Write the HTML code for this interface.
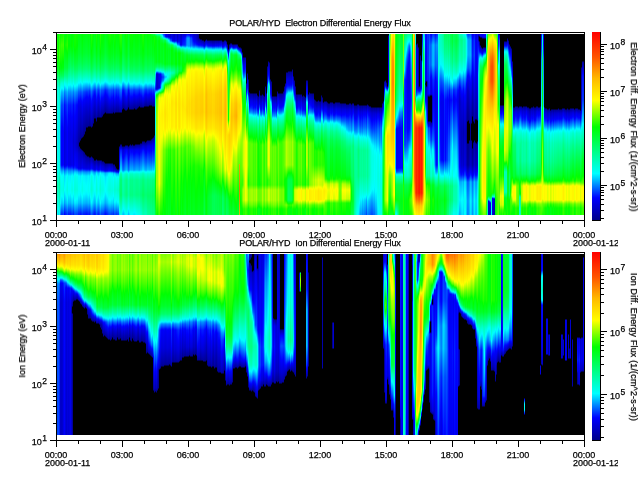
<!DOCTYPE html><html><head><meta charset="utf-8"><title>POLAR/HYD</title><style>
html,body{margin:0;padding:0;background:#fff}
body{width:640px;height:480px;position:relative;overflow:hidden;font-family:"Liberation Sans",sans-serif;font-size:9px;color:#000}
b{position:absolute;background:#000;display:block}
.sp{position:absolute;overflow:hidden}
.sp i{position:absolute;top:0;height:100%;display:block}
.t{position:absolute;white-space:nowrap;line-height:12px;font-size:9px;will-change:transform;-webkit-text-stroke:.25px #000}
.t sup{font-size:8.5px;line-height:0;vertical-align:4.5px;margin-left:.5px}
.c{width:58px;text-align:center}
.r{width:30px;text-align:right}
.v{transform-origin:50% 50%}
.cb{position:absolute;width:8px;height:188px;background:linear-gradient(to top,#000089 0,#00f 11.76%,#0ff 24.7%,#0f0 49.4%,#ff0 63.5%,#ffb900 75.3%,#ff5400 86.7%,#f00 100%)}
.ti{position:absolute;left:120px;width:400px;text-align:center;white-space:pre;line-height:12px;letter-spacing:-.1px;will-change:transform;-webkit-text-stroke:.25px #000}
</style></head><body><div class="sp" style="left:57px;top:34px;width:527px;height:181px"><i style="left:0px;width:1px;background:linear-gradient(#0cff00 0,#30ff00 21px,#0f0 29px,#00ff18 36px,#00ff9c 48px,#00ffd2 54px,#00fff0 101px,#00ffe2 137px,#00ffa9 151px,#00ffd3 169px,#00fffb 180px)"></i><i style="left:1px;width:1px;background:linear-gradient(#00ff10 0,#05ff00 19px,#09ff00 21px,#00ff09 25px,#00ff2f 36px,#00ffb2 48px,#00ffe9 54px,#00faff 88px,#00f0ff 99px,#00fff9 137px,#00ffbf 151px,#00ffe9 169px,#00feff 175px,#00dbff 180px)"></i><i style="left:2px;width:1px;background:linear-gradient(#2f0 0,#46ff00 21px,#00ff01 33px,#00ff0c 36px,#00ff8f 48px,#00ffc5 54px,#00ffe3 101px,#00ffd6 137px,#00ff9c 151px,#00ffc6 169px,#00ffef 180px)"></i><i style="left:3px;width:1px;background:linear-gradient(#04ff00 0,#2bff00 12px,#1cff00 22px,#00ff03 30px,#00ff15 35px,#00ff6c 43px,#00ffcd 50px,#00fffd 56px,#00ceff 63px,#009bff 72px,#0061ff 98px,#0067ff 131px,#00e5ff 138px,#00fffd 140px,#00ffeb 143px,#00ffd6 153px,#00ffe0 159px,#00faff 169px,#007cff 180px)"></i><i style="left:4px;width:1px;background:linear-gradient(#0bff00 0,#3fff00 11px,#00ff03 31px,#00ff09 34px,#00ff5a 42px,#00ffd3 49px,#00fcff 54px,#00b7ff 58px,#0040ff 71px,#0000fd 93px,#0000f8 131px,#000fff 132px,#00a4ff 137px,#00f3ff 141px,#00fffb 142px,#00ffe6 156px,#00fffe 162px,#0cf 169px,#002eff 180px)"></i><i style="left:5px;width:1px;background:linear-gradient(#0cff00 0,#3cff00 11px,#00ff03 28px,#0f1 34px,#00ff61 42px,#00ffd4 49px,#00fcff 54px,#00b7ff 58px,#0041ff 71px,#0000fd 93px,#0000f8 131px,#0010ff 132px,#00a7ff 137px,#00f5ff 141px,#00fff8 143px,#00ffe5 156px,#00fbff 163px,#00ceff 169px,#0030ff 180px)"></i><i style="left:6px;width:1px;background:linear-gradient(#1bff00 0,#47ff00 11px,#00ff01 28px,#00ff12 34px,#00ff5f 42px,#0fc 49px,#00faff 55px,#00c7ff 58px,#0051ff 71px,#0002ff 97px,#0002ff 131px,#00b9ff 137px,#00f4ff 140px,#00fffa 141px,#00ffef 143px,#00ffdb 156px,#0ff 165px,#00e0ff 169px,#0043ff 180px)"></i><i style="left:7px;width:1px;background:linear-gradient(#00ff15 0,#00ff01 12px,#00ff3e 34px,#00ff89 42px,#00fff1 49px,#00f8ff 51px,#0082ff 58px,#000cff 71px,#0000fb 77px,#00d 99px,#00d 131px,#0000fc 133px,#0076ff 137px,#00d8ff 142px,#0ff 156px,#009dff 169px,#00f 180px)"></i><i style="left:8px;width:1px;background:linear-gradient(#00ff0b 0,#05ff00 7px,#12ff00 11px,#00ff02 15px,#00ff3c 34px,#00ff85 42px,#00fff0 50px,#00faff 52px,#0096ff 58px,#0020ff 71px,#0000fc 83px,#0000e7 100px,#0000e7 131px,#0000f7 132px,#000fff 133px,#008cff 137px,#0ef 142px,#00fffc 150px,#00fff7 157px,#00f8ff 160px,#00b3ff 169px,#0016ff 180px)"></i><i style="left:9px;width:1px;background:linear-gradient(#00ff02 0,#1dff00 11px,#00ff03 17px,#00ff3d 34px,#00ff83 42px,#00ffe9 50px,#00f8ff 53px,#00a6ff 58px,#0030ff 71px,#0000fe 87px,#0000ef 100px,#0000ef 131px,#00f 132px,#009eff 137px,#00fffe 142px,#00ffea 156px,#00faff 162px,#00c5ff 169px,#0027ff 180px)"></i><i style="left:10px;width:1px;background:linear-gradient(#10ff00 0,#2dff00 11px,#00ff03 19px,#00ff3a 34px,#00ff8b 43px,#00ffde 50px,#00fdff 54px,#00bcff 58px,#0046ff 71px,#0000fe 94px,#0000fa 131px,#0036ff 133px,#00b6ff 137px,#00fffc 141px,#00fff0 143px,#0fd 156px,#00fbff 165px,#0df 169px,#003fff 180px)"></i><i style="left:11px;width:1px;background:linear-gradient(#00ff0d 0,#00ff03 12px,#00ff59 34px,#00ffa7 43px,#00fff5 50px,#00fffe 51px,#0091ff 58px,#001bff 71px,#0000fc 81px,#0000e4 99px,#0000e4 131px,#0000f5 132px,#000cff 133px,#008dff 137px,#00efff 142px,#00fffb 150px,#00fff7 157px,#00f8ff 160px,#00b4ff 169px,#0016ff 180px)"></i><i style="left:12px;width:1px;background:linear-gradient(#00ff0c 0,#00ff03 12px,#00ff60 34px,#00ffab 43px,#00fffc 51px,#0094ff 58px,#001eff 71px,#0000fd 82px,#0000e6 100px,#0000e6 131px,#0000f7 132px,#0010ff 133px,#0092ff 137px,#00f5ff 142px,#00fffa 149px,#00fff4 157px,#00feff 160px,#00baff 169px,#001cff 180px)"></i><i style="left:13px;width:1px;background:linear-gradient(#00ff10 0,#00ff0a 12px,#00ff68 33px,#00ffab 42px,#00fff9 50px,#00faff 51px,#008cff 58px,#0016ff 71px,#0000fc 80px,#0000e2 99px,#0000e2 131px,#0008ff 133px,#008cff 137px,#0ef 142px,#00fffc 150px,#00fff7 157px,#0ff 159px,#00b3ff 169px,#0016ff 180px)"></i><i style="left:14px;width:1px;background:linear-gradient(#00ff05 0,#00ff01 12px,#00ff52 31px,#00ff8f 40px,#00fff9 51px,#00faff 52px,#009aff 58px,#02f 71px,#0000fd 83px,#0000e6 101px,#0000ec 131px,#0000fb 132px,#03f 134px,#009bff 137px,#00fffc 142px,#00ffe8 156px,#00feff 162px,#00c9ff 169px,#002bff 180px)"></i><i style="left:15px;width:1px;background:linear-gradient(#0f0 0,#07ff00 11px,#00ff0e 16px,#00ff4d 31px,#00ff84 39px,#00feff 52px,#009cff 58px,#0021ff 71px,#0000fc 83px,#0000e0 106px,#0000e8 117px,#0000f0 131px,#0000fd 132px,#002fff 134px,#009eff 137px,#00f8ff 141px,#00fff5 144px,#00ffe3 156px,#0ff 163px,#00d2ff 169px,#0034ff 180px)"></i><i style="left:16px;width:1px;background:linear-gradient(#00ff0d 0,#00ff0f 12px,#00ff50 29px,#00ff7a 36px,#00ffb8 43px,#0ff 50px,#007bff 58px,#0000fe 71px,#0000ca 107px,#0000d2 115px,#0000e2 131px,#0000f9 133px,#000aff 134px,#007fff 137px,#00b3ff 139px,#00f4ff 142px,#00fffb 149px,#00fff4 157px,#00fdff 160px,#00b9ff 169px,#001bff 180px)"></i><i style="left:17px;width:1px;background:linear-gradient(#12ff00 0,#09ff00 12px,#00ff06 16px,#00ff3e 30px,#00ff63 36px,#00ffa2 43px,#00fffc 52px,#00a0ff 58px,#0020ff 71px,#0000fc 83px,#0000d8 109px,#0000df 114px,#0000f0 122px,#0000f8 131px,#0005ff 132px,#002aff 134px,#00c7ff 138px,#00f4ff 140px,#00fff9 141px,#0fe 142px,#00ffd9 156px,#00fcff 166px,#00e5ff 169px,#0047ff 180px)"></i><i style="left:18px;width:1px;background:linear-gradient(#16ff00 0,#09ff00 12px,#00ff05 16px,#00ff3c 30px,#00ff61 36px,#00ffa1 43px,#00fff3 51px,#00fffc 52px,#009dff 58px,#001bff 71px,#0000fd 81px,#0000d2 109px,#0000d6 113px,#0000ed 120px,#0005ff 132px,#02f 134px,#00caff 138px,#00f7ff 140px,#00ffeb 142px,#00ffd7 156px,#00fffe 166px,#00eaff 169px,#004cff 180px)"></i><i style="left:19px;width:1px;background:linear-gradient(#0eff00 0,#00ff06 14px,#00ff3b 29px,#0f6 36px,#00ffa8 43px,#00fffb 51px,#00e4ff 53px,#008dff 58px,#0008ff 71px,#0000f8 78px,#0000c4 109px,#0000c9 113px,#0000e4 119px,#0000fa 132px,#000dff 134px,#00beff 138px,#00fffc 141px,#00fff0 142px,#00ffdb 156px,#0ff 165px,#00e1ff 169px,#0043ff 180px)"></i><i style="left:20px;width:1px;background:linear-gradient(#0cff00 0,#00ff04 11px,#00ff2a 25px,#00ff5f 35px,#0fa 43px,#00fff6 50px,#0ff 51px,#0084ff 58px,#0000fd 71px,#0000c5 102px,#00b 109px,#0000c1 113px,#0000df 119px,#0000fb 133px,#0000fe 134px,#00baff 138px,#00fffd 141px,#00fff1 142px,#00ffdc 156px,#00fdff 165px,#00dfff 169px,#0041ff 180px)"></i><i style="left:21px;width:1px;background:linear-gradient(#00ff0b 0,#00ff29 19px,#00ff4e 29px,#00ff70 35px,#00ffbe 43px,#00fcff 49px,#005bff 58px,#0000fd 67px,#0000e5 72px,#0000b3 100px,#0000a1 108px,#0000a1 112px,#0000cb 119px,#0000e7 134px,#0002ff 135px,#0096ff 138px,#00f8ff 142px,#00fff1 154px,#00fff2 157px,#00faff 161px,#00bdff 169px,#0020ff 180px)"></i><i style="left:22px;width:1px;background:linear-gradient(#00ff0b 0,#00ff29 19px,#00ff4e 29px,#00ff71 35px,#00ffbe 43px,#00fcff 49px,#005bff 58px,#0000fd 67px,#0000e3 73px,#0000b0 99px,#000097 107px,#00008a 108px,#000 109px,#000 112px,#00008d 113px,#0000ba 117px,#0000c8 120px,#0000e7 134px,#0002ff 135px,#0096ff 138px,#00f8ff 142px,#00fff2 153px,#00fff2 157px,#00faff 161px,#00bdff 169px,#001fff 180px)"></i><i style="left:23px;width:1px;background:linear-gradient(#00ff12 0,#00ff30 19px,#0f5 29px,#0f7 35px,#00ffc5 43px,#00fffe 48px,#004eff 58px,#0003ff 65px,#0000dc 73px,#0000a3 99px,#00008a 106px,#000 107px,#000 114px,#000093 115px,#0000b8 118px,#0000e0 134px,#0000f9 135px,#0026ff 136px,#0089ff 138px,#00ebff 142px,#00fffc 151px,#00fff9 157px,#00f4ff 160px,#00b0ff 169px,#0013ff 180px)"></i><i style="left:24px;width:1px;background:linear-gradient(#00ff09 0,#00ff27 19px,#00ff4c 29px,#00ff6f 35px,#00ffbc 43px,#00feff 49px,#0059ff 58px,#0000fe 67px,#0000e4 73px,#0000a6 99px,#000097 103px,#00008d 104px,#000 105px,#000 115px,#000090 116px,#0000b2 118px,#0000e0 131px,#0000e9 134px,#0005ff 135px,#09f 138px,#00fcff 142px,#00fff0 157px,#00fdff 161px,#00c1ff 169px,#0023ff 180px)"></i><i style="left:25px;width:1px;background:linear-gradient(#0f0 0,#00ff1e 19px,#00ff43 29px,#0f6 35px,#00ffb3 43px,#00fbff 50px,#0065ff 58px,#0002ff 68px,#0000de 79px,#0000a8 99px,#009 103px,#000 104px,#000 116px,#000096 117px,#0000ab 118px,#0000d7 126px,#0000f1 134px,#0016ff 135px,#0af 138px,#00f4ff 141px,#00fff8 142px,#00ffe3 156px,#0ff 163px,#00d1ff 169px,#0034ff 180px)"></i><i style="left:26px;width:1px;background:linear-gradient(#00ff0d 0,#00ff2b 19px,#00ff50 29px,#00ff73 35px,#00ffc0 43px,#00fffa 48px,#00e2ff 50px,#0048ff 58px,#0000fd 66px,#00d 74px,#00009a 98px,#00008b 102px,#000 103px,#000 117px,#000090 118px,#0000c4 125px,#0000e5 134px,#0000fe 135px,#0092ff 138px,#00f4ff 142px,#00fffa 149px,#00fff4 157px,#00feff 160px,#00b9ff 169px,#001cff 180px)"></i><i style="left:27px;width:1px;background:linear-gradient(#00ff0e 0,#00ff2c 19px,#00ff51 29px,#00ff73 35px,#00ffc1 43px,#00fffb 48px,#00dfff 50px,#0041ff 58px,#0002ff 65px,#0000d6 76px,#000094 98px,#00008c 100px,#000 101px,#000 118px,#00008a 119px,#0000bc 124px,#0000e4 134px,#0000fd 135px,#0090ff 138px,#00f3ff 142px,#00fffb 149px,#00fff5 157px,#00fcff 160px,#00b8ff 169px,#001aff 180px)"></i><i style="left:28px;width:1px;background:linear-gradient(#0f1 0,#00ff2f 19px,#00ff54 29px,#0f7 35px,#00ffc4 43px,#0ff 48px,#0037ff 58px,#00f 64px,#0000d3 75px,#00009c 93px,#00008a 97px,#000 98px,#000 120px,#00008f 121px,#0000b6 125px,#0000e0 134px,#0000f7 135px,#0023ff 136px,#008aff 138px,#00ecff 142px,#00fffb 151px,#00fff8 157px,#00f6ff 160px,#00b1ff 169px,#0014ff 180px)"></i><i style="left:29px;width:1px;background:linear-gradient(#00ff13 0,#00ff31 19px,#00ff57 29px,#00ff79 35px,#00ffc6 43px,#00fbff 48px,#002fff 58px,#00f 63px,#00c 76px,#00009a 92px,#000091 93px,#000 94px,#000 121px,#000089 122px,#0000a7 124px,#00d 134px,#0000f1 135px,#001bff 136px,#0085ff 138px,#00e8ff 142px,#00fffc 152px,#00fffa 157px,#00f1ff 160px,#00adff 169px,#000fff 180px)"></i><i style="left:30px;width:1px;background:linear-gradient(#00ff10 0,#00ff2e 19px,#00ff53 29px,#00ff75 35px,#00ffc3 43px,#00fffe 48px,#0032ff 58px,#0001ff 63px,#0000ca 77px,#009 92px,#00008c 93px,#000 94px,#000 122px,#000092 123px,#0000a4 124px,#0000db 133px,#0000e0 134px,#0000f2 135px,#001eff 136px,#008dff 138px,#00efff 142px,#00fffc 150px,#00fff7 157px,#00f8ff 160px,#00b4ff 169px,#0016ff 180px)"></i><i style="left:31px;width:1px;background:linear-gradient(#00ff0a 0,#00ff28 19px,#00ff4d 29px,#00ff70 35px,#00ffbd 43px,#00fff8 48px,#00f6ff 49px,#0049ff 57px,#0000fe 64px,#0000c3 80px,#009 92px,#000 93px,#000 122px,#00008e 123px,#0000a2 124px,#0000d4 131px,#0000e4 134px,#0000f4 135px,#0024ff 136px,#0097ff 138px,#00faff 142px,#00fff1 157px,#00fbff 161px,#00bfff 169px,#0021ff 180px)"></i><i style="left:32px;width:1px;background:linear-gradient(#00ff12 0,#00ff30 19px,#0f5 29px,#00ff78 35px,#00ffc5 43px,#00fcff 48px,#0034ff 57px,#0000fd 62px,#0000c2 77px,#00008c 92px,#000 93px,#000 123px,#000092 124px,#0000cb 131px,#0000dc 134px,#0000e9 135px,#01f 136px,#08f 138px,#00eaff 142px,#00fffd 151px,#00fff9 157px,#00f3ff 160px,#00afff 169px,#0012ff 180px)"></i><i style="left:33px;width:1px;background:linear-gradient(#01ff00 0,#00ff1d 19px,#00ff43 29px,#00ff65 35px,#00ffb2 43px,#00fffa 49px,#00dbff 51px,#0053ff 57px,#0000fd 65px,#000098 92px,#000 93px,#000 123px,#00009d 124px,#0000d5 130px,#0000f8 135px,#0030ff 136px,#00abff 138px,#00f5ff 141px,#00fff6 143px,#00ffe3 156px,#00fffe 163px,#00d3ff 169px,#0035ff 180px)"></i><i style="left:34px;width:1px;background:linear-gradient(#24ff00 0,#00ff03 17px,#00ff2f 29px,#00ff51 35px,#00ff9f 43px,#0ff 51px,#0074ff 57px,#000bff 67px,#0000f9 70px,#0000ab 91px,#0000a6 92px,#00008c 93px,#000 94px,#000 122px,#00008d 123px,#0000a8 124px,#0000e6 130px,#0001ff 134px,#0012ff 135px,#00d1ff 138px,#00fffd 140px,#00ffe3 142px,#00ffcf 156px,#00fffe 168px,#00eaff 170px,#005bff 180px)"></i><i style="left:35px;width:1px;background:linear-gradient(#1f0 0,#00ff04 11px,#00ff1d 22px,#00ff49 32px,#00ff76 38px,#00ffb5 44px,#00fffe 50px,#005bff 57px,#0003ff 65px,#0000a1 90px,#000097 92px,#000 93px,#000 123px,#000097 124px,#0000da 130px,#0000fb 135px,#007cff 137px,#00bdff 138px,#00efff 140px,#00fffb 141px,#0fe 142px,#00ffd9 156px,#00fbff 166px,#00e5ff 169px,#0047ff 180px)"></i><i style="left:36px;width:1px;background:linear-gradient(#00ff07 0,#00ff25 19px,#00ff4a 29px,#00ff6d 35px,#00ffba 43px,#00fff7 48px,#00f7ff 49px,#0039ff 57px,#0003ff 62px,#0000a3 84px,#00008c 89px,#000 90px,#000 124px,#000089 125px,#0000c6 130px,#0000ea 135px,#01f 136px,#0098ff 138px,#00cfff 140px,#00fdff 142px,#00ffea 156px,#00f9ff 162px,#00c4ff 169px,#0026ff 180px)"></i><i style="left:37px;width:1px;background:linear-gradient(#00ff13 0,#00ff31 19px,#00ff56 29px,#00ff78 35px,#00ffc6 43px,#00fff6 47px,#00f8ff 48px,#02f 57px,#0002ff 60px,#0000a6 80px,#00008f 84px,#000 85px,#000 126px,#000096 127px,#0000c9 132px,#00d 135px,#0000f8 136px,#0038ff 137px,#007dff 138px,#00a3ff 139px,#00e6ff 142px,#00fffd 151px,#00fffa 157px,#00f2ff 160px,#00aeff 169px,#01f 180px)"></i><i style="left:38px;width:1px;background:linear-gradient(#00ff0b 0,#00ff29 19px,#00ff4f 29px,#00ff71 35px,#00ffbe 43px,#00fffb 48px,#00bcff 51px,#0041ff 56px,#0024ff 58px,#0000fc 62px,#00009b 83px,#00008e 84px,#000 85px,#000 126px,#009 127px,#0000ce 132px,#0000e3 135px,#0000fb 136px,#0086ff 138px,#00b3ff 139px,#00f1ff 142px,#00fffc 147px,#00fff3 157px,#00f9ff 161px,#00bcff 169px,#001eff 180px)"></i><i style="left:39px;width:1px;background:linear-gradient(#1bff00 0,#00ff02 14px,#00ff2e 28px,#00ff56 35px,#00ffa3 43px,#00fffb 50px,#00d5ff 52px,#0071ff 56px,#0042ff 60px,#0003ff 66px,#0000b1 83px,#00008f 85px,#00008b 87px,#000 88px,#000 125px,#009 126px,#00b 128px,#0000ef 133px,#0000fd 135px,#0024ff 136px,#00b4ff 138px,#00e8ff 139px,#00fcff 140px,#00ffe7 143px,#00ffd3 156px,#0ff 167px,#00e1ff 170px,#0052ff 180px)"></i><i style="left:40px;width:1px;background:linear-gradient(#0f0 0,#00ff1e 19px,#00ff43 29px,#0f6 35px,#00ffb3 43px,#00fffe 49px,#0050ff 56px,#0003ff 63px,#00009c 83px,#000 84px,#000 126px,#00009a 127px,#0000de 133px,#0000ec 135px,#0000fe 136px,#0091ff 138px,#0cf 139px,#00fffd 142px,#00ffe3 156px,#0ff 163px,#00d1ff 169px,#0034ff 180px)"></i><i style="left:41px;width:1px;background:linear-gradient(#00ff0c 0,#00ff2a 19px,#00ff4f 29px,#00ff72 35px,#00ffbf 43px,#00fffc 48px,#0037ff 56px,#0001ff 61px,#00008c 83px,#000 84px,#000 126px,#00008b 127px,#0000d2 133px,#00e 136px,#002bff 137px,#0076ff 138px,#00b8ff 139px,#00f7ff 143px,#00fff7 151px,#00fff3 157px,#0ff 160px,#0bf 169px,#001eff 180px)"></i><i style="left:42px;width:1px;background:linear-gradient(#05ff00 0,#00ff1b 19px,#00ff40 29px,#00ff63 35px,#00ffb0 43px,#00fffc 49px,#009eff 53px,#0050ff 56px,#0000fe 64px,#000095 83px,#000 84px,#000 126px,#000094 127px,#0000df 133px,#0000f8 136px,#0040ff 137px,#00d5ff 139px,#00fffc 142px,#00ffe0 156px,#00fdff 164px,#00d7ff 169px,#0039ff 180px)"></i><i style="left:43px;width:1px;background:linear-gradient(#2aff00 0,#00ff03 18px,#00ff2b 29px,#00ff4e 35px,#00ff9b 43px,#00fff4 50px,#00f9ff 51px,#0076ff 56px,#0000fd 68px,#0000a4 83px,#000 84px,#000 126px,#0000a4 127px,#0000eb 132px,#0004ff 135px,#0013ff 136px,#0ff 139px,#00ffde 144px,#00ffcb 156px,#0ff 169px,#0062ff 180px)"></i><i style="left:44px;width:1px;background:linear-gradient(#0aff00 0,#00ff06 9px,#00ff1b 20px,#00ff43 30px,#00ff69 36px,#00ffad 43px,#00fff9 49px,#00f0ff 50px,#0053ff 56px,#0004ff 64px,#00008e 83px,#000 84px,#000 126px,#00008e 127px,#0000d6 132px,#0000f6 136px,#0038ff 137px,#0df 139px,#00faff 141px,#00ffef 145px,#0fd 156px,#00fbff 165px,#0df 169px,#003fff 180px)"></i><i style="left:45px;width:1px;background:linear-gradient(#09ff00 0,#00ff07 9px,#00ff1c 20px,#00ff43 30px,#00ff6a 36px,#00ffae 43px,#00fffa 49px,#00efff 50px,#0052ff 56px,#0003ff 64px,#0000a6 79px,#00008d 82px,#000 83px,#000 127px,#000094 128px,#0000d2 132px,#0000f5 136px,#0031ff 137px,#00dbff 139px,#00f9ff 141px,#00ffef 145px,#00ffde 156px,#00faff 165px,#00dbff 169px,#003eff 180px)"></i><i style="left:46px;width:1px;background:linear-gradient(#01ff00 0,#00ff1d 19px,#00ff43 29px,#00ff65 35px,#00ffb2 43px,#00fffe 49px,#0049ff 56px,#0004ff 63px,#0000a0 79px,#000094 80px,#000 81px,#000 127px,#000089 128px,#0000cb 132px,#0000ef 136px,#0021ff 137px,#00d3ff 139px,#0ff 142px,#00fff1 147px,#00ffe3 156px,#00fffe 163px,#00d3ff 169px,#0035ff 180px)"></i><i style="left:47px;width:1px;background:linear-gradient(#00ff0b 0,#00ff29 19px,#00ff4f 29px,#00ff71 35px,#00ffbe 43px,#00fffc 48px,#0032ff 56px,#0001ff 61px,#0000a1 77px,#000092 79px,#000 80px,#000 128px,#00008b 129px,#0000c7 133px,#0000e3 136px,#0004ff 137px,#00bcff 139px,#00f7ff 143px,#00fff6 151px,#00fff2 157px,#00f9ff 161px,#00bcff 169px,#001eff 180px)"></i><i style="left:48px;width:1px;background:linear-gradient(#00ff15 0,#0f3 19px,#00ff58 29px,#00ff7b 35px,#00ffc8 43px,#00fff8 47px,#00f1ff 48px,#001fff 56px,#0002ff 59px,#0000b7 72px,#00008e 78px,#000 79px,#000 129px,#000091 130px,#0000c7 134px,#0000d9 136px,#0000f4 137px,#004aff 138px,#00a9ff 139px,#00e4ff 143px,#00fffc 154px,#00fdff 158px,#00a9ff 169px,#000cff 180px)"></i><i style="left:49px;width:1px;background:linear-gradient(#00ff0d 0,#00ff2b 19px,#00ff50 29px,#00ff73 35px,#00ffc0 43px,#00fffe 48px,#002fff 56px,#0000fe 61px,#0000a4 76px,#00008d 79px,#000 80px,#000 129px,#000096 130px,#0000ce 134px,#0000e0 136px,#0000f9 137px,#0057ff 138px,#00b9ff 139px,#00f4ff 143px,#00fffa 150px,#00fff4 157px,#00fdff 160px,#00b9ff 169px,#001bff 180px)"></i><i style="left:50px;width:1px;background:linear-gradient(#00ff06 0,#00ff24 19px,#00ff49 29px,#00ff6c 35px,#00ffb9 43px,#00fff7 48px,#00f4ff 49px,#003cff 56px,#0001ff 62px,#00a 76px,#000091 79px,#000 80px,#000 129px,#009 130px,#0000d4 134px,#0000e6 136px,#0000fc 137px,#00c6ff 139px,#00fffe 143px,#00ffe9 156px,#00fbff 162px,#00c6ff 169px,#0028ff 180px)"></i><i style="left:51px;width:1px;background:linear-gradient(#09ff00 0,#00ff06 9px,#00ff1c 20px,#00ff43 30px,#00ff69 36px,#00ffae 43px,#00fff9 49px,#00f0ff 50px,#0052ff 56px,#0003ff 64px,#0000a3 78px,#00009a 79px,#000 80px,#000 129px,#0000a0 130px,#0000e7 135px,#000aff 137px,#00dcff 139px,#00f9ff 141px,#00ffef 145px,#00ffde 156px,#00faff 165px,#00dcff 169px,#003eff 180px)"></i><i style="left:52px;width:1px;background:linear-gradient(#14ff00 0,#00ff04 12px,#0f2 24px,#00ff5a 35px,#00ffa8 43px,#00fbff 50px,#005dff 56px,#0000fc 66px,#0000a7 78px,#00009e 79px,#000 80px,#000 129px,#0000a3 130px,#0000e2 134px,#0000f5 136px,#000fff 137px,#00e7ff 139px,#00fffc 141px,#00ffeb 144px,#00ffd8 156px,#00feff 166px,#00e7ff 169px,#004aff 180px)"></i><i style="left:53px;width:1px;background:linear-gradient(#14ff00 0,#00ff04 12px,#0f2 24px,#00ff5a 35px,#00ffa8 43px,#00fbff 50px,#005dff 56px,#0000fc 66px,#0000a5 78px,#00009c 79px,#000 80px,#000 129px,#00009f 130px,#0000e1 134px,#0000f4 136px,#0008ff 137px,#00e7ff 139px,#00fffc 141px,#00ffeb 144px,#00ffd8 156px,#00feff 166px,#00e7ff 169px,#004aff 180px)"></i><i style="left:54px;width:1px;background:linear-gradient(#09ff00 0,#00ff07 9px,#00ff1c 20px,#00ff43 30px,#00ff6a 36px,#00ffae 43px,#00fffa 49px,#00efff 50px,#0052ff 56px,#0003ff 64px,#0000a7 77px,#000094 79px,#000 80px,#000 129px,#000096 130px,#0000da 134px,#0000fa 137px,#0069ff 138px,#00dbff 139px,#00f9ff 141px,#00ffef 145px,#00ffde 156px,#00faff 165px,#00dbff 169px,#003eff 180px)"></i><i style="left:55px;width:1px;background:linear-gradient(#0aff00 0,#00ff06 9px,#00ff1b 20px,#00ff42 30px,#00ff69 36px,#00ffad 43px,#00fff9 49px,#00f1ff 50px,#0053ff 56px,#0004ff 64px,#0000bf 74px,#000093 79px,#000 80px,#000 129px,#000093 130px,#0000d9 134px,#0000f7 137px,#0067ff 138px,#0df 139px,#00faff 141px,#00ffef 145px,#0fd 156px,#00fbff 165px,#0df 169px,#003fff 180px)"></i><i style="left:56px;width:1px;background:linear-gradient(#00ff07 0,#00ff25 19px,#00ff4b 29px,#00ff6d 35px,#00ffba 43px,#00fff8 48px,#00f2ff 49px,#003aff 56px,#0000fe 62px,#0000c6 71px,#00008e 78px,#000 79px,#000 130px,#00008a 131px,#0000e2 137px,#003aff 138px,#00adff 139px,#00c9ff 140px,#00fdff 143px,#00ffe5 156px,#00fffe 162px,#00caff 169px,#0029ff 180px)"></i><i style="left:57px;width:1px;background:linear-gradient(#14ff00 0,#00ff04 12px,#0f2 24px,#00ff5a 35px,#00ffa8 43px,#00fbff 50px,#005dff 56px,#0000fc 66px,#00009f 78px,#00008e 79px,#000 80px,#000 130px,#000090 131px,#0000c4 135px,#0000ec 137px,#004aff 138px,#00b9ff 139px,#00e4ff 140px,#00f8ff 141px,#00ffe8 144px,#00ffcd 156px,#00fdff 168px,#00d7ff 171px,#0050ff 180px)"></i><i style="left:58px;width:1px;background:linear-gradient(#09ff00 0,#00ff06 9px,#00ff1c 20px,#00ff43 30px,#00ff69 36px,#00ffae 43px,#00fff9 49px,#00f0ff 50px,#0052ff 56px,#0003ff 64px,#0000ca 72px,#000097 78px,#000 79px,#000 132px,#00008f 133px,#000097 134px,#0000bf 136px,#0000de 137px,#002bff 138px,#0097ff 139px,#00d0ff 140px,#00fcff 142px,#00ffea 145px,#00ffce 156px,#00fffe 167px,#00f0ff 169px,#0048ff 180px)"></i><i style="left:59px;width:1px;background:linear-gradient(#00ff05 0,#00ff23 19px,#00ff48 29px,#00ff6b 35px,#00ffb8 43px,#00fff6 48px,#00f6ff 49px,#003eff 56px,#0003ff 62px,#00d 68px,#00008c 78px,#000 79px,#000 134px,#00008f 135px,#0000a6 136px,#0000cb 137px,#0003ff 138px,#006cff 139px,#00b3ff 140px,#00fdff 143px,#00fff0 146px,#00ffd3 156px,#00fcff 166px,#00e2ff 169px,#0038ff 180px)"></i><i style="left:60px;width:1px;background:linear-gradient(#02ff00 0,#00ff1d 19px,#00ff42 29px,#00ff65 35px,#00ffb2 43px,#00fffe 49px,#004aff 56px,#0000fc 64px,#0000a4 76px,#000090 78px,#000 79px,#000 135px,#00009d 136px,#0000fc 138px,#0061ff 139px,#00b5ff 140px,#00ebff 142px,#00fffb 143px,#0fe 144px,#00ffc8 156px,#00fdff 168px,#00d5ff 171px,#0046ff 180px)"></i><i style="left:61px;width:1px;background:linear-gradient(#0f0 0,#00ff1e 19px,#00ff43 29px,#0f6 35px,#00ffb3 43px,#0ff 49px,#0047ff 56px,#0002ff 63px,#0000da 69px,#00008d 78px,#000 79px,#000 135px,#00008d 136px,#0000f1 138px,#0047ff 139px,#0af 140px,#00fffd 143px,#0fe 144px,#00ffc4 156px,#00fffe 168px,#00e9ff 170px,#0047ff 180px)"></i><i style="left:62px;width:1px;background:linear-gradient(#1aff00 0,#00ff03 14px,#00ff2f 28px,#00ff57 35px,#00ffa4 43px,#00fffd 50px,#0064ff 56px,#0002ff 66px,#0000a6 77px,#00009c 78px,#000 79px,#000 112px,#000098 113px,#0000ca 116px,#0002ff 132px,#000fff 134px,#0043ff 136px,#00c7ff 138px,#00fffa 139px,#00ffd8 140px,#00ffa5 145px,#00ff8e 156px,#00ff9a 162px,#00ffed 175px,#00fffc 177px,#00dbff 180px)"></i><i style="left:63px;width:1px;background:linear-gradient(#2dff00 0,#00ff04 19px,#00ff29 29px,#00ff4c 35px,#0f9 43px,#00fdff 51px,#0079ff 56px,#0000fa 68px,#0000ae 77px,#0000a4 78px,#000 79px,#000 110px,#000089 111px,#0000f2 115px,#0016ff 116px,#00dbff 136px,#00fff8 137px,#0fa 140px,#0f7 146px,#00ff6c 161px,#00ffe8 180px)"></i><i style="left:64px;width:1px;background:linear-gradient(#2bff00 0,#00ff05 19px,#00ff2a 29px,#00ff54 36px,#0f9 43px,#00fcff 51px,#07f 56px,#0001ff 67px,#0000b4 76px,#00009f 78px,#000 79px,#000 110px,#00008a 111px,#0000f1 115px,#0014ff 116px,#00d9ff 136px,#00fff9 137px,#00ffac 140px,#00ff78 146px,#00ff6e 161px,#00ffea 180px)"></i><i style="left:65px;width:1px;background:linear-gradient(#00ff14 0,#00ff31 19px,#00ff5b 30px,#00ff80 36px,#00ffc5 43px,#00fff5 47px,#00f8ff 48px,#0021ff 56px,#0003ff 59px,#0000cb 68px,#000093 75px,#000 76px,#000 112px,#000095 113px,#0000de 116px,#0004ff 123px,#0084ff 136px,#00e7ff 138px,#00fff2 139px,#00ffd8 140px,#00ffa5 146px,#00ff9a 161px,#00faff 177px,#00d3ff 180px)"></i><i style="left:66px;width:1px;background:linear-gradient(#00ff1d 0,#00ff39 19px,#00ff63 30px,#00ff87 36px,#00ffcd 43px,#00fffd 47px,#01f 56px,#0000fd 58px,#0000c1 68px,#000091 74px,#000 75px,#000 112px,#00008e 113px,#0000d5 116px,#0000fd 124px,#0073ff 136px,#00d6ff 138px,#00fffb 139px,#00ffe1 140px,#00ffad 146px,#00ffa3 161px,#00fffd 175px,#00c2ff 180px)"></i><i style="left:67px;width:1px;background:linear-gradient(#00ff0f 0,#00ff2b 19px,#00ff54 30px,#00ff78 36px,#00ffca 44px,#00fffc 48px,#09f 52px,#002cff 56px,#0001ff 60px,#0000ce 68px,#000094 75px,#000 76px,#000 112px,#00009c 113px,#0000e3 116px,#0004ff 122px,#008eff 136px,#00f1ff 138px,#00ffed 139px,#00ffd3 140px,#00ff9f 146px,#00ff95 161px,#00fffc 177px,#0df 180px)"></i><i style="left:68px;width:1px;background:linear-gradient(#00ff01 0,#00ff20 20px,#00ff4b 31px,#00ff73 37px,#00ffbc 44px,#00fffb 49px,#00b4ff 52px,#0046ff 56px,#0000fc 63px,#0000a8 74px,#00008e 76px,#000 77px,#000 111px,#000093 112px,#0000f0 116px,#0001ff 119px,#00a8ff 136px,#00daff 137px,#00fff9 138px,#00ffc5 140px,#00ff92 146px,#00ff87 161px,#00fffc 179px,#00f7ff 180px)"></i><i style="left:69px;width:1px;background:linear-gradient(#0fff00 0,#00ff04 10px,#00ff1c 22px,#00ff50 34px,#00ffa5 43px,#00feff 50px,#0058ff 56px,#0001ff 64px,#0000a7 75px,#000095 76px,#000 77px,#000 111px,#00009e 112px,#0000fa 116px,#0009ff 118px,#0bf 136px,#00ecff 137px,#00ffef 138px,#00ffbc 140px,#0f8 146px,#00ff7e 161px,#00fff9 180px)"></i><i style="left:70px;width:1px;background:linear-gradient(#00ff04 0,#0f2 20px,#00ff4c 31px,#00ff73 37px,#00ffc9 45px,#00fffc 49px,#0041ff 56px,#0000fe 62px,#0000b4 72px,#009 75px,#000 76px,#000 111px,#000093 112px,#00e 116px,#0006ff 120px,#00a3ff 136px,#00fffb 138px,#00ffc8 140px,#00ff94 146px,#00ff8a 161px,#0ff 179px,#00f2ff 180px)"></i><i style="left:71px;width:1px;background:linear-gradient(#00ff1e 0,#00ff3c 20px,#0f6 31px,#00ff8d 37px,#00ffef 46px,#00fffb 47px,#0ef 48px,#000eff 56px,#0000fb 58px,#0000ba 68px,#00008f 73px,#000 74px,#000 112px,#000091 113px,#0000d4 116px,#0004ff 125px,#0070ff 136px,#00fffc 139px,#00ffe3 140px,#00ffaf 146px,#00ffa5 161px,#00fffe 175px,#00bfff 180px)"></i><i style="left:72px;width:1px;background:linear-gradient(#00ff0c 0,#00ff29 20px,#00ff58 32px,#00ff79 37px,#00ffdc 46px,#00fff4 48px,#00f7ff 49px,#0031ff 56px,#0004ff 60px,#0000d3 67px,#00008d 75px,#000 76px,#000 111px,#00008e 112px,#0000e6 116px,#00f 121px,#0094ff 136px,#00f6ff 138px,#00ffd0 140px,#00ff9c 146px,#00ff92 161px,#00fdff 178px,#00e2ff 180px)"></i><i style="left:73px;width:1px;background:linear-gradient(#0bff00 0,#00ff06 10px,#00ff1d 22px,#00ff45 32px,#0f6 37px,#00ffd5 47px,#0ff 50px,#0054ff 56px,#0003ff 63px,#0000a6 74px,#00009d 75px,#000 76px,#000 110px,#00008a 111px,#0000f8 116px,#000fff 119px,#00b6ff 136px,#00e8ff 137px,#00fff1 138px,#00ffbe 140px,#00ff8a 146px,#00ff80 161px,#00fffc 180px)"></i><i style="left:74px;width:1px;background:linear-gradient(#06ff00 0,#00ff0e 15px,#00ff38 29px,#00ff68 37px,#00ffd6 47px,#00fbff 50px,#004fff 56px,#0000fe 63px,#000098 75px,#000 76px,#000 111px,#0000a0 112px,#0000f5 116px,#00f 118px,#00b1ff 136px,#00e3ff 137px,#00fff4 138px,#00ffc0 140px,#00ff8d 146px,#00ff83 161px,#00fffe 180px)"></i><i style="left:75px;width:1px;background:linear-gradient(#0aff00 0,#00ff06 10px,#00ff1d 22px,#00ff45 32px,#00ff65 37px,#00ffd4 47px,#00fffe 50px,#0053ff 56px,#00f 63px,#000098 75px,#000 76px,#000 110px,#00008d 111px,#0000f7 116px,#0004ff 118px,#00b5ff 136px,#00e6ff 137px,#00fff2 138px,#00ffbe 140px,#00ff8b 146px,#00ff81 161px,#00fffc 180px)"></i><i style="left:76px;width:1px;background:linear-gradient(#00ff05 0,#00ff24 21px,#00ff4a 31px,#00ff6f 37px,#00ffde 47px,#00fffa 49px,#00ecff 50px,#003eff 56px,#0002ff 61px,#0000c3 69px,#00008c 75px,#000 76px,#000 111px,#009 112px,#0000ec 116px,#0002ff 120px,#00a0ff 136px,#00fffd 138px,#00ffca 140px,#00ff96 146px,#00ff8c 161px,#00fcff 179px,#00efff 180px)"></i><i style="left:77px;width:1px;background:linear-gradient(#00ff07 0,#00ff25 21px,#00ff4b 31px,#00ff6f 37px,#00ffeb 48px,#00fffa 49px,#00cdff 51px,#003bff 56px,#0000fe 61px,#0000b7 70px,#000092 74px,#000 75px,#000 111px,#009 112px,#0000eb 116px,#00f 120px,#009dff 136px,#0ff 138px,#00ffcb 140px,#00ff97 146px,#00ff8d 161px,#00fffb 178px,#00ecff 180px)"></i><i style="left:78px;width:1px;background:linear-gradient(#00ff01 0,#00ff1c 20px,#0f4 31px,#00ff68 37px,#00ffe4 48px,#00f7ff 50px,#0046ff 56px,#0000fd 62px,#00008c 75px,#000 76px,#000 110px,#00008c 111px,#0000f0 116px,#0001ff 119px,#00a8ff 136px,#00d9ff 137px,#00fff9 138px,#00ffc5 140px,#00ff92 146px,#00ff87 161px,#00fffc 179px,#00f7ff 180px)"></i><i style="left:79px;width:1px;background:linear-gradient(#04ff00 0,#00ff19 20px,#00ff41 31px,#00ff65 37px,#00ffe1 48px,#00feff 50px,#004cff 56px,#0002ff 62px,#0000ab 72px,#00008b 75px,#000 76px,#000 110px,#000095 111px,#0000f5 116px,#00f 118px,#00b1ff 136px,#00e2ff 137px,#00fff5 138px,#00ffc2 140px,#00ff8e 146px,#00ff81 161px,#00fff8 180px)"></i><i style="left:80px;width:1px;background:linear-gradient(#0f0 0,#00ff1b 20px,#00ff43 31px,#00ff67 37px,#00ffe3 48px,#00f9ff 50px,#0048ff 56px,#0000fd 62px,#00009a 73px,#00008e 74px,#000 75px,#000 110px,#000098 111px,#0000f4 116px,#0007ff 119px,#00b0ff 136px,#00e0ff 137px,#00fff6 138px,#00ffc4 140px,#00ff8f 146px,#00ff81 161px,#00fff2 180px)"></i><i style="left:81px;width:1px;background:linear-gradient(#00ff04 0,#00ff1f 20px,#00ff47 31px,#00ff6b 37px,#00ffe7 48px,#00fff7 49px,#00f1ff 50px,#0040ff 56px,#0001ff 61px,#0000b5 70px,#000093 73px,#000 74px,#000 110px,#00009a 111px,#0000f1 116px,#0001ff 119px,#0af 136px,#00fffa 138px,#00ffc8 140px,#00ff93 146px,#00ff82 161px,#00ffed 180px)"></i><i style="left:82px;width:1px;background:linear-gradient(#00ff0b 0,#00ff26 20px,#00ff4f 31px,#00ff73 37px,#00ffef 48px,#00fffe 49px,#0032ff 56px,#0000fe 60px,#0000bf 68px,#000098 72px,#000 73px,#000 110px,#000098 111px,#0000eb 116px,#0000fe 120px,#009fff 136px,#00fcff 138px,#00ffd0 140px,#0f9 146px,#00ff87 161px,#00ffec 180px)"></i><i style="left:83px;width:1px;background:linear-gradient(#00ff01 0,#00ff1c 20px,#0f4 31px,#00ff68 37px,#00ffe4 48px,#00f7ff 50px,#0046ff 56px,#0005ff 61px,#0000d1 67px,#0000a0 72px,#00008f 73px,#000 74px,#000 109px,#00008e 110px,#00b 112px,#0000f6 116px,#0001ff 118px,#00abff 135px,#00b6ff 136px,#00e4ff 137px,#00fff5 138px,#00ffc5 140px,#00ff8e 146px,#00ff79 161px,#00ffda 180px)"></i><i style="left:84px;width:1px;background:linear-gradient(#03ff00 0,#00ff19 20px,#00ff41 31px,#00ff65 37px,#00ffe1 48px,#00fdff 50px,#004cff 56px,#0000fe 62px,#0000a1 72px,#00008f 73px,#000 74px,#000 109px,#000098 110px,#0000c3 112px,#0000fa 116px,#0009ff 118px,#0093ff 132px,#00beff 136px,#00ebff 137px,#00fff2 138px,#00ffc2 140px,#00ff8a 146px,#00ff74 161px,#00ffcf 180px)"></i><i style="left:85px;width:1px;background:linear-gradient(#19ff00 0,#00ff03 15px,#00ff25 28px,#00ff59 37px,#00ffd5 48px,#00fff4 50px,#00f7ff 51px,#0064ff 56px,#0000fb 64px,#0000ab 72px,#000098 73px,#000 74px,#000 107px,#00008b 108px,#000093 109px,#0000d5 112px,#0000fb 115px,#001aff 117px,#0098ff 130px,#00d8ff 136px,#00fffc 137px,#00ffb6 140px,#00ff7d 146px,#00ff64 161px,#00ffba 180px)"></i><i style="left:86px;width:1px;background:linear-gradient(#1bff00 0,#00ff03 16px,#00ff2f 30px,#00ff58 37px,#00ffd4 48px,#00f9ff 51px,#0065ff 56px,#0000fb 64px,#00a 72px,#000095 73px,#000 74px,#000 107px,#000092 108px,#00009b 109px,#0000db 112px,#0000fe 115px,#0015ff 116px,#0090ff 129px,#0df 136px,#00fffa 137px,#00ffb5 140px,#00ff7c 146px,#00ff61 161px,#00ffb1 180px)"></i><i style="left:87px;width:1px;background:linear-gradient(#01ff00 0,#00ff1a 20px,#00ff42 31px,#00ff67 37px,#00ffe2 48px,#00fbff 50px,#0049ff 56px,#0006ff 61px,#0000e3 65px,#00009a 72px,#000 73px,#000 107px,#00008a 108px,#000094 109px,#0000d2 112px,#0000fc 116px,#006bff 128px,#00c3ff 136px,#00efff 137px,#00fff1 138px,#00ffc3 140px,#00ff8a 146px,#00ff6d 161px,#00ffb7 180px)"></i><i style="left:88px;width:1px;background:linear-gradient(#00ff0b 0,#00ff25 20px,#00ff4e 31px,#00ff72 37px,#0fe 48px,#00fffd 49px,#0034ff 56px,#0000fe 60px,#0000ba 68px,#00008d 72px,#000 73px,#000 108px,#000090 109px,#00c 112px,#0000f7 117px,#0003ff 119px,#0062ff 129px,#00b1ff 136px,#00fffb 138px,#00ffcf 140px,#00ff94 146px,#00ff75 161px,#00ffba 180px)"></i><i style="left:89px;width:1px;background:linear-gradient(#00ff0c 0,#00ff27 20px,#00ff4f 31px,#00ff74 37px,#00ffef 48px,#0ff 49px,#0030ff 56px,#0000fc 60px,#0000b7 68px,#000089 72px,#000 73px,#000 107px,#00008a 108px,#00a 110px,#0000d0 112px,#0000f6 117px,#0001ff 119px,#05f 128px,#00b0ff 136px,#00fffd 138px,#00ffd1 140px,#00ff95 146px,#00ff74 161px,#00ffb4 180px)"></i><i style="left:90px;width:1px;background:linear-gradient(#0f0 0,#00ff1b 20px,#0f4 31px,#00ff68 37px,#00ffe4 48px,#00f8ff 50px,#0047ff 56px,#0002ff 61px,#0000b8 69px,#000093 72px,#000 73px,#000 106px,#00008e 107px,#0000bc 110px,#0000e1 112px,#00f 116px,#006eff 128px,#00c9ff 136px,#00f2ff 137px,#00fff0 138px,#00ffc5 140px,#00ff89 146px,#00ff69 162px,#00ff9f 180px)"></i><i style="left:91px;width:1px;background:linear-gradient(#00ff03 0,#00ff1e 20px,#00ff46 31px,#00ff6a 37px,#00ffe6 48px,#00fff6 49px,#00f3ff 50px,#0042ff 56px,#0000fd 61px,#0000ab 70px,#00008e 72px,#000 73px,#000 106px,#000091 107px,#0000e4 112px,#0006ff 117px,#006aff 128px,#00c7ff 136px,#00f0ff 137px,#00fff2 138px,#00ffc7 140px,#00ff8b 146px,#00ff68 162px,#00ff9a 180px)"></i><i style="left:92px;width:1px;background:linear-gradient(#00ff08 0,#00ff23 20px,#00ff4b 31px,#00ff70 37px,#00ffeb 48px,#00fffb 49px,#0cf 51px,#0038ff 56px,#00f 60px,#0000c2 67px,#000096 71px,#000 72px,#000 106px,#000091 107px,#0000e4 112px,#0000fe 117px,#0056ff 127px,#00bfff 136px,#00e7ff 137px,#00fff6 138px,#0fc 140px,#00ff8f 146px,#00ff6a 162px,#00ff97 180px)"></i><i style="left:93px;width:1px;background:linear-gradient(#00ff07 0,#00ff21 20px,#00ff4a 31px,#00ff6e 37px,#00ffea 48px,#00fff9 49px,#00ecff 50px,#003bff 56px,#0003ff 60px,#0000d7 65px,#000096 71px,#000 72px,#000 106px,#000097 107px,#0000eb 112px,#0003ff 117px,#005bff 127px,#00c5ff 136px,#00ecff 137px,#00fff4 138px,#00ffcb 140px,#00ff8d 146px,#0f6 162px,#00ff8d 180px)"></i><i style="left:94px;width:1px;background:linear-gradient(#00ff21 0,#00ff0d 3px,#00ff28 21px,#00ff4d 31px,#00ff71 37px,#00ffed 48px,#00fffd 49px,#0035ff 56px,#0000fd 60px,#0000c0 67px,#000092 71px,#000 72px,#000 105px,#000090 106px,#0000ea 112px,#0000fe 117px,#0054ff 127px,#00bfff 136px,#00e6ff 137px,#00fff7 138px,#00ffce 140px,#00ff90 146px,#00ff69 162px,#00ff90 180px)"></i><i style="left:95px;width:1px;background:linear-gradient(#00ff2d 0,#0f0 3px,#00ff1c 21px,#00ff42 31px,#0f6 37px,#00ffe2 48px,#00fcff 50px,#004bff 56px,#0004ff 61px,#0000d5 66px,#00009e 71px,#00008f 72px,#000 73px,#000 104px,#000092 105px,#0000c5 108px,#0000f7 112px,#0007ff 115px,#006aff 127px,#00d5ff 136px,#00fcff 137px,#00ffc3 140px,#00ff85 146px,#00ff5d 162px,#00ff85 180px)"></i><i style="left:96px;width:1px;background:linear-gradient(#00ff4a 0,#00ff05 3px,#0f2 21px,#00ff47 31px,#00ff6b 37px,#00ffe7 48px,#00fff7 49px,#00f1ff 50px,#0040ff 56px,#0008ff 60px,#0000f5 62px,#000098 71px,#000089 72px,#000 73px,#000 103px,#00008d 104px,#0000e5 110px,#00f 115px,#0060ff 127px,#00caff 136px,#00f1ff 137px,#00fff2 138px,#00ffc8 140px,#00ff8a 146px,#00ff63 162px,#00ff8a 180px)"></i><i style="left:97px;width:1px;background:linear-gradient(#00ff51 0,#00ff13 2px,#14ff00 3px,#00ff04 14px,#00ff28 28px,#00ff5c 37px,#00ffd8 48px,#00fff7 50px,#00f2ff 51px,#005eff 56px,#0000fd 63px,#0000a7 71px,#000098 72px,#000 73px,#000 101px,#000098 102px,#0000fd 110px,#007dff 127px,#00e8ff 136px,#00fff7 137px,#00ffb9 140px,#00ff7b 146px,#00ff53 162px,#00ff7b 180px)"></i><i style="left:98px;width:1px;background:linear-gradient(#00ff8a 0,#00ff1e 2px,#00ff0a 3px,#00ff02 8px,#00ff1e 28px,#00ff4f 33px,#00ffa9 37px,#00fff1 39px,#00d5ff 40px,#006dff 49px,#0014ff 55px,#0075ff 57px,#00a9ff 58px,#00edff 59px,#00ffe4 60px,#00ffc0 61px,#00ffb3 66px,#00ffd4 72px,#00fff2 74px,#00ffe7 100px,#00ffc8 102px,#00ff92 111px,#00ff63 132px,#00ff56 136px,#00ff28 141px,#00ff0d 147px,#00ff0a 162px,#00ff37 180px)"></i><i style="left:99px;width:1px;background:linear-gradient(#00ffc3 0,#00ff28 2px,#00ff09 6px,#00ff13 28px,#00ff5c 33px,#00fff6 37px,#09f 38px,#0023ff 39px,#0000d5 40px,#0000d5 55px,#0023ff 56px,#09f 57px,#00fff6 58px,#00ff09 61px,#0aff00 62px,#6fff00 66px,#a5ff00 94px,#a0ff00 152px,#14ff00 180px)"></i><i style="left:100px;width:1px;background:linear-gradient(#00ffd4 0,#00ff4b 2px,#00ff34 3px,#00ff1b 7px,#00ff25 28px,#00ff6d 33px,#00fbff 37px,#0013ff 39px,#0000ce 40px,#0000c7 54px,#0000e0 55px,#0041ff 56px,#00c0ff 57px,#00ffda 58px,#00ff37 60px,#08ff00 61px,#5fff00 64px,#83ff00 66px,#a6ff00 80px,#b5ff00 95px,#9fff00 151px,#02ff00 180px)"></i><i style="left:101px;width:1px;background:linear-gradient(#00ffc7 0,#00ff4f 2px,#00ff2a 3px,#00ff0e 7px,#00ff18 28px,#00ff60 33px,#00ffed 37px,#00afff 38px,#003dff 39px,#0000e4 40px,#0000d7 54px,#0012ff 55px,#09f 56px,#00ffed 57px,#00ff4b 59px,#0fff00 60px,#5f0 61px,#b6ff00 64px,#cdff00 66px,#f3ff00 77px,#faff00 95px,#e1ff00 128px,#d4ff00 150px,#61ff00 169px,#25ff00 180px)"></i><i style="left:102px;width:1px;background:linear-gradient(#00ffc1 0,#00ff26 3px,#00ff07 7px,#00ff12 28px,#00ff5a 33px,#00ffe0 37px,#00caff 38px,#005bff 39px,#0000f4 40px,#0000e0 54px,#0054ff 55px,#00e5ff 56px,#00ffc1 57px,#00ff15 59px,#72ff00 60px,#fffe00 64px,#ffec00 80px,#fbff00 150px,#97ff00 164px,#3bff00 180px)"></i><i style="left:103px;width:1px;background:linear-gradient(#00fff6 0,#00ff71 3px,#00ff2e 6px,#00ff1e 9px,#00ff24 28px,#00ff69 33px,#00ffe8 37px,#00c6ff 38px,#0000fd 40px,#0000f2 44px,#00f 48px,#0032ff 51px,#003fff 54px,#00beff 55px,#00ffdf 56px,#0f5 58px,#00ff0b 59px,#6dff00 60px,#eaff00 64px,#fffd00 70px,#fff500 83px,#faff00 104px,#d5ff00 118px,#bf0 149px,#5aff00 165px,#10ff00 180px)"></i><i style="left:104px;width:1px;background:linear-gradient(#00d8ff 0,#00ffef 1px,#00ff36 6px,#00ff16 10px,#00ff1f 28px,#00ff42 31px,#00ff62 33px,#00ffd9 37px,#00edff 38px,#003aff 40px,#000dff 43px,#0034ff 47px,#00c3ff 51px,#00e5ff 54px,#00ffd3 55px,#00ff27 58px,#26ff00 59px,#90ff00 60px,#faff00 64px,#fff100 81px,#fffa00 98px,#faff00 103px,#bfff00 117px,#96ff00 150px,#42ff00 167px,#0cff00 180px)"></i><i style="left:105px;width:1px;background:linear-gradient(#09f 0,#00d1ff 1px,#00fffa 2px,#00ffdc 3px,#00ff40 6px,#00ff14 10px,#00ff1d 28px,#00ff2c 30px,#00ff5e 33px,#00ffcd 37px,#00fff7 38px,#00beff 39px,#0072ff 40px,#03f 43px,#0072ff 47px,#00e1ff 49px,#00fff2 50px,#00ffd5 51px,#00ffb8 54px,#06ff00 58px,#aeff00 60px,#f1ff00 63px,#fffd00 64px,#fe0 80px,#fff700 96px,#f8ff00 102px,#a4ff00 117px,#72ff00 150px,#21ff00 171px,#03ff00 180px)"></i><i style="left:106px;width:1px;background:linear-gradient(#0041ff 0,#00bdff 3px,#00ffdf 4px,#00ff59 6px,#00ff20 10px,#00ff2e 29px,#0f3 30px,#00ff7e 34px,#00ffcf 37px,#00fff4 38px,#00cfff 39px,#008fff 40px,#003eff 43px,#0096ff 47px,#00e1ff 48px,#00ffe8 49px,#00ff9a 51px,#00ff72 54px,#00ff04 57px,#b4ff00 60px,#dbff00 62px,#f7ff00 64px,#fffb00 69px,#fff400 82px,#fffc00 95px,#e6ff00 100px,#72ff00 116px,#30ff00 152px,#00ff01 169px,#00ff12 180px)"></i><i style="left:107px;width:1px;background:linear-gradient(#0024ff 0,#0076ff 3px,#00fff5 4px,#00ff52 6px,#00ff0c 10px,#00ff1b 30px,#00ff7b 35px,#00fff0 39px,#00e9ff 40px,#0085ff 43px,#00f6ff 47px,#00ffa1 49px,#00ff3f 51px,#00ff0c 54px,#1fff00 55px,#53ff00 56px,#f1ff00 60px,#fffd00 61px,#ffe600 78px,#ffef00 94px,#fffe00 100px,#a4ff00 111px,#75ff00 116px,#00ff01 176px,#00ff05 180px)"></i><i style="left:108px;width:1px;background:linear-gradient(#0000f6 0,#0009ff 2px,#0016ff 3px,#00ceff 4px,#00ffb8 5px,#00ff58 6px,#00ff05 10px,#00ff10 30px,#00ff6c 35px,#00ffe8 40px,#00fffd 41px,#00b4ff 43px,#00f9ff 45px,#00ffde 47px,#00ff2c 50px,#1bff00 51px,#d0ff00 56px,#fffd00 59px,#ffef00 63px,#ffe100 80px,#ffeb00 94px,#fdff00 101px,#8fff00 112px,#63ff00 116px,#17ff00 150px,#00ff03 177px,#00ff05 180px)"></i><i style="left:109px;width:1px;background:linear-gradient(#0000e0 0,#0000f4 3px,#008aff 4px,#00ffe9 5px,#00ff96 6px,#00ff83 7px,#00ff2d 10px,#00ff20 12px,#00ff1a 18px,#00ff20 30px,#00ff7d 35px,#00ffe0 39px,#00fffd 41px,#0cf 43px,#00f2ff 44px,#00fff2 45px,#00ffca 47px,#00ff28 50px,#17ff00 51px,#bf0 56px,#fdff00 60px,#ffeb00 79px,#fff600 94px,#ff0 97px,#82ff00 110px,#41ff00 116px,#00ff02 147px,#00ff16 180px)"></i><i style="left:110px;width:1px;background:linear-gradient(#0000e0 0,#0000f3 3px,#006fff 4px,#00f6ff 5px,#00ffbd 6px,#00ffad 7px,#00ff3e 10px,#00ff29 11px,#00ff13 16px,#00ff1b 30px,#00ff90 36px,#00ffd6 39px,#00fff7 43px,#00ffa0 47px,#00ff0f 50px,#3aff00 51px,#7aff00 53px,#cdff00 56px,#f9ff00 59px,#fe0 68px,#ffeb00 86px,#fff300 94px,#fcff00 98px,#70ff00 112px,#45ff00 116px,#02ff00 151px,#0f1 180px)"></i><i style="left:111px;width:1px;background:linear-gradient(#00c 0,#0000df 3px,#0030ff 4px,#009eff 5px,#00fff8 6px,#00ffea 7px,#00ff63 10px,#00ff42 11px,#00ff20 15px,#00ff29 30px,#00ff9c 36px,#00ffe0 39px,#00ffe7 43px,#00ff89 47px,#00ff09 50px,#3cff00 51px,#60ff00 52px,#beff00 56px,#ff0 61px,#fff300 81px,#fffc00 94px,#f3ff00 96px,#53ff00 112px,#27ff00 116px,#00ff02 139px,#00ff1f 180px)"></i><i style="left:112px;width:1px;background:linear-gradient(#0000cd 0,#0000e0 3px,#0017ff 4px,#00c2ff 6px,#00d9ff 7px,#00ffde 8px,#00ff74 10px,#00ff48 11px,#00ff19 15px,#0f2 30px,#0fa 37px,#00ffd5 39px,#00ffc3 43px,#00ff5d 47px,#00ff13 49px,#20ff00 50px,#61ff00 51px,#85ff00 52px,#d2ff00 56px,#ff0 60px,#fff000 71px,#fff600 93px,#fcff00 96px,#43ff00 114px,#2eff00 116px,#00ff02 145px,#00ff18 180px)"></i><i style="left:113px;width:1px;background:linear-gradient(#0000bf 0,#0000d2 3px,#0000f0 4px,#0020ff 5px,#005cff 6px,#0070ff 7px,#00e5ff 8px,#00ffd0 9px,#00ff5b 11px,#00ff21 15px,#00ff2b 30px,#00ffd9 39px,#00ffae 43px,#00ff21 48px,#00ff01 49px,#6dff00 51px,#91ff00 52px,#d6ff00 57px,#fdff00 61px,#fff500 74px,#fffc00 93px,#f4ff00 95px,#1aff00 116px,#00ff04 137px,#00ff20 180px)"></i><i style="left:114px;width:1px;background:linear-gradient(#0000d5 0,#0000e7 3px,#0000f9 4px,#0019ff 5px,#003dff 6px,#004cff 7px,#00d0ff 8px,#00ffd2 9px,#00ff4b 11px,#00ff04 15px,#00ff0e 30px,#00ffb8 39px,#00ff74 43px,#01ff00 47px,#b8ff00 51px,#df0 52px,#fdff00 55px,#ffe500 68px,#ffed00 93px,#faff00 99px,#47ff00 116px,#0f0 174px,#00ff04 180px)"></i><i style="left:115px;width:1px;background:linear-gradient(#0000ce 0,#0000f6 7px,#0082ff 8px,#00fff3 9px,#00ff58 11px,#00ff06 15px,#00ff10 30px,#00ffb5 39px,#00ff58 43px,#00ff1b 45px,#08ff00 46px,#3eff00 47px,#f3ff00 52px,#fffd00 55px,#ffe600 68px,#ffef00 93px,#fdff00 98px,#3eff00 116px,#00ff03 175px,#00ff06 180px)"></i><i style="left:116px;width:1px;background:linear-gradient(#0000c3 0,#0000ea 7px,#0058ff 8px,#00dbff 9px,#00ffce 10px,#00ff89 11px,#00ff21 15px,#00ff14 20px,#00ff1a 30px,#00ff90 37px,#00ffa9 39px,#00ff2e 44px,#0f1 45px,#16ff00 46px,#46ff00 47px,#e6ff00 52px,#fffd00 57px,#ffec00 68px,#fff400 93px,#ff0 96px,#30ff00 116px,#00ff02 157px,#00ff10 180px)"></i><i style="left:117px;width:1px;background:linear-gradient(#0000bd 0,#0000e3 7px,#0039ff 8px,#00abff 9px,#00fff0 10px,#00ffb5 11px,#00ff36 15px,#00ff19 19px,#00ff1f 30px,#00ff8a 37px,#00ff97 39px,#00ff1e 44px,#00ff02 45px,#56ff00 47px,#e2ff00 52px,#fffd00 58px,#ffef00 69px,#fff700 93px,#f9ff00 96px,#2cff00 116px,#00ff02 149px,#00ff15 180px)"></i><i style="left:118px;width:1px;background:linear-gradient(#0000d5 0,#0000fa 7px,#00b6ff 9px,#00fff3 10px,#00ffc1 11px,#00ff2d 15px,#0f0 19px,#00ff05 30px,#00ff4e 35px,#00ff65 37px,#0f6 39px,#00ff09 43px,#1fff00 44px,#7bff00 46px,#9eff00 47px,#feff00 51px,#ffeb00 59px,#ffdf00 69px,#ffe800 93px,#ff0 100px,#5eff00 116px,#20ff00 159px,#0aff00 180px)"></i><i style="left:119px;width:1px;background:linear-gradient(#0000d7 0,#0000fb 7px,#00e4ff 10px,#00ffe4 11px,#00ff3a 15px,#05ff00 19px,#00ff01 30px,#0f4 35px,#00ff56 37px,#00ff4c 39px,#00ff03 42px,#1fff00 43px,#a1ff00 46px,#d1ff00 48px,#f9ff00 50px,#ffef00 55px,#fd0 69px,#ffe600 93px,#feff00 101px,#6fff00 115px,#2dff00 153px,#10ff00 180px)"></i><i style="left:120px;width:1px;background:linear-gradient(#0000b1 0,#0000d4 7px,#0000f3 8px,#0026ff 9px,#00a0ff 11px,#00fbff 12px,#00ff71 15px,#00ff24 19px,#00ff27 30px,#00ff5d 34px,#00ff71 37px,#00ff5b 39px,#00ff12 42px,#04ff00 43px,#7eff00 46px,#b4ff00 49px,#e3ff00 52px,#fffd00 59px,#fff300 70px,#fffc00 93px,#f6ff00 95px,#5f0 111px,#2fff00 115px,#00ff03 141px,#00ff1d 180px)"></i><i style="left:121px;width:1px;background:linear-gradient(#0000cd 0,#0000ef 7px,#000bff 8px,#008eff 11px,#00f5ff 12px,#00ffcf 13px,#00ff64 15px,#00ff08 19px,#00ff0a 30px,#00ff3b 34px,#00ff49 37px,#00ff27 39px,#00ff0c 40px,#1aff00 41px,#d1ff00 46px,#f9ff00 49px,#fff300 54px,#ffe200 70px,#ffeb00 93px,#fcff00 100px,#6aff00 114px,#20ff00 151px,#01ff00 180px)"></i><i style="left:122px;width:1px;background:linear-gradient(#0000d6 0,#0000f7 7px,#000aff 8px,#0059ff 11px,#00c9ff 12px,#00ffe0 13px,#00ff6a 15px,#04ff00 19px,#02ff00 30px,#00ff2c 34px,#0f3 37px,#00ff06 39px,#26ff00 40px,#57ff00 41px,#fffe00 46px,#ffe200 61px,#fd0 75px,#ffe400 93px,#fdff00 102px,#7fff00 114px,#3f0 151px,#14ff00 180px)"></i><i style="left:123px;width:1px;background:linear-gradient(#0000c1 0,#0000f3 11px,#0063ff 12px,#00deff 13px,#00ffd0 14px,#00ff8f 15px,#00ff13 19px,#00ff13 30px,#00ff3c 34px,#00ff3c 37px,#00ff04 39px,#5dff00 41px,#ff0 46px,#ffe800 70px,#fff000 93px,#ff0 98px,#9eff00 108px,#5dff00 114px,#10ff00 150px,#00ff04 172px,#00ff09 180px)"></i><i style="left:124px;width:1px;background:linear-gradient(#0000b6 0,#0000da 6px,#00e 11px,#004bff 12px,#00bdff 13px,#00ffe6 14px,#0fa 15px,#00ff2f 19px,#00ff1c 30px,#00ff37 34px,#0f3 37px,#00ff01 39px,#57ff00 41px,#e7ff00 46px,#fffd00 54px,#fff000 71px,#fffd00 94px,#9dff00 105px,#3dff00 114px,#00ff03 143px,#00ff1c 180px)"></i><i style="left:125px;width:1px;background:linear-gradient(#0000ce 0,#0000f5 4px,#0008ff 8px,#001cff 11px,#0078ff 12px,#00e1ff 13px,#00ffd8 14px,#00ffa1 15px,#00ff27 19px,#00ff15 22px,#00ff02 31px,#00ff0d 34px,#00ff05 37px,#4f0 39px,#91ff00 41px,#f6ff00 45px,#fff800 47px,#ffe300 71px,#fff300 94px,#ff0 98px,#5eff00 114px,#0eff00 150px,#00ff04 170px,#00ff0a 180px)"></i><i style="left:126px;width:1px;background:linear-gradient(#00c 0,#0000fd 4px,#0024ff 11px,#0071ff 12px,#00d1ff 13px,#00ffe5 14px,#00ffb3 15px,#00ff39 19px,#0f2 21px,#00ff07 29px,#06ff00 32px,#03ff00 34px,#18ff00 36px,#19ff00 37px,#9bff00 41px,#f1ff00 45px,#fffc00 46px,#ffe600 72px,#fff800 94px,#f8ff00 97px,#4eff00 114px,#00ff01 148px,#00ff14 180px)"></i><i style="left:127px;width:1px;background:linear-gradient(#0000c8 0,#0000f5 3px,#0009ff 4px,#0028ff 11px,#06f 12px,#00bcff 13px,#00fff5 14px,#00ffc8 15px,#00ff4e 19px,#00ff2f 21px,#00ff16 28px,#00ff01 30px,#19ff00 34px,#35ff00 36px,#36ff00 37px,#a1ff00 41px,#fbff00 46px,#ffea00 75px,#fffe00 94px,#5eff00 110px,#3bff00 114px,#00ff03 140px,#00ff20 180px)"></i><i style="left:128px;width:1px;background:linear-gradient(#0000cb 0,#00f 3px,#02f 4px,#003aff 11px,#0068ff 12px,#00fffe 14px,#00ffd5 15px,#00ff5d 19px,#00ff36 21px,#00ff16 28px,#07ff00 30px,#31ff00 33px,#5dff00 36px,#5fff00 37px,#b3ff00 41px,#fbff00 46px,#ffe900 76px,#fbff00 94px,#39ff00 113px,#00ff02 136px,#00ff1a 161px,#00ff25 180px)"></i><i style="left:129px;width:1px;background:linear-gradient(#0000e6 0,#0000fa 1px,#0045ff 3px,#006cff 4px,#007cff 11px,#009bff 12px,#00dfff 13px,#00ffec 14px,#00ff51 19px,#00ff23 21px,#00ff01 27px,#07ff00 28px,#6bff00 32px,#b3ff00 36px,#b6ff00 37px,#fdff00 42px,#ffeb00 51px,#ffdb00 77px,#fff400 94px,#fffe00 97px,#62ff00 112px,#04ff00 149px,#0f1 180px)"></i><i style="left:130px;width:1px;background:linear-gradient(#0000f1 0,#0010ff 1px,#0095ff 4px,#009dff 11px,#00acff 12px,#00e7ff 13px,#00ffed 14px,#00ff21 21px,#00ff01 26px,#15ff00 28px,#8fff00 32px,#eaff00 36px,#ff0 39px,#ffe400 53px,#ffd800 78px,#fff100 94px,#feff00 98px,#67ff00 112px,#09ff00 149px,#00ff06 168px,#00ff0e 180px)"></i><i style="left:131px;width:1px;background:linear-gradient(#0000e9 0,#0007ff 1px,#009bff 4px,#009bff 12px,#00fdff 14px,#00ffad 17px,#00ff32 21px,#04ff00 28px,#94ff00 32px,#ff0 36px,#ffde00 70px,#ffe100 80px,#fffd00 95px,#4cff00 112px,#00ff02 142px,#00ff1d 180px)"></i><i style="left:132px;width:1px;background:linear-gradient(#0000e6 0,#0000fc 1px,#0080ff 4px,#0098ff 12px,#00fdff 14px,#00ff8d 18px,#00ff30 21px,#00ff01 27px,#0dff00 28px,#9dff00 32px,#efff00 35px,#fffb00 36px,#ffdb00 69px,#ffdb00 79px,#fff500 94px,#fbff00 97px,#5cff00 112px,#02ff00 143px,#00ff19 180px)"></i><i style="left:133px;width:1px;background:linear-gradient(#0000d1 0,#0000f9 2px,#001cff 3px,#04f 4px,#06f 11px,#0075ff 12px,#00dcff 14px,#00fff6 15px,#00ff40 21px,#00ff05 28px,#40ff00 30px,#8f0 32px,#f5ff00 36px,#fffc00 41px,#ffe100 70px,#ffe300 80px,#fffb00 94px,#f5ff00 96px,#4dff00 112px,#01ff00 134px,#00ff1e 168px,#00ff26 180px)"></i><i style="left:134px;width:1px;background:linear-gradient(#0000da 0,#0000fd 2px,#0041ff 4px,#0051ff 7px,#0075ff 11px,#008bff 12px,#00f5ff 14px,#00ffe9 15px,#00ff32 21px,#00ff05 26px,#17ff00 28px,#a7ff00 32px,#f9ff00 35px,#fff400 39px,#ffd700 68px,#ffd600 79px,#ffef00 94px,#fffe00 98px,#6eff00 113px,#1eff00 134px,#00ff01 150px,#00ff16 180px)"></i><i style="left:135px;width:1px;background:linear-gradient(#0000cd 0,#0000fa 3px,#0013ff 4px,#0029ff 7px,#0058ff 11px,#0076ff 12px,#00e2ff 14px,#00fff2 15px,#00ff3b 21px,#00ff01 27px,#0fff00 28px,#a0ff00 32px,#f1ff00 35px,#fffb00 36px,#ffda00 66px,#ffd800 79px,#fff000 94px,#fdff00 98px,#71ff00 112px,#16ff00 133px,#00ff03 146px,#00ff1c 180px)"></i><i style="left:136px;width:1px;background:linear-gradient(#0000bf 0,#0000f1 4px,#00f 7px,#003bff 11px,#0060ff 12px,#00fffb 15px,#00ff43 21px,#00ff07 27px,#06ff00 28px,#97ff00 32px,#fffe00 36px,#fd0 65px,#ffda00 79px,#fff200 94px,#fffd00 97px,#68ff00 113px,#0cff00 132px,#00ff05 143px,#0f2 180px)"></i><i style="left:137px;width:1px;background:linear-gradient(#0000b9 0,#0000e2 4px,#0000f2 7px,#0000fb 8px,#001cff 10px,#002eff 11px,#005aff 12px,#00fffc 15px,#0f4 21px,#00ff04 27px,#0cff00 28px,#9cff00 32px,#ef0 35px,#fffc00 36px,#ffdb00 64px,#ffd700 79px,#ffef00 94px,#fffe00 98px,#74ff00 113px,#1f0 131px,#00ff04 145px,#00ff20 180px)"></i><i style="left:138px;width:1px;background:linear-gradient(#0000bd 0,#00e 7px,#0008ff 9px,#0032ff 11px,#00d9ff 14px,#00fff4 15px,#00ff3b 21px,#00ff03 26px,#2f0 28px,#b2ff00 32px,#fffd00 35px,#fff200 38px,#ffd300 64px,#ffcf00 79px,#ffe600 94px,#fffe00 100px,#73ff00 117px,#23ff00 132px,#00ff03 158px,#00ff15 180px)"></i><i style="left:139px;width:1px;background:linear-gradient(#0000b5 0,#0000d3 6px,#0000f7 9px,#0008ff 10px,#001fff 11px,#00d1ff 14px,#00fff8 15px,#00ff3e 21px,#00ff03 26px,#23ff00 28px,#b4ff00 32px,#fffd00 35px,#fff100 38px,#ffd200 64px,#ffce00 79px,#ffe400 94px,#fcff00 101px,#71ff00 118px,#2f0 132px,#00ff03 158px,#00ff15 180px)"></i><i style="left:140px;width:1px;background:linear-gradient(#0000a1 0,#0000b6 5px,#0000fa 10px,#0010ff 11px,#00fffe 15px,#00ff43 21px,#00ff08 26px,#07ff00 27px,#1bff00 28px,#acff00 32px,#fdff00 35px,#fff400 38px,#ffd400 63px,#ffd000 79px,#ffe700 94px,#ff0 100px,#6fff00 118px,#1eff00 132px,#00ff02 153px,#00ff1a 180px)"></i><i style="left:141px;width:1px;background:linear-gradient(#00008d 0,#00009d 5px,#0000e1 9px,#0000fe 11px,#03f 12px,#00f3ff 15px,#00ffe4 16px,#00ff49 21px,#00ff02 27px,#1f0 28px,#a2ff00 32px,#f3ff00 35px,#fffa00 36px,#ffd700 62px,#ffd200 79px,#ffea00 94px,#fffe00 99px,#85ff00 114px,#18ff00 132px,#00ff01 145px,#00ff20 180px)"></i><i style="left:142px;width:1px;background:linear-gradient(#000 0,#000 4px,#00008a 5px,#0000ba 7px,#0000fb 11px,#0029ff 12px,#00f0ff 15px,#00ffe4 16px,#00ff49 21px,#00ff02 27px,#10ff00 28px,#a1ff00 32px,#f2ff00 35px,#fffa00 36px,#ffd600 62px,#ffd200 79px,#ffea00 94px,#fffe00 99px,#c4ff00 106px,#56ff00 122px,#18ff00 133px,#0f0 144px,#00ff20 180px)"></i><i style="left:143px;width:1px;background:linear-gradient(#000 0,#000 5px,#000098 6px,#0000b7 7px,#0000fd 11px,#002aff 12px,#00f8ff 15px,#00ff81 19px,#0f4 21px,#06ff00 27px,#1aff00 28px,#abff00 32px,#fcff00 35px,#fff200 39px,#ffd200 62px,#ffcd00 79px,#ffe700 94px,#ff0 100px,#6bff00 121px,#1cff00 135px,#00ff03 154px,#00ff1a 180px)"></i><i style="left:144px;width:1px;background:linear-gradient(#000 0,#000 5px,#000089 6px,#0000ad 7px,#0000f7 11px,#001cff 12px,#00f2ff 15px,#00ffe0 16px,#00ff45 21px,#02ff00 27px,#17ff00 28px,#a7ff00 32px,#f9ff00 35px,#fff300 39px,#ffd200 61px,#fc0 78px,#ffe800 94px,#fcff00 100px,#8bff00 116px,#16ff00 136px,#00ff03 153px,#00ff1c 180px)"></i><i style="left:145px;width:1px;background:linear-gradient(#000 0,#000 6px,#0000a5 7px,#0000f6 11px,#0015ff 12px,#00f3ff 15px,#00ffdf 16px,#0f4 21px,#05ff00 27px,#1aff00 28px,#af0 32px,#fcff00 35px,#fe0 41px,#ffd100 61px,#ffcb00 78px,#ffe700 94px,#ff0 100px,#c6ff00 108px,#18ff00 137px,#00ff03 155px,#00ff1b 180px)"></i><i style="left:146px;width:1px;background:linear-gradient(#000 0,#000 6px,#000094 7px,#0000f8 12px,#003dff 13px,#00d0ff 15px,#00fff1 16px,#00ff56 21px,#00ff02 28px,#8dff00 32px,#f7ff00 36px,#fff800 41px,#ffdb00 61px,#ffd400 78px,#fff100 94px,#fbff00 98px,#d0ff00 102px,#00ff01 136px,#00ff30 180px)"></i><i style="left:147px;width:1px;background:linear-gradient(#000 0,#000 7px,#000095 8px,#0000e5 12px,#0016ff 13px,#00f4ff 16px,#00ffe6 17px,#00ff6a 21px,#00ff14 28px,#01ff00 29px,#6cff00 32px,#d5ff00 36px,#fffe00 44px,#ffe500 62px,#ffdf00 78px,#fffb00 94px,#ff0 95px,#b1ff00 102px,#0f0 131px,#00ff17 140px,#00ff3f 170px,#00ff47 180px)"></i><i style="left:148px;width:1px;background:linear-gradient(#000 0,#000 6px,#0000a9 7px,#0000fa 11px,#001dff 12px,#00fbff 15px,#00ff40 21px,#00ff03 26px,#29ff00 28px,#b8ff00 32px,#ef0 34px,#fffc00 35px,#ffe200 46px,#fc0 62px,#ffc800 79px,#ffe200 94px,#feff00 102px,#2fff00 136px,#00ff02 153px,#00ff17 168px,#00ff20 180px)"></i><i style="left:149px;width:1px;background:linear-gradient(#000 0,#000 5px,#000095 6px,#0000bd 7px,#0000f9 10px,#001cff 11px,#04f 12px,#00d7ff 14px,#00ffed 15px,#00ffa7 17px,#00ff2c 21px,#00ff06 24px,#0bff00 25px,#4fff00 28px,#df0 32px,#f8ff00 33px,#ffe900 36px,#ffc100 60px,#fb0 78px,#ffd500 94px,#fffe00 107px,#5f0 137px,#10ff00 156px,#00ff03 161px,#00ff0f 180px)"></i><i style="left:150px;width:1px;background:linear-gradient(#000 0,#000 6px,#0000a9 7px,#0000f9 11px,#001cff 12px,#00faff 15px,#00ff40 21px,#00ff02 26px,#2eff00 28px,#bf0 32px,#f1ff00 34px,#fffb00 35px,#ffcd00 60px,#ffc700 79px,#ffe000 94px,#fdff00 103px,#b8ff00 114px,#31ff00 138px,#00ff04 152px,#00ff1e 164px,#00ff27 180px)"></i><i style="left:151px;width:1px;background:linear-gradient(#000 0,#000 6px,#00009d 7px,#0004ff 12px,#00e2ff 15px,#00ffe8 16px,#00ff4d 21px,#00ff01 27px,#3fff00 29px,#a7ff00 32px,#f8ff00 35px,#fff800 38px,#ffd400 60px,#ffce00 79px,#ffe700 94px,#fbff00 101px,#c7ff00 108px,#20ff00 138px,#00ff02 147px,#00ff2e 163px,#00ff37 180px)"></i><i style="left:152px;width:1px;background:linear-gradient(#000 0,#000 6px,#00009b 7px,#00f 12px,#00deff 15px,#00ffea 16px,#00ff4f 21px,#00ff02 27px,#1aff00 28px,#a5ff00 32px,#f7ff00 35px,#fffb00 37px,#ffd400 60px,#ffcf00 79px,#ffe700 94px,#fbff00 101px,#c6ff00 108px,#35ff00 134px,#00ff01 146px,#00ff34 162px,#00ff3c 180px)"></i><i style="left:153px;width:1px;background:linear-gradient(#000 0,#000 6px,#00009b 7px,#0001ff 12px,#00dfff 15px,#00ffe9 16px,#00ff4e 21px,#0f0 27px,#a8ff00 32px,#faff00 35px,#ffda00 54px,#ffcd00 78px,#ffe500 94px,#ff0 101px,#c9ff00 108px,#47ff00 132px,#01ff00 146px,#00ff38 162px,#00ff3f 180px)"></i><i style="left:154px;width:1px;background:linear-gradient(#000 0,#000 6px,#00009a 7px,#0000fe 12px,#00dbff 15px,#00ffeb 16px,#00ff50 21px,#00ff01 27px,#6f0 30px,#a8ff00 32px,#f9ff00 35px,#fff500 40px,#ffd400 60px,#ffce00 79px,#ffe500 94px,#fffe00 101px,#ceff00 107px,#4fff00 131px,#0f0 146px,#00ff3e 162px,#00ff43 180px)"></i><i style="left:155px;width:1px;background:linear-gradient(#000 0,#000 6px,#00008d 7px,#0000f2 12px,#0030ff 13px,#00c4ff 15px,#00fff7 16px,#00ff5d 21px,#00ff0d 27px,#0aff00 28px,#7f0 31px,#e5ff00 35px,#fffe00 39px,#ffdb00 60px,#ffd500 79px,#ffec00 94px,#faff00 100px,#bf0 107px,#45ff00 130px,#0f0 142px,#00ff4f 162px,#00ff53 180px)"></i><i style="left:156px;width:1px;background:linear-gradient(#000 0,#000 6px,#000090 7px,#0000f4 12px,#0035ff 13px,#00c9ff 15px,#00fff5 16px,#00ff5a 21px,#00ff09 27px,#12ff00 28px,#7eff00 31px,#ecff00 35px,#fffe00 38px,#ffd900 60px,#ffd300 79px,#ffe900 94px,#fffe00 100px,#c2ff00 107px,#4fff00 130px,#00ff02 144px,#00ff51 162px,#00ff53 180px)"></i><i style="left:157px;width:1px;background:linear-gradient(#000 0,#000 6px,#000090 7px,#0000f4 12px,#0034ff 13px,#00c8ff 15px,#00fff5 16px,#00ff5a 21px,#00ff09 27px,#14ff00 28px,#80ff00 31px,#edff00 35px,#fffc00 39px,#ffd900 60px,#ffd200 79px,#ffe800 94px,#fbff00 101px,#c4ff00 107px,#59ff00 129px,#00ff02 144px,#00ff56 162px,#00ff57 180px)"></i><i style="left:158px;width:1px;background:linear-gradient(#000 0,#000 6px,#00009c 7px,#0003ff 12px,#00e1ff 15px,#00ffe8 16px,#00ff4d 21px,#00ff08 26px,#09ff00 27px,#9aff00 31px,#ebff00 34px,#fffd00 35px,#ffd100 60px,#ffca00 79px,#ffe000 94px,#fffe00 103px,#deff00 107px,#75ff00 129px,#0f0 147px,#00ff4d 161px,#00ff4d 180px)"></i><i style="left:159px;width:1px;background:linear-gradient(#000 0,#000 6px,#000098 7px,#0000fe 12px,#00d9ff 15px,#00ffec 16px,#00ff51 21px,#00ff0a 26px,#08ff00 27px,#98ff00 31px,#fffd00 35px,#ffd100 60px,#ffcb00 79px,#ffe000 94px,#fcff00 104px,#e5ff00 107px,#7dff00 129px,#00ff04 148px,#00ff4d 162px,#00ff50 180px)"></i><i style="left:160px;width:1px;background:linear-gradient(#000 0,#000 6px,#00009b 7px,#00e 11px,#0007ff 12px,#00deff 15px,#00ffe9 16px,#00ff4d 21px,#00ff03 26px,#13ff00 27px,#a4ff00 31px,#f5ff00 34px,#fff700 36px,#ffce00 60px,#ffc700 79px,#ffdf00 95px,#fdff00 106px,#92ff00 129px,#34ff00 143px,#0f0 149px,#00ff45 162px,#00ff4b 180px)"></i><i style="left:161px;width:1px;background:linear-gradient(#000 0,#000 6px,#000094 7px,#0000fe 12px,#003fff 13px,#00d3ff 15px,#00fff0 16px,#00ff53 21px,#00ff06 26px,#0fff00 27px,#9fff00 31px,#f0ff00 34px,#fffb00 35px,#ffcf00 60px,#ffc900 79px,#ffe000 95px,#fcff00 107px,#91ff00 130px,#4eff00 140px,#0f0 149px,#00ff47 162px,#00ff50 180px)"></i><i style="left:162px;width:1px;background:linear-gradient(#000 0,#000 6px,#00009b 7px,#0000df 10px,#0000f3 11px,#000fff 12px,#004cff 13px,#00e0ff 15px,#00ffe8 16px,#00ff4b 21px,#00ff0b 25px,#07ff00 26px,#21ff00 27px,#b2ff00 31px,#fffe00 34px,#fff100 37px,#ffca00 59px,#ffc300 79px,#ffdc00 96px,#fffe00 112px,#adff00 130px,#7aff00 138px,#18ff00 149px,#03ff00 151px,#00ff3b 162px,#00ff47 180px)"></i><i style="left:163px;width:1px;background:linear-gradient(#000 0,#000 6px,#000097 7px,#0000c8 9px,#0000f0 11px,#000bff 12px,#0045ff 13px,#00d9ff 15px,#00ffec 16px,#00ff4e 21px,#00ff0b 25px,#06ff00 26px,#45ff00 28px,#b1ff00 31px,#fffe00 34px,#fff100 37px,#ffca00 59px,#ffc300 79px,#fd0 97px,#feff00 115px,#a0ff00 134px,#69ff00 141px,#00ff02 152px,#00ff3d 163px,#00ff49 180px)"></i><i style="left:164px;width:1px;background:linear-gradient(#000 0,#000 6px,#00009e 7px,#0000bd 8px,#0000f9 11px,#001cff 12px,#0053ff 13px,#00e6ff 15px,#00ffe5 16px,#00ff46 21px,#00ff20 23px,#00ff01 25px,#3f0 27px,#c4ff00 31px,#faff00 33px,#ffed00 36px,#ffc500 58px,#ffbd00 79px,#ffd800 98px,#faff00 122px,#a9ff00 137px,#1dff00 151px,#00ff01 154px,#00ff32 163px,#00ff40 180px)"></i><i style="left:165px;width:1px;background:linear-gradient(#000 0,#000 7px,#000091 8px,#0000e1 12px,#0000fc 13px,#00d7ff 16px,#00fff0 17px,#00ff74 21px,#00ff4c 23px,#00ff0e 27px,#0cff00 28px,#78ff00 31px,#e5ff00 35px,#fffd00 40px,#ffde00 58px,#ffd500 79px,#fff600 101px,#fbff00 106px,#81ff00 133px,#68ff00 137px,#03ff00 147px,#00ff60 164px,#00ff6e 180px)"></i><i style="left:166px;width:1px;background:linear-gradient(#000 0,#000 7px,#000097 8px,#0003ff 13px,#00e1ff 16px,#00ffea 17px,#00ff54 22px,#00ff05 27px,#3fff00 29px,#87ff00 31px,#f3ff00 35px,#fffc00 38px,#ffda00 57px,#ffd100 79px,#faff00 112px,#8bff00 136px,#0f0 149px,#00ff58 164px,#00ff67 180px)"></i><i style="left:167px;width:1px;background:linear-gradient(#000 0,#000 6px,#00008d 7px,#0000b2 8px,#0006ff 12px,#0034ff 13px,#00c7ff 15px,#00fff5 16px,#00ff73 20px,#00ff38 22px,#00ff08 25px,#0dff00 26px,#4dff00 28px,#baff00 31px,#f0ff00 33px,#fffb00 34px,#fe0 37px,#ffca00 56px,#ffc000 79px,#feff00 125px,#c9ff00 136px,#0f0 154px,#00ff3b 164px,#00ff4c 180px)"></i><i style="left:168px;width:1px;background:linear-gradient(#000 0,#000 6px,#00009a 7px,#0000c1 8px,#0000fd 11px,#004eff 13px,#00e2ff 15px,#00ffe8 16px,#00ff84 19px,#00ff28 22px,#00ff08 24px,#0fff00 25px,#48ff00 27px,#d8ff00 31px,#f3ff00 32px,#fffa00 33px,#ffe600 36px,#ffc100 55px,#ffb300 78px,#fbff00 134px,#e6ff00 137px,#01ff00 157px,#00ff2b 165px,#00ff3c 180px)"></i><i style="left:169px;width:1px;background:linear-gradient(#000 0,#000 7px,#0000a2 8px,#0000f2 12px,#000eff 13px,#00ebff 16px,#00ffe3 17px,#00ff48 22px,#00ff06 26px,#13ff00 27px,#a3ff00 31px,#f5ff00 34px,#fff900 35px,#ffd300 55px,#ffc700 79px,#feff00 124px,#c7ff00 136px,#00ff02 153px,#00ff49 165px,#00ff5c 180px)"></i><i style="left:170px;width:1px;background:linear-gradient(#000 0,#000 10px,#000092 11px,#0000a6 13px,#0000b9 14px,#0000e0 15px,#000fff 16px,#0af 19px,#00dcff 20px,#00fff8 21px,#00ffb7 24px,#00ff58 29px,#00ff05 35px,#10ff00 37px,#42ff00 41px,#7bff00 53px,#c3ff00 78px,#c8ff00 86px,#fdff00 90px,#ffe000 102px,#faff00 134px,#f4ff00 136px,#02ff00 156px,#00ff3f 166px,#00ff58 180px)"></i><i style="left:171px;width:1px;background:linear-gradient(#000 0,#000 15px,#00009e 16px,#0000ef 20px,#0007ff 21px,#00fffc 27px,#00ffe6 28px,#00ff60 41px,#00ff06 81px,#08ff00 85px,#0dff00 86px,#c2ff00 92px,#feff00 95px,#ffd800 101px,#fff400 137px,#feff00 140px,#2aff00 157px,#02ff00 160px,#00ff2e 167px,#00ff4b 180px)"></i><i style="left:172px;width:1px;background:linear-gradient(#000 0,#000 10px,#00008a 11px,#0000a4 13px,#0000bc 14px,#0000ed 15px,#003aff 16px,#00daff 19px,#00fff7 20px,#00ff83 28px,#0f2 40px,#00ff01 46px,#30ff00 52px,#9cff00 72px,#c7ff00 82px,#cdff00 86px,#ff0 89px,#ffce00 101px,#fff100 136px,#fffe00 140px,#82ff00 152px,#04ff00 163px,#00ff1d 172px,#00ff30 180px)"></i><i style="left:173px;width:1px;background:linear-gradient(#000 0,#000 9px,#00008f 10px,#0000e0 13px,#0021ff 14px,#00feff 16px,#00ff73 20px,#00ff32 30px,#00ff0e 37px,#04ff00 39px,#71ff00 47px,#9fff00 50px,#feff00 62px,#ffde00 83px,#ffd700 105px,#fffa00 132px,#f6ff00 136px,#86ff00 149px,#04ff00 162px,#00ff31 180px)"></i><i style="left:174px;width:1px;background:linear-gradient(#000 0,#000 9px,#00009d 10px,#0007ff 13px,#00ebff 15px,#0fc 16px,#00ff2d 20px,#00ff14 26px,#06ff00 33px,#17ff00 36px,#95ff00 45px,#f0ff00 50px,#fffe00 52px,#ffcd00 70px,#ffbe00 83px,#ff0 131px,#89ff00 148px,#12ff00 162px,#00ff03 167px,#00ff27 180px)"></i><i style="left:175px;width:1px;background:linear-gradient(#000 0,#000 10px,#0000a8 11px,#0000eb 13px,#0034ff 14px,#00abff 15px,#00ffed 16px,#0fb 17px,#00ff47 20px,#00ff32 21px,#0f0 36px,#7fff00 45px,#d9ff00 50px,#ff0 54px,#ffd300 70px,#ffc400 83px,#ff0 119px,#b7ff00 133px,#40ff00 152px,#0f0 161px,#00ff34 180px)"></i><i style="left:176px;width:1px;background:linear-gradient(#000 0,#000 10px,#000093 11px,#0000fb 14px,#00e5ff 16px,#00ffd2 17px,#00ff3e 21px,#00ff03 37px,#6cff00 45px,#c6ff00 50px,#fffe00 56px,#ffd700 70px,#ffc700 82px,#ff0 110px,#afff00 123px,#00ff01 158px,#00ff3e 180px)"></i><i style="left:177px;width:1px;background:linear-gradient(#000 0,#000 10px,#00009f 11px,#0000e2 13px,#0008ff 14px,#00f4ff 16px,#00ffc7 17px,#00ff2c 21px,#02ff00 34px,#0eff00 36px,#8cff00 45px,#e6ff00 50px,#fffd00 53px,#ffcd00 69px,#fb0 82px,#fff800 109px,#f8ff00 113px,#b6ff00 123px,#00ff03 165px,#00ff2c 180px)"></i><i style="left:178px;width:1px;background:linear-gradient(#000 0,#000 10px,#0000a8 11px,#0000eb 13px,#001bff 14px,#00fffb 16px,#00ffbd 17px,#0f2 21px,#01ff00 31px,#1fff00 36px,#9dff00 45px,#f7ff00 50px,#fffb00 52px,#ffc700 69px,#ffb500 82px,#fbff00 114px,#bfff00 123px,#27ff00 159px,#00ff01 168px,#0f2 180px)"></i><i style="left:179px;width:1px;background:linear-gradient(#000 0,#000 10px,#0000af 11px,#0000f1 13px,#0027ff 14px,#009dff 15px,#00fff4 16px,#00ffb6 17px,#00ff1c 21px,#0f0 29px,#2aff00 36px,#a9ff00 45px,#fffe00 50px,#ffc300 69px,#ffaf00 82px,#ff0 114px,#c4ff00 123px,#59ff00 148px,#0eff00 167px,#00ff03 171px,#00ff1c 180px)"></i><i style="left:180px;width:1px;background:linear-gradient(#000 0,#000 10px,#00008c 11px,#0000c0 13px,#0000e3 14px,#0036ff 15px,#00a1ff 16px,#00fff9 17px,#00ff4f 21px,#00ff20 26px,#0f0 35px,#36ff00 40px,#8eff00 46px,#df0 51px,#feff00 54px,#ffd200 70px,#ffc800 82px,#fdff00 106px,#9f0 122px,#00ff01 164px,#00ff28 180px)"></i><i style="left:181px;width:1px;background:linear-gradient(#000 0,#000 12px,#000098 13px,#0000bd 14px,#0000f0 15px,#0041ff 16px,#00a0ff 17px,#00e6ff 18px,#00ffdb 19px,#00ff79 21px,#00ff2b 26px,#00ff01 37px,#38ff00 42px,#bfff00 51px,#faff00 56px,#ffda00 71px,#ffdb00 84px,#ff0 100px,#baff00 110px,#7bff00 122px,#00ff03 162px,#00ff2b 180px)"></i><i style="left:182px;width:1px;background:linear-gradient(#000 0,#000 13px,#00a 14px,#0008ff 16px,#005bff 17px,#009fff 18px,#00fffb 19px,#00ff8f 21px,#0f2 26px,#04ff00 36px,#35ff00 41px,#df0 53px,#fffe00 56px,#ffd800 72px,#ffe500 88px,#ff0 99px,#caff00 106px,#8aff00 119px,#15ff00 161px,#00ff04 169px,#00ff1a 180px)"></i><i style="left:183px;width:1px;background:linear-gradient(#000 0,#000 13px,#00008a 14px,#0000fd 17px,#003fff 18px,#00b0ff 19px,#00ffed 20px,#00ffb1 21px,#00ff26 26px,#05ff00 37px,#28ff00 41px,#f4ff00 56px,#fffb00 59px,#ffdf00 72px,#fffd00 95px,#d0ff00 101px,#abff00 106px,#7f0 118px,#3cff00 147px,#00ff02 169px,#00ff15 180px)"></i><i style="left:184px;width:1px;background:linear-gradient(#000 0,#000 14px,#00008d 15px,#0000d8 18px,#000dff 19px,#00beff 21px,#00eaff 22px,#00fff3 23px,#00ff9b 26px,#00ff4c 41px,#00ff03 48px,#84ff00 57px,#cdff00 65px,#f6ff00 71px,#d8ff00 93px,#9bff00 105px,#7f0 119px,#61ff00 134px,#2fff00 151px,#3eff00 157px,#26ff00 167px,#00ff03 174px,#00ff0d 180px)"></i><i style="left:185px;width:1px;background:linear-gradient(#000 0,#000 18px,#00008c 19px,#00a 21px,#0000ba 23px,#0000f6 25px,#0020ff 27px,#007dff 32px,#00c5ff 39px,#00fffd 42px,#00ffe6 44px,#0f9 48px,#0f3 57px,#02ff00 63px,#39ff00 73px,#81ff00 96px,#9cff00 109px,#8f0 132px,#35ff00 147px,#3f0 151px,#80ff00 156px,#7aff00 166px,#23ff00 173px,#07ff00 175px,#03ff00 180px)"></i><i style="left:186px;width:1px;background:linear-gradient(#000 0,#000 23px,#000089 24px,#00a 26px,#0000ec 32px,#0000fd 35px,#001eff 38px,#008eff 43px,#00b0ff 44px,#00fffa 46px,#00ffc3 49px,#00ff61 57px,#00ff26 63px,#05ff00 75px,#c9ff00 108px,#c9ff00 131px,#78ff00 146px,#78ff00 151px,#b7ff00 156px,#b7ff00 166px,#5dff00 172px,#27ff00 175px,#27ff00 180px)"></i><i style="left:187px;width:1px;background:linear-gradient(#000 0,#000 23px,#000097 24px,#0000e7 31px,#0000fe 35px,#0020ff 38px,#0096ff 43px,#00efff 45px,#00fff0 46px,#0fc 48px,#00ff68 56px,#00ff2a 62px,#0f0 73px,#e4ff00 108px,#e1ff00 132px,#b4ff00 147px,#beff00 155px,#c0ff00 166px,#24ff00 175px,#24ff00 180px)"></i><i style="left:188px;width:1px;background:linear-gradient(#000 0,#000 23px,#0000a5 24px,#0000f6 31px,#0004ff 33px,#003dff 38px,#00b3ff 43px,#00dfff 44px,#00fff8 45px,#00ffca 47px,#00ff58 56px,#00ff1b 62px,#03ff00 69px,#fffe00 105px,#fff700 115px,#faff00 143px,#f3ff00 152px,#f3ff00 166px,#74ff00 172px,#3eff00 175px,#3eff00 180px)"></i><i style="left:189px;width:1px;background:linear-gradient(#000 0,#000 49px,#0000a0 50px,#0000b8 51px,#0000f9 57px,#002eff 60px,#07f 64px,#009eff 66px,#00feff 70px,#00ffaf 74px,#00ff49 83px,#00ff01 91px,#fffe00 108px,#faff00 134px,#df0 148px,#e6ff00 165px,#e6ff00 166px,#68ff00 172px,#32ff00 175px,#32ff00 180px)"></i><i style="left:190px;width:1px;background:linear-gradient(#000 0,#000 39px,#000090 40px,#0000e0 47px,#0000fd 52px,#0012ff 54px,#08f 59px,#00e1ff 61px,#00fff8 62px,#00ffd3 64px,#00ff6f 72px,#00ff2c 79px,#00ff02 87px,#bdff00 108px,#b9ff00 132px,#7cff00 147px,#7cff00 151px,#bdff00 156px,#bdff00 166px,#17ff00 175px,#17ff00 180px)"></i><i style="left:191px;width:1px;background:linear-gradient(#000 0,#000 45px,#000089 46px,#0000b0 55px,#0000be 57px,#0000f7 60px,#0013ff 61px,#005aff 63px,#00b7ff 67px,#00fffd 71px,#00ff73 84px,#01ff00 100px,#60ff00 109px,#60ff00 131px,#1f0 147px,#1f0 151px,#76ff00 156px,#76ff00 166px,#23ff00 172px,#00ff01 174px,#00ff0b 175px,#00ff0b 180px)"></i><i style="left:192px;width:1px;background:linear-gradient(#000 0,#000 58px,#000089 59px,#0000e2 67px,#00f 72px,#000bff 73px,#0080ff 78px,#00fffd 81px,#00ffd8 83px,#00ff73 91px,#00ff0a 102px,#00ff02 103px,#56ff00 109px,#53ff00 133px,#36ff00 148px,#36ff00 151px,#90ff00 156px,#90ff00 166px,#5aff00 171px,#12ff00 175px,#12ff00 180px)"></i><i style="left:193px;width:1px;background:linear-gradient(#000 0,#000 59px,#009 60px,#0000e6 67px,#0000fd 71px,#0013ff 73px,#0084ff 78px,#00d4ff 80px,#00fffe 81px,#00ffd6 83px,#00ff70 91px,#00ff10 101px,#0f0 103px,#57ff00 109px,#5dff00 118px,#57ff00 134px,#40ff00 149px,#40ff00 151px,#9aff00 156px,#9aff00 166px,#64ff00 171px,#1cff00 175px,#1cff00 180px)"></i><i style="left:194px;width:1px;background:linear-gradient(#000 0,#000 59px,#00009b 60px,#0000ea 67px,#0003ff 71px,#0028ff 74px,#00a5ff 79px,#00fdff 81px,#00ffd4 83px,#00ff64 92px,#00ff0e 101px,#03ff00 103px,#60ff00 110px,#5cff00 134px,#49ff00 150px,#49ff00 151px,#a3ff00 156px,#a3ff00 166px,#6dff00 171px,#25ff00 175px,#25ff00 180px)"></i><i style="left:195px;width:1px;background:linear-gradient(#000 0,#000 59px,#000097 60px,#0000e8 67px,#00f 71px,#0021ff 74px,#0097ff 79px,#00f0ff 81px,#00fff0 82px,#00ffcb 84px,#00ff67 92px,#00ff1a 100px,#00ff02 103px,#5bff00 110px,#5f0 136px,#49ff00 151px,#a3ff00 156px,#a3ff00 166px,#6dff00 171px,#25ff00 175px,#25ff00 180px)"></i><i style="left:196px;width:1px;background:linear-gradient(#000 0,#000 59px,#00008a 60px,#0000da 67px,#0006ff 74px,#007cff 79px,#00fffe 82px,#00ffd9 84px,#00ff75 92px,#00ff28 100px,#00ff01 105px,#42ff00 110px,#3cff00 136px,#30ff00 151px,#8dff00 156px,#8dff00 166px,#54ff00 171px,#0cff00 175px,#0cff00 180px)"></i><i style="left:197px;width:1px;background:linear-gradient(#000 0,#000 59px,#000091 60px,#0000e1 67px,#0000fd 72px,#0013ff 74px,#008aff 79px,#00e2ff 81px,#00fff7 82px,#00ffd2 84px,#00ff6e 92px,#00ff21 100px,#00ff02 104px,#4eff00 110px,#48ff00 136px,#3cff00 151px,#9dff00 156px,#9dff00 166px,#60ff00 171px,#18ff00 175px,#18ff00 180px)"></i><i style="left:198px;width:1px;background:linear-gradient(#000 0,#000 59px,#00008a 60px,#0000da 67px,#0000fd 73px,#0007ff 74px,#007dff 79px,#00fffd 82px,#00ffd9 84px,#00ff75 92px,#00ff27 100px,#0f0 105px,#43ff00 110px,#3dff00 136px,#31ff00 151px,#94ff00 156px,#94ff00 166px,#43ff00 172px,#0dff00 175px,#0dff00 180px)"></i><i style="left:199px;width:1px;background:linear-gradient(#000 0,#000 59px,#00009c 60px,#0000ec 67px,#0000fd 70px,#002aff 74px,#00a0ff 79px,#00f9ff 81px,#00ffd4 83px,#00ff62 92px,#00ff15 100px,#04ff00 103px,#63ff00 110px,#5dff00 136px,#51ff00 151px,#b7ff00 156px,#b7ff00 166px,#63ff00 172px,#2dff00 175px,#2dff00 180px)"></i><i style="left:200px;width:1px;background:linear-gradient(#000 0,#000 61px,#000090 62px,#0000cf 68px,#0000f1 74px,#0000fd 75px,#005bff 79px,#00e0ff 82px,#00fff8 83px,#00ff86 92px,#00ff39 100px,#00ff03 107px,#24ff00 110px,#1eff00 136px,#12ff00 151px,#7bff00 156px,#7bff00 166px,#24ff00 172px,#0f0 174px,#00ff0b 175px,#00ff0b 180px)"></i><i style="left:201px;width:1px;background:linear-gradient(#000 0,#000 62px,#00008c 63px,#0000c0 68px,#0000e2 74px,#0000fa 76px,#0026ff 78px,#003eff 79px,#00efff 83px,#00fffa 84px,#00ff96 92px,#00ff48 100px,#00ff03 109px,#09ff00 111px,#03ff00 136px,#00ff05 151px,#2f0 153px,#63ff00 156px,#63ff00 166px,#09ff00 172px,#00ff10 174px,#00ff1a 175px,#00ff1a 180px)"></i><i style="left:202px;width:1px;background:linear-gradient(#000 0,#000 56px,#00008f 57px,#0000c2 62px,#0000e5 68px,#0000fd 70px,#0042ff 73px,#00f4ff 77px,#00fff8 78px,#00ff93 86px,#00ff4f 93px,#00ff02 105px,#1fff00 108px,#1aff00 133px,#00ff03 146px,#00ff03 151px,#67ff00 156px,#67ff00 166px,#00ff03 173px,#00ff18 175px,#00ff18 180px)"></i><i style="left:203px;width:1px;background:linear-gradient(#000 0,#000 61px,#00008d 62px,#0000d3 69px,#0001ff 75px,#007fff 80px,#00faff 83px,#00ffc6 87px,#00ff75 94px,#00ff26 103px,#00ff01 108px,#21ff00 111px,#1bff00 135px,#0cff00 151px,#69ff00 156px,#69ff00 166px,#30ff00 171px,#00ff04 174px,#00ff0e 175px,#00ff0e 180px)"></i><i style="left:204px;width:1px;background:linear-gradient(#000 0,#000 61px,#00008a 62px,#0000d4 69px,#0000f6 75px,#0007ff 76px,#0065ff 80px,#00eaff 83px,#00fff3 84px,#00ff81 93px,#00ff34 101px,#04ff00 108px,#2dff00 111px,#27ff00 136px,#1bff00 151px,#75ff00 156px,#75ff00 166px,#3fff00 171px,#09ff00 174px,#00ff05 176px,#00ff05 180px)"></i><i style="left:205px;width:1px;background:linear-gradient(#000 0,#000 60px,#00009d 61px,#00e 68px,#00f 71px,#002dff 75px,#00a3ff 80px,#00fcff 82px,#00ffd2 84px,#00ff61 93px,#00ff13 101px,#07ff00 104px,#65ff00 111px,#5fff00 136px,#53ff00 151px,#aeff00 156px,#aeff00 166px,#78ff00 171px,#2fff00 175px,#2fff00 180px)"></i><i style="left:206px;width:1px;background:linear-gradient(#000 0,#000 61px,#000092 62px,#00d 69px,#00f 75px,#0076ff 80px,#00fbff 83px,#00ffdc 85px,#00ff78 93px,#00ff2b 101px,#00ff04 106px,#2f0 109px,#3dff00 111px,#37ff00 136px,#2bff00 151px,#85ff00 156px,#85ff00 166px,#4fff00 171px,#07ff00 175px,#07ff00 180px)"></i><i style="left:207px;width:1px;background:linear-gradient(#000 0,#000 62px,#000091 63px,#0000d0 69px,#0000f3 75px,#00f 76px,#005eff 80px,#00e3ff 83px,#00fff6 84px,#00ff85 93px,#00ff37 101px,#00ff01 108px,#27ff00 111px,#21ff00 136px,#14ff00 151px,#6fff00 156px,#6fff00 166px,#39ff00 171px,#02ff00 174px,#00ff09 176px,#00ff09 180px)"></i><i style="left:208px;width:1px;background:linear-gradient(#000 0,#000 52px,#000091 53px,#0000e2 60px,#0000fe 65px,#0015ff 67px,#008bff 72px,#00e4ff 74px,#00fff6 75px,#00ffd2 77px,#00ff6d 85px,#00ff29 92px,#02ff00 99px,#62ff00 108px,#5dff00 133px,#3eff00 148px,#3eff00 151px,#af0 156px,#af0 166px,#50ff00 172px,#1aff00 175px,#1aff00 180px)"></i><i style="left:209px;width:1px;background:linear-gradient(#000 0,#000 59px,#000094 60px,#0000e9 69px,#00f 72px,#0025ff 74px,#008eff 78px,#00a6ff 79px,#00f6ff 81px,#00ffda 83px,#00ff6e 92px,#00ff06 104px,#04ff00 105px,#45ff00 110px,#40ff00 133px,#21ff00 148px,#21ff00 151px,#8dff00 156px,#8dff00 166px,#3f0 172px,#00ff02 175px,#00ff02 180px)"></i><i style="left:210px;width:1px;background:linear-gradient(#000 0,#000 32px,#000090 33px,#0000ac 38px,#0000c5 43px,#0000e7 47px,#0000f6 48px,#000eff 49px,#004cff 51px,#00c8ff 58px,#00fffb 60px,#00ffb3 67px,#00ff76 78px,#00ff32 86px,#00ff03 93px,#94ff00 108px,#9dff00 112px,#9dff00 131px,#14ff00 146px,#14ff00 151px,#9aff00 156px,#9aff00 166px,#02ff00 174px,#00ff09 176px,#00ff09 180px)"></i><i style="left:211px;width:1px;background:linear-gradient(#000 0,#000 27px,#000092 28px,#0000e2 35px,#00f 40px,#0017ff 42px,#008dff 47px,#00e6ff 49px,#00fff5 50px,#00ffd1 52px,#00ff6c 60px,#00ff2e 66px,#04ff00 77px,#f4ff00 108px,#f4ff00 131px,#3fff00 146px,#3fff00 151px,#d0ff00 156px,#d0ff00 166px,#51ff00 172px,#1bff00 175px,#1bff00 180px)"></i><i style="left:212px;width:1px;background:linear-gradient(#000 0,#000 28px,#00008c 29px,#0000c4 36px,#0000e6 43px,#0002ff 45px,#003aff 47px,#00d5ff 51px,#00fffb 53px,#00ff50 69px,#03ff00 82px,#d9ff00 108px,#d9ff00 131px,#3fff00 146px,#3fff00 151px,#c7ff00 156px,#c7ff00 166px,#1bff00 175px,#1bff00 180px)"></i><i style="left:213px;width:1px;background:linear-gradient(#000 0,#000 45px,#00008a 46px,#0000da 53px,#0006ff 60px,#007cff 65px,#00fffe 68px,#00ffd9 70px,#00ff75 78px,#00ff32 85px,#04ff00 96px,#6aff00 108px,#6f0 132px,#30ff00 147px,#30ff00 151px,#9cff00 156px,#9cff00 166px,#42ff00 172px,#0cff00 175px,#0cff00 180px)"></i><i style="left:214px;width:1px;background:linear-gradient(#000 0,#000 47px,#000090 48px,#0000b9 55px,#0000d1 61px,#0000f8 63px,#0009ff 64px,#0020ff 65px,#00afff 69px,#00fffd 73px,#00ff8f 83px,#00ff60 87px,#00ff12 98px,#01ff00 101px,#51ff00 109px,#6aff00 114px,#64ff00 134px,#4dff00 149px,#4dff00 151px,#b2ff00 156px,#b2ff00 166px,#5fff00 172px,#29ff00 175px,#29ff00 180px)"></i><i style="left:215px;width:1px;background:linear-gradient(#000 0,#000 62px,#000094 63px,#0000e4 70px,#0003ff 75px,#001aff 77px,#0090ff 82px,#00e9ff 84px,#00fff4 85px,#00ffcf 87px,#0f7 94px,#00ff05 107px,#17ff00 109px,#54ff00 113px,#4eff00 136px,#42ff00 151px,#9cff00 156px,#9cff00 166px,#6f0 171px,#1eff00 175px,#1eff00 180px)"></i><i style="left:216px;width:1px;background:linear-gradient(#000 0,#000 62px,#00009f 63px,#0000f0 70px,#0003ff 73px,#0030ff 77px,#00a7ff 82px,#0ff 84px,#00ffd0 86px,#00ff6b 94px,#00ff01 106px,#69ff00 113px,#63ff00 136px,#57ff00 151px,#b1ff00 156px,#b1ff00 166px,#7bff00 171px,#3f0 175px,#3f0 180px)"></i><i style="left:217px;width:1px;background:linear-gradient(#000 0,#000 62px,#009 63px,#0000e9 70px,#0002ff 74px,#0024ff 77px,#009aff 82px,#00f3ff 84px,#0fe 85px,#00ffca 87px,#00ff71 94px,#01ff00 107px,#5dff00 113px,#57ff00 136px,#4bff00 151px,#a6ff00 156px,#a6ff00 166px,#6fff00 171px,#27ff00 175px,#27ff00 180px)"></i><i style="left:218px;width:1px;background:linear-gradient(#000 0,#000 62px,#00009f 63px,#0000ef 70px,#0002ff 73px,#002fff 77px,#00a5ff 82px,#00feff 84px,#00ffd1 86px,#00ff6c 94px,#00ff02 106px,#68ff00 113px,#62ff00 136px,#5f0 151px,#b0ff00 156px,#b0ff00 166px,#7aff00 171px,#31ff00 175px,#31ff00 180px)"></i><i style="left:219px;width:1px;background:linear-gradient(#000 0,#000 62px,#00008b 63px,#0000dc 70px,#0000fe 76px,#0009ff 77px,#0080ff 82px,#00fffc 85px,#00ffd8 87px,#00ff7f 94px,#00ff04 108px,#17ff00 110px,#45ff00 113px,#3fff00 136px,#3f0 151px,#8dff00 156px,#8dff00 166px,#57ff00 171px,#0fff00 175px,#0fff00 180px)"></i><i style="left:220px;width:1px;background:linear-gradient(#000 0,#000 57px,#00008d 58px,#0000d7 65px,#0000fa 71px,#000dff 72px,#006cff 76px,#00f1ff 79px,#00ffef 80px,#00ff7e 89px,#00ff28 98px,#0f0 103px,#45ff00 108px,#40ff00 133px,#21ff00 148px,#21ff00 151px,#8dff00 156px,#8dff00 166px,#3f0 172px,#00ff02 175px,#00ff02 180px)"></i><i style="left:221px;width:1px;background:linear-gradient(#000 0,#000 59px,#0000a3 60px,#0000f3 67px,#0000fe 69px,#0037ff 74px,#00adff 79px,#00fffb 81px,#00ffcd 83px,#00ff5b 92px,#00ff0e 100px,#03ff00 102px,#6fff00 110px,#69ff00 136px,#5dff00 151px,#b7ff00 156px,#b7ff00 166px,#81ff00 171px,#39ff00 175px,#39ff00 180px)"></i><i style="left:222px;width:1px;background:linear-gradient(#000 0,#000 59px,#00008d 60px,#0000db 67px,#00f 73px,#0025ff 75px,#008cff 79px,#00e5ff 81px,#00fff7 82px,#00ffd5 84px,#00ff72 92px,#00ff1d 101px,#05ff00 105px,#4f0 110px,#3eff00 135px,#2eff00 151px,#85ff00 156px,#85ff00 166px,#53ff00 171px,#0aff00 175px,#0aff00 180px)"></i><i style="left:223px;width:1px;background:linear-gradient(#000 0,#000 59px,#00008c 60px,#0000d8 67px,#0000fc 73px,#000bff 74px,#0052ff 77px,#0092ff 79px,#00ebff 81px,#00fff6 82px,#00ffa1 88px,#00ff2f 99px,#02ff00 105px,#35ff00 109px,#3dff00 111px,#38ff00 134px,#24ff00 149px,#24ff00 151px,#7f0 156px,#7f0 166px,#48ff00 171px,#0f0 175px,#0f0 180px)"></i><i style="left:224px;width:1px;background:linear-gradient(#000 0,#000 59px,#00008d 60px,#0000d6 67px,#0000fc 73px,#000dff 74px,#0054ff 77px,#009cff 79px,#00f5ff 81px,#00fff3 82px,#0f8 90px,#00ff1f 101px,#03ff00 105px,#2fff00 108px,#3aff00 111px,#36ff00 133px,#1dff00 149px,#1dff00 151px,#6cff00 156px,#6cff00 166px,#41ff00 171px,#0bff00 174px,#00ff04 175px,#00ff04 180px)"></i><i style="left:225px;width:1px;background:linear-gradient(#000 0,#000 59px,#000097 60px,#0000d8 66px,#0000fb 72px,#0023ff 74px,#006aff 77px,#00e6ff 80px,#00fff5 81px,#00ff7e 90px,#00ff15 101px,#00ff04 103px,#25ff00 106px,#43ff00 108px,#48ff00 131px,#28ff00 148px,#28ff00 151px,#74ff00 156px,#74ff00 166px,#4cff00 171px,#04ff00 175px,#04ff00 180px)"></i><i style="left:226px;width:1px;background:linear-gradient(#000 0,#000 57px,#00008c 58px,#0000dc 65px,#00f 71px,#000bff 72px,#0081ff 77px,#00fffb 80px,#00ffd7 82px,#00ff73 90px,#00ff0a 101px,#00ff01 102px,#58ff00 108px,#54ff00 133px,#34ff00 148px,#34ff00 151px,#7dff00 156px,#7dff00 166px,#58ff00 171px,#10ff00 175px,#10ff00 180px)"></i><i style="left:227px;width:1px;background:linear-gradient(#000 0,#000 52px,#000089 53px,#0000a0 56px,#0000c4 58px,#0000f9 65px,#0008ff 66px,#0056ff 70px,#00e4ff 74px,#00fdff 75px,#00ffc5 79px,#0f9 82px,#00ff43 90px,#00ff02 99px,#68ff00 108px,#68ff00 131px,#08ff00 146px,#08ff00 151px,#38ff00 156px,#38ff00 166px,#5cff00 171px,#14ff00 175px,#14ff00 180px)"></i><i style="left:228px;width:1px;background:linear-gradient(#000 0,#000 49px,#00009b 50px,#0000b3 51px,#0003ff 58px,#0060ff 63px,#007eff 65px,#00f5ff 70px,#00fff0 71px,#00ffb4 74px,#00ff51 83px,#00ff10 91px,#02ff00 94px,#8cff00 108px,#8cff00 131px,#00ff02 145px,#00ff08 151px,#05ff00 155px,#09ff00 166px,#6dff00 171px,#24ff00 175px,#24ff00 180px)"></i><i style="left:229px;width:1px;background:linear-gradient(#000 0,#000 38px,#000092 39px,#0000d3 47px,#0000db 49px,#0000fa 52px,#0004ff 53px,#0079ff 58px,#00e5ff 61px,#00fffa 62px,#00ff41 77px,#00ff01 87px,#b9ff00 108px,#b9ff00 131px,#05ff00 144px,#00ff0d 147px,#00ff0f 166px,#04ff00 167px,#7fff00 171px,#36ff00 175px,#36ff00 180px)"></i><i style="left:230px;width:1px;background:linear-gradient(#000 0,#000 38px,#000095 39px,#0000df 46px,#0000fe 51px,#001dff 53px,#006aff 56px,#00a8ff 58px,#00faff 60px,#00ffcd 63px,#00ff61 72px,#00ff2e 78px,#02ff00 88px,#a7ff00 108px,#a7ff00 131px,#00ff01 141px,#00ff31 146px,#00ff36 153px,#00ff3f 160px,#00ff3f 166px,#06ff00 169px,#53ff00 171px,#0bff00 175px,#0bff00 180px)"></i><i style="left:231px;width:1px;background:linear-gradient(#000 0,#000 37px,#00008c 38px,#00c 44px,#00e 50px,#0000fa 51px,#0025ff 53px,#05f 55px,#00daff 58px,#00fffb 59px,#00ff8a 68px,#00ff47 75px,#03ff00 90px,#9cff00 108px,#9cff00 131px,#02ff00 139px,#00ff4c 146px,#00ff50 152px,#00ff61 157px,#00ff61 166px,#04ff00 170px,#30ff00 171px,#00ff04 174px,#00ff0e 175px,#00ff0e 180px)"></i><i style="left:232px;width:1px;background:linear-gradient(#000 0,#000 37px,#00008b 38px,#0000ca 44px,#0000ed 50px,#0000f9 51px,#000bff 52px,#0052ff 55px,#00fffd 59px,#00ff8b 68px,#00ff48 75px,#05ff00 91px,#91ff00 108px,#91ff00 131px,#00ff01 139px,#00ff4a 146px,#00ff4e 152px,#00ff5d 158px,#00ff5d 166px,#04ff00 170px,#2eff00 171px,#0aff00 173px,#00ff0f 175px,#00ff0f 180px)"></i><i style="left:233px;width:1px;background:linear-gradient(#000 0,#000 37px,#00008f 38px,#0000ce 44px,#0000f0 50px,#0000fc 51px,#005aff 55px,#00dfff 58px,#00fff9 59px,#00ff87 68px,#00ff45 75px,#0f0 90px,#8fff00 108px,#8fff00 131px,#03ff00 139px,#0f4 146px,#00ff4a 153px,#00ff54 159px,#00ff54 166px,#00ff10 169px,#0dff00 170px,#34ff00 171px,#00ff01 174px,#00ff0b 175px,#00ff0b 180px)"></i><i style="left:234px;width:1px;background:linear-gradient(#000 0,#000 37px,#00008b 38px,#0000ca 44px,#0000ed 50px,#0000f9 51px,#000bff 52px,#0052ff 55px,#00fffd 59px,#00ff8b 68px,#00ff4d 74px,#04ff00 92px,#7fff00 108px,#7fff00 131px,#00ff03 139px,#00ff45 146px,#00ff4d 154px,#00ff52 166px,#0f1 169px,#08ff00 170px,#2eff00 171px,#0aff00 173px,#00ff0f 175px,#00ff0f 180px)"></i><i style="left:235px;width:1px;background:linear-gradient(#000 0,#000 35px,#00008d 36px,#00d 43px,#0001ff 49px,#000cff 50px,#0083ff 55px,#00dbff 57px,#00fffb 58px,#00ffd6 60px,#00ff72 68px,#00ff34 74px,#00ff01 86px,#a2ff00 108px,#a2ff00 131px,#06ff00 141px,#00ff2a 146px,#00ff32 155px,#00ff34 166px,#00ff0b 168px,#12ff00 169px,#5aff00 171px,#12ff00 175px,#12ff00 180px)"></i><i style="left:236px;width:1px;background:linear-gradient(#000 0,#000 42px,#00008e 43px,#000091 44px,#0000b5 46px,#0000ef 52px,#0009ff 54px,#001aff 55px,#0089ff 59px,#00feff 64px,#00ffa2 70px,#00ff62 76px,#00ff1f 86px,#02ff00 93px,#7f0 108px,#7f0 131px,#04ff00 143px,#00ff0e 147px,#00ff0e 151px,#0f0 153px,#26ff00 156px,#26ff00 166px,#4aff00 171px,#02ff00 175px,#02ff00 180px)"></i><i style="left:237px;width:1px;background:linear-gradient(#000 0,#000 46px,#00008f 47px,#0000da 54px,#0000fc 60px,#0070ff 65px,#00f5ff 68px,#00ffe0 70px,#00ff7b 78px,#00ff39 85px,#0f0 97px,#5bff00 108px,#58ff00 132px,#25ff00 147px,#25ff00 151px,#b5ff00 156px,#b5ff00 166px,#37ff00 172px,#01ff00 175px,#01ff00 180px)"></i><i style="left:238px;width:1px;background:linear-gradient(#000 0,#000 52px,#00008e 53px,#009 57px,#0000bd 59px,#0003ff 65px,#0078ff 69px,#00d9ff 74px,#00f2ff 75px,#00fff9 76px,#00ffd2 79px,#00ff93 83px,#00ff3d 93px,#01ff00 102px,#4aff00 109px,#45ff00 133px,#25ff00 148px,#25ff00 151px,#daff00 156px,#daff00 166px,#4aff00 171px,#01ff00 175px,#01ff00 180px)"></i><i style="left:239px;width:1px;background:linear-gradient(#000 0,#000 60px,#00008c 61px,#0000cb 67px,#0000ed 73px,#0000f9 74px,#000cff 75px,#0053ff 78px,#00fffc 82px,#00ff8b 91px,#00ff3d 99px,#01ff00 107px,#1cff00 109px,#16ff00 136px,#0aff00 151px,#e3ff00 156px,#e3ff00 166px,#2eff00 171px,#0aff00 173px,#00ff04 174px,#00ff0f 175px,#00ff0f 180px)"></i><i style="left:240px;width:1px;background:linear-gradient(#000 0,#000 60px,#00008d 61px,#0000ce 67px,#0000fc 74px,#0026ff 76px,#05f 78px,#00d0ff 81px,#00fcff 82px,#0f8 91px,#00ff32 100px,#00ff02 106px,#26ff00 109px,#2eff00 114px,#28ff00 135px,#17ff00 150px,#17ff00 151px,#f0ff00 156px,#f0ff00 166px,#3bff00 171px,#05ff00 174px,#00ff07 177px,#00ff07 180px)"></i><i style="left:241px;width:1px;background:linear-gradient(#000 0,#000 60px,#00009c 61px,#0000e7 68px,#0000fe 72px,#001aff 74px,#0073ff 78px,#00b7ff 80px,#00e3ff 81px,#00fff7 82px,#00ffb7 86px,#00ff59 94px,#01ff00 104px,#49ff00 109px,#58ff00 111px,#52ff00 134px,#3dff00 149px,#3dff00 151px,#eaff00 155px,#fff800 156px,#fff800 166px,#f1ff00 167px,#61ff00 171px,#19ff00 175px,#19ff00 180px)"></i><i style="left:242px;width:1px;background:linear-gradient(#000 0,#000 60px,#000097 61px,#0000e5 68px,#0004ff 73px,#0021ff 75px,#0085ff 79px,#00a2ff 80px,#00faff 82px,#00ffcb 85px,#00ff68 93px,#00ff01 104px,#5eff00 111px,#59ff00 133px,#3eff00 148px,#3eff00 151px,#ebff00 155px,#fff700 156px,#fff700 166px,#f3ff00 167px,#62ff00 171px,#1aff00 175px,#1aff00 180px)"></i><i style="left:243px;width:1px;background:linear-gradient(#000 0,#000 60px,#00008b 61px,#0000db 68px,#0000fd 74px,#0008ff 75px,#007eff 80px,#00fffd 83px,#00ffd8 85px,#00ff74 93px,#00ff0b 104px,#00ff03 105px,#56ff00 111px,#51ff00 133px,#32ff00 148px,#32ff00 151px,#dfff00 155px,#fffb00 156px,#fffb00 166px,#e6ff00 167px,#56ff00 171px,#0eff00 175px,#0eff00 180px)"></i><i style="left:244px;width:1px;background:linear-gradient(#000 0,#000 60px,#00009b 61px,#0000eb 68px,#0005ff 72px,#0027ff 75px,#009dff 80px,#00f6ff 82px,#00ffd5 84px,#00ff64 93px,#00ff04 103px,#25ff00 106px,#6fff00 111px,#6bff00 133px,#4eff00 148px,#4eff00 151px,#fcff00 155px,#fff200 156px,#fff200 166px,#fffe00 167px,#73ff00 171px,#2aff00 175px,#2aff00 180px)"></i><i style="left:245px;width:1px;background:linear-gradient(#000 0,#000 62px,#000094 63px,#0000d3 69px,#0005ff 76px,#0063ff 80px,#00e8ff 83px,#00fff4 84px,#00ff82 93px,#00ff23 103px,#00ff02 107px,#36ff00 111px,#32ff00 133px,#19ff00 149px,#19ff00 151px,#f2ff00 156px,#f2ff00 166px,#3dff00 171px,#07ff00 174px,#00ff06 177px,#00ff06 180px)"></i><i style="left:246px;width:1px;background:linear-gradient(#000 0,#000 61px,#00008c 62px,#0000d6 69px,#0000f8 75px,#000bff 76px,#0069ff 80px,#0ef 83px,#00fff1 84px,#00ff7f 93px,#00ff29 102px,#0f0 107px,#38ff00 111px,#3f0 134px,#1fff00 149px,#1fff00 151px,#f7ff00 156px,#f7ff00 166px,#43ff00 171px,#00ff03 175px,#00ff03 180px)"></i><i style="left:247px;width:1px;background:linear-gradient(#000 0,#000 62px,#000094 63px,#0000d3 69px,#0004ff 76px,#0063ff 80px,#00e8ff 83px,#00fff4 84px,#00ff82 93px,#00ff2d 102px,#05ff00 108px,#2eff00 111px,#28ff00 135px,#19ff00 151px,#f1ff00 156px,#f1ff00 166px,#3dff00 171px,#07ff00 174px,#00ff07 178px,#00ff07 180px)"></i><i style="left:248px;width:1px;background:linear-gradient(#000 0,#000 63px,#00008d 64px,#0000c1 69px,#0000e3 75px,#0000fb 77px,#0040ff 80px,#00f1ff 84px,#00fff9 85px,#00ff95 93px,#00ff47 101px,#00ff02 110px,#0bff00 111px,#04ff00 136px,#00ff04 151px,#4fff00 153px,#d1ff00 156px,#d1ff00 166px,#1dff00 171px,#00ff04 173px,#00ff19 175px,#00ff19 180px)"></i><i style="left:249px;width:1px;background:linear-gradient(#000 0,#000 46px,#00009a 47px,#0000ea 54px,#0005ff 58px,#0026ff 61px,#009dff 66px,#00f5ff 68px,#00ffd6 70px,#00ff64 79px,#00ff20 86px,#0f0 91px,#baff00 108px,#baff00 131px,#4eff00 146px,#4eff00 151px,#fbff00 155px,#fff200 156px,#fff200 166px,#fffe00 167px,#72ff00 171px,#2aff00 175px,#2aff00 180px)"></i><i style="left:250px;width:1px;background:linear-gradient(#000 0,#000 46px,#000090 47px,#0000e1 54px,#0000fd 59px,#0013ff 61px,#0089ff 66px,#00e2ff 68px,#00fff7 69px,#00ffd3 71px,#00ff6e 79px,#00ff2a 86px,#03ff00 93px,#a8ff00 108px,#a8ff00 131px,#3cff00 146px,#3cff00 151px,#e9ff00 155px,#fff800 156px,#fff800 166px,#f1ff00 167px,#60ff00 171px,#18ff00 175px,#18ff00 180px)"></i><i style="left:251px;width:1px;background:linear-gradient(#000 0,#000 60px,#00008f 61px,#0000d9 68px,#0000fb 74px,#0040ff 77px,#006fff 79px,#00f4ff 82px,#00ffed 83px,#00ff7c 92px,#00ff2e 100px,#0f0 106px,#36ff00 110px,#30ff00 136px,#24ff00 151px,#fdff00 156px,#fdff00 166px,#48ff00 171px,#0f0 175px,#0f0 180px)"></i><i style="left:252px;width:1px;background:linear-gradient(#000 0,#000 58px,#000089 59px,#0000a4 60px,#0000f3 67px,#0000fe 69px,#003aff 74px,#00b4ff 79px,#00e0ff 80px,#00fff8 81px,#00ffcb 83px,#00ff5a 92px,#00ff05 101px,#13ff00 103px,#71ff00 110px,#78ff00 151px,#edff00 154px,#fff800 155px,#ffeb00 156px,#ffeb00 166px,#fff800 167px,#f0ff00 168px,#7fff00 171px,#37ff00 175px,#37ff00 180px)"></i><i style="left:253px;width:1px;background:linear-gradient(#000 0,#000 59px,#00009c 60px,#0000ea 67px,#0004ff 71px,#002bff 74px,#008aff 78px,#0af 79px,#00fffd 81px,#00ffd3 83px,#00ff62 92px,#00ff0d 101px,#06ff00 103px,#5bff00 109px,#63ff00 111px,#67ff00 133px,#83ff00 148px,#83ff00 151px,#ebff00 154px,#fffa00 155px,#ffef00 156px,#ffef00 166px,#fffb00 167px,#e3ff00 168px,#6eff00 171px,#25ff00 175px,#25ff00 180px)"></i><i style="left:254px;width:1px;background:linear-gradient(#000 0,#000 59px,#000095 60px,#0000e2 67px,#00f 72px,#001dff 74px,#007cff 78px,#0cf 80px,#00f9ff 81px,#00ffcd 84px,#00ff6a 92px,#00ff0c 102px,#08ff00 104px,#50ff00 109px,#5f0 121px,#59ff00 132px,#8fff00 147px,#8fff00 151px,#eaff00 154px,#fffc00 155px,#fff200 157px,#fff200 166px,#feff00 167px,#5dff00 171px,#14ff00 175px,#14ff00 180px)"></i><i style="left:255px;width:1px;background:linear-gradient(#000 0,#000 59px,#00008c 60px,#0000d8 67px,#0000fa 73px,#000cff 74px,#006aff 78px,#00ebff 81px,#00fff2 82px,#00ff7e 91px,#00ff15 102px,#07ff00 105px,#42ff00 109px,#4f0 131px,#97ff00 146px,#97ff00 151px,#ff0 155px,#fff600 157px,#fff600 166px,#f0ff00 167px,#48ff00 171px,#0f0 175px,#0f0 180px)"></i><i style="left:256px;width:1px;background:linear-gradient(#000 0,#000 59px,#00008f 60px,#0000da 67px,#0000fc 73px,#0071ff 78px,#00f6ff 81px,#00ffdf 83px,#00ff7b 91px,#00ff12 102px,#00ff01 104px,#4aff00 109px,#4aff00 131px,#b6ff00 146px,#b6ff00 151px,#f7ff00 154px,#fff300 156px,#fff300 166px,#f7ff00 167px,#4aff00 171px,#02ff00 175px,#02ff00 180px)"></i><i style="left:257px;width:1px;background:linear-gradient(#000 0,#000 65px,#000092 66px,#0000ac 68px,#0000fd 77px,#000eff 78px,#009cff 83px,#00fffa 87px,#00ffb9 91px,#00ff6a 98px,#00ff0c 110px,#06ff00 114px,#1aff00 117px,#1aff00 131px,#a1ff00 146px,#a1ff00 151px,#f8ff00 155px,#fffa00 158px,#fffa00 166px,#e2ff00 167px,#35ff00 171px,#00ff01 174px,#00ff0b 175px,#00ff0b 180px)"></i><i style="left:258px;width:1px;background:linear-gradient(#000 0,#000 66px,#00008d 67px,#0000de 74px,#0002ff 80px,#000dff 81px,#0083ff 86px,#00dcff 88px,#00fffa 89px,#00ffd6 91px,#00ff7e 98px,#00ff02 114px,#25ff00 117px,#25ff00 131px,#c7ff00 146px,#c7ff00 151px,#f2ff00 153px,#fffc00 154px,#fe0 157px,#fe0 166px,#fffc00 167px,#b1ff00 169px,#5bff00 171px,#12ff00 175px,#12ff00 180px)"></i><i style="left:259px;width:1px;background:linear-gradient(#000 0,#000 67px,#000090 68px,#0000dc 75px,#0000fe 81px,#0073ff 86px,#00f4ff 89px,#0fe 90px,#00ff86 98px,#00ff02 115px,#17ff00 117px,#19ff00 131px,#bcff00 146px,#bcff00 151px,#fdff00 154px,#fff100 157px,#fff100 166px,#fdff00 167px,#4fff00 171px,#07ff00 175px,#07ff00 180px)"></i><i style="left:260px;width:1px;background:linear-gradient(#000 0,#000 67px,#000094 68px,#0000e1 75px,#0000fe 80px,#0009ff 81px,#007aff 86px,#0cf 88px,#00f8ff 89px,#00ffcd 92px,#00ff81 98px,#04ff00 115px,#1fff00 117px,#24ff00 131px,#c7ff00 146px,#c7ff00 151px,#f2ff00 153px,#fffc00 154px,#fe0 157px,#fe0 166px,#fffc00 167px,#b1ff00 169px,#5aff00 171px,#12ff00 175px,#12ff00 180px)"></i><i style="left:261px;width:1px;background:linear-gradient(#000 0,#000 66px,#000089 67px,#00009f 68px,#0000ec 75px,#0000fd 78px,#0030ff 82px,#008eff 86px,#00afff 87px,#00fffa 89px,#00ffd0 91px,#00ff76 98px,#00ff02 113px,#3aff00 118px,#3aff00 131px,#df0 146px,#df0 151px,#fffc00 153px,#ffe700 156px,#ffe700 166px,#fff500 167px,#f3ff00 168px,#70ff00 171px,#28ff00 175px,#28ff00 180px)"></i><i style="left:262px;width:1px;background:linear-gradient(#000 0,#000 67px,#000094 68px,#0000e3 75px,#0001ff 80px,#001bff 82px,#0097ff 87px,#00efff 89px,#00fff0 90px,#00ffc1 93px,#00ff78 99px,#00ff04 114px,#2bff00 118px,#2bff00 131px,#ceff00 146px,#ceff00 151px,#f9ff00 153px,#ffec00 157px,#ffec00 166px,#fffa00 167px,#e3ff00 168px,#61ff00 171px,#19ff00 175px,#19ff00 180px)"></i><i style="left:263px;width:1px;background:linear-gradient(#000 0,#000 67px,#00008f 68px,#0000e4 76px,#0004ff 81px,#01f 82px,#0089ff 87px,#00e1ff 89px,#00fff7 90px,#00ffd4 92px,#00ff7d 99px,#00ff01 115px,#26ff00 118px,#26ff00 131px,#c8ff00 146px,#c8ff00 151px,#f4ff00 153px,#fffc00 154px,#ffed00 157px,#ffed00 166px,#fffc00 167px,#deff00 168px,#5cff00 171px,#14ff00 175px,#14ff00 180px)"></i><i style="left:264px;width:1px;background:linear-gradient(#000 0,#000 61px,#00008a 62px,#00009b 66px,#0000bf 68px,#0000fc 74px,#02f 76px,#0091ff 80px,#00ceff 83px,#0ff 85px,#00ffb3 90px,#00ff54 98px,#00ff06 109px,#0aff00 112px,#32ff00 118px,#32ff00 131px,#c3ff00 146px,#c3ff00 151px,#fffd00 154px,#ffef00 157px,#ffef00 166px,#fffd00 167px,#57ff00 171px,#0eff00 175px,#0eff00 180px)"></i><i style="left:265px;width:1px;background:linear-gradient(#000 0,#000 63px,#00008d 64px,#000096 67px,#0000ba 69px,#0000fa 75px,#000dff 76px,#007cff 80px,#00cbff 84px,#00fcff 86px,#00ffd7 89px,#0f9 93px,#00ff4a 101px,#00ff12 109px,#02ff00 114px,#24ff00 119px,#24ff00 131px,#b5ff00 146px,#b5ff00 151px,#fffd00 155px,#fff700 159px,#fff700 166px,#ef0 167px,#48ff00 171px,#0f0 175px,#0f0 180px)"></i><i style="left:266px;width:1px;background:linear-gradient(#000 0,#000 68px,#009 69px,#0000e9 76px,#0003ff 80px,#002cff 83px,#00afff 88px,#00fffd 90px,#00ffd3 92px,#00ff73 100px,#00ff02 116px,#1eff00 119px,#24ff00 131px,#af0 145px,#c1ff00 147px,#d9ff00 151px,#fbff00 153px,#fff000 157px,#fff500 166px,#f4ff00 167px,#a3ff00 169px,#62ff00 171px,#25ff00 175px,#2f0 180px)"></i><i style="left:267px;width:1px;background:linear-gradient(#000 0,#000 67px,#000095 68px,#0000c3 71px,#0000fa 76px,#0002ff 77px,#0039ff 81px,#008eff 85px,#00faff 88px,#00ffad 93px,#00ff6a 99px,#0f3 107px,#0f0 118px,#17ff00 129px,#25ff00 133px,#5dff00 142px,#7aff00 145px,#ebff00 150px,#fffe00 152px,#ffec00 157px,#fff300 165px,#fffb00 166px,#dfff00 167px,#89ff00 169px,#65ff00 171px,#40ff00 175px,#36ff00 180px)"></i><i style="left:268px;width:1px;background:linear-gradient(#000 0,#000 67px,#00009a 68px,#0000ea 74px,#0000fe 77px,#0026ff 80px,#009cff 85px,#00f5ff 87px,#00ffed 88px,#00ffd6 89px,#00ff7c 97px,#00ff42 105px,#00ff24 114px,#05ff00 141px,#29ff00 145px,#deff00 150px,#fffe00 153px,#fff400 157px,#fffe00 165px,#4dff00 169px,#29ff00 180px)"></i><i style="left:269px;width:1px;background:linear-gradient(#000 0,#000 67px,#000091 68px,#0000e3 74px,#0000fe 78px,#0019ff 80px,#008eff 85px,#00e5ff 87px,#00fff6 88px,#00ffdf 89px,#00ff83 97px,#00ff49 105px,#00ff2a 114px,#03ff00 142px,#1eff00 145px,#d3ff00 150px,#fffe00 154px,#fff700 157px,#fbff00 164px,#f7ff00 165px,#42ff00 169px,#1eff00 180px)"></i><i style="left:270px;width:1px;background:linear-gradient(#000 0,#000 68px,#000089 69px,#0000d4 75px,#0003ff 81px,#0061ff 85px,#00e1ff 88px,#00fff8 89px,#00ff9b 97px,#00ff61 105px,#00ff40 114px,#00ff15 142px,#00ff05 145px,#3fff00 147px,#abff00 150px,#f4ff00 156px,#d0ff00 165px,#1bff00 169px,#00ff03 179px,#00ff05 180px)"></i><i style="left:271px;width:1px;background:linear-gradient(#000 0,#000 69px,#00008f 70px,#00c 75px,#0000f8 81px,#000bff 82px,#0052ff 85px,#00faff 89px,#00ffa4 97px,#00ff69 105px,#00ff48 114px,#00ff1c 142px,#00ff0c 145px,#0fff00 146px,#9fff00 150px,#e7ff00 156px,#c3ff00 165px,#0fff00 169px,#00ff05 176px,#00ff0c 180px)"></i><i style="left:272px;width:1px;background:linear-gradient(#000 0,#000 69px,#00008e 70px,#0000cd 75px,#0000f8 81px,#000aff 82px,#0051ff 85px,#00f7ff 89px,#00ffe9 91px,#00ff9d 98px,#00ff65 106px,#00ff45 115px,#00ff1b 142px,#00ff0c 145px,#10ff00 146px,#a0ff00 150px,#e9ff00 156px,#c5ff00 165px,#10ff00 169px,#00ff04 176px,#00ff0c 180px)"></i><i style="left:273px;width:1px;background:linear-gradient(#000 0,#000 68px,#00009b 69px,#0000e8 75px,#0007ff 79px,#0027ff 81px,#0086ff 85px,#00feff 88px,#00ffda 90px,#00ff82 98px,#00ff4a 106px,#00ff29 115px,#02ff00 142px,#1dff00 145px,#d2ff00 150px,#fffe00 154px,#fff700 157px,#faff00 164px,#f6ff00 165px,#42ff00 169px,#1dff00 180px)"></i><i style="left:274px;width:1px;background:linear-gradient(#000 0,#000 68px,#000094 69px,#0000e1 75px,#0000fc 79px,#0007ff 80px,#0078ff 85px,#00c4ff 87px,#0ef 88px,#00fff2 89px,#00ff91 97px,#00ff51 106px,#00ff2f 115px,#00ff05 142px,#0aff00 144px,#13ff00 145px,#c8ff00 150px,#fffd00 155px,#fcff00 161px,#ecff00 165px,#37ff00 169px,#13ff00 180px)"></i><i style="left:275px;width:1px;background:linear-gradient(#000 0,#000 68px,#00009d 69px,#0000eb 75px,#00f 78px,#002bff 81px,#008aff 85px,#00d3ff 87px,#00fdff 88px,#00ffce 91px,#00ff81 98px,#00ff48 106px,#00ff25 115px,#01ff00 141px,#25ff00 145px,#d9ff00 150px,#feff00 153px,#fff500 157px,#feff00 165px,#49ff00 169px,#25ff00 180px)"></i><i style="left:276px;width:1px;background:linear-gradient(#000 0,#000 69px,#000094 70px,#0000d4 75px,#0000fe 81px,#005dff 85px,#007cff 86px,#00f7ff 89px,#00ffe6 91px,#0f9 98px,#00ff5a 107px,#00ff3b 115px,#0f1 142px,#00ff01 145px,#b3ff00 150px,#fbff00 156px,#d7ff00 165px,#2f0 169px,#00ff01 180px)"></i><i style="left:277px;width:1px;background:linear-gradient(#000 0,#000 69px,#000092 70px,#0000d3 75px,#0000fd 81px,#005aff 85px,#07f 86px,#00f1ff 89px,#00fff4 90px,#00ff9b 98px,#00ff5c 107px,#00ff3c 115px,#0f1 142px,#00ff02 145px,#b2ff00 150px,#faff00 156px,#d6ff00 165px,#21ff00 169px,#00ff02 180px)"></i><i style="left:278px;width:1px;background:linear-gradient(#000 0,#000 68px,#00008e 69px,#00d 75px,#0000fe 80px,#0025ff 82px,#0087ff 86px,#00fffe 89px,#00ffd4 92px,#00ff92 98px,#00ff52 107px,#00ff32 115px,#00ff07 142px,#06ff00 144px,#0fff00 145px,#c4ff00 150px,#ff0 155px,#f8ff00 161px,#e8ff00 165px,#34ff00 169px,#0fff00 180px)"></i><i style="left:279px;width:1px;background:linear-gradient(#000 0,#000 68px,#000096 69px,#0000e6 75px,#0003ff 79px,#001eff 81px,#0096ff 86px,#00e6ff 88px,#00fff7 89px,#00ffd8 91px,#00ff89 98px,#00ff49 107px,#00ff2a 114px,#00ff02 141px,#20ff00 145px,#d5ff00 150px,#fffd00 154px,#fff600 157px,#f9ff00 165px,#45ff00 169px,#20ff00 180px)"></i><i style="left:280px;width:1px;background:linear-gradient(#000 0,#000 68px,#00008d 69px,#00d 75px,#00f 80px,#000dff 81px,#0083ff 86px,#00f9ff 89px,#00ffb2 95px,#00ff84 100px,#00ff4d 108px,#00ff32 114px,#00ff05 142px,#09ff00 144px,#12ff00 145px,#c7ff00 150px,#fffe00 155px,#fbff00 161px,#ebff00 165px,#36ff00 169px,#12ff00 180px)"></i><i style="left:281px;width:1px;background:linear-gradient(#000 0,#000 68px,#00008c 69px,#0000dc 75px,#0000fe 80px,#000aff 81px,#0081ff 86px,#00e9ff 89px,#00fff9 90px,#00ff93 99px,#00ff56 107px,#00ff32 115px,#00ff06 142px,#0f0 143px,#15ff00 145px,#91ff00 150px,#c3ff00 156px,#a8ff00 165px,#2bff00 169px,#10ff00 180px)"></i><i style="left:282px;width:1px;background:linear-gradient(#000 0,#000 68px,#00008a 69px,#0000db 75px,#0000fc 80px,#0007ff 81px,#007eff 86px,#00f5ff 90px,#00ffea 92px,#00ff93 100px,#00ff5a 107px,#00ff34 115px,#00ff07 142px,#0f0 143px,#28ff00 146px,#5bff00 150px,#76ff00 155px,#65ff00 165px,#47ff00 167px,#1fff00 169px,#14ff00 170px,#0dff00 180px)"></i><i style="left:283px;width:1px;background:linear-gradient(#000 0,#000 69px,#000095 70px,#0000d8 75px,#0003ff 81px,#008bff 87px,#00f9ff 91px,#00ffaf 98px,#00ff60 107px,#00ff38 116px,#00ff09 142px,#07ff00 144px,#4bff00 149px,#70ff00 154px,#65ff00 163px,#61ff00 165px,#43ff00 167px,#1bff00 169px,#0fff00 170px,#09ff00 180px)"></i><i style="left:284px;width:1px;background:linear-gradient(#000 0,#000 69px,#000089 70px,#00c 75px,#0000fe 82px,#0060ff 87px,#00feff 93px,#00ffa8 101px,#00ff6e 108px,#00ff48 117px,#00ff16 142px,#00ff05 145px,#4f0 148px,#74ff00 150px,#a6ff00 156px,#8bff00 165px,#0eff00 169px,#00ff01 174px,#00ff08 180px)"></i><i style="left:285px;width:1px;background:linear-gradient(#000 0,#000 69px,#000093 70px,#0000d6 75px,#0000fe 81px,#0061ff 87px,#00ebff 92px,#00fffd 93px,#00ffa5 101px,#00ff6a 108px,#00ff41 118px,#00ff0c 142px,#05ff00 145px,#baff00 150px,#fffe00 156px,#deff00 165px,#2aff00 169px,#05ff00 180px)"></i><i style="left:286px;width:1px;background:linear-gradient(#000 0,#000 69px,#000092 70px,#00d 76px,#0000fe 81px,#005eff 87px,#00f0ff 93px,#00fffc 94px,#00ff92 104px,#00ff6d 109px,#00ff45 118px,#00ff0f 142px,#04ff00 145px,#b2ff00 150px,#fffe00 156px,#daff00 165px,#25ff00 169px,#01ff00 180px)"></i><i style="left:287px;width:1px;background:linear-gradient(#000 0,#000 69px,#000093 70px,#0000de 76px,#0001ff 81px,#005eff 87px,#00e3ff 93px,#00fffa 95px,#00ff7e 107px,#00ff48 118px,#0f1 142px,#06ff00 145px,#adff00 150px,#fffe00 156px,#d9ff00 165px,#25ff00 169px,#01ff00 180px)"></i><i style="left:288px;width:1px;background:linear-gradient(#000 0,#000 69px,#000095 70px,#0000e1 76px,#0000fc 80px,#0016ff 82px,#0061ff 87px,#00e8ff 94px,#00faff 95px,#00ff84 107px,#00ff4c 117px,#00ff10 142px,#00ff02 144px,#0aff00 145px,#abff00 150px,#f8ff00 155px,#fffe00 157px,#dbff00 165px,#26ff00 169px,#02ff00 180px)"></i><i style="left:289px;width:1px;background:linear-gradient(#000 0,#000 70px,#000095 71px,#0000d5 76px,#0000fe 82px,#0059ff 88px,#00dcff 96px,#00f4ff 97px,#00fff8 98px,#0f9 107px,#00ff61 116px,#00ff28 141px,#00ff07 145px,#0dff00 146px,#8dff00 150px,#e0ff00 155px,#f0ff00 156px,#c1ff00 165px,#0dff00 169px,#00ff04 175px,#00ff0d 180px)"></i><i style="left:290px;width:1px;background:linear-gradient(#000 0,#000 70px,#000096 71px,#0000d7 76px,#0001ff 82px,#00cbff 96px,#00fbff 98px,#00ffa8 106px,#00ff6e 114px,#00ff52 122px,#00ff29 141px,#00ff05 145px,#0eff00 146px,#8aff00 150px,#b2ff00 152px,#f3ff00 156px,#c2ff00 165px,#0eff00 169px,#00ff03 175px,#00ff0d 180px)"></i><i style="left:291px;width:1px;background:linear-gradient(#000 0,#000 70px,#000096 71px,#0000d7 76px,#0002ff 82px,#0092ff 93px,#00b5ff 96px,#00feff 99px,#00ffb0 106px,#00ff78 113px,#00ff5b 120px,#00ff2c 141px,#00ff06 145px,#0bff00 146px,#9dff00 151px,#f3ff00 156px,#bfff00 165px,#0bff00 169px,#00ff05 175px,#00ff0e 180px)"></i><i style="left:292px;width:1px;background:linear-gradient(#000 0,#000 69px,#000090 70px,#0000e0 76px,#0005ff 81px,#006bff 89px,#00afff 96px,#00f9ff 99px,#00ffaf 106px,#00ff74 113px,#00ff56 120px,#00ff27 141px,#05ff00 145px,#17ff00 146px,#a7ff00 151px,#fffe00 156px,#cbff00 165px,#17ff00 169px,#00ff02 177px,#00ff08 180px)"></i><i style="left:293px;width:1px;background:linear-gradient(#000 0,#000 69px,#000091 70px,#0000e2 76px,#0000fc 80px,#07f 90px,#00b3ff 96px,#00fcff 99px,#00ffb7 105px,#0f7 113px,#00ff5c 123px,#00ff3d 141px,#00ff07 147px,#09ff00 148px,#4aff00 151px,#8cff00 156px,#73ff00 165px,#17ff00 168px,#00ff05 169px,#00ff1b 180px)"></i><i style="left:294px;width:1px;background:linear-gradient(#000 0,#000 70px,#00008e 71px,#0000d1 76px,#0002ff 83px,#0058ff 90px,#0093ff 96px,#00f5ff 100px,#00ffea 102px,#00ffc0 106px,#00ff8f 112px,#00ff60 142px,#00ff14 153px,#00ff05 157px,#00ff03 165px,#00ff29 169px,#00ff40 180px)"></i><i style="left:295px;width:1px;background:linear-gradient(#000 0,#000 69px,#000094 70px,#0000e4 76px,#00f 80px,#0072ff 89px,#00b7ff 96px,#00fffe 99px,#00ffb6 105px,#00ff7f 112px,#00ff67 142px,#00ff3b 154px,#00ff25 167px,#00ff41 180px)"></i><i style="left:296px;width:1px;background:linear-gradient(#000 0,#000 69px,#00009b 70px,#00e 76px,#0000fd 78px,#008fff 90px,#0cf 96px,#00f9ff 98px,#00ffac 105px,#00ff76 112px,#00ff5c 143px,#00ff41 155px,#00ff38 167px,#00ff57 180px)"></i><i style="left:297px;width:1px;background:linear-gradient(#000 0,#000 71px,#000090 72px,#0000cf 77px,#0000fd 84px,#007dff 96px,#00f0ff 101px,#00fffa 102px,#00ffcd 106px,#00ff9f 113px,#00ff92 128px,#00ff80 150px,#00ff83 168px,#00ffa1 180px)"></i><i style="left:298px;width:1px;background:linear-gradient(#000 0,#000 71px,#00008c 72px,#0000cb 77px,#0000fe 85px,#0074ff 96px,#00b1ff 99px,#00fbff 102px,#0fc 107px,#00ffa5 113px,#00ff9a 119px,#00ff95 154px,#00ffac 170px,#00ffc6 180px)"></i><i style="left:299px;width:1px;background:linear-gradient(#000 0,#000 71px,#00008c 72px,#0000cd 77px,#0001ff 85px,#006aff 95px,#0096ff 98px,#00f9ff 102px,#00ffcb 107px,#00ff9d 115px,#00ff97 144px,#00ffd2 173px,#00ffe5 180px)"></i><i style="left:300px;width:1px;background:linear-gradient(#000 0,#000 70px,#00008a 71px,#0000d9 77px,#0004ff 83px,#005cff 92px,#00a8ff 98px,#00f2ff 101px,#00fff9 102px,#00ffc1 107px,#00ff8b 116px,#00ff8b 142px,#00fffa 180px)"></i><i style="left:301px;width:1px;background:linear-gradient(#000 0,#000 70px,#00009d 71px,#0000ed 77px,#0004ff 80px,#0034ff 84px,#0073ff 91px,#00c9ff 98px,#00faff 100px,#00ffb4 106px,#00ff76 116px,#00ff7a 142px,#00ffec 171px,#00fcff 178px,#00f0ff 180px)"></i><i style="left:302px;width:1px;background:linear-gradient(#000 0,#000 71px,#000098 72px,#0000e2 78px,#0000fd 82px,#004fff 91px,#00a5ff 98px,#00fffd 102px,#00ffc4 107px,#00ff8b 116px,#00ff8f 142px,#00feff 169px,#00beff 180px)"></i><i style="left:303px;width:1px;background:linear-gradient(#000 0,#000 71px,#00008c 72px,#0000d7 78px,#0000fe 84px,#0045ff 92px,#008fff 98px,#0ff 103px,#00ffd3 107px,#0f9 116px,#00ff9d 142px,#0fe 161px,#00fffe 164px,#009aff 180px)"></i><i style="left:304px;width:1px;background:linear-gradient(#000 0,#000 71px,#000095 72px,#0000e1 78px,#0000fc 82px,#0057ff 92px,#00a1ff 98px,#00f6ff 102px,#00ffec 104px,#00ffc4 108px,#00ff92 116px,#00ff96 142px,#0fd 159px,#0ff 165px,#009eff 180px)"></i><i style="left:305px;width:1px;background:linear-gradient(#000 0,#000 71px,#00008d 72px,#0000da 78px,#0004ff 84px,#0047ff 92px,#0091ff 98px,#00f9ff 103px,#00ffcf 108px,#00ff9c 116px,#00ffa0 142px,#00ffe1 158px,#00fcff 163px,#00d2ff 167px,#0080ff 180px)"></i><i style="left:306px;width:1px;background:linear-gradient(#000 0,#000 71px,#00009b 72px,#0000e9 78px,#0000fd 81px,#0032ff 86px,#006fff 93px,#00beff 99px,#00faff 102px,#00ffbd 109px,#00ff90 116px,#00ff94 142px,#00ffce 157px,#00fffd 164px,#00dcff 168px,#008eff 180px)"></i><i style="left:307px;width:1px;background:linear-gradient(#000 0,#000 71px,#000098 72px,#0000e6 78px,#0004ff 82px,#002cff 86px,#0069ff 93px,#00c5ff 100px,#00fffd 103px,#00ffc3 109px,#00ff96 116px,#00ff9a 142px,#00ffd3 157px,#0ff 163px,#00d6ff 166px,#0079ff 180px)"></i><i style="left:308px;width:1px;background:linear-gradient(#000 0,#000 71px,#00009b 72px,#0000eb 78px,#00f 81px,#002eff 85px,#006fff 93px,#00c9ff 100px,#00fffb 103px,#00ffc2 109px,#00ff95 116px,#00ff98 142px,#00ffd1 157px,#00feff 163px,#00d1ff 166px,#0071ff 180px)"></i><i style="left:309px;width:1px;background:linear-gradient(#000 0,#000 71px,#00008e 72px,#0000de 78px,#0001ff 83px,#003bff 90px,#0062ff 94px,#00acff 100px,#00fbff 104px,#00ffcb 110px,#00ffa4 116px,#00ffa8 142px,#00ffe0 157px,#00fbff 161px,#00acff 166px,#0049ff 180px)"></i><i style="left:310px;width:1px;background:linear-gradient(#000 0,#000 70px,#00008a 71px,#0000a9 72px,#0000fb 78px,#002eff 82px,#0050ff 85px,#008fff 93px,#00e3ff 100px,#00fffa 102px,#00ffba 109px,#00ff8f 116px,#00ff90 142px,#00ffc4 157px,#00fbff 165px,#00e6ff 167px,#008cff 180px)"></i><i style="left:311px;width:1px;background:linear-gradient(#000 0,#000 71px,#000097 72px,#0000f4 79px,#0004ff 81px,#0034ff 85px,#0071ff 93px,#00d4ff 101px,#00f7ff 103px,#00fff1 105px,#00ffc3 111px,#00ffa6 117px,#00ffa6 142px,#00ffd6 157px,#00feff 163px,#00d0ff 167px,#0079ff 180px)"></i><i style="left:312px;width:1px;background:linear-gradient(#000 0,#000 72px,#00009c 73px,#0000e8 79px,#0000fc 82px,#03f 88px,#0064ff 94px,#00b8ff 101px,#00faff 105px,#00ffbc 116px,#00ffb6 141px,#00ffe4 157px,#00fffd 161px,#00bfff 167px,#006bff 180px)"></i><i style="left:313px;width:1px;background:linear-gradient(#000 0,#000 72px,#00008f 73px,#0000dc 79px,#0000fd 84px,#004aff 94px,#009cff 101px,#00f7ff 107px,#00fff5 109px,#00ffcf 117px,#00ffc9 137px,#00ffd3 145px,#00fff3 157px,#00fffe 159px,#00aeff 167px,#005cff 180px)"></i><i style="left:314px;width:1px;background:linear-gradient(#000 0,#000 73px,#00008f 74px,#0000d0 79px,#0000fe 87px,#0032ff 94px,#008dff 102px,#00faff 110px,#00ffe0 119px,#00ffe1 143px,#00faff 157px,#009dff 167px,#004dff 180px)"></i><i style="left:315px;width:1px;background:linear-gradient(#000 0,#000 73px,#00008c 74px,#0000cd 79px,#0000fc 87px,#0015ff 91px,#05f 98px,#00f3ff 111px,#00fff9 114px,#00ffe6 123px,#00ffeb 144px,#00fdff 155px,#0093ff 169px,#0051ff 180px)"></i><i style="left:316px;width:1px;background:linear-gradient(#000 0,#000 73px,#000091 74px,#0000d3 79px,#00f 86px,#0040ff 95px,#00c5ff 107px,#00f9ff 112px,#00ffef 118px,#00ffe6 125px,#00ffeb 144px,#0ff 156px,#009bff 171px,#06f 180px)"></i><i style="left:317px;width:1px;background:linear-gradient(#000 0,#000 73px,#00008d 74px,#0000d0 79px,#0000fb 86px,#0013ff 90px,#0041ff 96px,#00e4ff 112px,#00fffe 117px,#00fff1 123px,#00fff7 145px,#00faff 153px,#00e0ff 159px,#0068ff 180px)"></i><i style="left:318px;width:1px;background:linear-gradient(#000 0,#000 73px,#000093 74px,#0000de 80px,#00f 85px,#005bff 97px,#00e9ff 112px,#00fffd 116px,#00ffed 123px,#00ffed 145px,#00feff 158px,#0092ff 180px)"></i><i style="left:319px;width:1px;background:linear-gradient(#000 0,#000 73px,#00008b 74px,#0000d6 80px,#0002ff 87px,#00a3ff 107px,#00d8ff 113px,#0ff 119px,#00fff3 132px,#00fff4 146px,#00fdff 157px,#009eff 180px)"></i><i style="left:320px;width:1px;background:linear-gradient(#000 0,#000 73px,#009 74px,#0000e5 80px,#0002ff 84px,#0048ff 92px,#00c3ff 108px,#00fbff 115px,#00ffea 124px,#00ffe2 145px,#00fffb 165px,#00f1ff 172px,#00d7ff 180px)"></i><i style="left:321px;width:1px;background:linear-gradient(#000 0,#000 73px,#00009b 74px,#0000e8 80px,#0000fc 83px,#0068ff 95px,#00c0ff 108px,#00feff 116px,#00ffeb 123px,#00ffde 145px,#00fffd 175px,#00f7ff 180px)"></i><i style="left:322px;width:1px;background:linear-gradient(#000 0,#000 73px,#00008a 74px,#0000d9 80px,#0002ff 86px,#004eff 95px,#0091ff 107px,#00fdff 121px,#00ffeb 145px,#00faff 177px,#00f5ff 180px)"></i><i style="left:323px;width:1px;background:linear-gradient(#000 0,#000 73px,#000097 74px,#0000e6 80px,#0004ff 84px,#0056ff 92px,#006dff 95px,#00a4ff 107px,#00fffd 119px,#00ffdb 142px,#00ffe8 180px)"></i><i style="left:324px;width:1px;background:linear-gradient(#000 0,#000 73px,#00008d 74px,#00d 80px,#00f 85px,#005bff 94px,#008bff 107px,#00fcff 122px,#00ffe3 145px,#00ffe3 180px)"></i><i style="left:325px;width:1px;background:linear-gradient(#000 0,#000 69px,#00008b 70px,#00009c 72px,#0000ca 74px,#0000f9 78px,#000bff 79px,#0054ff 83px,#00fbff 94px,#00ffbd 108px,#00ff91 126px,#00ff6c 157px,#00ff7b 180px)"></i><i style="left:326px;width:1px;background:linear-gradient(#000 0,#000 67px,#000095 68px,#0000fa 74px,#0009ff 75px,#00f6ff 87px,#00ffef 89px,#0f8 100px,#00ff54 106px,#00ff0a 152px,#00ff04 158px,#00ff21 180px)"></i><i style="left:327px;width:1px;background:linear-gradient(#000 0,#000 47px,#00008b 48px,#0000c3 53px,#00f 57px,#001dff 58px,#00b1ff 66px,#00f4ff 68px,#00fffa 69px,#00ffb5 76px,#0f0 100px,#2cff00 105px,#38ff00 110px,#4dff00 131px,#56ff00 145px,#67ff00 158px,#5eff00 166px,#00ff03 179px,#00ff07 180px)"></i><i style="left:328px;width:1px;background:linear-gradient(#000 0,#000 46px,#000094 47px,#0000f8 52px,#002dff 53px,#00deff 56px,#00fff1 57px,#00ffd2 58px,#00ff37 66px,#01ff00 79px,#72ff00 93px,#d2ff00 101px,#cdff00 128px,#aeff00 143px,#aeff00 166px,#06ff00 179px,#00ff04 180px)"></i><i style="left:329px;width:1px;background:linear-gradient(#000 0,#000 48px,#000089 49px,#00009d 51px,#0000d4 53px,#0000fc 54px,#0df 57px,#00ffec 58px,#00ff92 61px,#00ff3a 66px,#00ff04 72px,#08ff00 74px,#9bff00 92px,#fdff00 99px,#fff700 103px,#fbff00 130px,#daff00 143px,#d1ff00 166px,#0bff00 180px)"></i><i style="left:330px;width:1px;background:linear-gradient(#000 0,#000 52px,#009 53px,#0000fd 55px,#005fff 56px,#00fdff 58px,#00ff84 61px,#00ff08 69px,#0dff00 70px,#28ff00 71px,#dcff00 92px,#fcff00 94px,#ffdb00 102px,#fff100 135px,#ff0 166px,#28ff00 180px)"></i><i style="left:331px;width:1px;background:linear-gradient(#000 0,#000 1px,#0000c9 2px,#0000f3 29px,#0000f3 46px,#00f 48px,#0023ff 51px,#004eff 53px,#00d5ff 55px,#00fff1 56px,#00ff49 61px,#00ff05 67px,#1eff00 69px,#45ff00 71px,#fffd00 94px,#ffe100 102px,#fff200 128px,#fcff00 133px,#b4ff00 142px,#61ff00 167px,#01ff00 179px,#00ff04 180px)"></i><i style="left:332px;width:1px;background:linear-gradient(#00ffdb 0,#0f9 2px,#00ff67 29px,#00ff5e 47px,#00ff4b 53px,#02ff00 59px,#2eff00 61px,#7aff00 70px,#fffe00 93px,#ffe500 102px,#fff500 127px,#fffd00 129px,#6dff00 141px,#00ff03 169px,#00ff1c 180px)"></i><i style="left:333px;width:1px;background:linear-gradient(#69ff00 0,#e8ff00 24px,#fffe00 47px,#fff400 76px,#ffdb00 104px,#fff200 127px,#fffe00 130px,#6eff00 141px,#13ff00 164px,#00ff03 169px,#00ff1e 180px)"></i><i style="left:334px;width:1px;background:linear-gradient(#f1ff00 0,#fffc00 3px,#ffbe00 24px,#ffb300 51px,#ffcf00 107px,#fff600 129px,#fbff00 132px,#92ff00 141px,#61ff00 161px,#00ff02 174px,#00ff1e 180px)"></i><i style="left:335px;width:1px;background:linear-gradient(#ffed00 0,#ffb100 18px,#ff9a00 23px,#f80 49px,#ffc800 103px,#ffea00 124px,#fdff00 133px,#b0ff00 141px,#92ff00 161px,#04ff00 175px,#00ff1e 180px)"></i><i style="left:336px;width:1px;background:linear-gradient(#fd0 0,#ffa800 21px,#ff9300 29px,#ff8700 49px,#ffc500 107px,#ffd900 123px,#fffe00 140px,#e8ff00 161px,#6dff00 172px,#00ff02 180px)"></i><i style="left:337px;width:1px;background:linear-gradient(#fff500 0,#ffd500 39px,#ffeb00 119px,#fffe00 147px,#ff0 161px,#6eff00 174px,#23ff00 180px)"></i><i style="left:338px;width:1px;background:linear-gradient(#39ff00 0,#1cff00 47px,#00ff03 56px,#00ff1f 67px,#00ff85 82px,#00fffe 93px,#00c8ff 96px,#00c0ff 130px,#00bfff 134px,#00f9ff 137px,#00fff8 138px,#00ff80 142px,#00ff1f 151px,#01ff00 165px,#03ff00 166px,#00ff95 176px,#00ffec 180px)"></i><i style="left:339px;width:1px;background:linear-gradient(#00ff02 0,#00ff36 49px,#00ff64 66px,#00ffec 82px,#00fff9 83px,#00f3ff 84px,#01f 94px,#0000fe 95px,#0000f4 97px,#0000f4 134px,#0003ff 135px,#004dff 138px,#00dcff 140px,#00ffeb 141px,#00ffc6 142px,#00ff48 151px,#00ff16 166px,#00ffa4 176px,#00fff7 180px)"></i><i style="left:340px;width:1px;background:linear-gradient(#00ff13 0,#00ff58 49px,#0f8 66px,#00fffb 80px,#00f8ff 81px,#005fff 89px,#0009ff 94px,#0000f6 96px,#0000f6 134px,#0008ff 135px,#0052ff 138px,#00dcff 140px,#00ffed 141px,#00ffc9 142px,#00ff48 151px,#00ff19 166px,#00ff8b 177px,#00ffb6 180px)"></i><i style="left:341px;width:1px;background:linear-gradient(#00ff21 0,#00ff79 50px,#00ffa9 66px,#00fffe 76px,#0079ff 85px,#0006ff 94px,#0000fb 101px,#0000fb 134px,#0043ff 137px,#005bff 138px,#00e1ff 140px,#00ffec 141px,#00ffc9 142px,#00ff46 151px,#00ff1a 166px,#00ff62 178px,#00ff72 180px)"></i><i style="left:342px;width:1px;background:linear-gradient(#00ff30 0,#00ff9d 51px,#00ffcb 66px,#0ff 72px,#0091ff 79px,#03f 87px,#00f 94px,#00f 134px,#0062ff 138px,#00e2ff 140px,#00ffed 141px,#00ffcb 142px,#00ff45 151px,#00ff1d 167px,#00ff30 180px)"></i><i style="left:343px;width:1px;background:linear-gradient(#00ff29 0,#00ff87 48px,#00ffca 66px,#00fcff 72px,#0094ff 78px,#0031ff 87px,#0002ff 94px,#0002ff 134px,#0065ff 138px,#00e5ff 140px,#00ffeb 141px,#00ffca 142px,#00ff40 151px,#00ff18 167px,#00ff29 180px)"></i><i style="left:344px;width:1px;background:linear-gradient(#00ff1f 0,#00ff48 22px,#00ff78 48px,#00ffc7 66px,#00fcff 72px,#008eff 78px,#0031ff 87px,#0008ff 94px,#0008ff 134px,#006bff 138px,#00ebff 140px,#00ffe8 141px,#00ffc7 142px,#00ff3a 151px,#00ff12 167px,#00ff1f 180px)"></i><i style="left:345px;width:1px;background:linear-gradient(#00ff26 0,#0f4 19px,#00ff5e 30px,#00ff75 47px,#0fd 67px,#00fffc 70px,#00a4ff 75px,#006aff 78px,#0014ff 87px,#0000fc 92px,#0000f7 134px,#0009ff 135px,#0053ff 138px,#00d3ff 140px,#00fff5 141px,#00ffd3 142px,#0f4 151px,#00ff1b 167px,#00ff26 180px)"></i><i style="left:346px;width:1px;background:linear-gradient(#7bff00 0,#7bff00 46px,#00ff02 60px,#0f8 86px,#00ff54 95px,#00ff18 137px,#06ff00 146px,#20ff00 152px,#20ff00 180px)"></i><i style="left:347px;width:1px;background:linear-gradient(#0f5 0,#00ffce 24px,#00fff9 36px,#00f7ff 37px,#0042ff 46px,#0023ff 95px,#0049ff 111px,#00d1ff 123px,#0ff 128px,#00ffba 142px,#00ff3e 151px,#00ff09 167px,#00ff09 180px)"></i><i style="left:348px;width:1px;background:linear-gradient(#00ff6a 0,#00ffc9 13px,#00fcff 22px,#00c3ff 28px,#007dff 37px,#01f 46px,#000dff 95px,#003cff 111px,#00d7ff 126px,#00fcff 130px,#00ffc6 142px,#00ff4a 151px,#00ff10 167px,#00ff10 180px)"></i><i style="left:349px;width:1px;background:linear-gradient(#00ff6e 0,#00ffd0 10px,#0ff 16px,#0076ff 26px,#0023ff 37px,#00f 47px,#0017ff 95px,#004eff 111px,#00fcff 129px,#00ffc1 142px,#00ff45 151px,#00ff07 167px,#00ff07 180px)"></i><i style="left:350px;width:1px;background:linear-gradient(#00ff85 0,#00fffc 10px,#00c0ff 14px,#0051ff 23px,#0026ff 28px,#0000fd 35px,#0000e9 48px,#0002ff 97px,#0032ff 107px,#005dff 112px,#009dff 118px,#00fffe 130px,#00ffca 142px,#00ff4a 151px,#00ff0a 167px,#00ff10 180px)"></i><i style="left:351px;width:1px;background:linear-gradient(#00ff8c 0,#00fffd 8px,#0098ff 12px,#002cff 21px,#00f 29px,#0000e3 48px,#0005ff 97px,#0037ff 106px,#00a8ff 115px,#0cf 119px,#00feff 126px,#00ffc3 142px,#00ff41 151px,#0f0 165px,#06ff00 167px,#00ff09 180px)"></i><i style="left:352px;width:1px;background:linear-gradient(#00ff8b 0,#00fff9 7px,#00eaff 8px,#0067ff 12px,#0004ff 21px,#0000e5 49px,#0004ff 94px,#0053ff 106px,#00f1ff 116px,#00fffa 120px,#00ffb4 142px,#00ff2e 151px,#04ff00 161px,#2eff00 166px,#0aff00 180px)"></i><i style="left:353px;width:1px;background:linear-gradient(#00ff8e 0,#00fff8 9px,#00f5ff 10px,#00c8ff 12px,#0089ff 18px,#006bff 22px,#001aff 48px,#000dff 67px,#0053ff 95px,#009fff 107px,#00feff 116px,#00ff98 142px,#00ff17 151px,#00ff01 156px,#4dff00 166px,#17ff00 180px)"></i><i style="left:354px;width:1px;background:linear-gradient(#00ff93 0,#00fffe 15px,#00b2ff 28px,#0056ff 53px,#0030ff 66px,#009dff 96px,#00fffd 115px,#00ff7e 142px,#00ff02 151px,#68ff00 166px,#20ff00 180px)"></i><i style="left:355px;width:1px;background:linear-gradient(#17ff00 0,#00ff03 13px,#00ff17 48px,#00ff41 68px,#00ff3a 82px,#00ff0c 96px,#06ff00 107px,#6fff00 143px,#a9ff00 153px,#c6ff00 161px,#a0ff00 170px,#47ff00 180px)"></i><i style="left:356px;width:1px;background:linear-gradient(#ffe900 0,#ffda00 39px,#ffe400 82px,#ffd500 116px,#ffd300 146px,#ffeb00 163px,#ff0 169px,#91ff00 180px)"></i><i style="left:357px;width:1px;background:linear-gradient(#ffb700 0,#ff9200 31px,#ff8500 72px,#ff6300 97px,#ff6700 143px,#ffcd00 166px,#feff00 178px,#e8ff00 180px)"></i><i style="left:358px;width:1px;background:linear-gradient(#00ffef 0,#00ffea 8px,#00ffc5 10px,#00ff92 16px,#00ff75 55px,#00ff5a 61px,#00ff05 66px,#4cff00 69px,#e2ff00 76px,#fffc00 77px,#ff9800 85px,#ff6200 89px,#ff3a00 94px,#ff3b00 145px,#ff4f00 159px,#ffc600 170px,#fffb00 180px)"></i><i style="left:359px;width:1px;background:linear-gradient(#000 0,#000 10px,#000094 11px,#0000d7 16px,#0000eb 54px,#0000fe 56px,#005bff 61px,#00cfff 63px,#00fffa 64px,#00ff80 68px,#00ff0d 75px,#07ff00 76px,#e5ff00 80px,#fff500 81px,#ff9f00 86px,#ff6400 89px,#ff2b00 94px,#ff2300 159px,#ff6000 165px,#ffc200 172px,#ffe900 180px)"></i><i style="left:360px;width:1px;background:linear-gradient(#000 0,#000 9px,#000089 10px,#0000d9 16px,#00e 54px,#0000fa 55px,#0029ff 57px,#008cff 61px,#00fffc 63px,#00ff5d 68px,#00ff06 75px,#0bff00 76px,#feff00 81px,#ffb100 86px,#ff7600 89px,#ff3800 94px,#ff2d00 159px,#ff6a00 165px,#ffc800 172px,#ffed00 180px)"></i><i style="left:361px;width:1px;background:linear-gradient(#000 0,#000 13px,#000090 14px,#00009d 17px,#0000a7 52px,#0000db 55px,#0000f0 56px,#000dff 57px,#00b6ff 61px,#00f4ff 62px,#00ffe4 63px,#00ff42 68px,#00ff04 74px,#1dff00 76px,#feff00 81px,#ffad00 86px,#ff6c00 89px,#ff2600 94px,#ff1c00 159px,#ff6700 166px,#ffbe00 172px,#ffe400 180px)"></i><i style="left:362px;width:1px;background:linear-gradient(#000 0,#000 52px,#000096 53px,#0000fa 57px,#0029ff 58px,#00c4ff 61px,#0ff 62px,#00ff42 68px,#00ff03 75px,#0bff00 76px,#fcff00 81px,#ffbe00 85px,#ff6100 89px,#ff1700 94px,#ff1300 159px,#ff6200 166px,#fb0 172px,#ffe400 180px)"></i><i style="left:363px;width:1px;background:linear-gradient(#000 0,#000 21px,#000091 22px,#0000b9 26px,#0000cd 54px,#0000f8 56px,#001dff 57px,#00c6ff 61px,#0ff 62px,#00ff4e 68px,#00ff1b 76px,#07ff00 77px,#e0ff00 81px,#fff700 82px,#ffb100 86px,#ff6d00 89px,#ff2700 94px,#ff2700 159px,#ff6100 164px,#ffc400 171px,#fff700 180px)"></i><i style="left:364px;width:1px;background:linear-gradient(#000 0,#000 26px,#000095 27px,#0000a8 28px,#00d 37px,#0000ed 54px,#0010ff 55px,#00dcff 59px,#00fff6 60px,#00ff2e 68px,#00ff04 72px,#43ff00 76px,#fffd00 80px,#ffa900 85px,#ff6300 88px,#ff1b00 94px,#ff1b00 159px,#ff5f00 165px,#ffc600 172px,#ffec00 180px)"></i><i style="left:365px;width:1px;background:linear-gradient(#0000fd 0,#0053ff 12px,#00a4ff 21px,#0af 26px,#00e8ff 28px,#00feff 30px,#00ffdc 37px,#00ffc7 54px,#00ff0a 66px,#0bff00 67px,#3cff00 69px,#7fff00 72px,#fff900 77px,#ffae00 84px,#ff5d00 90px,#ff3b00 94px,#ff3b00 159px,#f70 164px,#ffc700 170px,#ffdf00 173px,#fff900 180px)"></i><i style="left:366px;width:1px;background:linear-gradient(#0fd 0,#00ff79 13px,#00ff2e 21px,#04ff00 58px,#0aff00 61px,#bfff00 71px,#fdff00 73px,#ffcd00 78px,#ff9d00 95px,#ffa600 159px,#fffc00 172px,#ecff00 176px,#d1ff00 180px)"></i><i style="left:367px;width:1px;background:linear-gradient(#0bf 0,#00fffd 9px,#00ffbc 22px,#00ffae 46px,#0fd 50px,#00ffbe 52px,#00ffa2 62px,#0f7 67px,#00ff37 72px,#00ff05 75px,#31ff00 77px,#4eff00 78px,#f3ff00 94px,#fffc00 119px,#fff000 160px,#f9ff00 166px,#bcff00 173px,#9cff00 180px)"></i><i style="left:368px;width:1px;background:linear-gradient(#0015ff 0,#0000fc 31px,#0000f5 46px,#0000a5 48px,#000090 49px,#000 50px,#000093 51px,#0000ac 52px,#0000c8 54px,#0000f6 66px,#0004ff 67px,#00fcff 78px,#0f4 94px,#04ff00 130px,#38ff00 142px,#9eff00 151px,#c5ff00 159px,#b2ff00 167px,#71ff00 180px)"></i><i style="left:369px;width:1px;background:linear-gradient(#000aff 0,#0000fa 23px,#0000f0 46px,#0000af 47px,#000 48px,#000 52px,#000096 53px,#0000be 54px,#0000fe 69px,#00d4ff 95px,#00fffc 106px,#00ffb5 131px,#00ff92 142px,#00ff08 150px,#17ff00 152px,#7cff00 166px,#34ff00 180px)"></i><i style="left:370px;width:1px;background:linear-gradient(#03f 0,#002dff 30px,#0018ff 46px,#0000ea 47px,#0000c9 48px,#0000c7 52px,#00e 54px,#0000f9 60px,#0000af 63px,#0000e2 87px,#0006ff 88px,#009fff 94px,#00ebff 107px,#00fffb 110px,#00ffc4 124px,#00ff87 142px,#05ff00 150px,#23ff00 151px,#86ff00 166px,#47ff00 180px)"></i><i style="left:371px;width:1px;background:linear-gradient(#002aff 0,#003aff 28px,#0003ff 60px,#00009c 62px,#000 63px,#000 87px,#00009c 88px,#0000f3 92px,#0013ff 93px,#003eff 94px,#008dff 106px,#00fbff 114px,#00ff96 142px,#00ff0c 150px,#09ff00 151px,#63ff00 166px,#2dff00 180px)"></i><i style="left:372px;width:1px;background:linear-gradient(#003fff 0,#0073ff 12px,#07f 29px,#0062ff 35px,#002aff 48px,#01f 60px,#0000d5 61px,#0000a3 62px,#000 63px,#000 87px,#00a 88px,#0000fc 92px,#004cff 94px,#009bff 106px,#00fbff 113px,#00ffe1 119px,#00ff92 142px,#00ff0b 150px,#0aff00 151px,#5eff00 166px,#34ff00 180px)"></i><i style="left:373px;width:1px;background:linear-gradient(#0001ff 0,#005fff 11px,#0060ff 31px,#0000fe 44px,#0000e5 60px,#0000b2 61px,#000 62px,#000 87px,#00008d 88px,#0000ef 93px,#0007ff 94px,#0056ff 106px,#00e0ff 116px,#0ff 121px,#00ffb9 142px,#00ff25 151px,#02ff00 164px,#0bff00 167px,#00ff05 176px,#00ff0a 180px)"></i><i style="left:374px;width:1px;background:linear-gradient(#0000f5 0,#0005ff 2px,#0076ff 11px,#0076ff 31px,#0003ff 42px,#0000e8 48px,#0000d7 60px,#0000a5 61px,#000 62px,#000 88px,#000098 89px,#0000f5 94px,#0007ff 98px,#003bff 106px,#00c5ff 116px,#00fffe 126px,#00ffcb 142px,#00ff3a 151px,#00ff12 167px,#00ff1b 180px)"></i><i style="left:375px;width:1px;background:linear-gradient(#0025ff 0,#00afff 11px,#00afff 31px,#001eff 46px,#0000fd 58px,#0000fa 60px,#0000c1 63px,#00c 85px,#0000f6 90px,#000aff 92px,#002bff 95px,#0074ff 106px,#00feff 116px,#00ffad 142px,#00ff1d 151px,#03ff00 162px,#16ff00 166px,#00ff03 179px,#00ff05 180px)"></i><i style="left:376px;width:1px;background:linear-gradient(#0035ff 0,#00bcff 11px,#00b6ff 31px,#0032ff 46px,#0000fd 64px,#0009ff 75px,#0035ff 95px,#0074ff 106px,#00ebff 116px,#00fffc 121px,#00ffcb 136px,#00ffae 142px,#00ff1f 151px,#04ff00 161px,#1dff00 166px,#00ff03 180px)"></i><i style="left:377px;width:1px;background:linear-gradient(#001eff 0,#009fff 11px,#008eff 31px,#0012ff 47px,#0000fc 55px,#00e 68px,#0005ff 90px,#0021ff 99px,#0045ff 107px,#0091ff 117px,#00c5ff 131px,#00fffe 136px,#00ffcd 142px,#00ff40 151px,#00ff26 155px,#00ff06 167px,#00ff15 180px)"></i><i style="left:378px;width:1px;background:linear-gradient(#0000fe 0,#007aff 11px,#005eff 31px,#0000fe 44px,#0000da 68px,#0001ff 107px,#002eff 119px,#0048ff 131px,#00b6ff 138px,#00fffd 141px,#00ff5b 152px,#00ff45 154px,#00ff1f 167px,#00ff2b 180px)"></i><i style="left:379px;width:1px;background:linear-gradient(#001cff 0,#0092ff 11px,#0064ff 32px,#0005ff 47px,#0000e6 68px,#0000fe 113px,#0008ff 131px,#0092ff 138px,#00f4ff 141px,#00fff3 142px,#00ff41 154px,#00ff18 167px,#0f2 180px)"></i><i style="left:380px;width:1px;background:linear-gradient(#0038ff 0,#0092ff 11px,#0061ff 33px,#001bff 49px,#0000fc 60px,#0000f5 69px,#0006ff 87px,#0021ff 125px,#0024ff 131px,#00aeff 138px,#00f0ff 140px,#00fff6 141px,#0f8 148px,#00ff32 154px,#00ff09 167px,#00ff13 180px)"></i><i style="left:381px;width:1px;background:linear-gradient(#00fff2 0,#00ffe2 15px,#00fff0 76px,#00ffda 131px,#00ff9c 141px,#00ff2b 154px,#00ff1a 171px,#00ff1a 180px)"></i><i style="left:382px;width:1px;background:linear-gradient(#00ffc6 0,#00ffca 13px,#00fdff 34px,#09f 47px,#0051ff 67px,#006cff 104px,#0086ff 126px,#00fffe 136px,#00ffd6 142px,#00ff49 152px,#00ff1e 167px,#00ff2c 180px)"></i><i style="left:383px;width:1px;background:linear-gradient(#00ffc0 0,#00ffca 13px,#00fdff 30px,#0062ff 45px,#0014ff 58px,#0000fb 63px,#0000f4 69px,#0005ff 106px,#001cff 126px,#0ff 141px,#00ffe7 143px,#00ff52 152px,#00ff20 167px,#00ff34 180px)"></i><i style="left:384px;width:1px;background:linear-gradient(#00ffb7 0,#00ffc5 13px,#00faff 31px,#007bff 43px,#004aff 48px,#0000fe 60px,#0000ed 68px,#0000fd 118px,#0004ff 126px,#0cf 139px,#00fdff 142px,#00ff5b 152px,#00ff27 166px,#00ff3f 180px)"></i><i style="left:385px;width:1px;background:linear-gradient(#00ffa5 0,#00ffbe 15px,#00fdff 33px,#00a6ff 41px,#0059ff 48px,#001fff 56px,#00f 61px,#00e 68px,#0000f7 112px,#0000fe 126px,#0096ff 136px,#00fdff 142px,#00ff5b 152px,#00ff27 166px,#00ff41 180px)"></i><i style="left:386px;width:1px;background:linear-gradient(#00ff93 0,#00ffb8 17px,#0ff 35px,#0053ff 50px,#0000fe 62px,#0000ef 68px,#0000f2 108px,#0005ff 127px,#007eff 135px,#00fcff 142px,#00ff5b 152px,#00ff28 166px,#00ff43 180px)"></i><i style="left:387px;width:1px;background:linear-gradient(#00ff62 0,#00ff93 19px,#00ffe5 38px,#00feff 42px,#0089ff 52px,#02f 66px,#0018ff 98px,#002cff 126px,#00b5ff 135px,#00fffe 139px,#00ffd0 143px,#00ff3b 152px,#00ff08 166px,#00ff25 180px)"></i><i style="left:388px;width:1px;background:linear-gradient(#00ff60 0,#00ff9a 20px,#00ffea 38px,#0ff 41px,#0074ff 52px,#0006ff 66px,#0000fc 107px,#0006ff 126px,#0090ff 135px,#00f3ff 140px,#00fffb 141px,#00ffaf 146px,#00ff4c 152px,#00ff18 166px,#00ff37 180px)"></i><i style="left:389px;width:1px;background:linear-gradient(#00ff5d 0,#00ff94 20px,#00ffe4 38px,#00feff 42px,#007bff 52px,#0024ff 62px,#0005ff 66px,#000dff 98px,#002cff 126px,#00a4ff 135px,#00f9ff 140px,#00fff0 142px,#0f5 152px,#00ff29 166px,#00ff4f 180px)"></i><i style="left:390px;width:1px;background:linear-gradient(#00ff65 0,#00ff96 19px,#00ffea 38px,#00fffe 41px,#08f 50px,#0034ff 57px,#0000fd 64px,#0000f6 68px,#0006ff 94px,#0036ff 121px,#003bff 126px,#00a1ff 135px,#00f8ff 141px,#00fffb 142px,#00ff6a 152px,#00ff46 166px,#00ff73 180px)"></i><i style="left:391px;width:1px;background:linear-gradient(#00ff57 0,#00ff7c 16px,#00ffce 36px,#00fffc 43px,#00d3ff 47px,#004eff 56px,#0000fe 66px,#003fff 100px,#006cff 119px,#0073ff 126px,#00d4ff 136px,#00fffd 140px,#00ffe3 143px,#00ff6a 152px,#00ff4d 166px,#00ff82 180px)"></i><i style="left:392px;width:1px;background:linear-gradient(#00ff68 0,#00ff7d 11px,#00ffc2 30px,#00fffe 41px,#00abff 48px,#0024ff 56px,#0000fd 61px,#0000ea 67px,#0005ff 85px,#0057ff 112px,#006aff 121px,#0070ff 126px,#00c6ff 137px,#00f4ff 142px,#00fff8 143px,#00ff89 152px,#00ff73 166px,#00ffaf 180px)"></i><i style="left:393px;width:1px;background:linear-gradient(#00ff4c 0,#00ff5a 9px,#00ff9f 29px,#00ffec 43px,#0ff 46px,#00d3ff 49px,#0051ff 56px,#0002ff 66px,#0083ff 103px,#00baff 118px,#00c9ff 127px,#00fffd 137px,#00ffec 142px,#00ff7a 152px,#00ff6b 166px,#00ffaf 180px)"></i><i style="left:394px;width:1px;background:linear-gradient(#00ff47 0,#00ff4f 8px,#00ff96 29px,#00fff0 45px,#00fffd 47px,#00f7ff 48px,#0054ff 56px,#0005ff 66px,#00b0ff 106px,#00e1ff 117px,#00f7ff 129px,#00fff4 137px,#00ffe9 142px,#00ff82 152px,#00ff7a 166px,#00ffc5 180px)"></i><i style="left:395px;width:1px;background:linear-gradient(#00ff35 0,#00ff3b 8px,#00ff7d 28px,#00ffe9 47px,#00fffb 49px,#00dbff 51px,#006cff 56px,#001dff 66px,#00fffd 111px,#00ffec 120px,#00ffda 142px,#00ff7d 152px,#00ff7d 166px,#00ffd0 180px)"></i><i style="left:396px;width:1px;background:linear-gradient(#00ff5b 0,#00ff5a 7px,#00ff9d 28px,#00ffe2 40px,#00fdff 44px,#00c8ff 48px,#0024ff 56px,#0000fe 61px,#0000eb 66px,#0005ff 75px,#00d0ff 117px,#00fdff 142px,#00ffa9 152px,#00ffa9 166px,#00fff6 180px)"></i><i style="left:397px;width:1px;background:linear-gradient(#00ff57 0,#00ff51 7px,#00ff93 28px,#00ffd3 39px,#00feff 44px,#00b0ff 49px,#002cff 56px,#0000fc 63px,#0000f4 67px,#0006ff 73px,#00d2ff 118px,#00fffd 141px,#00ffec 144px,#00ffab 152px,#00ffb0 167px,#00fff1 180px)"></i><i style="left:398px;width:1px;background:linear-gradient(#00ff50 0,#00ff46 7px,#00ff81 27px,#00ffca 39px,#00fffd 44px,#004aff 55px,#0039ff 56px,#0000fd 65px,#0008ff 70px,#00d7ff 118px,#00fffd 136px,#00fff5 142px,#00ffab 152px,#00ffaf 167px,#00ffeb 180px)"></i><i style="left:399px;width:1px;background:linear-gradient(#00ff4d 0,#00ff3f 7px,#00ff78 27px,#00ffb9 38px,#00fffe 44px,#00d5ff 46px,#003eff 56px,#00f 66px,#00d0ff 116px,#00fffc 135px,#00ffeb 143px,#00ffae 152px,#00ffb2 167px,#00ffe8 180px)"></i><i style="left:400px;width:1px;background:linear-gradient(#00ff63 0,#00ff4e 6px,#0f8 27px,#00ffca 38px,#00fffd 42px,#00a0ff 46px,#0016ff 56px,#0000fb 61px,#00e 67px,#0005ff 76px,#007fff 107px,#0ef 142px,#00fffb 144px,#00ffca 152px,#00ffcd 167px,#00fffd 180px)"></i><i style="left:401px;width:1px;background:linear-gradient(#00ff82 0,#00ff63 6px,#00ff9a 27px,#00ffdc 38px,#00feff 41px,#008bff 46px,#0006ff 56px,#0000f5 60px,#0000e3 67px,#0004ff 91px,#0078ff 132px,#00afff 142px,#00f7ff 147px,#00fff6 149px,#00ffe6 153px,#00ffe2 167px,#00fbff 177px,#00e9ff 180px)"></i><i style="left:402px;width:1px;background:linear-gradient(#00ffb3 0,#00ff8a 6px,#00ffb8 26px,#0ff 38px,#05f 46px,#0000fd 53px,#0000df 59px,#0000c6 67px,#0000dc 107px,#0004ff 133px,#004dff 142px,#00b4ff 148px,#00d6ff 153px,#00f3ff 166px,#00aeff 180px)"></i><i style="left:403px;width:1px;background:linear-gradient(#00ffbf 0,#00ff8b 6px,#00ffb7 26px,#00fff5 37px,#00fffe 38px,#06f 46px,#0004ff 54px,#0000ce 67px,#0000c2 100px,#0000d5 124px,#0000e3 132px,#0004ff 138px,#0020ff 141px,#00a9ff 148px,#00c9ff 154px,#00f0ff 166px,#00baff 180px)"></i><i style="left:404px;width:1px;background:linear-gradient(#00ffc2 0,#00ff84 6px,#00ffa8 25px,#00ffea 37px,#00fffc 39px,#007cff 47px,#000aff 57px,#0000f8 60px,#00d 68px,#0000b8 98px,#0000bd 120px,#0000d2 132px,#0006ff 140px,#01f 141px,#00afff 148px,#00feff 166px,#00d6ff 180px)"></i><i style="left:405px;width:1px;background:linear-gradient(#00ffce 0,#00ff8e 6px,#00ffae 25px,#00ffef 37px,#00fdff 39px,#007cff 47px,#0010ff 57px,#0000fc 60px,#0000e1 69px,#0000bc 98px,#0000c8 123px,#0000d8 132px,#0000fd 138px,#0021ff 141px,#00bfff 148px,#00fffe 164px,#00f8ff 173px,#00e6ff 180px)"></i><i style="left:406px;width:1px;background:linear-gradient(#00ffec 0,#0fa 6px,#00ffc1 24px,#00fffc 36px,#00c5ff 40px,#005cff 47px,#0006ff 55px,#0000e2 64px,#0000af 98px,#0000c7 131px,#0004ff 140px,#0027ff 142px,#00aeff 148px,#00f5ff 166px,#00d5ff 180px)"></i><i style="left:407px;width:1px;background:linear-gradient(#00ffe7 0,#00ffa3 6px,#00ffb3 23px,#00fff0 36px,#00feff 38px,#0087ff 46px,#0023ff 56px,#0000fe 62px,#0000e4 76px,#0000c3 99px,#0000cb 108px,#0000de 131px,#00f 136px,#0040ff 141px,#00deff 148px,#00fffd 158px,#00ffef 168px,#00fffc 180px)"></i><i style="left:408px;width:1px;background:linear-gradient(#00fffe 0,#00ffb8 6px,#00ffc0 22px,#0ff 36px,#007fff 45px,#001bff 55px,#0000fb 61px,#0000de 77px,#0000bd 99px,#0000c3 106px,#0000cf 114px,#0000d9 131px,#0000fb 136px,#0021ff 139px,#003cff 141px,#00daff 148px,#00fffd 160px,#00fff3 168px,#00fffe 180px)"></i><i style="left:409px;width:1px;background:linear-gradient(#009dff 0,#00f9ff 4px,#00ffea 6px,#0fe 22px,#00f9ff 27px,#00c4ff 34px,#0031ff 45px,#00f 50px,#0000e3 57px,#0000c2 74px,#00009f 94px,#00009e 105px,#0000af 112px,#0000b8 131px,#00f 141px,#009dff 148px,#00d7ff 167px,#00c4ff 180px)"></i><i style="left:410px;width:1px;background:linear-gradient(#0043ff 0,#00bfff 6px,#00c3ff 21px,#006aff 34px,#0004ff 42px,#0000c2 56px,#00009a 77px,#00008a 87px,#000 88px,#000 109px,#00008a 110px,#000098 131px,#0000ea 142px,#0003ff 144px,#005dff 148px,#0097ff 167px,#0084ff 180px)"></i><i style="left:411px;width:1px;background:linear-gradient(#002fff 0,#009fff 6px,#00a5ff 21px,#0056ff 34px,#0004ff 41px,#0000c0 57px,#00008c 86px,#000 87px,#000 109px,#00008a 110px,#00009b 131px,#0000ed 142px,#0009ff 144px,#0063ff 148px,#009dff 167px,#008bff 180px)"></i><i style="left:412px;width:1px;background:linear-gradient(#003cff 0,#009fff 6px,#00a9ff 21px,#0064ff 34px,#0002ff 43px,#0000ce 59px,#000098 87px,#00008e 89px,#000 90px,#000 106px,#00008a 107px,#00009c 111px,#0000af 131px,#0004ff 142px,#008bff 148px,#00c5ff 167px,#00b2ff 180px)"></i><i style="left:413px;width:1px;background:linear-gradient(#0052ff 0,#00a7ff 6px,#00b5ff 21px,#0070ff 35px,#01f 45px,#0000fc 49px,#0000ac 87px,#000092 92px,#000090 105px,#0000b2 111px,#0000c8 131px,#0002ff 139px,#001eff 141px,#0bf 148px,#00f5ff 167px,#00e3ff 180px)"></i><i style="left:414px;width:1px;background:linear-gradient(#0021ff 0,#0069ff 6px,#0076ff 22px,#003fff 35px,#0001ff 42px,#0000c2 69px,#00009b 87px,#00008d 89px,#000 90px,#000 106px,#00008c 107px,#0000a3 111px,#0000bc 131px,#0000fb 140px,#0007ff 141px,#00a4ff 148px,#00deff 167px,#0cf 180px)"></i><i style="left:415px;width:1px;background:linear-gradient(#0000e7 0,#0002ff 5px,#000eff 7px,#001dff 22px,#0000fd 33px,#0000ce 47px,#00008b 82px,#000 83px,#000 114px,#00008a 115px,#0000a1 131px,#0000f3 142px,#0000fe 143px,#006fff 148px,#00a9ff 167px,#0096ff 180px)"></i><i style="left:416px;width:1px;background:linear-gradient(#0000f5 0,#0005ff 3px,#001fff 6px,#0030ff 22px,#000bff 35px,#0000fb 38px,#0000d8 52px,#000097 85px,#000089 87px,#000 88px,#000 108px,#00008d 109px,#00009b 112px,#0000b7 131px,#0000fd 141px,#009aff 148px,#00d3ff 167px,#00c1ff 180px)"></i><i style="left:417px;width:1px;background:linear-gradient(#000aff 0,#0035ff 7px,#0047ff 21px,#0027ff 35px,#0000fc 44px,#0000b2 84px,#000089 89px,#000 90px,#000 106px,#00008e 107px,#0000b0 111px,#0000ce 131px,#00f 138px,#0029ff 141px,#00c7ff 148px,#00fffe 166px,#0ef 180px)"></i><i style="left:418px;width:1px;background:linear-gradient(#0000e7 0,#0000fd 11px,#0003ff 23px,#0000eb 41px,#00009d 84px,#000093 85px,#000 86px,#000 108px,#000089 109px,#00009b 111px,#0000b9 131px,#00f 141px,#009eff 148px,#00d8ff 167px,#00c5ff 180px)"></i><i style="left:419px;width:1px;background:linear-gradient(#00d 0,#0000f4 19px,#00d 46px,#009 84px,#00008d 85px,#000 86px,#000 109px,#00008f 110px,#00009a 112px,#0000b7 131px,#0000fd 141px,#009aff 148px,#00d3ff 167px,#00c1ff 180px)"></i><i style="left:420px;width:1px;background:linear-gradient(#0000f1 0,#0005ff 13px,#000aff 19px,#0000f6 47px,#0000b5 84px,#000097 86px,#000 87px,#000 107px,#000091 108px,#0000b5 111px,#0000d3 131px,#0000fd 137px,#03f 141px,#00d1ff 148px,#00fffd 163px,#00fffc 172px,#00f9ff 180px)"></i><i style="left:421px;width:1px;background:linear-gradient(#00e 0,#00008d 2px,#00008e 6px,#0000f0 8px,#0006ff 12px,#0095ff 30px,#00dfff 41px,#0cf 69px,#00d5ff 82px,#00b9ff 86px,#00daff 107px,#00fffd 112px,#00ffd5 137px,#00ffb1 147px,#0f8 168px,#00ff8a 180px)"></i><i style="left:422px;width:1px;background:linear-gradient(#0000e8 0,#0000b6 2px,#000 3px,#000 7px,#00008c 8px,#000090 10px,#0000c6 12px,#00f 17px,#0016ff 18px,#00e5ff 24px,#00fdff 25px,#0fa 32px,#00ff79 44px,#00ff1b 167px,#00ff27 180px)"></i><i style="left:423px;width:1px;background:linear-gradient(#0000f0 0,#0000f0 2px,#0000b4 3px,#000 4px,#000 11px,#00009a 12px,#0000ba 14px,#0000fd 18px,#008dff 21px,#00f3ff 23px,#00ffea 24px,#00ff5b 32px,#00ff25 43px,#00ff14 49px,#06ff00 69px,#3eff00 103px,#63ff00 145px,#5aff00 166px,#1fff00 180px)"></i><i style="left:424px;width:1px;background:linear-gradient(#0000ed 0,#0000ed 2px,#0000cf 3px,#000 4px,#000 13px,#00009b 14px,#0000b9 15px,#0003ff 19px,#002cff 20px,#00d2ff 23px,#00fffa 24px,#00ffb5 27px,#00ff4c 33px,#00ff3a 35px,#00ff07 48px,#08ff00 54px,#51ff00 79px,#95ff00 110px,#b0ff00 128px,#b9ff00 147px,#b1ff00 164px,#5dff00 174px,#36ff00 180px)"></i><i style="left:425px;width:1px;background:linear-gradient(#0000ec 0,#0000ec 3px,#0000a0 4px,#000 5px,#000 14px,#0000a5 15px,#0001ff 20px,#0ef 24px,#00ffe9 25px,#00ffca 26px,#00ff2f 34px,#0f0 45px,#6fff00 70px,#e2ff00 108px,#fffd00 121px,#fffb00 157px,#fffd00 164px,#8fff00 173px,#50ff00 180px)"></i><i style="left:426px;width:1px;background:linear-gradient(#00f 0,#00f 3px,#0000b3 4px,#000 5px,#000 13px,#000090 14px,#0000b8 15px,#0000fb 18px,#0023ff 19px,#05f 20px,#00d8ff 22px,#00fff1 23px,#00ff94 26px,#00ff2e 31px,#06ff00 34px,#42ff00 40px,#76ff00 47px,#caff00 68px,#fffd00 98px,#ffea00 140px,#fff600 165px,#feff00 167px,#b1ff00 173px,#72ff00 180px)"></i><i style="left:427px;width:1px;background:linear-gradient(#0005ff 0,#0005ff 3px,#0000b6 4px,#000 5px,#000 13px,#000093 14px,#00b 15px,#0000ef 17px,#0015ff 18px,#0048ff 19px,#00d1ff 21px,#00fff1 22px,#00ffa6 24px,#00ff28 29px,#00ff10 30px,#00ff03 31px,#41ff00 34px,#84ff00 39px,#c3ff00 47px,#fffe00 63px,#ffe700 143px,#fff500 165px,#fffe00 167px,#b7ff00 173px,#7f0 180px)"></i><i style="left:428px;width:1px;background:linear-gradient(#0000fb 0,#0000fb 3px,#0000b0 4px,#000 5px,#000 13px,#00008d 14px,#0000b5 15px,#0000f1 17px,#001fff 18px,#005bff 19px,#00f8ff 21px,#00ff87 24px,#00ff06 29px,#23ff00 30px,#b4ff00 38px,#fcff00 46px,#ffe900 70px,#ffe900 116px,#ffef00 154px,#fff900 165px,#f7ff00 167px,#abff00 173px,#6bff00 180px)"></i><i style="left:429px;width:1px;background:linear-gradient(#00fff3 0,#0fc 3px,#00ffd5 5px,#00ffc3 7px,#00ffa5 13px,#00ff01 25px,#65ff00 31px,#feff00 43px,#fe0 50px,#ffde00 68px,#fcff00 93px,#a2ff00 119px,#5eff00 155px,#47ff00 166px,#24ff00 180px)"></i><i style="left:430px;width:1px;background:linear-gradient(#00ff50 0,#00ff04 5px,#8fff00 15px,#e3ff00 23px,#feff00 27px,#fc0 48px,#ffca00 68px,#fdff00 94px,#7fff00 117px,#31ff00 147px,#19ff00 162px,#00ff0c 163px,#00ff40 165px,#00ff9e 167px,#00ffab 180px)"></i><i style="left:431px;width:1px;background:linear-gradient(#6dff00 0,#fdff00 7px,#ffd000 16px,#ffbc00 25px,#ffa900 48px,#ffca00 71px,#fcff00 92px,#58ff00 117px,#07ff00 148px,#00ff09 161px,#00ff0a 162px,#00ffc4 165px,#0097ff 166px,#00d 167px,#0000bf 180px)"></i><i style="left:432px;width:1px;background:linear-gradient(#7dff00 0,#fffd00 6px,#ffc100 16px,#ff9d00 25px,#ff8c00 36px,#ff8a00 48px,#fcff00 94px,#68ff00 117px,#13ff00 146px,#00ff03 160px,#00ff05 162px,#0fa 165px,#00fffd 166px,#004bff 167px,#0006ff 168px,#0000e0 169px,#0000c4 180px)"></i><i style="left:433px;width:1px;background:linear-gradient(#94ff00 0,#f3ff00 4px,#fffb00 5px,#ff8500 22px,#ff6400 32px,#f60 47px,#ffaf00 67px,#ffe100 84px,#feff00 97px,#7eff00 117px,#24ff00 145px,#05ff00 162px,#00ffc1 166px,#00deff 167px,#005aff 168px,#0000ea 169px,#00c 180px)"></i><i style="left:434px;width:1px;background:linear-gradient(#a3ff00 0,#fffe00 4px,#ff7200 24px,#ff5100 32px,#ff5400 47px,#ffca00 75px,#fffd00 99px,#d6ff00 112px,#10ff00 159px,#00ff0a 160px,#00ff30 162px,#00ff87 164px,#00ffd5 171px,#0ff 180px)"></i><i style="left:435px;width:1px;background:linear-gradient(#cbff00 0,#fbff00 2px,#ff8000 20px,#ff5700 28px,#ff4d00 33px,#ff5200 48px,#ff9e00 66px,#ffca00 76px,#fff400 98px,#fbff00 114px,#83ff00 143px,#16ff00 159px,#00ff2e 160px,#00ffa4 162px,#0ef 163px,#0015ff 164px,#0000f2 165px,#0000d6 180px)"></i><i style="left:436px;width:1px;background:linear-gradient(#a6ff00 0,#ef0 3px,#fffd00 4px,#ff8300 23px,#ff6a00 32px,#ff6d00 47px,#ffb100 65px,#ffe000 80px,#fffe00 99px,#d7ff00 118px,#6cff00 143px,#01ff00 157px,#00ff08 159px,#00ffa6 162px,#00fff0 163px,#04f 164px,#0000df 165px,#0000c1 180px)"></i><i style="left:437px;width:1px;background:linear-gradient(#71ff00 0,#fffe00 6px,#ffa200 23px,#ff9200 34px,#ff9500 47px,#fff300 80px,#fbff00 88px,#dcff00 95px,#b1ff00 118px,#4f0 143px,#0f0 151px,#00ff27 159px,#00ffe0 163px,#0061ff 164px,#0000c2 165px,#0000a4 180px)"></i><i style="left:438px;width:1px;background:linear-gradient(#5bff00 0,#ebff00 6px,#fdff00 7px,#ffd000 16px,#ffbe00 24px,#ffc300 49px,#fbff00 90px,#e5ff00 98px,#bfff00 118px,#00ff02 163px,#00ff0a 171px,#00ff0a 180px)"></i><i style="left:439px;width:1px;background:linear-gradient(#45ff00 0,#cdff00 7px,#faff00 10px,#ffea00 16px,#fd0 47px,#faff00 116px,#21ff00 167px,#21ff00 180px)"></i><i style="left:440px;width:1px;background:linear-gradient(#00ff7a 0,#0f2 6px,#03ff00 14px,#6dff00 48px,#82ff00 76px,#ff0 91px,#fff700 98px,#feff00 120px,#89ff00 144px,#45ff00 167px,#45ff00 180px)"></i><i style="left:441px;width:1px;background:linear-gradient(#0000a7 0,#0000fc 2px,#001bff 9px,#0024ff 11px,#007dff 18px,#00a3ff 26px,#00fffd 32px,#00ff78 47px,#0f0 70px,#43ff00 77px,#f8ff00 91px,#fff500 94px,#f9ff00 114px,#7dff00 143px,#65ff00 171px,#65ff00 180px)"></i><i style="left:442px;width:1px;background:linear-gradient(#000 0,#0000b8 1px,#0000e8 2px,#0000f9 3px,#0015ff 4px,#0058ff 6px,#0073ff 11px,#00e2ff 18px,#00fffd 24px,#00ffd2 32px,#00ff6e 46px,#00ff43 79px,#00ff3f 95px,#04ff00 115px,#0bff00 122px,#1f0 143px,#7dff00 166px,#23ff00 173px,#0cff00 180px)"></i><i style="left:443px;width:1px;background:linear-gradient(#000 0,#000 71px,#000092 72px,#0000f6 78px,#00f 79px,#0051ff 84px,#00faff 90px,#00ffa0 97px,#00ff3d 107px,#00ff05 117px,#0dff00 132px,#1bff00 142px,#95ff00 155px,#f3ff00 162px,#cfff00 171px,#3fff00 176px,#1bff00 180px)"></i><i style="left:444px;width:1px;background:linear-gradient(#000 0,#000 71px,#00008c 72px,#0000f0 78px,#0003ff 80px,#0045ff 84px,#0ef 90px,#00fff9 91px,#00ffa0 97px,#00ff3e 107px,#00ff0b 117px,#05ff00 135px,#0fff00 142px,#9fff00 156px,#e8ff00 162px,#c4ff00 171px,#3f0 176px,#0fff00 180px)"></i><i style="left:445px;width:1px;background:linear-gradient(#000 0,#000 71px,#009 72px,#0000fd 78px,#005fff 84px,#00ebff 89px,#00fffb 90px,#00ff97 96px,#00ff2b 107px,#03ff00 116px,#27ff00 142px,#ff0 162px,#dbff00 171px,#4bff00 176px,#27ff00 180px)"></i><i style="left:446px;width:1px;background:linear-gradient(#000 0,#000 71px,#00008a 72px,#00e 78px,#00f 80px,#0042ff 84px,#00ebff 90px,#00fffb 91px,#00ff9f 96px,#00ff38 106px,#00ff0d 117px,#05ff00 137px,#0cff00 142px,#adff00 156px,#e5ff00 162px,#c1ff00 171px,#31ff00 176px,#0cff00 180px)"></i><i style="left:447px;width:1px;background:linear-gradient(#000 0,#000 7px,#000098 8px,#0000fc 12px,#00bfff 16px,#00fffe 18px,#00ffae 23px,#00ff52 31px,#01ff00 55px,#d9ff00 94px,#d9ff00 116px,#7fff00 126px,#0eff00 129px,#00ff0d 130px,#00ffb9 138px,#00ffb9 158px,#00ff1f 164px,#03ff00 174px,#25ff00 180px)"></i><i style="left:448px;width:1px;background:linear-gradient(#000 0,#000 7px,#00009f 8px,#0000ea 11px,#0008ff 12px,#00c9ff 16px,#00ecff 17px,#00fff7 18px,#00ffaf 22px,#00ff4d 31px,#02ff00 50px,#60ff00 61px,#8f0 67px,#ebff00 95px,#d1ff00 116px,#76ff00 126px,#0aff00 129px,#00ff0f 130px,#00ffb4 138px,#00ffb4 158px,#00ff24 164px,#0f0 175px,#1cff00 180px)"></i><i style="left:449px;width:1px;background:linear-gradient(#000 0,#000 7px,#00009e 8px,#0005ff 12px,#00c2ff 16px,#00e6ff 17px,#00fff9 18px,#00ffad 22px,#00ff50 31px,#00ff0b 47px,#06ff00 49px,#67ff00 57px,#b8ff00 66px,#ecff00 95px,#b8ff00 116px,#5eff00 126px,#19ff00 128px,#00ff06 129px,#00ffb8 138px,#00ffb8 158px,#00ff31 164px,#04ff00 180px)"></i><i style="left:450px;width:1px;background:linear-gradient(#000 0,#000 4px,#000089 5px,#0003ff 11px,#00d4ff 17px,#00f3ff 18px,#00fff8 19px,#00ffa7 26px,#00ff5f 35px,#00ff03 48px,#7eff00 58px,#cfff00 66px,#f7ff00 95px,#b0ff00 117px,#69ff00 126px,#03ff00 133px,#00ff28 138px,#00ff2f 152px,#00ff2f 158px,#00ff02 164px,#1bff00 180px)"></i><i style="left:451px;width:1px;background:linear-gradient(#000 0,#000 6px,#00008c 7px,#000097 8px,#0000d1 11px,#0001ff 14px,#0073ff 18px,#00fdff 25px,#00ff01 54px,#7dff00 65px,#8bff00 67px,#b1ff00 85px,#b5ff00 95px,#71ff00 114px,#02ff00 130px,#00ff27 143px,#00ff27 161px,#00ff05 166px,#00ff05 180px)"></i><i style="left:452px;width:1px;background:linear-gradient(#000 0,#000 10px,#00008f 11px,#0000e2 16px,#0003ff 19px,#00beff 29px,#00fffc 33px,#00ff5c 48px,#00ff07 59px,#09ff00 61px,#3fff00 66px,#87ff00 82px,#84ff00 95px,#51ff00 111px,#0f0 120px,#00ff6c 143px,#00ff6c 161px,#00ff05 166px,#00ff05 180px)"></i><i style="left:453px;width:1px;background:linear-gradient(#000 0,#000 12px,#000098 13px,#0000bd 15px,#0004ff 21px,#0098ff 32px,#00fffd 38px,#00ffc5 43px,#00ff58 52px,#00ff03 62px,#7dff00 76px,#8dff00 84px,#8dff00 95px,#27ff00 115px,#00ff02 122px,#0f3 142px,#00ff02 156px,#1cff00 162px,#40ff00 166px,#13ff00 180px)"></i><i style="left:454px;width:1px;background:linear-gradient(#000 0,#000 14px,#00008d 15px,#0000d2 21px,#0000fa 31px,#0006ff 32px,#0094ff 41px,#00ecff 44px,#00fff9 45px,#00ff92 52px,#00ff2e 62px,#03ff00 69px,#57ff00 76px,#69ff00 94px,#00ff02 111px,#00ff16 124px,#00ff16 142px,#03ff00 145px,#60ff00 152px,#b2ff00 161px,#57ff00 166px,#00ff02 180px)"></i><i style="left:455px;width:1px;background:linear-gradient(#000 0,#000 27px,#000091 28px,#0004ff 43px,#0076ff 52px,#0ff 68px,#00ff75 96px,#00ff45 114px,#00ff19 142px,#07ff00 144px,#bcff00 151px,#fffd00 156px,#fff400 158px,#fffe00 161px,#bcff00 166px,#1fff00 172px,#00ff02 179px,#00ff05 180px)"></i><i style="left:456px;width:1px;background:linear-gradient(#000 0,#000 73px,#000090 74px,#0000d0 78px,#00f 85px,#0042ff 89px,#00f3ff 96px,#00fff8 97px,#00ffab 103px,#00ff6b 111px,#00ff37 142px,#00ff03 147px,#1eff00 149px,#dcff00 152px,#fff600 153px,#fff600 165px,#f0ff00 166px,#42ff00 170px,#00ff03 174px,#00ff03 180px)"></i><i style="left:457px;width:1px;background:linear-gradient(#000 0,#000 73px,#00008f 74px,#0000cf 78px,#0000fe 85px,#003fff 89px,#00f0ff 96px,#00fff9 97px,#00ffac 103px,#00ff6c 111px,#00ff38 142px,#00ff05 147px,#1cff00 149px,#d9ff00 152px,#fff700 153px,#fff700 165px,#edff00 166px,#40ff00 170px,#0aff00 173px,#00ff05 175px,#00ff05 180px)"></i><i style="left:458px;width:1px;background:linear-gradient(#000 0,#000 72px,#000095 73px,#0000e4 78px,#0000fe 82px,#0048ff 87px,#0083ff 90px,#00feff 95px,#00ffa8 102px,#00ff6c 111px,#00ff4d 130px,#00ff26 142px,#00ff04 145px,#34ff00 148px,#47ff00 149px,#dbff00 152px,#fffd00 153px,#fffd00 165px,#c8ff00 167px,#69ff00 170px,#20ff00 174px,#20ff00 180px)"></i><i style="left:459px;width:1px;background:linear-gradient(#000 0,#000 72px,#000094 73px,#0000da 77px,#0000fe 82px,#002dff 86px,#00a8ff 92px,#00f2ff 95px,#00fff9 96px,#00ffd2 99px,#00ff9d 109px,#00ff85 127px,#00ff4c 140px,#00ff0a 145px,#06ff00 146px,#8aff00 152px,#8aff00 166px,#6f0 170px,#1eff00 174px,#1eff00 180px)"></i><i style="left:460px;width:1px;background:linear-gradient(#000 0,#000 72px,#00008a 73px,#0000d0 77px,#0002ff 84px,#001aff 86px,#0095ff 92px,#00f7ff 96px,#00ffe9 98px,#00ffd1 101px,#00ffa8 109px,#00ff98 127px,#00ff5f 140px,#00ff08 146px,#1eff00 148px,#69ff00 152px,#64ff00 167px,#54ff00 170px,#0cff00 174px,#0cff00 180px)"></i><i style="left:461px;width:1px;background:linear-gradient(#000 0,#000 73px,#00009a 74px,#0000cf 77px,#00f 84px,#0018ff 86px,#0093ff 92px,#00f6ff 96px,#00ffea 98px,#00ffd2 101px,#00ffa9 109px,#00ffa2 127px,#00ff68 140px,#00ff0a 146px,#1aff00 148px,#58ff00 152px,#52ff00 170px,#0aff00 174px,#0aff00 180px)"></i><i style="left:462px;width:1px;background:linear-gradient(#000 0,#000 72px,#000094 73px,#0000e3 78px,#0004ff 82px,#0028ff 84px,#007dff 88px,#00f9ff 95px,#00ffd0 101px,#00ffa2 110px,#00ff87 128px,#0f5 141px,#00ff0a 149px,#06ff00 152px,#00ff1b 159px,#00ff20 160px,#00ffad 163px,#00ffb9 171px,#00ffcb 175px,#00ffd0 180px)"></i><i style="left:463px;width:1px;background:linear-gradient(#000 0,#000 72px,#0000a3 73px,#0000f2 78px,#0006ff 80px,#0031ff 83px,#009bff 88px,#00fffb 94px,#00ffc0 101px,#00ff92 110px,#0f7 128px,#00ff45 141px,#02ff00 148px,#30ff00 151px,#2bff00 153px,#00ff02 159px,#00ff06 160px,#00ff93 163px,#00ffa3 170px,#0fb 175px,#00ffc0 180px)"></i><i style="left:464px;width:1px;background:linear-gradient(#000 0,#000 72px,#000098 73px,#0000de 77px,#0006ff 82px,#0035ff 86px,#00b0ff 92px,#00faff 95px,#00ffce 99px,#00ff9a 108px,#00ff96 127px,#00ff5c 140px,#00ff0b 145px,#09ff00 146px,#af0 152px,#af0 166px,#49ff00 172px,#25ff00 174px,#25ff00 180px)"></i><i style="left:465px;width:1px;background:linear-gradient(#000 0,#000 73px,#009 74px,#0000ce 77px,#0000fe 84px,#0015ff 86px,#0091ff 92px,#00f3ff 96px,#00fff8 97px,#00ffd9 100px,#00ffab 108px,#00ffa6 127px,#00ff6d 140px,#00ff0c 146px,#08ff00 147px,#c9ff00 152px,#c9ff00 166px,#50ff00 170px,#08ff00 174px,#08ff00 180px)"></i><i style="left:466px;width:1px;background:linear-gradient(#000 0,#000 72px,#000091 73px,#0000d7 77px,#0004ff 83px,#0028ff 86px,#00a3ff 92px,#00fffc 96px,#00ffd5 99px,#00ffa1 108px,#00ff9d 127px,#00ff63 140px,#00ff02 146px,#19ff00 147px,#e3ff00 151px,#fff700 152px,#fff700 166px,#e9ff00 167px,#61ff00 170px,#19ff00 174px,#19ff00 180px)"></i><i style="left:467px;width:1px;background:linear-gradient(#000 0,#000 72px,#000089 73px,#0000cf 77px,#0001ff 84px,#0019ff 86px,#0094ff 92px,#00f6ff 96px,#00ffea 98px,#00ffd1 101px,#00ffa9 109px,#00ffa3 127px,#00ff69 140px,#00ff0a 146px,#0bff00 147px,#d7ff00 151px,#fffc00 152px,#fffc00 166px,#dcff00 167px,#53ff00 170px,#0bff00 174px,#0bff00 180px)"></i><i style="left:468px;width:1px;background:linear-gradient(#000 0,#000 72px,#00008c 73px,#0000d2 77px,#0000fc 83px,#001eff 86px,#09f 92px,#00fbff 96px,#00ffd4 100px,#00ffa6 109px,#00ff9e 127px,#00ff65 140px,#00ff07 146px,#10ff00 147px,#dcff00 151px,#fffa00 152px,#fffa00 166px,#e2ff00 167px,#58ff00 170px,#10ff00 174px,#10ff00 180px)"></i><i style="left:469px;width:1px;background:linear-gradient(#000 0,#000 72px,#00009f 73px,#0000e5 77px,#0000fb 80px,#0043ff 86px,#00beff 92px,#00efff 94px,#00fffa 95px,#00ffc7 99px,#00ff93 109px,#00ff89 127px,#00ff4f 140px,#00ff02 145px,#32ff00 147px,#ff0 151px,#fe0 152px,#fe0 166px,#fffd00 167px,#7aff00 170px,#32ff00 174px,#32ff00 180px)"></i><i style="left:470px;width:1px;background:linear-gradient(#000 0,#000 73px,#009 74px,#0000ce 77px,#0000fe 84px,#0016ff 86px,#0091ff 92px,#00f4ff 96px,#00fff8 97px,#00ffd8 100px,#0fa 109px,#00ff9f 127px,#00ff65 140px,#00ff0a 146px,#09ff00 147px,#d8ff00 151px,#fffb00 152px,#fffb00 166px,#df0 167px,#51ff00 170px,#09ff00 174px,#09ff00 180px)"></i><i style="left:471px;width:1px;background:linear-gradient(#000 0,#000 73px,#00008d 74px,#0000c2 77px,#0000fe 86px,#007aff 92px,#00f5ff 97px,#00fff7 98px,#00ffdf 101px,#00ffb6 109px,#00ffa9 127px,#00ff70 140px,#00ff07 147px,#27ff00 148px,#f8ff00 152px,#f8ff00 166px,#3bff00 170px,#05ff00 173px,#00ff07 176px,#00ff07 180px)"></i><i style="left:472px;width:1px;background:linear-gradient(#000 0,#000 74px,#00008e 75px,#0000b1 77px,#0004ff 88px,#0058ff 92px,#00fffc 99px,#00ffc8 109px,#00ffb9 127px,#00ff7f 140px,#00ff19 147px,#09ff00 148px,#dbff00 152px,#dbff00 166px,#1cff00 170px,#00ff04 172px,#00ff19 174px,#00ff19 180px)"></i><i style="left:473px;width:1px;background:linear-gradient(#000 0,#000 74px,#000096 75px,#0000b9 77px,#00f 87px,#0068ff 92px,#00fcff 98px,#00ffc0 108px,#00ffaf 127px,#00ff75 140px,#0f1 147px,#18ff00 148px,#ebff00 152px,#ebff00 166px,#2bff00 170px,#07ff00 172px,#0f1 174px,#0f1 180px)"></i><i style="left:474px;width:1px;background:linear-gradient(#000 0,#000 73px,#00009a 74px,#0000cf 77px,#00f 84px,#0017ff 86px,#0092ff 92px,#00f5ff 96px,#00fff7 97px,#00ffd8 100px,#00ffa9 109px,#00ff97 127px,#00ff5d 140px,#00ff09 146px,#0aff00 147px,#deff00 151px,#fff800 152px,#fff800 166px,#e3ff00 167px,#52ff00 170px,#0aff00 174px,#0aff00 180px)"></i><i style="left:475px;width:1px;background:linear-gradient(#000 0,#000 73px,#000095 74px,#0000c9 77px,#0001ff 85px,#0020ff 87px,#08f 92px,#00fffd 97px,#0fd 100px,#00ffaf 109px,#00ff9a 127px,#00ff61 140px,#0f0 147px,#d6ff00 151px,#fffb00 152px,#fffb00 166px,#dbff00 167px,#48ff00 170px,#0f0 174px,#0f0 180px)"></i><i style="left:476px;width:1px;background:linear-gradient(#000 0,#000 72px,#00008a 73px,#0000d0 77px,#0003ff 84px,#001aff 86px,#0096ff 92px,#00f8ff 96px,#00ffdc 99px,#00ffa7 109px,#00ff91 127px,#00ff58 140px,#00ff06 146px,#0dff00 147px,#e4ff00 151px,#fff600 152px,#fff600 166px,#e9ff00 167px,#5f0 170px,#0dff00 174px,#0dff00 180px)"></i><i style="left:477px;width:1px;background:linear-gradient(#000 0,#000 73px,#00008c 74px,#0000c0 77px,#0000fd 86px,#0076ff 92px,#00f2ff 97px,#00fff9 98px,#00ffe1 101px,#00ffb8 109px,#00ffa0 127px,#0f6 140px,#00ff09 147px,#26ff00 148px,#ff0 152px,#ff0 166px,#38ff00 170px,#02ff00 173px,#00ff09 175px,#00ff09 180px)"></i><i style="left:478px;width:1px;background:linear-gradient(#000 0,#000 73px,#00008d 74px,#0000c2 77px,#0003ff 86px,#007eff 92px,#00f9ff 97px,#00ffe3 100px,#00ffb3 109px,#00ff9a 127px,#00ff61 140px,#00ff05 147px,#62ff00 149px,#fffe00 152px,#fffe00 166px,#3fff00 170px,#09ff00 173px,#00ff05 175px,#00ff05 180px)"></i><i style="left:479px;width:1px;background:linear-gradient(#000 0,#000 72px,#00008a 73px,#0000d4 77px,#0000fc 82px,#002dff 86px,#00a8ff 92px,#00f2ff 95px,#00fff9 96px,#00ffd2 99px,#00ff9d 109px,#00ff82 127px,#00ff49 140px,#00ff09 145px,#07ff00 146px,#1eff00 147px,#f2ff00 151px,#fff200 152px,#fff200 166px,#f7ff00 167px,#6f0 170px,#1eff00 174px,#1eff00 180px)"></i><i style="left:480px;width:1px;background:linear-gradient(#000 0,#000 72px,#000092 73px,#00d 77px,#0002ff 81px,#04f 86px,#00bfff 92px,#00f0ff 94px,#00fffa 95px,#00ffc6 99px,#00ff91 109px,#00ff75 127px,#00ff3b 140px,#00ff09 144px,#07ff00 145px,#3f0 147px,#fffd00 151px,#ffec00 152px,#ffec00 166px,#fffb00 167px,#daff00 168px,#7bff00 170px,#3f0 174px,#3f0 180px)"></i><i style="left:481px;width:1px;background:linear-gradient(#000 0,#000 73px,#00009f 74px,#0000e2 78px,#00f 82px,#004aff 87px,#00b2ff 92px,#00fcff 95px,#00ffcd 99px,#00ff98 109px,#00ff7a 127px,#00ff41 140px,#00ff03 145px,#26ff00 147px,#f6ff00 151px,#fff100 152px,#fff100 166px,#fbff00 167px,#6fff00 170px,#26ff00 174px,#26ff00 180px)"></i><i style="left:482px;width:1px;background:linear-gradient(#000 0,#000 73px,#0000a3 74px,#0000e7 78px,#0000fe 81px,#04f 86px,#00bfff 92px,#00f0ff 94px,#00fffa 95px,#00ffc6 99px,#00ff91 109px,#00ff72 127px,#00ff38 140px,#00ff08 144px,#08ff00 145px,#32ff00 147px,#ff0 151px,#fe0 152px,#fe0 166px,#fffd00 167px,#7aff00 170px,#32ff00 174px,#32ff00 180px)"></i><i style="left:483px;width:1px;background:linear-gradient(#000 0,#000 72px,#00008a 73px,#0000a7 74px,#0000ec 78px,#0007ff 81px,#0063ff 87px,#00cbff 92px,#00fcff 94px,#00ffc0 99px,#00ff8b 109px,#00ff65 128px,#00ff30 140px,#00ff01 144px,#3dff00 147px,#d6ff00 150px,#fffc00 151px,#ffeb00 152px,#ffeb00 166px,#fffa00 167px,#e1ff00 168px,#86ff00 170px,#3dff00 174px,#3dff00 180px)"></i><i style="left:484px;width:1px;background:linear-gradient(#0000df 0,#0006ff 2px,#0049ff 17px,#09f 26px,#00d3ff 52px,#00ecff 72px,#00fff9 73px,#00ffcd 77px,#00ff78 93px,#00ff46 100px,#00ff1d 111px,#05ff00 129px,#37ff00 140px,#91ff00 147px,#fffe00 151px,#fff300 153px,#fff800 166px,#f0ff00 167px,#81ff00 170px,#4eff00 174px,#39ff00 180px)"></i><i style="left:485px;width:1px;background:linear-gradient(#0091ff 0,#00d6ff 1px,#00fff0 2px,#00ffa9 17px,#00ff56 26px,#00ff19 52px,#03ff00 72px,#24ff00 95px,#8dff00 117px,#b6ff00 143px,#f8ff00 153px,#f8ff00 165px,#67ff00 170px,#1fff00 180px)"></i><i style="left:486px;width:1px;background:linear-gradient(#0000cd 0,#0000f0 2px,#0005ff 10px,#0027ff 17px,#07f 26px,#00b1ff 52px,#00caff 72px,#00fffb 74px,#00ffd1 79px,#00ff91 92px,#00ff58 100px,#00ff2f 111px,#00ff05 133px,#0aff00 137px,#2f0 141px,#71ff00 147px,#ff0 152px,#fffe00 165px,#f5ff00 166px,#61ff00 170px,#2eff00 174px,#19ff00 180px)"></i><i style="left:487px;width:1px;background:linear-gradient(#000 0,#000 73px,#00008e 74px,#0000d5 78px,#0000fb 83px,#0016ff 85px,#00a0ff 92px,#00fffd 96px,#00ffd6 99px,#00ffa1 109px,#00ff7a 128px,#00ff45 140px,#02ff00 146px,#16ff00 147px,#e0ff00 151px,#fff800 152px,#fff800 166px,#e6ff00 167px,#5eff00 170px,#16ff00 174px,#16ff00 180px)"></i><i style="left:488px;width:1px;background:linear-gradient(#000 0,#000 74px,#000097 75px,#00c 78px,#0005ff 85px,#0090ff 92px,#00f2ff 96px,#00fff9 97px,#00ffd9 100px,#0fa 109px,#00ff82 128px,#00ff4d 140px,#00ff07 146px,#07ff00 147px,#fffd00 152px,#fffd00 166px,#4fff00 170px,#07ff00 174px,#07ff00 180px)"></i><i style="left:489px;width:1px;background:linear-gradient(#000 0,#000 74px,#000098 75px,#00c 78px,#0000fb 84px,#0018ff 86px,#0093ff 92px,#00f5ff 96px,#00ffea 98px,#00ffd2 101px,#00ffa8 109px,#00ff7f 128px,#00ff4a 140px,#00ff06 146px,#0aff00 147px,#d4ff00 151px,#fffc00 152px,#fffc00 166px,#adff00 168px,#52ff00 170px,#0aff00 174px,#0aff00 180px)"></i><i style="left:490px;width:1px;background:linear-gradient(#000 0,#000 75px,#000093 76px,#0000b6 78px,#0003ff 87px,#006aff 92px,#00feff 98px,#00ffe1 102px,#00ffbd 109px,#00ff93 128px,#00ff5e 140px,#00ff10 147px,#17ff00 148px,#e2ff00 152px,#e2ff00 166px,#2dff00 170px,#09ff00 172px,#00ff10 174px,#00ff10 180px)"></i><i style="left:491px;width:1px;background:linear-gradient(#000 0,#000 75px,#00009a 76px,#0000c7 79px,#0000fe 86px,#0079ff 92px,#00f4ff 97px,#00fff8 98px,#00ffe0 101px,#00ffb5 109px,#00ff8a 128px,#0f5 140px,#00ff08 147px,#25ff00 148px,#efff00 152px,#efff00 166px,#3aff00 170px,#04ff00 173px,#00ff08 175px,#00ff08 180px)"></i><i style="left:492px;width:1px;background:linear-gradient(#000 0,#000 74px,#000092 75px,#0000d2 79px,#0003ff 85px,#008fff 92px,#00f1ff 96px,#00fff9 97px,#00ffda 100px,#0fa 109px,#00ff7d 128px,#00ff48 140px,#00ff07 146px,#06ff00 147px,#fffe00 152px,#fffe00 166px,#4eff00 170px,#06ff00 174px,#06ff00 180px)"></i><i style="left:493px;width:1px;background:linear-gradient(#000 0,#000 76px,#009 77px,#0000b6 79px,#0005ff 88px,#0059ff 92px,#00ecff 98px,#00fffc 99px,#00ffc6 109px,#00ff98 128px,#00ff63 140px,#00ff19 147px,#07ff00 148px,#d2ff00 152px,#d2ff00 166px,#1dff00 170px,#00ff04 172px,#00ff19 174px,#00ff19 180px)"></i><i style="left:494px;width:1px;background:linear-gradient(#000 0,#000 75px,#00008f 76px,#0000bf 79px,#0003ff 87px,#006bff 92px,#0ff 98px,#00ffe7 101px,#00ffbc 109px,#00ff8d 128px,#00ff58 140px,#00ff0f 147px,#18ff00 148px,#e2ff00 152px,#e2ff00 166px,#2eff00 170px,#09ff00 172px,#00ff0f 174px,#00ff0f 180px)"></i><i style="left:495px;width:1px;background:linear-gradient(#000 0,#000 75px,#00009a 76px,#0000ca 79px,#0000fa 85px,#0007ff 86px,#0082ff 92px,#00feff 97px,#00ffe0 100px,#00ffb0 109px,#00ff80 128px,#00ff4b 140px,#00ff03 147px,#f8ff00 152px,#f8ff00 166px,#43ff00 170px,#00ff03 174px,#00ff03 180px)"></i><i style="left:496px;width:1px;background:linear-gradient(#000 0,#000 75px,#00008c 76px,#0000bd 79px,#0002ff 87px,#0069ff 92px,#00fdff 98px,#00ffdc 103px,#0fb 110px,#00ff8c 128px,#00ff57 140px,#00ff10 147px,#16ff00 148px,#e1ff00 152px,#e1ff00 166px,#2cff00 170px,#08ff00 172px,#00ff10 174px,#00ff10 180px)"></i><i style="left:497px;width:1px;background:linear-gradient(#000 0,#000 75px,#00009a 76px,#0000cb 79px,#0000fb 85px,#001fff 87px,#0086ff 92px,#00fffe 97px,#00ffde 100px,#00ffae 109px,#00ff7b 128px,#00ff46 140px,#00ff01 147px,#fbff00 152px,#fbff00 166px,#47ff00 170px,#00ff01 174px,#00ff01 180px)"></i><i style="left:498px;width:1px;background:linear-gradient(#000 0,#000 75px,#000095 76px,#0000c7 79px,#0003ff 86px,#007eff 92px,#00f9ff 97px,#00ffe2 100px,#00ffb2 109px,#00ff7a 129px,#00ff3f 141px,#00ff05 147px,#5cff00 149px,#f4ff00 152px,#f4ff00 166px,#3fff00 170px,#09ff00 173px,#00ff05 175px,#00ff05 180px)"></i><i style="left:499px;width:1px;background:linear-gradient(#000 0,#000 75px,#000098 76px,#0000ca 79px,#0000fb 85px,#001fff 87px,#0086ff 92px,#00fffe 97px,#00ffde 100px,#00ffae 109px,#00ff75 129px,#00ff3a 141px,#00ff01 147px,#fbff00 152px,#fbff00 166px,#47ff00 170px,#00ff01 174px,#00ff01 180px)"></i><i style="left:500px;width:1px;background:linear-gradient(#000 0,#000 75px,#00009a 76px,#0000cd 79px,#0000fe 85px,#008cff 92px,#00efff 96px,#00fffa 97px,#00ffdb 100px,#00ffa8 110px,#00ff70 129px,#00ff36 141px,#04ff00 147px,#fffe00 152px,#fffe00 166px,#4cff00 170px,#04ff00 174px,#04ff00 180px)"></i><i style="left:501px;width:1px;background:linear-gradient(#000 0,#000 74px,#00008b 75px,#0000d0 79px,#0005ff 85px,#0093ff 92px,#00f6ff 96px,#00ffea 98px,#00ffd2 101px,#00ffa4 110px,#00ff6b 129px,#00ff31 141px,#00ff03 146px,#0aff00 147px,#d5ff00 151px,#fffc00 152px,#fffc00 166px,#adff00 168px,#53ff00 170px,#0aff00 174px,#0aff00 180px)"></i><i style="left:502px;width:1px;background:linear-gradient(#000 0,#000 75px,#000095 76px,#0000c9 79px,#0000fb 85px,#0020ff 87px,#0087ff 92px,#00fffd 97px,#00ffde 100px,#0fa 110px,#00ff70 129px,#00ff37 141px,#0f0 147px,#fcff00 152px,#fcff00 166px,#48ff00 170px,#0f0 174px,#0f0 180px)"></i><i style="left:503px;width:1px;background:linear-gradient(#000 0,#000 75px,#000098 76px,#0000cd 79px,#00f 85px,#008fff 92px,#00f1ff 96px,#00fff9 97px,#00ffda 100px,#00ffa6 110px,#00ff67 130px,#00ff31 141px,#00ff05 146px,#06ff00 147px,#fffe00 152px,#fffe00 166px,#4fff00 170px,#06ff00 174px,#06ff00 180px)"></i><i style="left:504px;width:1px;background:linear-gradient(#000 0,#000 75px,#000095 76px,#0000ca 79px,#0000fc 85px,#0048ff 89px,#00a1ff 93px,#00fffd 97px,#0fd 100px,#00ffa9 110px,#00ff69 130px,#00ff34 141px,#0f0 147px,#fcff00 152px,#fcff00 166px,#49ff00 170px,#0f0 174px,#0f0 180px)"></i><i style="left:505px;width:1px;background:linear-gradient(#000 0,#000 74px,#000093 75px,#0000da 79px,#0005ff 84px,#00a8ff 92px,#00f2ff 95px,#00fff9 96px,#00ffd2 99px,#0f9 110px,#00ff57 130px,#0f2 141px,#0f0 145px,#1dff00 147px,#e6ff00 151px,#fff700 152px,#fff700 166px,#ebff00 167px,#65ff00 170px,#1dff00 174px,#1dff00 180px)"></i><i style="left:506px;width:1px;background:linear-gradient(#000 0,#000 74px,#0000a1 75px,#0000e7 79px,#0000fd 82px,#001fff 84px,#00c2ff 92px,#00f3ff 94px,#00fff8 95px,#00ffc5 99px,#00ff8b 110px,#00ff48 130px,#00ff13 141px,#00ff03 143px,#35ff00 147px,#fdff00 151px,#ffef00 152px,#ffef00 166px,#fffe00 167px,#7dff00 170px,#35ff00 174px,#35ff00 180px)"></i><i style="left:507px;width:1px;background:linear-gradient(#000 0,#000 74px,#000091 75px,#0000d7 79px,#0001ff 84px,#00a3ff 92px,#00edff 95px,#00fffb 96px,#00ffd5 99px,#00ff9b 110px,#00ff52 131px,#0f2 141px,#00ff02 145px,#19ff00 147px,#e0ff00 151px,#fff900 152px,#fff900 166px,#e5ff00 167px,#61ff00 170px,#19ff00 174px,#19ff00 180px)"></i><i style="left:508px;width:1px;background:linear-gradient(#000 0,#000 75px,#00009a 76px,#0000ce 79px,#0003ff 85px,#0092ff 92px,#00f5ff 96px,#00fff8 97px,#00ffd8 100px,#00ffa4 110px,#00ff5a 131px,#00ff2a 141px,#00ff03 146px,#09ff00 147px,#ff0 152px,#ff0 166px,#52ff00 170px,#09ff00 174px,#09ff00 180px)"></i><i style="left:509px;width:1px;background:linear-gradient(#000 0,#000 75px,#00008e 76px,#0000c3 79px,#0001ff 86px,#007cff 92px,#00f7ff 97px,#00ffe9 99px,#00ffaf 110px,#00ff5f 132px,#00ff34 141px,#00ff06 147px,#26ff00 148px,#eaff00 152px,#eaff00 166px,#3dff00 170px,#07ff00 173px,#00ff06 176px,#00ff06 180px)"></i><i style="left:510px;width:1px;background:linear-gradient(#000 0,#000 74px,#00008c 75px,#0000d2 79px,#0000fa 84px,#001eff 86px,#09f 92px,#00fcff 96px,#00ffd4 100px,#00ffa0 110px,#00ff4a 133px,#00ff1c 142px,#03ff00 146px,#10ff00 147px,#fffd00 152px,#fffd00 166px,#58ff00 170px,#10ff00 174px,#10ff00 180px)"></i><i style="left:511px;width:1px;background:linear-gradient(#000 0,#000 75px,#000091 76px,#0000c5 79px,#0005ff 86px,#0080ff 92px,#00fbff 97px,#00ffe1 100px,#00ffa9 111px,#00ff52 134px,#00ff29 142px,#00ff04 147px,#8bff00 150px,#ecff00 152px,#ecff00 166px,#41ff00 170px,#0bff00 173px,#00ff04 174px,#00ff04 180px)"></i><i style="left:512px;width:1px;background:linear-gradient(#000 0,#000 75px,#000090 76px,#0000c4 79px,#0003ff 86px,#007eff 92px,#00f9ff 97px,#00ffe2 100px,#0fa 111px,#00ff4d 135px,#00ff21 143px,#00ff05 147px,#58ff00 149px,#e9ff00 152px,#e9ff00 166px,#3fff00 170px,#09ff00 173px,#00ff05 175px,#00ff05 180px)"></i><i style="left:513px;width:1px;background:linear-gradient(#000 0,#000 74px,#00008e 75px,#0000d4 79px,#0000fc 84px,#009eff 92px,#00fffe 96px,#00ffd8 99px,#0f9 111px,#00ff36 136px,#00ff09 144px,#08ff00 146px,#14ff00 147px,#fffd00 152px,#fffd00 166px,#5cff00 170px,#14ff00 174px,#14ff00 180px)"></i><i style="left:514px;width:1px;background:linear-gradient(#000 0,#000 74px,#000090 75px,#0000d6 79px,#00f 84px,#00a2ff 92px,#00fffc 96px,#00ffd6 99px,#00ff97 111px,#00ff26 139px,#0f0 145px,#18ff00 147px,#d7ff00 151px,#fffc00 152px,#fffc00 166px,#b4ff00 168px,#60ff00 170px,#18ff00 174px,#18ff00 180px)"></i><i style="left:515px;width:1px;background:linear-gradient(#000 0,#000 74px,#00009c 75px,#0000e2 79px,#0002ff 83px,#00b9ff 92px,#00fffd 95px,#00ffca 99px,#00ff8b 111px,#00ff14 140px,#0f0 143px,#2dff00 147px,#ebff00 151px,#fff600 152px,#fff600 166px,#f1ff00 167px,#75ff00 170px,#2dff00 174px,#2dff00 180px)"></i><i style="left:516px;width:1px;background:linear-gradient(#000 0,#000 74px,#00009d 75px,#0000e3 79px,#0004ff 83px,#0bf 92px,#00fffc 95px,#00ffc9 99px,#00ff89 111px,#0f1 140px,#02ff00 143px,#2eff00 147px,#ecff00 151px,#fff600 152px,#fff600 166px,#f2ff00 167px,#7f0 170px,#2eff00 174px,#2eff00 180px)"></i><i style="left:517px;width:1px;background:linear-gradient(#000 0,#000 75px,#000098 76px,#0000cd 79px,#00f 85px,#008fff 92px,#00f2ff 96px,#00fff9 97px,#00ffd9 100px,#00ff9c 112px,#00ff21 141px,#00ff02 146px,#07ff00 147px,#f3ff00 152px,#f3ff00 166px,#4fff00 170px,#07ff00 174px,#07ff00 180px)"></i><i style="left:518px;width:1px;background:linear-gradient(#000 0,#000 74px,#00008e 75px,#0000d4 79px,#0000fd 84px,#009eff 92px,#00fffe 96px,#00ffd8 99px,#00ff94 112px,#00ff12 142px,#0f0 145px,#14ff00 147px,#ff0 152px,#ff0 166px,#5cff00 170px,#14ff00 174px,#14ff00 180px)"></i><i style="left:519px;width:1px;background:linear-gradient(#000 0,#000 74px,#00009d 75px,#0000e6 79px,#0000fe 82px,#001fff 84px,#00c6ff 92px,#00f7ff 94px,#00ffe9 96px,#00ffc3 99px,#00ff7f 112px,#05ff00 142px,#39ff00 147px,#f2ff00 151px,#fff400 152px,#fff400 166px,#f8ff00 167px,#81ff00 170px,#39ff00 174px,#39ff00 180px)"></i><i style="left:520px;width:1px;background:linear-gradient(#000 0,#000 74px,#000092 75px,#0000dc 79px,#0000fe 83px,#00baff 92px,#00fffc 95px,#00ffc9 99px,#00ff85 112px,#05ff00 143px,#2eff00 147px,#e5ff00 151px,#fff900 152px,#fff900 166px,#ebff00 167px,#76ff00 170px,#2eff00 174px,#2eff00 180px)"></i><i style="left:521px;width:1px;background:linear-gradient(#000 0,#000 75px,#0000a1 76px,#0000e2 80px,#0005ff 84px,#004bff 87px,#00b3ff 92px,#00fcff 95px,#00ffcd 99px,#00ff89 112px,#00ff07 142px,#08ff00 144px,#27ff00 147px,#dbff00 151px,#fffc00 152px,#fffc00 166px,#bcff00 168px,#6fff00 170px,#27ff00 174px,#27ff00 180px)"></i><i style="left:522px;width:1px;background:linear-gradient(#000 0,#000 75px,#00009f 76px,#0000e2 80px,#0004ff 84px,#004dff 87px,#00b5ff 92px,#00feff 95px,#0fc 99px,#0f8 112px,#00ff06 142px,#0aff00 144px,#29ff00 147px,#daff00 151px,#fffd00 152px,#fffd00 166px,#bcff00 168px,#71ff00 170px,#29ff00 174px,#29ff00 180px)"></i><i style="left:523px;width:1px;background:linear-gradient(#000 0,#000 76px,#00009a 77px,#0000ce 80px,#0000ec 84px,#0000fb 85px,#0090ff 92px,#00f2ff 96px,#00fff9 97px,#00ffd9 100px,#00ff9b 112px,#00ff19 142px,#00ff02 146px,#07ff00 147px,#e2ff00 152px,#e2ff00 166px,#50ff00 170px,#07ff00 174px,#07ff00 180px)"></i><i style="left:524px;width:1px;background:linear-gradient(#000 0,#000 33px,#00008a 34px,#0000a8 42px,#0000b7 69px,#0000c1 74px,#0000ed 77px,#0007ff 79px,#0028ff 81px,#0049ff 84px,#00e6ff 93px,#00f9ff 94px,#00ffc5 101px,#00ff3b 128px,#00ff07 143px,#0f0 144px,#23ff00 147px,#5bff00 149px,#e0ff00 152px,#f6ff00 153px,#f6ff00 165px,#e8ff00 166px,#6f0 170px,#1dff00 174px,#1dff00 180px)"></i><i style="left:525px;width:1px;background:linear-gradient(#000 0,#000 27px,#00008d 28px,#0000a2 29px,#0000fd 40px,#000dff 41px,#0035ff 66px,#00d3ff 87px,#00fdff 90px,#00ff4a 119px,#00ff1d 127px,#01ff00 142px,#5bff00 149px,#e2ff00 152px,#fffa00 153px,#fffa00 165px,#f3ff00 166px,#7fff00 170px,#37ff00 174px,#37ff00 180px)"></i><i style="left:526px;width:1px;background:linear-gradient(#000 0,#000 27px,#00008b 28px,#00009f 29px,#0000fb 40px,#000cff 43px,#0030ff 66px,#00ceff 87px,#00f8ff 90px,#00ffec 93px,#00ff1f 127px,#00ff02 142px,#57ff00 149px,#deff00 152px,#fffb00 153px,#fffb00 165px,#efff00 166px,#7bff00 170px,#3f0 174px,#3f0 180px)"></i></div><div class="sp" style="left:57px;top:254px;width:527px;height:181px"><i style="left:0px;width:1px;background:linear-gradient(#ffa100 0,#ffcb00 7px,#fffc00 12px,#a4ff00 14px,#40ff00 16px,#00ff02 17px,#00ff76 20px,#00fff2 24px,#00feff 25px,#007aff 30px,#0053ff 48px,#003fff 180px)"></i><i style="left:1px;width:1px;background:linear-gradient(#ff9c00 0,#ffc700 7px,#fff900 12px,#e0ff00 13px,#4bff00 16px,#07ff00 17px,#00ff70 20px,#00ffec 24px,#00fffa 25px,#00efff 26px,#0086ff 30px,#005eff 48px,#004bff 180px)"></i><i style="left:2px;width:1px;background:linear-gradient(#ff8f00 0,#ffb300 6px,#fcff00 13px,#6cff00 16px,#2aff00 17px,#00ff0d 18px,#00ffe5 24px,#00fffe 25px,#00d2ff 26px,#0063ff 30px,#0034ff 48px,#0020ff 180px)"></i><i style="left:3px;width:1px;background:linear-gradient(#ffa200 0,#ffca00 7px,#fffa00 12px,#e2ff00 13px,#5bff00 16px,#1eff00 17px,#00ff13 18px,#00ff84 21px,#00fbff 24px,#005cff 26px,#0000fe 29px,#0000f0 30px,#0000d2 49px,#0000c8 180px)"></i><i style="left:4px;width:1px;background:linear-gradient(#ffac00 0,#ffce00 7px,#fffb00 12px,#e3ff00 13px,#60ff00 16px,#28ff00 17px,#00ff0d 18px,#00ff7e 21px,#00fffd 24px,#0060ff 26px,#0017ff 28px,#0000f8 29px,#0000eb 31px,#0000cf 49px,#0000c5 180px)"></i><i style="left:5px;width:1px;background:linear-gradient(#ffae00 0,#ffd300 8px,#fff700 12px,#f6ff00 13px,#76ff00 16px,#43ff00 17px,#05ff00 18px,#00ff43 20px,#00fff0 24px,#00c9ff 25px,#07f 26px,#0000fb 29px,#0000ea 35px,#0000d6 49px,#00c 180px)"></i><i style="left:6px;width:1px;background:linear-gradient(#ffa100 0,#ffce00 9px,#feff00 14px,#7dff00 17px,#03ff00 19px,#00ff21 20px,#00fffd 25px,#00afff 26px,#0021ff 29px,#0006ff 35px,#0000f0 45px,#0000e4 180px)"></i><i style="left:7px;width:1px;background:linear-gradient(#ff9800 0,#ffc300 9px,#fff100 14px,#ff0 15px,#aeff00 17px,#00ff04 20px,#00ffe3 25px,#00dfff 26px,#0041ff 29px,#0006ff 47px,#0000f8 180px)"></i><i style="left:8px;width:1px;background:linear-gradient(#ffb200 0,#ffd300 9px,#ff0 14px,#8aff00 17px,#1aff00 19px,#0f1 20px,#00ffdc 25px,#00f1ff 26px,#004aff 29px,#0000fe 34px,#0000e7 49px,#00d 180px)"></i><i style="left:9px;width:1px;background:linear-gradient(#ffc000 0,#fd0 9px,#fffb00 13px,#e9ff00 14px,#79ff00 17px,#10ff00 19px,#00ff13 20px,#00ffc9 25px,#00fff2 26px,#00dfff 27px,#0067ff 29px,#01f 32px,#0000fb 33px,#0000ef 34px,#0000d7 49px,#0000cd 180px)"></i><i style="left:10px;width:1px;background:linear-gradient(#ffba00 0,#ffda00 10px,#fffb00 14px,#ebff00 15px,#9eff00 17px,#1f0 20px,#00ff15 21px,#00ff71 24px,#00ffbf 26px,#00fffc 28px,#00c0ff 29px,#0067ff 31px,#00f 34px,#0000e5 49px,#0000db 180px)"></i><i style="left:11px;width:1px;background:linear-gradient(#ffc000 0,#ffde00 10px,#fffd00 14px,#e8ff00 15px,#70ff00 18px,#1dff00 20px,#00ff09 21px,#00ff57 24px,#00ffc1 27px,#00ffe1 28px,#0ef 29px,#007aff 31px,#0020ff 33px,#0000f8 34px,#00d 48px,#0000d3 180px)"></i><i style="left:12px;width:1px;background:linear-gradient(#ffbe00 0,#ffe000 11px,#ff0 15px,#1eff00 21px,#00ff04 22px,#00ff2e 24px,#00ffb6 28px,#00ffe0 29px,#00f2ff 30px,#00abff 31px,#0005ff 34px,#0000e5 48px,#0000db 180px)"></i><i style="left:13px;width:1px;background:linear-gradient(#ffb900 0,#ffd800 11px,#faff00 16px,#8eff00 19px,#00ff02 24px,#0f8 28px,#00ffe1 30px,#00e2ff 31px,#001dff 34px,#0000fc 41px,#0000f0 49px,#0000e6 180px)"></i><i style="left:14px;width:1px;background:linear-gradient(#ffc400 0,#ffe300 11px,#fdff00 15px,#6cff00 19px,#06ff00 23px,#00ff20 25px,#0fa 29px,#00f7ff 31px,#00a8ff 32px,#0025ff 34px,#0000fb 35px,#0000bc 52px,#0000a1 58px,#0000c2 60px,#0000cb 171px,#0000d3 180px)"></i><i style="left:15px;width:1px;background:linear-gradient(#ffc400 0,#ffe200 11px,#fffd00 15px,#e7ff00 16px,#7aff00 19px,#00ff01 24px,#00ff0f 25px,#0f8 29px,#00f9ff 32px,#0027ff 35px,#000cff 36px,#0000f8 37px,#0000b1 48px,#000094 50px,#00008b 52px,#000 53px,#000 59px,#000092 60px,#00009d 171px,#0000a6 180px)"></i><i style="left:16px;width:1px;background:linear-gradient(#ffc800 0,#ffe500 11px,#fffd00 15px,#f3ff00 16px,#62ff00 20px,#02ff00 24px,#00ff1a 26px,#00ffa1 31px,#00fffa 33px,#00b3ff 34px,#0030ff 36px,#0000f6 37px,#000097 46px,#00008a 47px,#000 48px,#000 180px)"></i><i style="left:17px;width:1px;background:linear-gradient(#ffc400 0,#ffe100 11px,#fffe00 16px,#7f0 20px,#04ff00 25px,#00ff0b 26px,#00ff85 31px,#00fffd 34px,#002eff 37px,#000fff 38px,#0000f7 39px,#000098 46px,#000 47px,#000 180px)"></i><i style="left:18px;width:1px;background:linear-gradient(#ffc400 0,#ffdf00 11px,#fffc00 16px,#c6ff00 18px,#6bff00 21px,#01ff00 26px,#00ff37 29px,#00ff6d 31px,#00feff 35px,#0067ff 37px,#01f 39px,#0000f2 40px,#000095 46px,#000 47px,#000 180px)"></i><i style="left:19px;width:1px;background:linear-gradient(#ffcd00 0,#ffe600 11px,#fffe00 15px,#f1ff00 16px,#5aff00 21px,#0cff00 25px,#00ff04 26px,#00ff30 29px,#00ffa4 33px,#00ffc3 34px,#0fe 35px,#00d0ff 36px,#007fff 37px,#0013ff 39px,#0000ed 40px,#000095 45px,#000 46px,#000 180px)"></i><i style="left:20px;width:1px;background:linear-gradient(#ffcb00 0,#ffe300 11px,#f9ff00 16px,#69ff00 21px,#00ff02 27px,#00ff17 29px,#00ff9d 34px,#00fff6 36px,#0078ff 38px,#0037ff 39px,#0000f9 40px,#000095 45px,#000 46px,#000 180px)"></i><i style="left:21px;width:1px;background:linear-gradient(#ffca00 0,#ffe100 11px,#ff0 16px,#72ff00 21px,#08ff00 27px,#00ff0f 29px,#0f8 34px,#00fbff 37px,#04f 40px,#0000fb 42px,#0000a7 46px,#000 47px,#000 180px)"></i><i style="left:22px;width:1px;background:linear-gradient(#ffce00 0,#ffe400 11px,#fffc00 15px,#f6ff00 16px,#6dff00 21px,#04ff00 27px,#00ff10 29px,#00ff7d 34px,#00ffe8 37px,#00f2ff 38px,#0082ff 40px,#0014ff 43px,#0000f2 44px,#0000c4 46px,#0000a5 47px,#000 48px,#000 180px)"></i><i style="left:23px;width:1px;background:linear-gradient(#ffd300 0,#ffe900 11px,#faff00 15px,#cfff00 17px,#63ff00 21px,#1bff00 25px,#00ff02 27px,#00ff14 29px,#00ff73 34px,#00ffed 38px,#0ef 39px,#0bf 40px,#0051ff 43px,#0021ff 44px,#0000f7 45px,#0000bf 47px,#00009d 48px,#00008e 49px,#000 50px,#000 180px)"></i><i style="left:24px;width:1px;background:linear-gradient(#ffd400 0,#ffe900 11px,#fbff00 15px,#b7ff00 18px,#52ff00 22px,#12ff00 26px,#03ff00 27px,#00ff0f 29px,#00ff62 34px,#00fffc 40px,#009fff 43px,#0003ff 46px,#0000be 48px,#000096 50px,#000 51px,#000 180px)"></i><i style="left:25px;width:1px;background:linear-gradient(#ffcb00 0,#ffe500 12px,#fffd00 16px,#f0ff00 17px,#73ff00 22px,#4fff00 24px,#0bff00 29px,#00ff08 30px,#00ff40 34px,#00ffd7 41px,#00fff9 43px,#00d4ff 44px,#0028ff 47px,#0000ef 48px,#000093 52px,#000 53px,#000 180px)"></i><i style="left:26px;width:1px;background:linear-gradient(#ffc500 0,#ffde00 12px,#fffd00 17px,#73ff00 23px,#26ff00 29px,#00ff01 31px,#00ff34 35px,#00ffb5 42px,#00ffc5 43px,#00f9ff 45px,#0080ff 47px,#0037ff 48px,#0000fd 49px,#000093 53px,#000 54px,#000 180px)"></i><i style="left:27px;width:1px;background:linear-gradient(#fb0 0,#ffd300 12px,#fffa00 18px,#f7ff00 19px,#97ff00 23px,#3fff00 30px,#01ff00 34px,#00ff16 36px,#00ff8a 43px,#00ffea 46px,#00e7ff 47px,#01f 50px,#0000ea 51px,#000096 54px,#000 55px,#000 180px)"></i><i style="left:28px;width:1px;background:linear-gradient(#ffd500 0,#ffed00 12px,#fffe00 15px,#c5ff00 18px,#4cff00 23px,#00ff01 30px,#00ff27 36px,#00ff8e 43px,#00fff3 46px,#00d6ff 47px,#0039ff 49px,#0000f4 50px,#00008f 53px,#000 54px,#000 180px)"></i><i style="left:29px;width:1px;background:linear-gradient(#ffca00 0,#ffe100 12px,#fffe00 17px,#73ff00 23px,#05ff00 33px,#00ff10 36px,#00ff72 43px,#00ffef 47px,#00d5ff 48px,#0042ff 50px,#0005ff 51px,#0000a6 54px,#000 55px,#000 180px)"></i><i style="left:30px;width:1px;background:linear-gradient(#ffc300 0,#ffd900 12px,#fffd00 18px,#d8ff00 20px,#91ff00 23px,#03ff00 36px,#00ff5a 43px,#00ffce 47px,#00fff2 48px,#00d4ff 49px,#0090ff 50px,#001eff 52px,#0000f1 53px,#00009c 56px,#00008a 60px,#000 61px,#000 180px)"></i><i style="left:31px;width:1px;background:linear-gradient(#ffbe00 0,#ffd300 12px,#fffc00 19px,#d8ff00 21px,#af0 23px,#51ff00 31px,#1dff00 36px,#08ff00 37px,#00ff14 39px,#00ff46 43px,#00ffd2 48px,#00fff3 49px,#00d8ff 50px,#0004ff 54px,#0000ca 56px,#00008e 64px,#000 65px,#000 180px)"></i><i style="left:32px;width:1px;background:linear-gradient(#ffc600 0,#ffda00 12px,#fffb00 18px,#f6ff00 19px,#9f0 23px,#68ff00 27px,#00ff03 37px,#00ff49 43px,#00ffc9 48px,#00ffe7 49px,#00f3ff 50px,#0000fc 55px,#0000e1 56px,#000091 64px,#000 65px,#000 180px)"></i><i style="left:33px;width:1px;background:linear-gradient(#ffd100 0,#ffe400 12px,#fffe00 17px,#adff00 21px,#80ff00 23px,#57ff00 26px,#0f0 35px,#00ff51 43px,#00ffc6 48px,#00fffc 50px,#0082ff 53px,#001cff 55px,#0000f3 56px,#00008f 64px,#000 65px,#000 180px)"></i><i style="left:34px;width:1px;background:linear-gradient(#ffcd00 0,#ffdf00 12px,#ff0 18px,#83ff00 24px,#57ff00 28px,#00ff04 37px,#00ff40 43px,#00ffa9 48px,#00f9ff 52px,#00a0ff 54px,#003eff 56px,#000dff 58px,#0000f6 59px,#00009a 65px,#00008d 66px,#000 67px,#000 180px)"></i><i style="left:35px;width:1px;background:linear-gradient(#ffca00 0,#ffe000 13px,#feff00 19px,#94ff00 24px,#7aff00 26px,#1dff00 36px,#00ff01 38px,#00ff2f 43px,#00ffa2 49px,#0fe 53px,#00f0ff 54px,#0090ff 56px,#0079ff 57px,#0012ff 60px,#0000f5 61px,#0000ad 65px,#000090 67px,#000 68px,#000 180px)"></i><i style="left:36px;width:1px;background:linear-gradient(#ffcf00 0,#ffe300 13px,#fffc00 18px,#f7ff00 19px,#8dff00 24px,#73ff00 26px,#0bff00 37px,#00ff02 38px,#00ff2c 43px,#00ffd3 53px,#00f8ff 55px,#00caff 56px,#00afff 57px,#000eff 61px,#0000f1 62px,#0000b4 65px,#000093 67px,#000 68px,#000 180px)"></i><i style="left:37px;width:1px;background:linear-gradient(#ffce00 0,#ffe100 13px,#fffe00 19px,#85ff00 25px,#19ff00 37px,#0f0 39px,#00ff2d 44px,#00ffae 53px,#00fff4 56px,#00f7ff 57px,#0012ff 62px,#0000f0 63px,#00008c 68px,#000 69px,#000 180px)"></i><i style="left:38px;width:1px;background:linear-gradient(#ffda00 0,#ffed00 13px,#ff0 17px,#cdff00 20px,#65ff00 25px,#00ff01 37px,#00ff2b 43px,#00ffa0 53px,#00fff4 57px,#00e2ff 58px,#0015ff 62px,#00e 63px,#000094 67px,#000 68px,#000 180px)"></i><i style="left:39px;width:1px;background:linear-gradient(#ffc500 0,#ffd700 13px,#feff00 21px,#abff00 25px,#2f0 41px,#00ff05 44px,#00ff59 53px,#00ffac 57px,#00faff 60px,#0010ff 64px,#0000f0 65px,#009 69px,#000 70px,#000 180px)"></i><i style="left:40px;width:1px;background:linear-gradient(#ffc500 0,#ffd500 13px,#fffd00 21px,#c7ff00 24px,#b2ff00 25px,#27ff00 42px,#03ff00 45px,#00ff35 53px,#0f8 57px,#00ffe5 60px,#00f1ff 61px,#0031ff 64px,#00f 65px,#0000a0 69px,#000 70px,#000 180px)"></i><i style="left:41px;width:1px;background:linear-gradient(#ffd400 0,#ffe300 13px,#fffc00 19px,#dfff00 21px,#8eff00 25px,#03ff00 42px,#00ff47 53px,#00ff96 57px,#0fe 60px,#00e2ff 61px,#002bff 64px,#0000fc 65px,#0000af 68px,#00009d 69px,#000 70px,#000 180px)"></i><i style="left:42px;width:1px;background:linear-gradient(#ffd300 0,#ffe100 13px,#fbff00 20px,#98ff00 25px,#0cff00 42px,#01ff00 43px,#00ff3f 53px,#00ff8b 57px,#00fffc 61px,#0025ff 65px,#0000f8 66px,#0000c5 68px,#00009b 70px,#000 71px,#000 180px)"></i><i style="left:43px;width:1px;background:linear-gradient(#ffd900 0,#ffe700 13px,#fffe00 19px,#8dff00 25px,#0f0 42px,#00ff43 53px,#00ff8b 57px,#00fff6 61px,#00daff 62px,#0006ff 66px,#0000ce 68px,#000092 71px,#00008c 73px,#000 74px,#000 180px)"></i><i style="left:44px;width:1px;background:linear-gradient(#ffe100 0,#fff200 14px,#fcff00 18px,#7cff00 25px,#01ff00 40px,#00ff4a 53px,#00ff8f 57px,#00fff3 61px,#00e2ff 62px,#0013ff 66px,#0000ef 67px,#0000d4 68px,#0000a0 71px,#00008d 75px,#000 76px,#000 180px)"></i><i style="left:45px;width:1px;background:linear-gradient(#fd0 0,#ffec00 14px,#ff0 19px,#92ff00 25px,#00ff03 43px,#00ff46 54px,#00ffa8 59px,#00fff3 62px,#00e5ff 63px,#0017ff 67px,#0000f0 68px,#0000c2 71px,#00008f 79px,#000 80px,#000 180px)"></i><i style="left:46px;width:1px;background:linear-gradient(#ffd900 0,#ffe700 14px,#fcff00 20px,#b1ff00 24px,#00ff03 45px,#00ff36 54px,#00ff93 59px,#00fff2 63px,#00ebff 64px,#0017ff 68px,#0001ff 69px,#00d 72px,#00008d 82px,#000 83px,#000 180px)"></i><i style="left:47px;width:1px;background:linear-gradient(#ffe400 0,#fff100 14px,#fffd00 18px,#96ff00 24px,#00ff02 42px,#00ff40 54px,#00ffae 60px,#00fff0 63px,#00f0ff 64px,#001aff 68px,#0007ff 69px,#0000de 73px,#000090 81px,#000 82px,#000 180px)"></i><i style="left:48px;width:1px;background:linear-gradient(#ffe800 0,#fff400 14px,#fdff00 18px,#90ff00 24px,#0f0 41px,#00ff3e 54px,#00ffa5 60px,#00fff8 64px,#00d6ff 65px,#0034ff 68px,#0002ff 71px,#0000d0 76px,#00008d 82px,#000 83px,#000 180px)"></i><i style="left:49px;width:1px;background:linear-gradient(#fe0 0,#fff700 14px,#ff0 17px,#e7ff00 19px,#93ff00 24px,#01ff00 42px,#00ff3f 54px,#00ffba 61px,#00fff7 64px,#00dfff 65px,#004eff 68px,#0002ff 72px,#000090 83px,#000 84px,#000 180px)"></i><i style="left:50px;width:1px;background:linear-gradient(#fff200 0,#fffa00 15px,#fbff00 18px,#9dff00 24px,#0f0 44px,#00ff2e 53px,#00ffa3 60px,#00fff1 64px,#00f0ff 65px,#0071ff 68px,#0005ff 73px,#000094 84px,#000 85px,#000 180px)"></i><i style="left:51px;width:1px;background:linear-gradient(#fffa00 0,#fbff00 16px,#e2ff00 19px,#a0ff00 24px,#00ff01 45px,#00ff2b 53px,#00ffa0 60px,#00fdff 65px,#008aff 68px,#0000fd 74px,#00009b 85px,#000 86px,#000 180px)"></i><i style="left:52px;width:1px;background:linear-gradient(#c2ff00 0,#bdff00 14px,#adff00 18px,#15ff00 36px,#00ff03 40px,#00ff30 51px,#00ff61 55px,#00ffb2 60px,#00fffd 64px,#006eff 68px,#000aff 72px,#0000eb 74px,#00008c 85px,#000 86px,#000 180px)"></i><i style="left:53px;width:1px;background:linear-gradient(#a4ff00 0,#a4ff00 16px,#65ff00 27px,#08ff00 38px,#00ff0d 43px,#00ff28 51px,#00ff98 59px,#00fff5 64px,#00efff 65px,#0085ff 68px,#0002ff 73px,#00008e 86px,#000 87px,#000 180px)"></i><i style="left:54px;width:1px;background:linear-gradient(#97ff00 0,#98ff00 16px,#59ff00 27px,#02ff00 37px,#00ff2f 51px,#00ff9f 59px,#00fffc 64px,#07f 68px,#000eff 72px,#0000f9 73px,#000092 85px,#000 86px,#000 180px)"></i><i style="left:55px;width:1px;background:linear-gradient(#6cff00 0,#6eff00 16px,#2fff00 27px,#03ff00 32px,#00ff46 51px,#00ffb8 59px,#00f9ff 63px,#0049ff 68px,#0000fc 71px,#0000cd 75px,#00008e 83px,#000 84px,#000 180px)"></i><i style="left:56px;width:1px;background:linear-gradient(#81ff00 0,#84ff00 16px,#45ff00 27px,#00ff01 35px,#00ff39 51px,#00ffab 59px,#00fff6 63px,#00edff 64px,#0061ff 68px,#0012ff 71px,#0000fb 72px,#0000d9 75px,#000089 85px,#000 86px,#000 180px)"></i><i style="left:57px;width:1px;background:linear-gradient(#8eff00 0,#92ff00 16px,#53ff00 27px,#00ff01 37px,#00ff31 51px,#00ffa4 59px,#00fcff 64px,#0070ff 68px,#0007ff 72px,#0000d9 76px,#000092 85px,#000 86px,#000 180px)"></i><i style="left:58px;width:1px;background:linear-gradient(#92ff00 0,#97ff00 16px,#58ff00 27px,#05ff00 37px,#00ff2d 51px,#00ffa2 59px,#00fffe 64px,#0074ff 68px,#000bff 72px,#0000f7 73px,#00008c 86px,#000 87px,#000 180px)"></i><i style="left:59px;width:1px;background:linear-gradient(#8cff00 0,#92ff00 16px,#53ff00 27px,#01ff00 37px,#00ff30 51px,#00ffa5 59px,#00faff 64px,#006fff 68px,#0006ff 72px,#0000c3 79px,#00008a 86px,#000 87px,#000 180px)"></i><i style="left:60px;width:1px;background:linear-gradient(#62ff00 0,#68ff00 16px,#21ff00 28px,#0f0 32px,#00ff47 51px,#00ffbd 59px,#00fff5 62px,#00efff 63px,#0041ff 68px,#000dff 70px,#0000f8 71px,#0000cb 75px,#00008e 83px,#000 84px,#000 180px)"></i><i style="left:61px;width:1px;background:linear-gradient(#7fff00 0,#86ff00 16px,#3fff00 28px,#00ff02 36px,#00ff35 51px,#00ffac 59px,#00fff7 63px,#00ecff 64px,#0062ff 68px,#0013ff 71px,#0000fb 72px,#0000d4 76px,#00008f 85px,#000 86px,#000 180px)"></i><i style="left:62px;width:1px;background:linear-gradient(#74ff00 0,#7cff00 16px,#35ff00 28px,#00ff02 35px,#00ff3b 51px,#00ffb2 59px,#00fffd 63px,#0056ff 68px,#0007ff 71px,#0000de 74px,#00008b 85px,#000 86px,#000 180px)"></i><i style="left:63px;width:1px;background:linear-gradient(#68ff00 0,#71ff00 16px,#2aff00 28px,#01ff00 33px,#00ff41 51px,#00ffb9 59px,#00fff1 62px,#00f6ff 63px,#0049ff 68px,#0000fc 71px,#0000d0 75px,#00008e 84px,#000 85px,#000 180px)"></i><i style="left:64px;width:1px;background:linear-gradient(#8fff00 0,#9f0 16px,#53ff00 28px,#01ff00 39px,#00ff29 51px,#00ffa3 59px,#00feff 64px,#0075ff 68px,#000cff 72px,#0000f8 73px,#000093 86px,#000 87px,#000 180px)"></i><i style="left:65px;width:1px;background:linear-gradient(#95ff00 0,#a0ff00 16px,#5aff00 28px,#09ff00 39px,#00ff09 43px,#00ff24 51px,#00ff9f 59px,#00fffc 64px,#007dff 68px,#0013ff 72px,#0000fc 73px,#000098 86px,#000 87px,#000 180px)"></i><i style="left:66px;width:1px;background:linear-gradient(#7dff00 0,#89ff00 16px,#43ff00 28px,#00ff01 37px,#00ff31 51px,#00ffad 59px,#00fff7 63px,#00ebff 64px,#0063ff 68px,#0000fc 72px,#0000d0 77px,#00008c 86px,#000 87px,#000 180px)"></i><i style="left:67px;width:1px;background:linear-gradient(#8fff00 0,#9cff00 16px,#56ff00 28px,#0f0 40px,#00ff26 51px,#00ffa2 59px,#0ff 64px,#07f 68px,#000eff 72px,#0000f9 73px,#000098 86px,#000 87px,#000 180px)"></i><i style="left:68px;width:1px;background:linear-gradient(#7cff00 0,#8aff00 16px,#4f0 28px,#01ff00 37px,#00ff30 51px,#00ffad 59px,#00fff7 63px,#00eaff 64px,#0080ff 67px,#0014ff 71px,#0000fc 72px,#0000d1 77px,#00008e 86px,#000 87px,#000 180px)"></i><i style="left:69px;width:1px;background:linear-gradient(#78ff00 0,#86ff00 16px,#41ff00 28px,#00ff01 37px,#00ff31 51px,#00ffb0 59px,#00fffa 63px,#00c2ff 65px,#005fff 68px,#0010ff 71px,#0000fa 72px,#0000cf 77px,#00008d 86px,#000 87px,#000 180px)"></i><i style="left:70px;width:1px;background:linear-gradient(#6cff00 0,#7cff00 16px,#2fff00 29px,#00ff03 36px,#00ff37 51px,#00ffb6 59px,#00fdff 63px,#006fff 67px,#0004ff 71px,#0000df 74px,#000093 85px,#000 86px,#000 180px)"></i><i style="left:71px;width:1px;background:linear-gradient(#8aff00 0,#9bff00 16px,#4eff00 29px,#02ff00 40px,#00ff25 51px,#00ffa5 59px,#00faff 64px,#0090ff 67px,#000bff 72px,#0000f7 73px,#00009b 86px,#00008f 87px,#000 88px,#000 180px)"></i><i style="left:72px;width:1px;background:linear-gradient(#4f0 0,#56ff00 16px,#09ff00 29px,#00ff0b 33px,#00ff4b 51px,#00ffcd 59px,#00fff2 61px,#00f5ff 62px,#0043ff 67px,#000eff 69px,#0000f9 70px,#0000ca 74px,#00008d 83px,#000 84px,#000 180px)"></i><i style="left:73px;width:1px;background:linear-gradient(#6aff00 0,#7cff00 16px,#31ff00 29px,#00ff01 36px,#00ff35 51px,#00ffb7 59px,#00fbff 63px,#006dff 67px,#0004ff 71px,#0000e0 74px,#00008c 86px,#000 87px,#000 180px)"></i><i style="left:74px;width:1px;background:linear-gradient(#7bff00 0,#8dff00 16px,#42ff00 29px,#00ff02 39px,#00ff2b 51px,#00ffad 59px,#00fff7 63px,#00eaff 64px,#0080ff 67px,#0000fd 72px,#0000e2 75px,#000096 86px,#00008c 87px,#000 88px,#000 180px)"></i><i style="left:75px;width:1px;background:linear-gradient(#4bff00 0,#5eff00 16px,#12ff00 29px,#00ff02 32px,#00ff46 51px,#00ffc8 59px,#00fdff 62px,#004bff 67px,#0000fd 70px,#0000d5 73px,#00008c 84px,#000 85px,#000 180px)"></i><i style="left:76px;width:1px;background:linear-gradient(#67ff00 0,#79ff00 16px,#2eff00 29px,#00ff03 36px,#00ff37 51px,#00ffb9 59px,#00fff0 62px,#00f8ff 63px,#006aff 67px,#0001ff 71px,#0000de 74px,#00008c 86px,#000 87px,#000 180px)"></i><i style="left:77px;width:1px;background:linear-gradient(#79ff00 0,#8bff00 16px,#3fff00 29px,#0f0 38px,#00ff2d 51px,#00ffaf 59px,#00fff9 63px,#00e7ff 64px,#007dff 67px,#0014ff 71px,#0000fc 72px,#0000e1 75px,#00008d 87px,#000 88px,#000 180px)"></i><i style="left:78px;width:1px;background:linear-gradient(#90ff00 0,#a2ff00 16px,#56ff00 29px,#0f0 42px,#00ff1f 51px,#00ffa1 59px,#00fffe 64px,#0096ff 67px,#0013ff 72px,#0000fb 73px,#00009b 87px,#000 88px,#000 180px)"></i><i style="left:79px;width:1px;background:linear-gradient(#96ff00 0,#a8ff00 16px,#5cff00 29px,#0f0 43px,#00ff1c 51px,#00ff9e 59px,#00fffb 64px,#00c0ff 66px,#0082ff 68px,#0000fe 73px,#00009e 87px,#000 88px,#000 180px)"></i><i style="left:80px;width:1px;background:linear-gradient(#6dff00 0,#7fff00 16px,#3f0 29px,#01ff00 36px,#0f3 51px,#00ffb5 59px,#00feff 63px,#0070ff 67px,#0007ff 71px,#0000e1 74px,#000093 86px,#000 87px,#000 180px)"></i><i style="left:81px;width:1px;background:linear-gradient(#5dff00 0,#6fff00 16px,#23ff00 29px,#00ff01 34px,#00ff3d 51px,#00ffbf 59px,#00fff6 62px,#00ecff 63px,#005eff 67px,#000fff 70px,#0000f9 71px,#0000d8 74px,#00008a 86px,#000 87px,#000 180px)"></i><i style="left:82px;width:1px;background:linear-gradient(#95ff00 0,#a7ff00 16px,#5bff00 29px,#00ff01 43px,#00ff1c 51px,#00ff9e 59px,#00fffb 64px,#009cff 67px,#0000fe 73px,#0000a0 87px,#00008f 88px,#000 89px,#000 180px)"></i><i style="left:83px;width:1px;background:linear-gradient(#98ff00 0,#af0 16px,#5eff00 29px,#01ff00 43px,#00ff1b 51px,#00ff9d 59px,#00fffa 64px,#00c2ff 66px,#0084ff 68px,#0001ff 73px,#0000a2 87px,#000092 88px,#000 89px,#000 180px)"></i><i style="left:84px;width:1px;background:linear-gradient(#75ff00 0,#87ff00 16px,#3bff00 29px,#00ff02 38px,#00ff2f 51px,#00ffb1 59px,#00fffb 63px,#00c0ff 65px,#0079ff 67px,#0010ff 71px,#0000fa 72px,#0000e0 75px,#000090 87px,#000 88px,#000 180px)"></i><i style="left:85px;width:1px;background:linear-gradient(#7fff00 0,#91ff00 16px,#45ff00 29px,#0f0 39px,#00ff29 51px,#00ffab 59px,#00fff6 63px,#00edff 64px,#0083ff 67px,#00f 72px,#0000e5 75px,#000096 87px,#000 88px,#000 180px)"></i><i style="left:86px;width:1px;background:linear-gradient(#85ff00 0,#97ff00 16px,#4bff00 29px,#0f0 40px,#00ff26 51px,#00ffa8 59px,#00fff2 63px,#00f4ff 64px,#008aff 67px,#0006ff 72px,#0000e2 76px,#00009a 87px,#00008e 88px,#000 89px,#000 180px)"></i><i style="left:87px;width:1px;background:linear-gradient(#87ff00 0,#9f0 16px,#4dff00 29px,#03ff00 40px,#00ff24 51px,#00ffa6 59px,#00fff1 63px,#00f7ff 64px,#008cff 67px,#0009ff 72px,#0000f0 74px,#00009c 87px,#000092 88px,#000 89px,#000 180px)"></i><i style="left:88px;width:1px;background:linear-gradient(#86ff00 0,#98ff00 16px,#4cff00 29px,#02ff00 40px,#00ff25 51px,#00ff9a 59px,#00faff 65px,#00a1ff 68px,#0025ff 73px,#0007ff 75px,#0000eb 78px,#0000b0 88px,#00009c 89px,#000 90px,#000 180px)"></i><i style="left:89px;width:1px;background:linear-gradient(#8fff00 0,#a1ff00 16px,#5f0 29px,#00ff01 42px,#00ff20 51px,#0f8 59px,#00fff6 66px,#00f3ff 67px,#008fff 71px,#000aff 78px,#0000fb 80px,#0000ca 89px,#0000a2 96px,#00008a 99px,#000 100px,#000 180px)"></i><i style="left:90px;width:1px;background:linear-gradient(#5dff00 0,#6fff00 16px,#23ff00 29px,#00ff01 34px,#00ff3b 51px,#00ff98 59px,#00fffc 66px,#008dff 71px,#0009ff 78px,#0000fa 80px,#0000b4 94px,#00008a 98px,#000 99px,#000 180px)"></i><i style="left:91px;width:1px;background:linear-gradient(#87ff00 0,#9f0 16px,#4eff00 29px,#04ff00 40px,#00ff21 51px,#00ff7f 60px,#00fffd 70px,#0078ff 78px,#0000fe 89px,#0000cf 95px,#0000a1 99px,#000 100px,#000 180px)"></i><i style="left:92px;width:1px;background:linear-gradient(#84ff00 0,#96ff00 16px,#4aff00 29px,#02ff00 40px,#00ff20 51px,#00ff7c 61px,#00ffec 71px,#00fffc 73px,#00abff 79px,#0000fc 92px,#0000a9 99px,#000094 100px,#000 101px,#000 180px)"></i><i style="left:93px;width:1px;background:linear-gradient(#7aff00 0,#8dff00 16px,#41ff00 29px,#04ff00 38px,#00ff2b 52px,#00ff86 63px,#00ffdc 72px,#00fbff 77px,#0af 83px,#002dff 91px,#0000fe 93px,#00009c 100px,#000089 101px,#000 102px,#000 180px)"></i><i style="left:94px;width:1px;background:linear-gradient(#84ff00 0,#96ff00 16px,#4aff00 29px,#0eff00 38px,#00ff03 42px,#0f2 52px,#00ff6c 63px,#00ffb9 72px,#00fffe 82px,#0061ff 91px,#000dff 94px,#0000f7 95px,#000090 102px,#000 103px,#000 180px)"></i><i style="left:95px;width:1px;background:linear-gradient(#4eff00 0,#6f0 16px,#00ff03 34px,#00ff40 53px,#00ff80 63px,#0fd 75px,#00fffe 80px,#05f 91px,#0000fc 95px,#0000ad 102px,#000098 103px,#000 104px,#000 180px)"></i><i style="left:96px;width:1px;background:linear-gradient(#87ff00 0,#a5ff00 16px,#00ff01 46px,#00ff2b 57px,#00fffd 86px,#00afff 92px,#0020ff 101px,#0000fb 103px,#00e 104px,#00009f 134px,#00008e 136px,#000 137px,#000 180px)"></i><i style="left:97px;width:1px;background:linear-gradient(#80ff00 0,#a4ff00 16px,#00ff02 47px,#00ff25 57px,#00fffa 88px,#00f1ff 90px,#00a4ff 97px,#00f 118px,#0000c0 134px,#00008e 138px,#000 139px,#000 180px)"></i><i style="left:98px;width:1px;background:linear-gradient(#62ff00 0,#86ff00 16px,#00ff01 41px,#00ff36 57px,#00feff 86px,#0083ff 97px,#0000fe 114px,#0000af 134px,#00008a 137px,#000 138px,#000 180px)"></i><i style="left:99px;width:1px;background:linear-gradient(#79ff00 0,#9dff00 16px,#0f0 45px,#00ff29 57px,#00fffe 88px,#009dff 97px,#00f 117px,#0000bc 134px,#00008a 138px,#000 139px,#000 180px)"></i><i style="left:100px;width:1px;background:linear-gradient(#85ff00 0,#9dff00 11px,#9bff00 17px,#0f0 46px,#00ff2c 57px,#00ff7b 66px,#00ffc3 73px,#00ffef 79px,#00fdff 82px,#06f 98px,#00f 111px,#0000e4 115px,#0000d7 117px,#0000a5 134px,#000092 136px,#000 137px,#000 180px)"></i><i style="left:101px;width:1px;background:linear-gradient(#c4ff00 0,#e4ff00 8px,#beff00 19px,#16ff00 51px,#00ff01 53px,#00ff34 60px,#00ff8c 66px,#00ffe0 70px,#00fff8 72px,#00f5ff 73px,#00afff 76px,#0050ff 94px,#0000fd 106px,#0000e6 111px,#00c 114px,#00009d 116px,#00008c 134px,#000 135px,#000 180px)"></i><i style="left:102px;width:1px;background:linear-gradient(#c4ff00 0,#e8ff00 8px,#45ff00 41px,#0eff00 51px,#0f0 52px,#00ff40 60px,#00ffa7 66px,#00fff5 69px,#00e2ff 70px,#04f 76px,#0016ff 93px,#0000fd 97px,#0000d0 110px,#0000a7 114px,#00008a 115px,#000 116px,#000 180px)"></i><i style="left:103px;width:1px;background:linear-gradient(#9bff00 0,#c0ff00 8px,#10ff00 43px,#00ff03 47px,#00ff18 52px,#00ff58 60px,#00ffbf 66px,#00fff3 68px,#00e5ff 69px,#00b4ff 70px,#0016ff 76px,#0000fc 87px,#0000e9 96px,#0000b7 110px,#00008a 114px,#000 115px,#000 180px)"></i><i style="left:104px;width:1px;background:linear-gradient(#7cff00 0,#a0ff00 8px,#00ff01 40px,#00ff2b 52px,#00ff6b 60px,#00ffd2 66px,#00ffec 67px,#00f2ff 68px,#0090ff 70px,#000cff 75px,#0000f8 76px,#00d 94px,#0000a3 110px,#00008f 112px,#000 113px,#000 180px)"></i><i style="left:105px;width:1px;background:linear-gradient(#7cff00 0,#a0ff00 8px,#00ff02 40px,#00ff2c 52px,#00ff6c 60px,#00ffd3 66px,#00ffed 67px,#00f0ff 68px,#008eff 70px,#000aff 75px,#0000f7 76px,#0000dc 94px,#0000a1 110px,#00008c 112px,#000 113px,#000 180px)"></i><i style="left:106px;width:1px;background:linear-gradient(#83ff00 0,#a7ff00 8px,#00ff02 41px,#00ff29 52px,#00ff69 60px,#00ffd0 66px,#00f6ff 68px,#0093ff 70px,#0010ff 75px,#0000fa 76px,#0000df 94px,#0000a2 110px,#00008e 112px,#000 113px,#000 180px)"></i><i style="left:107px;width:1px;background:linear-gradient(#7eff00 0,#a2ff00 8px,#00ff02 40px,#00ff2c 52px,#00ff6c 60px,#00ffd3 66px,#00ffed 67px,#00f0ff 68px,#008dff 70px,#000aff 75px,#0000f5 77px,#0000db 94px,#0000a3 109px,#000093 111px,#000 112px,#000 180px)"></i><i style="left:108px;width:1px;background:linear-gradient(#79ff00 0,#9dff00 8px,#2bff00 30px,#00ff03 39px,#00ff30 52px,#00ff70 60px,#00ffd8 66px,#00fff1 67px,#00e8ff 68px,#0085ff 70px,#0002ff 75px,#0000f3 76px,#0000d7 94px,#00009e 109px,#00008d 111px,#000 112px,#000 180px)"></i><i style="left:109px;width:1px;background:linear-gradient(#81ff00 0,#a5ff00 8px,#4aff00 25px,#00ff02 40px,#00ff2c 52px,#00ff6c 60px,#00ffd4 66px,#00ffed 67px,#00efff 68px,#008dff 70px,#0009ff 75px,#0000f5 77px,#0000db 94px,#0000a1 109px,#00008f 111px,#000 112px,#000 180px)"></i><i style="left:110px;width:1px;background:linear-gradient(#8aff00 0,#aeff00 8px,#60ff00 22px,#00ff01 41px,#00ff28 52px,#00ff68 60px,#00ffcf 66px,#00f7ff 68px,#0095ff 70px,#0012ff 75px,#0000fb 76px,#0000df 94px,#0000a4 109px,#000091 111px,#000 112px,#000 180px)"></i><i style="left:111px;width:1px;background:linear-gradient(#87ff00 0,#abff00 8px,#60ff00 21px,#00ff01 40px,#00ff2b 52px,#00ff6b 60px,#00ffd2 66px,#00ffec 67px,#00f2ff 68px,#0090ff 70px,#000cff 75px,#0000f8 76px,#0000dc 94px,#0000a0 109px,#00008d 111px,#000 112px,#000 180px)"></i><i style="left:112px;width:1px;background:linear-gradient(#82ff00 0,#a6ff00 8px,#5eff00 20px,#00ff01 39px,#00ff2e 52px,#00ff6f 60px,#00ffd6 66px,#00fff0 67px,#00ebff 68px,#08f 70px,#0005ff 75px,#0000f3 77px,#0000d9 94px,#0000a5 108px,#000092 110px,#000 111px,#000 180px)"></i><i style="left:113px;width:1px;background:linear-gradient(#90ff00 0,#b4ff00 8px,#6fff00 19px,#00ff03 42px,#00ff27 52px,#00ff68 60px,#00ffcf 66px,#00f9ff 68px,#0096ff 70px,#0013ff 75px,#0000fb 76px,#0000e0 94px,#0000ab 108px,#00008d 111px,#000 112px,#000 180px)"></i><i style="left:114px;width:1px;background:linear-gradient(#caff00 0,#ecff00 8px,#a8ff00 19px,#0bff00 49px,#0f0 51px,#00ff4b 60px,#00ffb3 66px,#0ff 69px,#00cfff 70px,#0036ff 76px,#0000fd 94px,#0000c3 108px,#00009c 112px,#000 113px,#000 180px)"></i><i style="left:115px;width:1px;background:linear-gradient(#85ff00 0,#a6ff00 8px,#61ff00 19px,#00ff02 39px,#00ff32 52px,#0f7 60px,#00ffdf 66px,#00fff8 67px,#0df 68px,#007fff 70px,#0002ff 75px,#0000f3 76px,#0000d4 94px,#00009e 107px,#000095 108px,#000 109px,#000 180px)"></i><i style="left:116px;width:1px;background:linear-gradient(#84ff00 0,#a2ff00 8px,#5eff00 19px,#00ff01 38px,#00ff35 52px,#00ff7d 60px,#00ffe5 66px,#00fffd 67px,#07f 70px,#0000fe 75px,#0000f1 76px,#0000cf 94px,#000098 107px,#00008c 108px,#000 109px,#000 180px)"></i><i style="left:117px;width:1px;background:linear-gradient(#a5ff00 0,#c2ff00 8px,#7dff00 19px,#00ff03 44px,#00ff24 52px,#00ff6f 60px,#00ffd7 66px,#00ffef 67px,#00f0ff 68px,#0095ff 70px,#0007ff 76px,#0000f7 83px,#0000db 95px,#0000ab 106px,#000096 108px,#000 109px,#000 180px)"></i><i style="left:118px;width:1px;background:linear-gradient(#a1ff00 0,#bdff00 8px,#78ff00 19px,#00ff03 43px,#00ff29 52px,#00ff76 60px,#00ffdf 66px,#00fff6 67px,#00e4ff 68px,#008cff 70px,#0002ff 76px,#0000da 94px,#0000a4 106px,#00009d 107px,#00008c 108px,#000 109px,#000 180px)"></i><i style="left:119px;width:1px;background:linear-gradient(#b2ff00 0,#cbff00 8px,#87ff00 19px,#0aff00 43px,#00ff09 47px,#0f2 52px,#00ff71 60px,#00ffda 66px,#00fff1 67px,#00efff 68px,#0098ff 70px,#0012ff 76px,#0000fc 82px,#0000dc 95px,#0000b0 105px,#0000a1 107px,#00008e 108px,#000 109px,#000 180px)"></i><i style="left:120px;width:1px;background:linear-gradient(#c3ff00 0,#dbff00 8px,#96ff00 19px,#19ff00 43px,#00ff01 47px,#00ff1a 52px,#00ff6c 60px,#00ffd6 66px,#00f9ff 68px,#00a4ff 70px,#02f 76px,#0000fd 85px,#0000de 96px,#0000b6 105px,#0000a5 107px,#00008f 108px,#000 109px,#000 180px)"></i><i style="left:121px;width:1px;background:linear-gradient(#cfff00 0,#e4ff00 8px,#a0ff00 19px,#29ff00 42px,#0f0 48px,#00ff16 52px,#00ff6a 60px,#00ffd4 66px,#00feff 68px,#00abff 70px,#002dff 76px,#0000fd 87px,#00d 97px,#0000b8 105px,#0000a6 107px,#00008e 108px,#000 109px,#000 180px)"></i><i style="left:122px;width:1px;background:linear-gradient(#beff00 0,#d2ff00 8px,#8dff00 19px,#16ff00 42px,#00ff03 46px,#00ff18 51px,#00ff68 59px,#00ffe3 66px,#00fff8 67px,#00e4ff 68px,#0093ff 70px,#0019ff 76px,#0000fd 82px,#0000d9 95px,#00a 105px,#000098 107px,#000 108px,#000 180px)"></i><i style="left:123px;width:1px;background:linear-gradient(#a1ff00 0,#b3ff00 8px,#6eff00 19px,#00ff01 41px,#00ff2a 51px,#00ff7d 59px,#00fff9 66px,#00e3ff 67px,#006dff 70px,#000bff 75px,#0000fa 76px,#0000c6 95px,#0000a0 104px,#00008c 106px,#000 107px,#000 180px)"></i><i style="left:124px;width:1px;background:linear-gradient(#b9ff00 0,#cdff00 8px,#7aff00 22px,#0dff00 42px,#00ff06 45px,#00ff21 51px,#00ff76 59px,#00fff0 66px,#00f4ff 67px,#0083ff 70px,#0010ff 76px,#0000fd 80px,#0000d1 95px,#0000a4 104px,#000092 106px,#000 107px,#000 180px)"></i><i style="left:125px;width:1px;background:linear-gradient(#8eff00 0,#a4ff00 8px,#2cff00 29px,#00ff01 37px,#00ff3f 51px,#00ffa7 60px,#00fffa 65px,#0bf 67px,#004fff 70px,#0004ff 74px,#0000ec 77px,#0000bc 94px,#00008b 103px,#000 104px,#000 180px)"></i><i style="left:126px;width:1px;background:linear-gradient(#a4ff00 0,#baff00 7px,#adff00 11px,#4dff00 27px,#00ff02 41px,#00ff38 51px,#00ffa1 60px,#00fff4 65px,#0ef 66px,#0082ff 69px,#0062ff 70px,#0007ff 75px,#0000f4 78px,#0000c7 94px,#00009c 102px,#000090 103px,#000 104px,#000 180px)"></i><i style="left:127px;width:1px;background:linear-gradient(#a3ff00 0,#b9ff00 6px,#b8ff00 9px,#9cff00 14px,#41ff00 29px,#00ff01 40px,#00ff3e 51px,#00ffa9 60px,#00fffa 65px,#00bdff 67px,#0079ff 69px,#005cff 70px,#0003ff 75px,#0000c4 94px,#000096 102px,#000 103px,#000 180px)"></i><i style="left:128px;width:1px;background:linear-gradient(#9fff00 0,#b6ff00 5px,#b6ff00 9px,#a4ff00 13px,#54ff00 25px,#0f0 39px,#00ff45 51px,#00ffc1 61px,#00f9ff 65px,#0089ff 68px,#0052ff 70px,#0000fd 75px,#0000ed 79px,#0000c6 93px,#00008f 102px,#000 103px,#000 180px)"></i><i style="left:129px;width:1px;background:linear-gradient(#bfff00 0,#d9ff00 5px,#d6ff00 10px,#c9ff00 13px,#7bff00 24px,#1f0 41px,#00ff03 43px,#0f4 52px,#00ffc3 62px,#00fff6 65px,#00ecff 66px,#00a2ff 68px,#0070ff 70px,#000cff 76px,#0000fb 80px,#0000d7 93px,#00009c 102px,#000 103px,#000 180px)"></i><i style="left:130px;width:1px;background:linear-gradient(#beff00 0,#daff00 4px,#d7ff00 11px,#bcff00 15px,#76ff00 25px,#0fff00 41px,#00ff05 43px,#00ff4a 52px,#00ffd7 63px,#00fffc 65px,#0097ff 68px,#005bff 71px,#000aff 76px,#0000fa 80px,#0000d5 93px,#000097 102px,#000 103px,#000 180px)"></i><i style="left:131px;width:1px;background:linear-gradient(#caff00 0,#e9ff00 4px,#e5ff00 12px,#8fff00 23px,#19ff00 41px,#00ff01 43px,#00ff49 52px,#00ffd6 63px,#00fffb 65px,#00beff 67px,#009aff 68px,#0043ff 73px,#0014ff 76px,#0000fd 81px,#0000da 93px,#009 102px,#000 103px,#000 180px)"></i><i style="left:132px;width:1px;background:linear-gradient(#a6ff00 0,#c7ff00 4px,#c5ff00 12px,#73ff00 22px,#01ff00 39px,#00ff1f 44px,#00ff63 52px,#00fff0 63px,#00f8ff 64px,#0069ff 68px,#0009ff 74px,#0000f4 76px,#0000c5 93px,#000089 101px,#000 102px,#000 180px)"></i><i style="left:133px;width:1px;background:linear-gradient(#cdff00 0,#f1ff00 4px,#f1ff00 12px,#9cff00 22px,#19ff00 41px,#00ff02 43px,#00ff52 52px,#00ffdf 63px,#00fff2 64px,#00f4ff 65px,#008aff 68px,#0014ff 76px,#0000fd 81px,#0000d9 93px,#000091 102px,#000 103px,#000 180px)"></i><i style="left:134px;width:1px;background:linear-gradient(#d0ff00 0,#f6ff00 4px,#f6ff00 12px,#9dff00 23px,#1bff00 41px,#00ff01 43px,#00ff50 52px,#00ffde 63px,#00f7ff 65px,#008dff 68px,#0017ff 76px,#0000fc 82px,#0000db 93px,#000095 102px,#000 103px,#000 180px)"></i><i style="left:135px;width:1px;background:linear-gradient(#bdff00 0,#e5ff00 4px,#e5ff00 12px,#81ff00 25px,#00ff03 42px,#00ff5b 52px,#00ffe9 63px,#00fffb 64px,#009cff 67px,#0079ff 68px,#0002ff 76px,#0000d1 93px,#00008e 102px,#000 103px,#000 180px)"></i><i style="left:136px;width:1px;background:linear-gradient(#9eff00 0,#c8ff00 4px,#c8ff00 12px,#0bff00 37px,#00ff08 40px,#00ff6d 52px,#00fffa 63px,#00c1ff 65px,#0057ff 68px,#0000fe 74px,#0000ed 77px,#0000c0 93px,#000091 100px,#000 101px,#000 180px)"></i><i style="left:137px;width:1px;background:linear-gradient(#af0 0,#d5ff00 4px,#cfff00 13px,#29ff00 35px,#00ff01 40px,#0f6 52px,#00fff4 63px,#00f1ff 64px,#0063ff 68px,#0000fd 75px,#0000c7 93px,#000091 101px,#000 102px,#000 180px)"></i><i style="left:138px;width:1px;background:linear-gradient(#8fff00 0,#bdff00 4px,#b8ff00 13px,#1aff00 34px,#00ff01 37px,#00ff26 43px,#00ff75 52px,#00fff6 62px,#00f8ff 63px,#0047ff 68px,#0000fd 73px,#0000e4 77px,#0000b8 93px,#00008d 100px,#000 101px,#000 180px)"></i><i style="left:139px;width:1px;background:linear-gradient(#9f0 0,#c8ff00 4px,#c5ff00 13px,#30ff00 33px,#01ff00 38px,#00ff28 44px,#00ff6f 52px,#00fffd 63px,#0051ff 68px,#0008ff 73px,#0000f4 75px,#0000be 93px,#00008d 101px,#000 102px,#000 180px)"></i><i style="left:140px;width:1px;background:linear-gradient(#ff0 0,#ffef00 5px,#fff600 16px,#fdff00 20px,#98ff00 33px,#3cff00 42px,#02ff00 46px,#00ff35 52px,#00ffc3 63px,#00fffb 66px,#00c0ff 68px,#004aff 76px,#0000fd 92px,#0000c1 102px,#0000a5 104px,#00009a 106px,#000 107px,#000 180px)"></i><i style="left:141px;width:1px;background:linear-gradient(#f1ff00 0,#fdff00 1px,#fff300 6px,#fffb00 17px,#f4ff00 20px,#8dff00 33px,#2eff00 42px,#02ff00 45px,#00ff3e 52px,#00ffcb 63px,#00f8ff 66px,#00b1ff 68px,#003bff 76px,#0000fc 89px,#0000e4 95px,#0000bd 102px,#00009e 105px,#000098 106px,#000 107px,#000 180px)"></i><i style="left:142px;width:1px;background:linear-gradient(#ebff00 0,#fffd00 2px,#fff400 6px,#fffc00 17px,#edff00 21px,#8aff00 33px,#28ff00 42px,#00ff02 45px,#00ff41 52px,#00ffce 63px,#00fff4 65px,#00f1ff 66px,#00abff 68px,#0034ff 76px,#0000fe 87px,#0000e7 94px,#0000b3 103px,#00009b 106px,#000 107px,#000 180px)"></i><i style="left:143px;width:1px;background:linear-gradient(#c3ff00 0,#f9ff00 4px,#f9ff00 14px,#8bff00 29px,#0eff00 41px,#0f0 42px,#00ff58 52px,#00ffe5 63px,#00fff8 64px,#00e9ff 65px,#007fff 68px,#0009ff 76px,#0000f9 80px,#0000d1 94px,#00009a 104px,#00008b 106px,#000 107px,#000 180px)"></i><i style="left:144px;width:1px;background:linear-gradient(#cf0 0,#feff00 4px,#feff00 15px,#b1ff00 27px,#6eff00 34px,#03ff00 43px,#00ff50 52px,#0fd 63px,#00f8ff 65px,#008eff 68px,#0017ff 76px,#0000fc 82px,#0000d9 94px,#00009e 105px,#000097 106px,#000 107px,#000 180px)"></i><i style="left:145px;width:1px;background:linear-gradient(#cdff00 0,#faff00 4px,#feff00 16px,#beff00 27px,#6eff00 35px,#00ff02 44px,#00ff4d 52px,#00ffda 63px,#00feff 65px,#0094ff 68px,#001eff 76px,#0000fc 83px,#0000d8 95px,#00009f 106px,#000 107px,#000 180px)"></i><i style="left:146px;width:1px;background:linear-gradient(#c3ff00 0,#ecff00 4px,#faff00 15px,#caff00 26px,#6fff00 35px,#00ff03 44px,#00ff50 52px,#0fd 63px,#00f8ff 65px,#008eff 68px,#0018ff 76px,#0000fc 82px,#0000d6 95px,#0000a0 106px,#00008c 107px,#000 108px,#000 180px)"></i><i style="left:147px;width:1px;background:linear-gradient(#afff00 0,#d3ff00 4px,#e9ff00 15px,#c3ff00 26px,#59ff00 36px,#00ff01 43px,#00ff59 52px,#00ffe6 63px,#00fff9 64px,#00e8ff 65px,#007dff 68px,#0007ff 76px,#0000f1 83px,#0000ca 96px,#00009c 106px,#00008c 107px,#000 108px,#000 180px)"></i><i style="left:148px;width:1px;background:linear-gradient(#98ff00 0,#bf0 5px,#d5ff00 16px,#b9ff00 26px,#4cff00 36px,#00ff01 42px,#00ff63 52px,#00fff1 63px,#00f7ff 64px,#0069ff 68px,#0002ff 75px,#0000b9 98px,#000097 106px,#000089 107px,#000 108px,#000 180px)"></i><i style="left:149px;width:1px;background:linear-gradient(#7f0 0,#9f0 6px,#b8ff00 16px,#a5ff00 26px,#35ff00 36px,#0f0 40px,#0f6 51px,#00fbff 63px,#004aff 68px,#00f 73px,#0000e6 77px,#0000ab 98px,#00008b 106px,#000 107px,#000 180px)"></i><i style="left:150px;width:1px;background:linear-gradient(#a5ff00 0,#e3ff00 14px,#e6ff00 19px,#e0ff00 26px,#6cff00 36px,#00ff03 44px,#00ff64 53px,#00ffe4 63px,#00fff7 64px,#00ebff 65px,#0080ff 68px,#000aff 76px,#0000fa 80px,#0000ba 102px,#000098 109px,#00008b 111px,#000 112px,#000 180px)"></i><i style="left:151px;width:1px;background:linear-gradient(#aeff00 0,#f6ff00 17px,#f6ff00 26px,#80ff00 36px,#00ff04 45px,#00ff5c 53px,#00ffdc 63px,#00faff 65px,#0090ff 68px,#0019ff 76px,#0000fd 82px,#0000b2 108px,#000094 112px,#000 113px,#000 180px)"></i><i style="left:152px;width:1px;background:linear-gradient(#b4ff00 0,#fdff00 17px,#feff00 26px,#8aff00 36px,#18ff00 44px,#06ff00 45px,#00ff30 50px,#00ffe8 64px,#00fffa 65px,#00c3ff 67px,#00a0ff 68px,#0026ff 76px,#0000fd 84px,#0000b0 109px,#00009b 112px,#000 113px,#000 180px)"></i><i style="left:153px;width:1px;background:linear-gradient(#a1ff00 0,#edff00 18px,#edff00 26px,#97ff00 34px,#00ff03 45px,#00ff5b 53px,#0fe 64px,#00fdff 65px,#0097ff 68px,#0035ff 74px,#0018ff 76px,#0000fe 80px,#0000b0 108px,#000095 112px,#000 113px,#000 180px)"></i><i style="left:154px;width:1px;background:linear-gradient(#b9ff00 0,#fffd00 17px,#ff0 27px,#cf0 32px,#2dff00 44px,#08ff00 46px,#00ff10 48px,#00ff63 55px,#00ffdc 64px,#0ff 66px,#00bcff 68px,#0074ff 72px,#0039ff 76px,#0013ff 82px,#0000fc 87px,#0000ba 109px,#0000a8 112px,#000092 113px,#000 114px,#000 180px)"></i><i style="left:155px;width:1px;background:linear-gradient(#8cff00 0,#c8ff00 14px,#dcff00 19px,#dcff00 26px,#bcff00 30px,#07ff00 44px,#00ff1b 47px,#00ff6c 54px,#00fff1 64px,#00f9ff 65px,#0096ff 68px,#0049ff 72px,#0005ff 77px,#0000ce 96px,#00009e 110px,#000093 112px,#000 113px,#000 180px)"></i><i style="left:156px;width:1px;background:linear-gradient(#78ff00 0,#acff00 13px,#c9ff00 18px,#c9ff00 26px,#acff00 30px,#00ff04 44px,#0f6 53px,#00fff9 64px,#00ecff 65px,#008bff 68px,#0048ff 71px,#0000fe 76px,#0000e3 84px,#000097 110px,#00008c 112px,#000 113px,#000 180px)"></i><i style="left:157px;width:1px;background:linear-gradient(#9cff00 0,#cfff00 13px,#efff00 18px,#ebff00 27px,#e2ff00 29px,#25ff00 44px,#01ff00 46px,#00ff4d 53px,#00ffef 65px,#00fdff 66px,#00bdff 68px,#0076ff 71px,#02f 77px,#0007ff 80px,#0000f4 86px,#0000ae 110px,#0000a5 112px,#00008a 114px,#000 115px,#000 180px)"></i><i style="left:158px;width:1px;background:linear-gradient(#82ff00 0,#b3ff00 13px,#d7ff00 18px,#d4ff00 27px,#cdff00 29px,#12ff00 44px,#0f0 45px,#00ff58 53px,#00fffa 65px,#00eaff 66px,#0092ff 69px,#0060ff 71px,#000aff 77px,#0000fe 78px,#00009f 111px,#000090 113px,#000 114px,#000 180px)"></i><i style="left:159px;width:1px;background:linear-gradient(#6eff00 0,#9eff00 13px,#c5ff00 18px,#beff00 29px,#06ff00 44px,#00ff5f 53px,#00fdff 65px,#006bff 70px,#0051ff 71px,#0007ff 76px,#0000ef 79px,#000098 111px,#00008c 113px,#000 114px,#000 180px)"></i><i style="left:160px;width:1px;background:linear-gradient(#8bff00 0,#b1ff00 12px,#e4ff00 18px,#e0ff00 29px,#29ff00 44px,#05ff00 46px,#00ff4a 53px,#00fffb 66px,#00afff 69px,#07f 71px,#0003ff 79px,#0000ac 111px,#00008a 117px,#000 118px,#000 180px)"></i><i style="left:161px;width:1px;background:linear-gradient(#9cff00 0,#c0ff00 12px,#f7ff00 18px,#f7ff00 29px,#64ff00 41px,#42ff00 44px,#00ff04 48px,#00ff63 56px,#00fffb 67px,#00adff 70px,#0090ff 71px,#001aff 79px,#0000fb 86px,#00a 115px,#000094 118px,#000 119px,#000 180px)"></i><i style="left:162px;width:1px;background:linear-gradient(#92ff00 0,#baff00 13px,#e3ff00 18px,#eaff00 29px,#39ff00 44px,#05ff00 47px,#00ff3d 53px,#00fdff 68px,#00a8ff 71px,#0029ff 79px,#0000fc 86px,#0000a8 115px,#000091 118px,#000 119px,#000 180px)"></i><i style="left:163px;width:1px;background:linear-gradient(#a6ff00 0,#c9ff00 13px,#efff00 19px,#faff00 27px,#faff00 29px,#d3ff00 33px,#3eff00 45px,#00ff03 49px,#00ffaf 64px,#00fcff 70px,#00d0ff 72px,#0059ff 79px,#0016ff 87px,#0000fd 92px,#0000b5 115px,#00009f 118px,#000 119px,#000 180px)"></i><i style="left:164px;width:1px;background:linear-gradient(#c0ff00 0,#deff00 13px,#ff0 19px,#fffb00 30px,#feff00 32px,#5aff00 45px,#09ff00 50px,#00ff0f 52px,#00ffac 66px,#00fff7 72px,#00fcff 73px,#0090ff 79px,#003eff 87px,#00f 98px,#0000c7 115px,#0000b0 118px,#00009d 119px,#000 120px,#000 180px)"></i><i style="left:165px;width:1px;background:linear-gradient(#aeff00 0,#ceff00 15px,#fcff00 24px,#f8ff00 30px,#efff00 32px,#3cff00 46px,#00ff02 50px,#00ff9b 65px,#00fff9 73px,#00f6ff 74px,#0098ff 79px,#003dff 86px,#0000fc 97px,#0000c0 115px,#0000a9 118px,#00009a 119px,#000 120px,#000 180px)"></i><i style="left:166px;width:1px;background:linear-gradient(#97ff00 0,#b2ff00 16px,#e2ff00 24px,#dbff00 32px,#18ff00 47px,#00ff03 49px,#00ff90 64px,#00fcff 74px,#09f 79px,#002fff 86px,#0000fd 94px,#0000ae 116px,#000094 119px,#000 120px,#000 180px)"></i><i style="left:167px;width:1px;background:linear-gradient(#54ff00 0,#6f0 16px,#9cff00 24px,#9cff00 32px,#02ff00 44px,#00ff9e 63px,#0ff 72px,#006bff 79px,#0003ff 85px,#00008c 116px,#000 117px,#000 180px)"></i><i style="left:168px;width:1px;background:linear-gradient(#79ff00 0,#78ff00 17px,#89ff00 25px,#84ff00 32px,#00ff01 50px,#00ff57 67px,#00ffd7 85px,#00fdff 92px,#0009ff 109px,#0000f7 111px,#0000c1 119px,#00009c 121px,#00008a 126px,#000 127px,#000 180px)"></i><i style="left:169px;width:1px;background:linear-gradient(#89ff00 0,#1cff00 66px,#00ff03 73px,#00ff21 82px,#0f7 93px,#00fff6 104px,#00f9ff 105px,#00a4ff 109px,#001eff 117px,#0002ff 119px,#0000c3 127px,#000093 131px,#000 132px,#000 180px)"></i><i style="left:170px;width:1px;background:linear-gradient(#6eff00 0,#00ff04 68px,#00ff30 82px,#00ff86 93px,#00fffa 103px,#00f3ff 104px,#0087ff 109px,#0001ff 117px,#0000b4 127px,#000090 130px,#000 131px,#000 180px)"></i><i style="left:171px;width:1px;background:linear-gradient(#63ff00 0,#00ff03 64px,#00ff36 82px,#00ff8d 93px,#00fdff 103px,#007bff 109px,#0003ff 116px,#0000ae 127px,#00008a 130px,#000 131px,#000 180px)"></i><i style="left:172px;width:1px;background:linear-gradient(#7aff00 0,#0dff00 66px,#00ff03 70px,#00ff29 82px,#00ff80 93px,#0ff 104px,#0094ff 109px,#000dff 117px,#00f 118px,#00b 127px,#00008a 131px,#000 132px,#000 180px)"></i><i style="left:173px;width:1px;background:linear-gradient(#6fff00 0,#00ff04 68px,#00ff2f 82px,#00ff86 93px,#00fff9 103px,#00f3ff 104px,#08f 109px,#0002ff 117px,#0000b5 127px,#000090 130px,#000 131px,#000 180px)"></i><i style="left:174px;width:1px;background:linear-gradient(#6eff00 0,#00ff05 68px,#00ff30 82px,#00ff86 93px,#00fffa 103px,#00f3ff 104px,#0087ff 109px,#0001ff 117px,#0000b4 127px,#000090 130px,#000 131px,#000 180px)"></i><i style="left:175px;width:1px;background:linear-gradient(#83ff00 0,#38ff00 39px,#00ff03 54px,#00ff42 72px,#00ff78 83px,#00ffd9 95px,#00fdff 99px,#0060ff 107px,#0009ff 111px,#00e 113px,#0000d0 115px,#0000bd 116px,#00008e 128px,#000 129px,#000 180px)"></i><i style="left:176px;width:1px;background:linear-gradient(#79ff00 0,#2bff00 37px,#00ff03 46px,#00ff52 63px,#00ffd9 85px,#00fdff 90px,#0007ff 106px,#00d 109px,#00009e 114px,#000 115px,#000 180px)"></i><i style="left:177px;width:1px;background:linear-gradient(#57ff00 0,#0dff00 37px,#00ff05 41px,#00ff4a 58px,#00fff2 86px,#00faff 88px,#0009ff 104px,#0000f4 106px,#00008c 114px,#000 115px,#000 180px)"></i><i style="left:178px;width:1px;background:linear-gradient(#3fff00 0,#00ff05 37px,#00ff38 51px,#00ffa2 71px,#00fffe 86px,#0005ff 103px,#00d 107px,#000090 113px,#000 114px,#000 180px)"></i><i style="left:179px;width:1px;background:linear-gradient(#4bff00 0,#08ff00 37px,#00ff0b 42px,#00ff47 56px,#00fffc 87px,#0084ff 96px,#0000fd 105px,#009 113px,#000 114px,#000 180px)"></i><i style="left:180px;width:1px;background:linear-gradient(#4fff00 0,#10ff00 37px,#00ff03 41px,#00ff2c 51px,#00fff0 86px,#0ff 88px,#0008ff 105px,#00e 107px,#00009e 113px,#00008b 114px,#000 115px,#000 180px)"></i><i style="left:181px;width:1px;background:linear-gradient(#3aff00 0,#00ff04 38px,#00ff2c 49px,#00fbff 87px,#0007ff 104px,#0000f3 106px,#000095 113px,#000 114px,#000 180px)"></i><i style="left:182px;width:1px;background:linear-gradient(#08ff00 0,#00ff07 15px,#00ff1e 38px,#00ff47 49px,#00ffed 79px,#00fcff 83px,#0004ff 101px,#0000dc 106px,#00008a 112px,#000 113px,#000 180px)"></i><i style="left:183px;width:1px;background:linear-gradient(#13ff00 0,#00ff03 19px,#00ff16 38px,#00ff3a 48px,#00ffd8 76px,#00fffe 84px,#0008ff 102px,#0000f4 104px,#0000d8 107px,#000093 112px,#000 113px,#000 180px)"></i><i style="left:184px;width:1px;background:linear-gradient(#23ff00 0,#00ff03 33px,#00ff17 42px,#00ff35 49px,#00ffc6 74px,#00fcff 86px,#0004ff 104px,#0000f3 106px,#000091 113px,#000 114px,#000 180px)"></i><i style="left:185px;width:1px;background:linear-gradient(#27ff00 0,#00ff03 37px,#00ff2b 48px,#00ffc4 74px,#00fffc 86px,#00d0ff 90px,#0002ff 105px,#0000eb 107px,#000096 113px,#000 114px,#000 180px)"></i><i style="left:186px;width:1px;background:linear-gradient(#28ff00 0,#00ff04 38px,#00ff29 48px,#00ffc0 73px,#00fff9 86px,#00fdff 87px,#0000fe 106px,#009 113px,#000 114px,#000 180px)"></i><i style="left:187px;width:1px;background:linear-gradient(#00ff58 0,#00ff26 19px,#00ff17 37px,#00ff3a 48px,#00ffc6 73px,#00fffa 86px,#00feff 87px,#08f 97px,#0003ff 106px,#000092 113px,#000 114px,#000 180px)"></i><i style="left:188px;width:1px;background:linear-gradient(#00ffd7 0,#00ff6d 17px,#00ff3e 37px,#00ff56 47px,#0fd 73px,#00fdff 84px,#0086ff 96px,#0008ff 104px,#0000f3 106px,#00008c 112px,#000 113px,#000 180px)"></i><i style="left:189px;width:1px;background:linear-gradient(#005bff 0,#0074ff 6px,#00f4ff 18px,#00fffb 20px,#00ff6e 36px,#00ff62 51px,#00ff9c 69px,#00ffe8 93px,#00fdff 96px,#004eff 106px,#0005ff 109px,#0000bf 114px,#0000af 115px,#000092 118px,#000 119px,#000 180px)"></i><i style="left:190px;width:1px;background:linear-gradient(#0081ff 0,#005bff 7px,#003eff 12px,#0021ff 16px,#0045ff 21px,#00cfff 31px,#0ff 33px,#00ffd1 37px,#00ff6e 51px,#00ff71 65px,#00ff9f 80px,#00ffb6 92px,#00fffd 100px,#008aff 107px,#0001ff 114px,#0000c2 119px,#000096 122px,#000 123px,#000 180px)"></i><i style="left:191px;width:1px;background:linear-gradient(#00c2ff 0,#004aff 9px,#0010ff 15px,#0001ff 16px,#0048ff 31px,#00a5ff 36px,#00f0ff 39px,#00fffa 40px,#00ff87 50px,#00ff67 56px,#00ff60 65px,#00ff82 85px,#00ff91 93px,#00fffe 109px,#00cfff 112px,#002bff 120px,#0000fe 122px,#0000cf 126px,#00009e 128px,#000089 133px,#000 134px,#000 180px)"></i><i style="left:192px;width:1px;background:linear-gradient(#0000c4 0,#000090 6px,#000 7px,#000 8px,#00008a 9px,#0000c4 14px,#0004ff 33px,#0017ff 36px,#00feff 45px,#00ff8b 56px,#00ff84 93px,#00ffbf 111px,#00fffd 117px,#0039ff 127px,#0008ff 129px,#0000ea 131px,#0000c4 134px,#000092 136px,#000 137px,#000 180px)"></i><i style="left:193px;width:1px;background:linear-gradient(#0000ab 0,#00008e 5px,#000 6px,#000 9px,#00008c 10px,#0000ad 15px,#0000ba 17px,#0000d0 19px,#0003ff 35px,#0008ff 36px,#00f9ff 49px,#00ffd4 54px,#00ffc0 57px,#00ff91 69px,#00ff83 93px,#00ffbd 111px,#00fffb 117px,#00cbff 120px,#003cff 127px,#000bff 129px,#0000f8 130px,#0000c6 134px,#009 136px,#000 137px,#000 180px)"></i><i style="left:194px;width:1px;background:linear-gradient(#000093 0,#00008b 3px,#000 4px,#000 11px,#00008c 12px,#000095 16px,#0000ce 19px,#0000fe 36px,#0084ff 47px,#0ff 55px,#00ffc4 63px,#00ff9a 68px,#00ff80 93px,#00ffba 111px,#00fff8 117px,#00f8ff 118px,#0042ff 127px,#01f 129px,#0000fb 130px,#0000c9 134px,#00008d 137px,#000 138px,#000 180px)"></i><i style="left:195px;width:1px;background:linear-gradient(#000 0,#000 17px,#00009c 18px,#0000b7 19px,#0000fd 46px,#09f 58px,#00f8ff 62px,#00ffde 65px,#00ffb8 68px,#00ff92 93px,#00ffcd 111px,#00fcff 116px,#001eff 127px,#0006ff 128px,#0000a6 135px,#000095 136px,#000 137px,#000 180px)"></i><i style="left:196px;width:1px;background:linear-gradient(#000 0,#000 16px,#009 17px,#0000bd 19px,#0000f5 47px,#00f 49px,#0056ff 58px,#00fcff 68px,#00fff3 73px,#00ffb7 88px,#00ffac 93px,#00ffda 111px,#00fff9 114px,#00f8ff 115px,#0009ff 127px,#0000ed 129px,#00009a 136px,#00008c 137px,#000 138px,#000 180px)"></i><i style="left:197px;width:1px;background:linear-gradient(#000097 0,#0000b9 9px,#00b 16px,#0000d7 19px,#0004ff 49px,#0043ff 59px,#0098ff 68px,#00a0ff 71px,#00fffc 78px,#00ffcd 86px,#00ffaf 92px,#00ffd2 111px,#00fffb 115px,#00cbff 118px,#0007ff 128px,#0000e5 131px,#000097 138px,#000 139px,#000 180px)"></i><i style="left:198px;width:1px;background:linear-gradient(#0000bc 0,#0000ef 8px,#0005ff 44px,#0042ff 71px,#00f4ff 80px,#00fffb 81px,#00ffb2 92px,#00ffc7 111px,#00fffb 116px,#00e0ff 118px,#0032ff 127px,#0001ff 130px,#0000b0 139px,#00008a 142px,#000 143px,#000 180px)"></i><i style="left:199px;width:1px;background:linear-gradient(#0000b7 0,#0000b8 5px,#0000c2 12px,#0000c3 14px,#0000ec 17px,#0004ff 36px,#0048ff 71px,#007dff 76px,#00e4ff 82px,#00fffe 84px,#00ffc2 92px,#0fc 111px,#00fdff 117px,#000eff 132px,#0000fe 133px,#0000c4 140px,#0000ab 142px,#000095 143px,#000 144px,#000 180px)"></i><i style="left:200px;width:1px;background:linear-gradient(#000095 0,#00008e 1px,#000 2px,#000 14px,#000092 15px,#0000c7 17px,#0000fd 51px,#001dff 76px,#00fdff 90px,#00ffef 92px,#00ffef 111px,#00fffd 113px,#0003ff 132px,#00b 141px,#000095 144px,#000 145px,#000 180px)"></i><i style="left:201px;width:1px;background:linear-gradient(#0000a8 0,#00009a 5px,#00009c 14px,#0000c5 17px,#0000e7 54px,#0000f4 77px,#0000fe 79px,#0086ff 92px,#0086ff 111px,#0000fd 126px,#0000ab 135px,#000098 136px,#000 137px,#000 180px)"></i><i style="left:202px;width:1px;background:linear-gradient(#0000e1 0,#0000f5 61px,#0000fa 78px,#0009ff 82px,#003aff 93px,#0035ff 112px,#0000fd 123px,#0000f5 126px,#000090 135px,#000 136px,#000 180px)"></i><i style="left:203px;width:1px;background:linear-gradient(#0000e7 0,#0000fd 67px,#0002ff 77px,#0041ff 93px,#003cff 111px,#00f 121px,#0000f0 126px,#000090 134px,#000 135px,#000 180px)"></i><i style="left:204px;width:1px;background:linear-gradient(#0000d9 0,#0000f8 79px,#0008ff 85px,#0020ff 93px,#0015ff 111px,#0000fc 115px,#0000d6 126px,#000090 132px,#000 133px,#000 180px)"></i><i style="left:205px;width:1px;background:linear-gradient(#0000e0 0,#0005ff 79px,#0028ff 93px,#0018ff 111px,#0000fc 115px,#0000d2 126px,#00008c 132px,#000 133px,#000 180px)"></i><i style="left:206px;width:1px;background:linear-gradient(#0000e1 0,#0005ff 52px,#0025ff 77px,#04f 93px,#0012ff 111px,#00f 113px,#0000c1 126px,#000092 130px,#000 131px,#000 180px)"></i><i style="left:207px;width:1px;background:linear-gradient(#0014ff 0,#005fff 31px,#009aff 68px,#0cf 83px,#00d5ff 92px,#0078ff 108px,#03f 115px,#0000fd 120px,#0000c6 127px,#000091 132px,#000 133px,#000 180px)"></i><i style="left:208px;width:1px;background:linear-gradient(#0032ff 0,#009aff 29px,#00e9ff 67px,#00fffd 72px,#00ffe4 83px,#00ffe9 93px,#0ff 98px,#00afff 107px,#0004ff 120px,#00008c 132px,#000 133px,#000 180px)"></i><i style="left:209px;width:1px;background:linear-gradient(#002cff 0,#008eff 29px,#00dcff 67px,#00fffe 74px,#00ffeb 83px,#00ffef 93px,#00feff 97px,#00a9ff 107px,#0000fe 120px,#000094 130px,#000 131px,#000 180px)"></i><i style="left:210px;width:1px;background:linear-gradient(#004fff 0,#00adff 30px,#00f9ff 67px,#00ffe7 77px,#00ffdc 84px,#00ffe0 93px,#0ff 101px,#0cf 107px,#0014ff 121px,#0000fd 122px,#000091 131px,#000 132px,#000 180px)"></i><i style="left:211px;width:1px;background:linear-gradient(#0079ff 0,#00d2ff 31px,#00fffd 56px,#00ffe7 70px,#00ffc9 83px,#00ffcd 93px,#00fffd 106px,#003eff 121px,#000bff 123px,#0000f8 124px,#000092 132px,#000 133px,#000 180px)"></i><i style="left:212px;width:1px;background:linear-gradient(#00faff 0,#00ffdc 38px,#00ffc8 69px,#00ffaf 84px,#00ffb3 93px,#00fff5 107px,#00fffd 108px,#0035ff 121px,#0002ff 123px,#00008e 132px,#000 133px,#000 180px)"></i><i style="left:213px;width:1px;background:linear-gradient(#00b0ff 0,#00e6ff 34px,#00fffc 65px,#0fd 84px,#00ffe0 93px,#00fdff 101px,#00cbff 107px,#0020ff 121px,#0009ff 122px,#0000ec 124px,#000090 132px,#000 133px,#000 180px)"></i><i style="left:214px;width:1px;background:linear-gradient(#0054ff 0,#008eff 50px,#00a4ff 68px,#00cdff 82px,#00cfff 92px,#0068ff 108px,#0003ff 119px,#0000ec 122px,#0000a6 129px,#000096 130px,#000 131px,#000 180px)"></i><i style="left:215px;width:1px;background:linear-gradient(#0000e8 0,#0005ff 52px,#0027ff 79px,#002dff 93px,#0000fc 105px,#0000d5 118px,#000091 128px,#000 129px,#000 180px)"></i><i style="left:216px;width:1px;background:linear-gradient(#000 0,#000 64px,#000092 65px,#0000a8 66px,#0000e2 72px,#0000f0 94px,#0000cd 117px,#000093 128px,#000 129px,#000 180px)"></i><i style="left:217px;width:1px;background:linear-gradient(#000 0,#000 65px,#0000a4 66px,#0000f4 72px,#0005ff 86px,#000fff 93px,#0000fb 102px,#0000e5 117px,#0000ae 128px,#0000a4 129px,#000 130px,#000 180px)"></i><i style="left:218px;width:1px;background:linear-gradient(#000 0,#000 65px,#00008e 66px,#0000df 72px,#0000f0 94px,#0000d0 117px,#000098 128px,#00008e 129px,#000 130px,#000 180px)"></i><i style="left:219px;width:1px;background:linear-gradient(#000 0,#000 65px,#00009c 66px,#0000d5 72px,#0000e1 94px,#0000c1 117px,#000093 127px,#000 128px,#000 180px)"></i><i style="left:220px;width:1px;background:linear-gradient(#0000d3 0,#0000e8 61px,#0000e3 96px,#0000c5 117px,#00008d 128px,#000 129px,#000 180px)"></i><i style="left:221px;width:1px;background:linear-gradient(#00c 0,#0000e0 61px,#0000db 96px,#0000bd 117px,#000090 127px,#000 128px,#000 180px)"></i><i style="left:222px;width:1px;background:linear-gradient(#0000bd 0,#0000cb 70px,#0000cb 74px,#0000ea 79px,#0000fb 84px,#0007ff 93px,#0000f6 100px,#0000d6 117px,#00009e 128px,#000094 129px,#000 130px,#000 180px)"></i><i style="left:223px;width:1px;background:linear-gradient(#000 0,#000 75px,#000094 76px,#0000f9 82px,#000bff 85px,#0042ff 92px,#0000fe 104px,#0000cd 119px,#00009d 128px,#000090 129px,#000 130px,#000 180px)"></i><i style="left:224px;width:1px;background:linear-gradient(#000 0,#000 75px,#00009b 76px,#00f 82px,#004eff 92px,#0000fe 106px,#0000d2 119px,#00a 127px,#00008e 129px,#000 130px,#000 180px)"></i><i style="left:225px;width:1px;background:linear-gradient(#000 0,#000 75px,#009 76px,#0000fd 82px,#004bff 92px,#0000fc 106px,#0000d0 119px,#0000a6 127px,#00009c 128px,#000 129px,#000 180px)"></i><i style="left:226px;width:1px;background:linear-gradient(#000 0,#000 75px,#000094 76px,#0000f8 82px,#000aff 85px,#0041ff 92px,#0000fd 104px,#0000d0 118px,#00009e 127px,#000094 128px,#000 129px,#000 180px)"></i><i style="left:227px;width:1px;background:linear-gradient(#0000fb 0,#0012ff 29px,#0050ff 83px,#005bff 92px,#0000fe 110px,#0000a1 124px,#000097 125px,#000 126px,#000 180px)"></i><i style="left:228px;width:1px;background:linear-gradient(#03f 0,#0078ff 50px,#00bdff 78px,#00c6ff 92px,#0027ff 108px,#0001ff 111px,#0000af 120px,#00009a 122px,#000 123px,#000 180px)"></i><i style="left:229px;width:1px;background:linear-gradient(#06f 0,#00bcff 48px,#00fffd 66px,#00ffe8 79px,#00ffe8 92px,#00fffe 95px,#06f 106px,#0003ff 111px,#0000ab 119px,#00008d 121px,#000 122px,#000 180px)"></i><i style="left:230px;width:1px;background:linear-gradient(#00b4ff 0,#00f6ff 48px,#00fff9 54px,#00ffc8 83px,#00ffcb 88px,#00ffe5 94px,#00fffc 97px,#006eff 105px,#0000fb 110px,#00009c 117px,#000 118px,#000 180px)"></i><i style="left:231px;width:1px;background:linear-gradient(#00fff8 0,#0fd 50px,#00ff9b 86px,#00ffd9 96px,#00fffe 99px,#005bff 106px,#0002ff 109px,#0000a1 115px,#00008d 116px,#000 117px,#000 180px)"></i><i style="left:232px;width:1px;background:linear-gradient(#00f6ff 0,#00fff9 24px,#00ffe7 51px,#00ffa7 86px,#00ffe5 96px,#00fffd 98px,#0045ff 106px,#000aff 108px,#0000e6 110px,#000097 115px,#000 116px,#000 180px)"></i><i style="left:233px;width:1px;background:linear-gradient(#0fd 0,#00ffc1 50px,#00ff80 86px,#00ffbe 96px,#00fffc 101px,#00a7ff 105px,#0000fd 111px,#00009b 117px,#000 118px,#000 180px)"></i><i style="left:234px;width:1px;background:linear-gradient(#00fff8 0,#0fd 50px,#00ff9b 86px,#00ffd9 96px,#00fffe 99px,#005bff 106px,#0002ff 109px,#000094 116px,#000 117px,#000 180px)"></i><i style="left:235px;width:1px;background:linear-gradient(#00fff2 0,#00ffd6 50px,#00ff95 86px,#00ffd3 96px,#00fff8 99px,#00f5ff 100px,#0067ff 106px,#000eff 109px,#0000f7 110px,#00008e 117px,#000 118px,#000 180px)"></i><i style="left:236px;width:1px;background:linear-gradient(#0062ff 0,#00a4ff 53px,#00deff 86px,#00bdff 93px,#0085ff 98px,#0019ff 106px,#0006ff 107px,#0000d1 112px,#000096 118px,#000 119px,#000 180px)"></i><i style="left:237px;width:1px;background:linear-gradient(#0000f0 0,#0006ff 30px,#0037ff 81px,#0037ff 92px,#0000fd 100px,#0000d5 109px,#000090 120px,#000 121px,#000 180px)"></i><i style="left:238px;width:1px;background:linear-gradient(#0000e3 0,#0000fd 69px,#0000f9 94px,#0000b8 116px,#00008f 122px,#000 123px,#000 180px)"></i><i style="left:239px;width:3px;background:linear-gradient(#000 0,#000 180px)"></i><i style="left:242px;width:1px;background:linear-gradient(#000 0,#000 18px,#0000a5 19px,#0000d6 20px,#0000e7 27px,#0000dc 33px,#0000c8 37px,#000 38px,#000 180px)"></i><i style="left:243px;width:1px;background:linear-gradient(#000 0,#000 18px,#00ffb6 19px,#1eff00 20px,#a3ff00 26px,#6dff00 32px,#01ff00 35px,#00ff29 37px,#000 38px,#000 180px)"></i><i style="left:244px;width:5px;background:linear-gradient(#000 0,#000 180px)"></i><i style="left:249px;width:1px;background:linear-gradient(#0000fc 0,#0036ff 36px,#00c0ff 56px,#00c0ff 92px,#0036ff 111px,#0000fc 114px,#00009f 123px,#000091 124px,#000 125px,#000 180px)"></i><i style="left:250px;width:1px;background:linear-gradient(#0000e4 0,#0004ff 35px,#0089ff 55px,#0090ff 58px,#0090ff 92px,#0006ff 111px,#0000d0 116px,#000094 122px,#000 123px,#000 180px)"></i><i style="left:251px;width:1px;background:linear-gradient(#000 0,#000 18px,#000089 19px,#000097 44px,#0000a5 62px,#0000a0 96px,#00008a 112px,#000 113px,#000 180px)"></i><i style="left:252px;width:13px;background:linear-gradient(#000 0,#000 180px)"></i><i style="left:265px;width:1px;background:linear-gradient(#000 0,#000 3px,#0000ae 4px,#0000ae 114px,#000 115px,#000 180px)"></i><i style="left:266px;width:9px;background:linear-gradient(#000 0,#000 180px)"></i><i style="left:275px;width:1px;background:linear-gradient(#000 0,#000 68px,#00008b 69px,#00008b 94px,#000 95px,#000 180px)"></i><i style="left:276px;width:1px;background:linear-gradient(#000 0,#000 68px,#0000d2 69px,#0000d2 94px,#000 95px,#000 180px)"></i><i style="left:277px;width:49px;background:linear-gradient(#000 0,#000 180px)"></i><i style="left:326px;width:1px;background:linear-gradient(#0000c0 0,#0000d4 9px,#0000fc 15px,#0026ff 19px,#0068ff 33px,#008aff 46px,#0042ff 67px,#0000fe 78px,#0000ca 89px,#0000c0 91px,#00008d 94px,#000 95px,#000 180px)"></i><i style="left:327px;width:1px;background:linear-gradient(#0000db 0,#0000fb 8px,#003fff 11px,#00e2ff 18px,#00fffe 21px,#00ffb7 33px,#00ff51 46px,#00ff3b 51px,#00ff68 58px,#00ffe2 66px,#00fffe 70px,#0050ff 83px,#0001ff 88px,#0000bd 95px,#0000a5 97px,#000089 138px,#000 139px,#000 180px)"></i><i style="left:328px;width:1px;background:linear-gradient(#0000e3 0,#00f 7px,#0008ff 8px,#003eff 11px,#00edff 18px,#00fdff 19px,#00ffa4 32px,#00ff54 39px,#00ff07 45px,#23ff00 48px,#4eff00 51px,#3aff00 54px,#00ff02 57px,#00ff23 59px,#00ffb3 66px,#00fbff 75px,#0018ff 91px,#0000fd 102px,#0000d2 139px,#0000c5 146px,#00008c 149px,#000 150px,#000 180px)"></i><i style="left:329px;width:1px;background:linear-gradient(#0000c8 0,#0000dc 11px,#0002ff 14px,#00a7ff 21px,#00fffd 28px,#00ffc6 36px,#00ff2b 46px,#04ff00 53px,#0fff00 54px,#00ff09 55px,#00ffa7 64px,#00fffc 73px,#00c4ff 77px,#0031ff 91px,#00f 112px,#0000e9 133px,#0000be 146px,#00008c 149px,#000 150px,#000 180px)"></i><i style="left:330px;width:1px;background:linear-gradient(#000 0,#000 10px,#00009e 11px,#0000ce 12px,#0003ff 30px,#002dff 38px,#006aff 47px,#0079ff 54px,#003bff 66px,#0012ff 82px,#0000fb 95px,#0000d9 122px,#00008e 125px,#000 126px,#000 180px)"></i><i style="left:331px;width:1px;background:linear-gradient(#00dbff 0,#00fffb 3px,#00ffc7 10px,#00ffa6 12px,#00ff57 41px,#00ff4d 47px,#00ff64 66px,#00fffa 79px,#00e4ff 81px,#002eff 91px,#0000fd 107px,#0000e1 122px,#0000ac 127px,#000092 130px,#000 131px,#000 180px)"></i><i style="left:332px;width:1px;background:linear-gradient(#6fff00 0,#cbff00 11px,#92ff00 23px,#58ff00 32px,#00ff03 63px,#00ff09 66px,#00fffe 86px,#008fff 91px,#001bff 106px,#0000fd 120px,#0000da 130px,#00c 132px,#0000ac 134px,#00008b 140px,#000 141px,#000 180px)"></i><i style="left:333px;width:1px;background:linear-gradient(#ffd900 0,#ffcb00 11px,#fbff00 27px,#c4ff00 32px,#5aff00 47px,#0aff00 66px,#00ff02 67px,#00ffd5 92px,#00fdff 102px,#00daff 107px,#00d1ff 111px,#0070ff 122px,#0032ff 131px,#0006ff 134px,#0000e5 138px,#0000ba 142px,#00008e 144px,#00008b 145px,#000 146px,#000 180px)"></i><i style="left:334px;width:1px;background:linear-gradient(#ffe000 0,#ffca00 9px,#ff0 34px,#9f0 49px,#03ff00 78px,#0f4 111px,#00ffb6 120px,#00fffc 127px,#0024ff 142px,#0000fc 145px,#0000c3 154px,#000091 156px,#000 157px,#000 180px)"></i><i style="left:335px;width:1px;background:linear-gradient(#00ff45 0,#00ff19 6px,#0f0 7px,#c4ff00 12px,#fffe00 18px,#fff600 23px,#fcff00 36px,#b0ff00 47px,#64ff00 67px,#00ff01 81px,#00ff2c 98px,#00ff3e 111px,#00ffb0 120px,#00fffd 128px,#0051ff 141px,#0001ff 147px,#0000c2 154px,#000089 156px,#000 157px,#000 180px)"></i><i style="left:336px;width:1px;background:linear-gradient(#00fff5 0,#00ffc7 6px,#00ff78 9px,#00ff1b 12px,#0aff00 14px,#a1ff00 21px,#c0ff00 24px,#e3ff00 36px,#a6ff00 47px,#79ff00 66px,#01ff00 81px,#00ff2f 98px,#00ff45 111px,#00ffb5 121px,#00fffc 130px,#009aff 141px,#003cff 147px,#0001ff 150px,#0000df 154px,#000090 158px,#000089 163px,#000 164px,#000 180px)"></i><i style="left:337px;width:1px;background:linear-gradient(#008dff 0,#00efff 8px,#00fff1 9px,#00ff80 14px,#00ff05 22px,#2dff00 24px,#4dff00 27px,#8aff00 36px,#4cff00 67px,#00ff02 80px,#00ff4e 105px,#00ff65 112px,#00ffb8 123px,#00ffe8 132px,#00fffa 141px,#00e0ff 143px,#0043ff 151px,#0001ff 161px,#0000ef 168px,#0000ef 180px)"></i><i style="left:338px;width:1px;background:linear-gradient(#00009c 0,#0000ba 11px,#0003ff 26px,#02f 48px,#0000fa 86px,#0000b7 143px,#009 154px,#00008c 173px,#00008c 180px)"></i><i style="left:339px;width:4px;background:linear-gradient(#000 0,#000 180px)"></i><i style="left:343px;width:1px;background:linear-gradient(#0015ff 0,#0012ff 140px,#0000fc 152px,#0000f2 162px,#00a 166px,#00a 180px)"></i><i style="left:344px;width:1px;background:linear-gradient(#0000f6 0,#0000f6 180px)"></i><i style="left:345px;width:1px;background:linear-gradient(#0000f2 0,#0000f2 180px)"></i><i style="left:346px;width:1px;background:linear-gradient(#00ffaf 0,#00ff90 54px,#00ff9b 146px,#00ffce 180px)"></i><i style="left:347px;width:1px;background:linear-gradient(#00ffa6 0,#00ff87 54px,#00ff91 146px,#00ffc5 180px)"></i><i style="left:348px;width:1px;background:linear-gradient(#009fff 0,#00b3ff 61px,#00a6ff 152px,#008bff 180px)"></i><i style="left:349px;width:1px;background:linear-gradient(#0000fb 0,#0000f4 180px)"></i><i style="left:350px;width:1px;background:linear-gradient(#0000fd 0,#0000ef 180px)"></i><i style="left:351px;width:1px;background:linear-gradient(#0000ab 0,#00009d 180px)"></i><i style="left:352px;width:3px;background:linear-gradient(#000 0,#000 180px)"></i><i style="left:355px;width:1px;background:linear-gradient(#000eff 0,#0003ff 10px,#0000cf 12px,#0000d7 46px,#00e 47px,#000dff 48px,#0023ff 99px,#000bff 139px,#0000fa 145px,#0000dc 162px,#00008c 165px,#000 166px,#000 180px)"></i><i style="left:356px;width:1px;background:linear-gradient(#00caff 0,#00fffc 23px,#00ffdc 51px,#00ffd7 100px,#00ffe7 117px,#00fffe 122px,#009bff 134px,#002dff 150px,#0000fe 158px,#0000f4 162px,#0000b8 166px,#0000b1 180px)"></i><i style="left:357px;width:1px;background:linear-gradient(#00ff54 0,#00ff38 30px,#00ff51 100px,#00ff64 116px,#00ffea 132px,#00fbff 136px,#00acff 144px,#00f 166px,#0000e9 173px,#0000e1 180px)"></i><i style="left:358px;width:1px;background:linear-gradient(#57ff00 0,#53ff00 27px,#00ff02 46px,#00ff4a 117px,#00ff86 131px,#00ff06 146px,#00ff05 158px,#00fffb 178px,#00e8ff 180px)"></i><i style="left:359px;width:1px;background:linear-gradient(#00ff9b 0,#00fff8 6px,#0ef 7px,#00d1ff 8px,#00d1ff 26px,#00efff 27px,#00fff7 28px,#00ff5c 38px,#04ff00 45px,#1cff00 46px,#3dff00 95px,#9eff00 122px,#b6ff00 128px,#d6ff00 132px,#fbff00 135px,#ffdf00 150px,#fffd00 160px,#d8ff00 162px,#4bff00 168px,#0cff00 170px,#00ff0b 171px,#00ffa6 180px)"></i><i style="left:360px;width:1px;background:linear-gradient(#007bff 0,#01f 8px,#02f 26px,#00f6ff 31px,#00ffd7 33px,#00ff0a 42px,#03ff00 43px,#3cff00 46px,#64ff00 51px,#89ff00 77px,#e1ff00 97px,#fffd00 103px,#ffe500 121px,#fc0 146px,#ffcf00 152px,#fdff00 161px,#b6ff00 164px,#0eff00 169px,#00ff0d 170px,#00ffad 175px,#00fff3 177px,#00d3ff 178px,#00a1ff 180px)"></i><i style="left:361px;width:1px;background:linear-gradient(#0000a8 0,#0000ab 7px,#0000f4 9px,#0004ff 12px,#004fff 21px,#00acff 26px,#00fffe 28px,#00ff02 40px,#3fff00 42px,#aeff00 51px,#e8ff00 77px,#fffe00 82px,#ffd000 115px,#ffcf00 146px,#ffde00 152px,#fffc00 157px,#f0ff00 158px,#58ff00 163px,#0cff00 165px,#0f1 166px,#0f8 170px,#00fffc 173px,#006cff 175px,#001eff 176px,#0000e7 177px,#0000c0 178px,#0000ad 179px,#0000a8 180px)"></i><i style="left:362px;width:1px;background:linear-gradient(#000092 0,#0000ba 7px,#0000f7 8px,#06f 9px,#00f6ff 15px,#00ffef 17px,#00ffcf 21px,#00ff01 34px,#bfff00 41px,#f8ff00 44px,#ffef00 48px,#fd0 61px,#ffc500 102px,#fc0 140px,#ffe200 148px,#fdff00 152px,#a0ff00 156px,#0fff00 160px,#00ff10 161px,#00ff9e 166px,#00ffec 168px,#0df 169px,#000aff 172px,#0000c8 174px,#00009b 176px,#000 177px,#000 180px)"></i><i style="left:363px;width:1px;background:linear-gradient(#0079ff 0,#00fffc 5px,#00ff3f 16px,#00ff03 26px,#30ff00 31px,#eaff00 38px,#fffb00 39px,#ffb100 46px,#ff9100 77px,#fb0 100px,#ffd400 138px,#fffc00 145px,#f7ff00 146px,#12ff00 153px,#00ff08 154px,#00ff91 160px,#00fff6 163px,#00d1ff 164px,#004cff 166px,#000fff 167px,#0000e7 168px,#000094 171px,#000 172px,#000 180px)"></i><i style="left:364px;width:1px;background:linear-gradient(#00ff30 0,#04ff00 30px,#07ff00 31px,#fffd00 39px,#ffc200 44px,#ffa300 52px,#ffa600 77px,#ffd200 97px,#ffec00 122px,#fff800 133px,#ff0 135px,#e0ff00 138px,#07ff00 144px,#00ff3a 147px,#00fffe 156px,#0023ff 159px,#0000eb 160px,#0000a9 162px,#000 163px,#000 180px)"></i><i style="left:365px;width:1px;background:linear-gradient(#0f1 0,#05ff00 21px,#0dff00 26px,#6fff00 32px,#e0ff00 37px,#f8ff00 38px,#ffe900 41px,#fd0 44px,#ffde00 58px,#faff00 90px,#d4ff00 97px,#5eff00 115px,#1aff00 127px,#00ff02 130px,#00ff1b 134px,#00ff7b 140px,#00fdff 146px,#0017ff 151px,#0000eb 152px,#000090 155px,#000 156px,#000 180px)"></i><i style="left:366px;width:1px;background:linear-gradient(#45ff00 0,#5aff00 21px,#a6ff00 27px,#c6ff00 29px,#fffd00 36px,#ecff00 42px,#c2ff00 46px,#2eff00 77px,#00ff01 87px,#00ff28 100px,#00ff8d 126px,#00ffe6 134px,#00fff7 135px,#00edff 136px,#006aff 140px,#000bff 142px,#0000ec 143px,#00009d 146px,#00008f 148px,#000 149px,#000 180px)"></i><i style="left:367px;width:1px;background:linear-gradient(#6dff00 0,#a9ff00 18px,#c5ff00 22px,#df0 24px,#f0ff00 30px,#e9ff00 33px,#d7ff00 36px,#79ff00 43px,#49ff00 48px,#25ff00 54px,#00ff01 63px,#00ff12 67px,#00ff8c 82px,#00ffab 87px,#00fffe 109px,#0087ff 126px,#0003ff 133px,#0000f7 134px,#0000b9 137px,#0000a1 138px,#000093 140px,#000 141px,#000 180px)"></i><i style="left:368px;width:1px;background:linear-gradient(#bfff00 0,#f1ff00 9px,#fffb00 21px,#fcff00 27px,#deff00 32px,#65ff00 42px,#1eff00 51px,#00ff02 61px,#00ff0e 65px,#00ff2f 68px,#00ffc4 80px,#00fffa 85px,#007aff 101px,#0040ff 108px,#0005ff 114px,#0000d7 118px,#00b 128px,#00009d 134px,#000090 135px,#000 136px,#000 180px)"></i><i style="left:369px;width:1px;background:linear-gradient(#fffa00 0,#ffe300 9px,#fff200 19px,#fdff00 22px,#bdff00 27px,#12ff00 46px,#00ff04 54px,#00ff15 64px,#00fff6 80px,#00f7ff 81px,#0af 84px,#002dff 95px,#00f 102px,#0000ea 107px,#0000b5 114px,#00008d 116px,#000 117px,#000 180px)"></i><i style="left:370px;width:1px;background:linear-gradient(#ffde00 0,#ffd300 10px,#feff00 21px,#afff00 26px,#1bff00 47px,#00ff03 57px,#00ff13 62px,#00ff32 65px,#00fff4 78px,#00f8ff 79px,#0097ff 84px,#0039ff 92px,#00f 104px,#0000e6 111px,#00008f 115px,#000 116px,#000 180px)"></i><i style="left:371px;width:1px;background:linear-gradient(#ffc900 0,#ffc900 10px,#fffe00 19px,#82ff00 26px,#0bff00 49px,#00ff04 54px,#00ff13 61px,#00ffc5 73px,#00fff7 76px,#0ef 77px,#00aeff 79px,#01f 91px,#0000fb 103px,#0000f3 111px,#00008f 114px,#000 115px,#000 180px)"></i><i style="left:372px;width:1px;background:linear-gradient(#ffc200 0,#ffc500 10px,#fffc00 18px,#e1ff00 20px,#76ff00 26px,#40ff00 31px,#1f0 42px,#00ff05 43px,#00ff30 46px,#00ffb0 51px,#00ffc7 52px,#00ffd7 61px,#0ff 66px,#0064ff 68px,#0000fc 75px,#0000e4 78px,#0000fc 79px,#0034ff 80px,#00f 88px,#0000f3 95px,#0000eb 111px,#00009a 116px,#000096 143px,#00008b 148px,#000 149px,#000 180px)"></i><i style="left:373px;width:1px;background:linear-gradient(#ffb600 0,#ffbd00 10px,#fffb00 18px,#f7ff00 19px,#a8ff00 23px,#27ff00 31px,#03ff00 42px,#00ff65 46px,#00fdff 49px,#0000fd 52px,#0000e9 66px,#0000a8 67px,#000 68px,#000 78px,#0000a8 79px,#0000e9 80px,#0000e5 142px,#0000a3 157px,#000094 158px,#000 159px,#000 180px)"></i><i style="left:374px;width:1px;background:linear-gradient(#ff9c00 0,#ffb000 11px,#fffb00 19px,#f0ff00 20px,#b7ff00 22px,#50ff00 28px,#0bff00 31px,#00ff03 32px,#00ff16 34px,#00ff5d 38px,#00ffc3 42px,#00ffe5 43px,#00f1ff 44px,#0036ff 48px,#0005ff 49px,#0000ec 50px,#0000f9 51px,#000fff 52px,#0002ff 66px,#0000bf 68px,#0000c2 78px,#0008ff 80px,#000bff 102px,#0000f9 141px,#0000c0 157px,#000098 159px,#000 160px,#000 180px)"></i><i style="left:375px;width:1px;background:linear-gradient(#ff8200 0,#ff9300 11px,#ffd100 16px,#ff0 20px,#b7ff00 22px,#4aff00 28px,#0eff00 30px,#00ff09 31px,#00ff3d 34px,#00ffc3 38px,#00fff7 39px,#00adff 40px,#004aff 41px,#0000fd 42px,#0000ac 44px,#000098 45px,#000 46px,#000 50px,#0000ca 51px,#0023ff 52px,#0048ff 96px,#001dff 139px,#0000fb 146px,#0000de 157px,#00008e 160px,#000 161px,#000 180px)"></i><i style="left:376px;width:1px;background:linear-gradient(#ff9100 0,#ffa700 11px,#fffb00 18px,#e4ff00 19px,#9bff00 21px,#65ff00 23px,#00ff01 27px,#00ff24 29px,#00ff89 33px,#00fbff 36px,#00b7ff 38px,#001eff 41px,#0000f9 42px,#0000cf 44px,#0000b9 46px,#0000ba 50px,#0004ff 52px,#002fff 96px,#0000fa 140px,#0000d4 157px,#009 161px,#000096 164px,#000089 165px,#000 166px,#000 180px)"></i><i style="left:377px;width:1px;background:linear-gradient(#ff9e00 0,#ffb900 11px,#fffd00 17px,#7cff00 20px,#10ff00 24px,#00ff0c 25px,#00ff5e 29px,#00ffe4 33px,#00d0ff 34px,#000aff 36px,#0000fa 41px,#0000f2 49px,#0006ff 74px,#001bff 96px,#0000fc 121px,#0000e7 143px,#0000be 164px,#00008c 166px,#000 167px,#000 180px)"></i><i style="left:378px;width:1px;background:linear-gradient(#ffb400 0,#ffde00 11px,#fffe00 14px,#30ff00 20px,#16ff00 21px,#00ff0b 22px,#00ff70 26px,#00ffe8 30px,#00eaff 31px,#00a7ff 33px,#0010ff 36px,#0000fb 43px,#0000fb 51px,#000bff 62px,#0031ff 82px,#006fff 94px,#0000fd 141px,#0000e1 164px,#0000a9 168px,#0000a6 180px)"></i><i style="left:379px;width:1px;background:linear-gradient(#ffcd00 0,#fff900 9px,#f5ff00 10px,#bfff00 12px,#2eff00 16px,#00ff02 18px,#00ff2e 21px,#0fa 25px,#00fff5 27px,#00c9ff 28px,#0004ff 31px,#0000ef 48px,#0005ff 64px,#002cff 81px,#00a2ff 94px,#0003ff 139px,#0000ed 180px)"></i><i style="left:380px;width:1px;background:linear-gradient(#ffed00 0,#fffe00 4px,#eaff00 6px,#7aff00 10px,#00ff02 14px,#00ffbc 22px,#00fff6 24px,#00daff 25px,#0043ff 28px,#000fff 31px,#005bff 55px,#00abff 83px,#00e1ff 94px,#004eff 143px,#001cff 180px)"></i><i style="left:381px;width:1px;background:linear-gradient(#fff900 0,#ff0 1px,#b3ff00 6px,#79ff00 8px,#0dff00 11px,#00ff0d 12px,#00ff63 15px,#00ffca 18px,#00fffe 21px,#07f 25px,#0028ff 28px,#0093ff 54px,#00e0ff 78px,#00fffc 93px,#00f5ff 100px,#0098ff 132px,#006aff 155px,#0042ff 180px)"></i><i style="left:382px;width:1px;background:linear-gradient(#e2ff00 0,#2eff00 8px,#01ff00 9px,#00ff4d 12px,#00ffd3 15px,#00f0ff 16px,#002bff 18px,#0030ff 47px,#00a3ff 72px,#00c9ff 94px,#0063ff 123px,#0004ff 180px)"></i><i style="left:383px;width:1px;background:linear-gradient(#96ff00 0,#3cff00 4px,#00ff01 8px,#00ff1c 10px,#00ff95 13px,#00ffef 15px,#00c4ff 16px,#00f 18px,#0005ff 47px,#0084ff 72px,#09f 95px,#0037ff 123px,#0000fc 159px,#0000eb 180px)"></i><i style="left:384px;width:1px;background:linear-gradient(#87ff00 0,#2eff00 4px,#02ff00 7px,#00ff18 10px,#00fff5 15px,#00beff 16px,#00f 18px,#0000f4 19px,#0000f9 47px,#0005ff 50px,#0079ff 72px,#0084ff 95px,#02f 123px,#0000fd 146px,#0000e0 180px)"></i><i style="left:385px;width:1px;background:linear-gradient(#dcff00 0,#4aff00 7px,#1f0 10px,#00ff21 11px,#00fffb 16px,#05f 18px,#0015ff 19px,#0029ff 47px,#00aeff 71px,#00afff 95px,#004dff 123px,#0000fc 172px,#0000f6 180px)"></i><i style="left:386px;width:1px;background:linear-gradient(#ffe800 0,#fbff00 4px,#bfff00 7px,#78ff00 10px,#00ff04 12px,#00ff7a 15px,#00fffe 18px,#00acff 19px,#003cff 23px,#0054ff 47px,#00d8ff 71px,#00ceff 95px,#006cff 123px,#0013ff 180px)"></i><i style="left:387px;width:1px;background:linear-gradient(#fc0 0,#ffed00 7px,#ff0 9px,#e4ff00 10px,#2fff00 14px,#00ff0e 15px,#00ffe7 20px,#00d7ff 21px,#002dff 23px,#0046ff 47px,#00caff 71px,#00b3ff 95px,#0051ff 123px,#0005ff 180px)"></i><i style="left:388px;width:1px;background:linear-gradient(#f90 0,#ffad00 4px,#fffc00 12px,#c4ff00 14px,#25ff00 17px,#00ff0a 18px,#00ffd6 24px,#00fff3 25px,#0df 26px,#03f 29px,#003cff 47px,#00a7ff 72px,#009dff 95px,#0049ff 123px,#000aff 180px)"></i><i style="left:389px;width:1px;background:linear-gradient(#ff6900 0,#ff7b00 4px,#ffc500 10px,#fff600 15px,#f5ff00 16px,#81ff00 19px,#1fff00 21px,#00ff0b 22px,#00ff28 23px,#00fff4 28px,#00c4ff 29px,#0071ff 34px,#004aff 36px,#0045ff 47px,#0095ff 72px,#0094ff 96px,#05f 124px,#0023ff 180px)"></i><i style="left:390px;width:1px;background:linear-gradient(#ff6000 0,#ff7d00 5px,#ffc000 11px,#fffe00 18px,#c2ff00 20px,#40ff00 23px,#0bff00 24px,#00ff18 25px,#00ffa4 29px,#00ffd1 31px,#00ffec 32px,#00f0ff 33px,#003fff 36px,#0029ff 47px,#005cff 74px,#0063ff 96px,#003aff 129px,#0017ff 180px)"></i><i style="left:391px;width:1px;background:linear-gradient(#ff6000 0,#ff8500 6px,#ffc500 13px,#fbff00 21px,#47ff00 26px,#10ff00 27px,#00ff16 28px,#00ff54 30px,#00ffda 33px,#00e4ff 34px,#001fff 36px,#0000fd 45px,#000bff 70px,#001dff 98px,#0000fc 174px,#0000fb 180px)"></i><i style="left:392px;width:1px;background:linear-gradient(#ff6f00 0,#ff9a00 7px,#ffcf00 14px,#fffe00 21px,#a7ff00 24px,#5fff00 26px,#00ff01 28px,#00ff38 30px,#0fd 34px,#00e2ff 35px,#0083ff 36px,#0000fc 40px,#00e 48px,#00f 104px,#0000ed 180px)"></i><i style="left:393px;width:1px;background:linear-gradient(#ff7100 0,#ffa800 9px,#fffc00 22px,#d9ff00 24px,#6f0 27px,#12ff00 29px,#00ff0e 30px,#00ff9e 34px,#00fffc 36px,#00caff 37px,#0001ff 40px,#0000ef 48px,#0005ff 93px,#00e 180px)"></i><i style="left:394px;width:1px;background:linear-gradient(#ff7300 0,#ffb200 11px,#fffb00 24px,#e6ff00 25px,#32ff00 30px,#00ff03 31px,#00ff5f 34px,#00ffe6 37px,#00cdff 38px,#0008ff 40px,#0000f2 45px,#0005ff 91px,#0000ef 180px)"></i><i style="left:395px;width:1px;background:linear-gradient(#ff7000 0,#ffab00 11px,#fffe00 25px,#a0ff00 28px,#58ff00 30px,#26ff00 31px,#00ff07 32px,#00ff4a 34px,#00ffd1 37px,#00f6ff 38px,#0031ff 40px,#0014ff 41px,#0000fd 44px,#0000f6 48px,#0007ff 78px,#0012ff 99px,#0000fc 152px,#0000f5 180px)"></i><i style="left:396px;width:1px;background:linear-gradient(#ff7d00 0,#ffac00 10px,#feff00 25px,#caff00 27px,#5eff00 30px,#03ff00 32px,#00ff46 34px,#00fdff 38px,#0038ff 40px,#0003ff 41px,#0000ea 47px,#0000fb 103px,#0000e9 180px)"></i><i style="left:397px;width:1px;background:linear-gradient(#ff6c00 0,#ff9700 10px,#fffb00 27px,#e7ff00 28px,#4eff00 32px,#0aff00 33px,#00ff21 34px,#00ffdb 38px,#00e2ff 39px,#007fff 40px,#0034ff 41px,#00f 46px,#0025ff 98px,#00f 180px)"></i><i style="left:398px;width:1px;background:linear-gradient(#ff7900 0,#ffa000 10px,#fff900 27px,#edff00 28px,#5cff00 32px,#14ff00 33px,#00ff1e 34px,#00ffa7 37px,#00ffd8 38px,#00e8ff 39px,#0023ff 41px,#00f 44px,#0000f3 47px,#0006ff 83px,#000cff 100px,#0000fb 145px,#0000f3 180px)"></i><i style="left:399px;width:1px;background:linear-gradient(#ff8300 0,#ffaf00 11px,#fffa00 27px,#f3ff00 28px,#79ff00 32px,#0eff00 34px,#00ff17 35px,#00ffa3 39px,#00fdff 41px,#00b3ff 43px,#0028ff 46px,#0000fe 48px,#0000f4 49px,#0000fc 107px,#0000eb 180px)"></i><i style="left:400px;width:1px;background:linear-gradient(#ff8200 0,#ffb800 13px,#feff00 29px,#acff00 32px,#00ff04 37px,#00ff2f 39px,#00ff81 41px,#00ffc2 43px,#00ffec 44px,#00d2ff 45px,#0081ff 46px,#0003ff 49px,#0006ff 103px,#0000f1 177px,#0000f0 180px)"></i><i style="left:401px;width:1px;background:linear-gradient(#ffa200 0,#ffe800 21px,#fffe00 26px,#d8ff00 29px,#08ff00 38px,#00ff09 39px,#00ff8c 44px,#00ffca 46px,#00fff1 47px,#00ceff 48px,#0082ff 49px,#0026ff 51px,#0000fd 52px,#0000e7 53px,#0000c4 58px,#00008d 60px,#00008d 94px,#0000d3 96px,#0000d8 116px,#0000cf 131px,#0000ac 132px,#000 133px,#000 180px)"></i><i style="left:402px;width:1px;background:linear-gradient(#ffa000 0,#ffe800 22px,#fffd00 27px,#d8ff00 30px,#09ff00 40px,#0f1 42px,#00ff41 46px,#00ffb9 49px,#00ffe9 50px,#00d8ff 51px,#0035ff 53px,#0006ff 54px,#0000ac 58px,#000 59px,#000 95px,#000098 96px,#0000a2 115px,#000098 131px,#000 132px,#000 180px)"></i><i style="left:403px;width:1px;background:linear-gradient(#ff9700 0,#fffd00 29px,#f8ff00 30px,#56ff00 38px,#00ff03 43px,#00ff6a 49px,#00ffde 52px,#00f4ff 53px,#004aff 55px,#0000f9 56px,#00009f 59px,#000 60px,#000 180px)"></i><i style="left:404px;width:1px;background:linear-gradient(#ff9200 0,#ff0 31px,#20ff00 43px,#08ff00 44px,#00ff18 46px,#0f4 49px,#00ff76 51px,#0fe 54px,#00d1ff 55px,#0075ff 56px,#0026ff 57px,#0000ea 58px,#0000b3 60px,#000093 61px,#00008a 62px,#000 63px,#000 180px)"></i><i style="left:405px;width:1px;background:linear-gradient(#ffa000 0,#fff700 28px,#fffe00 30px,#e4ff00 32px,#0cff00 44px,#00ff05 45px,#00ff4c 51px,#00ffe7 55px,#00cbff 56px,#0006ff 58px,#0000a8 63px,#000 64px,#000 180px)"></i><i style="left:406px;width:1px;background:linear-gradient(#f90 0,#fff500 29px,#fffd00 31px,#04ff00 46px,#00ff2f 51px,#0f6 53px,#00ffb4 55px,#00ffe3 56px,#00daff 57px,#0076ff 58px,#00f 60px,#0000c7 63px,#0000a2 64px,#000 65px,#000 180px)"></i><i style="left:407px;width:1px;background:linear-gradient(#ffad00 0,#ffea00 23px,#fffd00 28px,#edff00 30px,#65ff00 38px,#00ff01 45px,#00ff30 51px,#00ff51 53px,#00fff5 57px,#00abff 58px,#0008ff 60px,#0000dc 62px,#0000ac 64px,#000090 65px,#000 66px,#000 180px)"></i><i style="left:408px;width:1px;background:linear-gradient(#ffb000 0,#ffea00 23px,#fffe00 28px,#d7ff00 31px,#6fff00 37px,#06ff00 45px,#00ff19 50px,#00ff2a 53px,#00ffc5 57px,#00fffc 58px,#0032ff 60px,#000bff 61px,#0000f0 62px,#0000b4 65px,#000 66px,#000 180px)"></i><i style="left:409px;width:1px;background:linear-gradient(#fb0 0,#ffe100 18px,#faff00 27px,#c5ff00 31px,#5f0 38px,#04ff00 44px,#00ff2f 53px,#00ffb9 57px,#00ffe9 58px,#0cf 59px,#006fff 60px,#01f 62px,#0000ef 63px,#0000c3 65px,#000097 66px,#000 67px,#000 180px)"></i><i style="left:410px;width:1px;background:linear-gradient(#ffb300 0,#ffdb00 18px,#fffd00 28px,#ecff00 30px,#63ff00 39px,#17ff00 45px,#00ff02 48px,#00ff1c 53px,#00ff75 56px,#00ffbf 58px,#00ffe9 59px,#00d9ff 60px,#0000fd 64px,#0000e9 65px,#00009d 67px,#00008d 69px,#000 70px,#000 180px)"></i><i style="left:411px;width:1px;background:linear-gradient(#ffbe00 0,#ffdb00 15px,#fffe00 26px,#c5ff00 31px,#0eff00 44px,#00ff06 47px,#00ff23 53px,#00ff35 54px,#00ffaf 58px,#00fff6 60px,#00d1ff 61px,#0014ff 64px,#0000f5 65px,#0000b5 67px,#000091 70px,#000 71px,#000 180px)"></i><i style="left:412px;width:1px;background:linear-gradient(#ffc100 0,#ffd900 14px,#feff00 26px,#b7ff00 32px,#12ff00 44px,#00ff03 47px,#00ff1e 53px,#00ff29 54px,#0fc 60px,#00fff1 61px,#00d2ff 62px,#04f 64px,#001dff 65px,#0000f4 66px,#0000da 67px,#0000a9 70px,#000 71px,#000 180px)"></i><i style="left:413px;width:1px;background:linear-gradient(#ffcb00 0,#ffe000 13px,#ff0 23px,#a9ff00 31px,#00ff02 44px,#00ff2b 54px,#00ffb2 60px,#00f5ff 62px,#0058ff 64px,#0009ff 66px,#0000db 68px,#0000b3 70px,#000 71px,#000 180px)"></i><i style="left:414px;width:1px;background:linear-gradient(#ffd500 0,#ffec00 14px,#fbff00 21px,#7aff00 33px,#00ff03 43px,#00ff32 54px,#00ffa9 60px,#00fff0 62px,#00d1ff 63px,#0086ff 64px,#0000fe 67px,#0000c4 70px,#000096 71px,#000 72px,#000 180px)"></i><i style="left:415px;width:1px;background:linear-gradient(#ffd100 0,#ffea00 15px,#fdff00 22px,#50ff00 38px,#05ff00 44px,#00ff23 54px,#00ff50 57px,#00ff8c 60px,#00ffc6 62px,#00ffeb 63px,#00deff 64px,#04f 67px,#0000fc 69px,#0000ea 70px,#0000a1 72px,#000090 74px,#000 75px,#000 180px)"></i><i style="left:416px;width:1px;background:linear-gradient(#ffce00 0,#ffe800 16px,#feff00 23px,#58ff00 39px,#17ff00 45px,#00ff02 49px,#00ff1c 55px,#00ff24 56px,#00ff85 61px,#00ff9c 62px,#00fcff 65px,#008aff 67px,#0020ff 70px,#0000f5 71px,#0000da 72px,#0000c0 74px,#00009d 75px,#000 76px,#000 180px)"></i><i style="left:417px;width:1px;background:linear-gradient(#ffe100 0,#ff0 18px,#8bff00 29px,#2aff00 39px,#00ff02 43px,#00ff32 56px,#0f9 62px,#00fffc 65px,#0086ff 67px,#00f 71px,#0000cb 74px,#00009c 75px,#000 76px,#000 180px)"></i><i style="left:418px;width:1px;background:linear-gradient(#ffec00 0,#fbff00 14px,#cdff00 19px,#86ff00 25px,#0dff00 40px,#00ff08 43px,#00ff38 56px,#00ff6a 60px,#00ff89 62px,#00fffe 67px,#0034ff 73px,#0017ff 74px,#0000ed 75px,#0000b2 77px,#00008d 84px,#000 85px,#000 180px)"></i><i style="left:419px;width:1px;background:linear-gradient(#ffe800 0,#fff900 13px,#fcff00 16px,#90ff00 24px,#1cff00 42px,#0f0 46px,#00ff2a 58px,#00ff91 66px,#00ffef 71px,#00f9ff 72px,#0034ff 80px,#00f 83px,#0000d3 88px,#000093 92px,#000 93px,#000 180px)"></i><i style="left:420px;width:1px;background:linear-gradient(#ffed00 0,#fff600 9px,#fbff00 13px,#93ff00 24px,#00ff02 50px,#00ff1d 58px,#00ff91 68px,#00fff9 75px,#006eff 84px,#0000fc 92px,#0000db 95px,#0000ba 143px,#000095 154px,#000 155px,#000 180px)"></i><i style="left:421px;width:1px;background:linear-gradient(#fdff00 0,#f4ff00 6px,#6cff00 22px,#00ff01 44px,#00ff30 58px,#00ffb1 70px,#00fffb 76px,#00f0ff 78px,#0072ff 89px,#002eff 96px,#0000fd 116px,#0000dc 143px,#0000a5 154px,#000090 155px,#000 156px,#000 180px)"></i><i style="left:422px;width:1px;background:linear-gradient(#f6ff00 0,#c9ff00 9px,#73ff00 19px,#0fff00 40px,#00ff04 46px,#00ff2d 58px,#00ffd2 74px,#00faff 85px,#0084ff 94px,#0068ff 96px,#0000fe 123px,#0000df 143px,#0000a8 154px,#000094 155px,#000 156px,#000 180px)"></i><i style="left:423px;width:1px;background:linear-gradient(#efff00 0,#6bff00 22px,#00ff01 48px,#00ff24 58px,#00ffd0 75px,#00f9ff 82px,#002bff 96px,#0000fc 112px,#0000e6 126px,#0000af 131px,#00009a 132px,#000 133px,#000 180px)"></i><i style="left:424px;width:1px;background:linear-gradient(#d2ff00 0,#7cff00 14px,#39ff00 29px,#00ff04 48px,#00ff29 58px,#00ffe2 76px,#00f9ff 80px,#003cff 93px,#0013ff 96px,#0000fc 109px,#0000eb 126px,#0000b3 131px,#00008a 133px,#000089 135px,#000 136px,#000 180px)"></i><i style="left:425px;width:1px;background:linear-gradient(#caff00 0,#74ff00 14px,#38ff00 27px,#16ff00 46px,#0f0 49px,#00ff27 58px,#00ffcb 73px,#00fdff 80px,#009bff 88px,#004cff 96px,#0031ff 129px,#01f 142px,#0000fe 143px,#0000b7 150px,#00008f 152px,#000 153px,#000 180px)"></i><i style="left:426px;width:1px;background:linear-gradient(#b8ff00 0,#59ff00 24px,#27ff00 46px,#00ff03 52px,#00ff1d 58px,#00ffc2 74px,#0ff 87px,#00c0ff 97px,#008fff 121px,#05f 136px,#0038ff 142px,#000bff 144px,#0000f9 145px,#0000c1 150px,#009 152px,#000 153px,#000 180px)"></i><i style="left:427px;width:1px;background:linear-gradient(#7eff00 0,#1f0 46px,#00ff03 49px,#00ff2a 58px,#00ffbc 73px,#0fc 77px,#00fdff 101px,#00c6ff 118px,#006dff 134px,#03f 142px,#0002ff 144px,#0000b5 150px,#00008d 152px,#000 153px,#000 180px)"></i><i style="left:428px;width:1px;background:linear-gradient(#56ff00 0,#0dff00 46px,#00ff05 49px,#00ff2c 58px,#00ffda 75px,#00fdff 82px,#07f 96px,#0021ff 125px,#0000fd 135px,#0000ef 142px,#0000a0 148px,#000 149px,#000 180px)"></i><i style="left:429px;width:1px;background:linear-gradient(#4cff00 0,#1bff00 46px,#00ff02 50px,#00ff24 58px,#00ffde 75px,#00f9ff 80px,#0078ff 90px,#002bff 97px,#00f 104px,#0000e2 112px,#00c 114px,#0000b4 142px,#000090 146px,#000 147px,#000 180px)"></i><i style="left:430px;width:1px;background:linear-gradient(#2cff00 0,#08ff00 46px,#00ff08 49px,#00ff2f 58px,#00fff0 75px,#00fdff 77px,#0061ff 88px,#0002ff 96px,#0000a6 109px,#000092 111px,#000 112px,#000 180px)"></i><i style="left:431px;width:1px;background:linear-gradient(#01ff00 0,#00ff0e 47px,#00ff3d 58px,#00fff7 74px,#00f7ff 76px,#0075ff 87px,#0006ff 94px,#0000d7 99px,#000094 106px,#000 107px,#000 180px)"></i><i style="left:432px;width:1px;background:linear-gradient(#00ff0d 0,#00ff12 47px,#00ff41 58px,#00fffb 74px,#00f6ff 76px,#00a4ff 86px,#0007ff 94px,#0000e3 97px,#000091 104px,#000 105px,#000 180px)"></i><i style="left:433px;width:1px;background:linear-gradient(#00ff06 0,#00ff0a 47px,#00ff39 58px,#0fe 74px,#00fbff 79px,#00c7ff 86px,#0002ff 96px,#0000a4 106px,#000092 107px,#000 108px,#000 180px)"></i><i style="left:434px;width:1px;background:linear-gradient(#30ff00 0,#30ff00 46px,#00ff03 53px,#00ff18 58px,#00ffbd 73px,#00ffcf 76px,#00fff1 86px,#00fffb 87px,#00cbff 90px,#05f 96px,#0000fe 103px,#0000bc 113px,#00009e 116px,#000 117px,#000 180px)"></i><i style="left:435px;width:1px;background:linear-gradient(#17ff00 0,#17ff00 46px,#0f0 49px,#00ff26 58px,#00ffda 74px,#00fffe 81px,#00cfff 86px,#001eff 97px,#0000fd 100px,#0000ae 113px,#000090 116px,#000 117px,#000 180px)"></i><i style="left:436px;width:1px;background:linear-gradient(#1bff00 0,#1bff00 46px,#00ff02 50px,#00ff24 58px,#00ffe3 75px,#00fffe 79px,#0014ff 97px,#00f 99px,#0000b0 113px,#000092 116px,#000 117px,#000 180px)"></i><i style="left:437px;width:1px;background:linear-gradient(#19ff00 0,#19ff00 46px,#00ff03 50px,#00ff25 58px,#00ffe7 75px,#00fffe 78px,#0073ff 88px,#000cff 97px,#0000f8 100px,#0000be 113px,#0000a7 116px,#000092 117px,#000 118px,#000 180px)"></i><i style="left:438px;width:1px;background:linear-gradient(#00ff02 0,#00ff06 47px,#00ff36 58px,#00fff7 75px,#0ff 76px,#0054ff 88px,#0001ff 95px,#0000b3 122px,#00008a 127px,#000 128px,#000 180px)"></i><i style="left:439px;width:1px;background:linear-gradient(#1f0 0,#1f0 46px,#00ff03 49px,#00ff2a 58px,#00ffeb 75px,#00feff 78px,#0001ff 97px,#0000b6 110px,#000095 112px,#00008a 120px,#000 121px,#000 180px)"></i><i style="left:440px;width:1px;background:linear-gradient(#00ff06 0,#00ff0a 47px,#00ff39 58px,#00fff3 74px,#0ff 76px,#007cff 87px,#0000fe 95px,#000092 108px,#000 109px,#000 180px)"></i><i style="left:441px;width:1px;background:linear-gradient(#00ff17 0,#00ff1c 47px,#00ff4b 58px,#00fff9 73px,#00a8ff 80px,#0023ff 90px,#0006ff 92px,#00d 97px,#00008a 107px,#000 108px,#000 180px)"></i><i style="left:442px;width:1px;background:linear-gradient(#00ff06 0,#00ff0b 47px,#00ff3a 58px,#00fffb 75px,#00ebff 77px,#0007ff 94px,#0000ed 97px,#000091 108px,#000 109px,#000 180px)"></i><i style="left:443px;width:1px;background:linear-gradient(#00ff0a 0,#00ff0e 47px,#00ff3d 58px,#0ff 75px,#0045ff 88px,#0000fe 94px,#00008e 108px,#000 109px,#000 180px)"></i><i style="left:444px;width:1px;background:linear-gradient(#0000fb 0,#0000f4 63px,#0000e7 96px,#000093 101px,#000 102px,#000 180px)"></i><i style="left:445px;width:1px;background:linear-gradient(#0019ff 0,#0013ff 53px,#0000fc 85px,#0000f7 96px,#000093 102px,#000 103px,#000 180px)"></i><i style="left:446px;width:1px;background:linear-gradient(#06ff00 0,#06ff00 36px,#00ff0e 41px,#00ff30 51px,#00ff92 62px,#00fffc 79px,#00d6ff 83px,#00a2ff 87px,#000dff 96px,#0000f5 97px,#0000a3 102px,#000 103px,#000 180px)"></i><i style="left:447px;width:1px;background:linear-gradient(#00ff1e 0,#00ff21 37px,#00ff51 51px,#00ffb6 63px,#00fdff 75px,#007bff 86px,#0005ff 92px,#0000d6 96px,#0000a2 99px,#000095 100px,#000 101px,#000 180px)"></i><i style="left:448px;width:1px;background:linear-gradient(#00ff24 0,#00ff28 37px,#00ff60 52px,#00ffb8 63px,#00fffc 74px,#0076ff 86px,#0003ff 91px,#0000c0 96px,#000094 98px,#00008a 99px,#000 100px,#000 180px)"></i><i style="left:449px;width:1px;background:linear-gradient(#00ff21 0,#00ff24 37px,#00ff5c 52px,#00ffb7 64px,#00faff 76px,#0084ff 86px,#0001ff 91px,#0000b4 96px,#00009b 97px,#000 98px,#000 180px)"></i><i style="left:450px;width:1px;background:linear-gradient(#00ff26 0,#00ff2a 37px,#00ff62 52px,#00ffc5 66px,#00fffd 75px,#0081ff 86px,#000bff 90px,#0000f5 91px,#00009f 96px,#000 97px,#000 180px)"></i><i style="left:451px;width:1px;background:linear-gradient(#00ff32 0,#00ff36 37px,#00ff6d 52px,#00ffec 71px,#0ff 74px,#0072ff 86px,#000fff 89px,#0000f6 90px,#000098 95px,#000 96px,#000 180px)"></i><i style="left:452px;width:1px;background:linear-gradient(#00ffa6 0,#00ffab 38px,#00ffd8 56px,#00fbff 65px,#0097ff 76px,#0032ff 86px,#0013ff 87px,#0000f9 88px,#009 94px,#000 95px,#000 180px)"></i><i style="left:453px;width:1px;background:linear-gradient(#00ffd9 0,#0fd 39px,#0ff 58px,#0098ff 73px,#0021ff 86px,#0003ff 87px,#000097 94px,#000 95px,#000 180px)"></i><i style="left:454px;width:1px;background:linear-gradient(#00ffd1 0,#00ffd6 39px,#00fffb 59px,#00edff 63px,#00a6ff 73px,#002fff 86px,#01f 87px,#0000f9 88px,#00008f 95px,#000 96px,#000 180px)"></i><i style="left:455px;width:1px;background:linear-gradient(#0059ff 0,#05f 38px,#0029ff 58px,#0000fe 68px,#0000c8 86px,#00008c 92px,#000 93px,#000 180px)"></i><i style="left:456px;width:11px;background:linear-gradient(#000 0,#000 180px)"></i><i style="left:467px;width:1px;background:linear-gradient(#000 0,#000 144px,#00e 145px,#001bff 146px,#0cf 149px,#00fffb 150px,#00ffe6 155px,#00ecff 156px,#0023ff 159px,#00e 160px,#000 161px,#000 180px)"></i><i style="left:468px;width:15px;background:linear-gradient(#000 0,#000 180px)"></i><i style="left:483px;width:1px;background:linear-gradient(#000 0,#000 111px,#0000e2 112px,#0000e2 120px,#000 121px,#000 180px)"></i><i style="left:484px;width:1px;background:linear-gradient(#0000de 0,#0000f2 16px,#0012ff 17px,#00e7ff 22px,#00fffd 26px,#00ffd8 36px,#00fbff 44px,#00e7ff 46px,#001aff 50px,#0000f2 51px,#0000d9 94px,#0000ac 110px,#000 111px,#000 180px)"></i><i style="left:485px;width:1px;background:linear-gradient(#0000f2 0,#0005ff 12px,#000fff 16px,#00e4ff 21px,#00fff7 22px,#00ffc3 36px,#00fff7 46px,#00dcff 47px,#000fff 51px,#0000fb 74px,#0000ed 94px,#0000c0 110px,#000089 111px,#000 112px,#000 180px)"></i><i style="left:486px;width:3px;background:linear-gradient(#000 0,#000 180px)"></i><i style="left:489px;width:1px;background:linear-gradient(#000 0,#000 64px,#0000e6 65px,#0000e6 100px,#000 101px,#000 180px)"></i><i style="left:490px;width:1px;background:linear-gradient(#000 0,#000 64px,#0000e3 65px,#0000e3 100px,#000 101px,#000 180px)"></i><i style="left:491px;width:1px;background:linear-gradient(#000 0,#000 80px,#00009c 81px,#00009c 101px,#000 102px,#000 180px)"></i><i style="left:492px;width:1px;background:linear-gradient(#000 0,#000 80px,#0000dc 81px,#0000dc 101px,#000 102px,#000 180px)"></i><i style="left:493px;width:11px;background:linear-gradient(#000 0,#000 180px)"></i><i style="left:504px;width:1px;background:linear-gradient(#000 0,#000 80px,#0000d5 81px,#0000d5 104px,#000 105px,#000 180px)"></i><i style="left:505px;width:1px;background:linear-gradient(#000 0,#000 80px,#0000c0 81px,#0000c0 104px,#000 105px,#000 180px)"></i><i style="left:506px;width:1px;background:linear-gradient(#000 0,#000 85px,#0000d5 86px,#0000d5 101px,#000 102px,#000 180px)"></i><i style="left:507px;width:1px;background:linear-gradient(#000 0,#000 180px)"></i><i style="left:508px;width:1px;background:linear-gradient(#000 0,#000 65px,#0000e7 66px,#0000fb 106px,#000 107px,#000 180px)"></i><i style="left:509px;width:1px;background:linear-gradient(#000 0,#000 65px,#0000d9 66px,#00e 106px,#000 107px,#000 180px)"></i><i style="left:510px;width:1px;background:linear-gradient(#000 0,#000 180px)"></i><i style="left:511px;width:1px;background:linear-gradient(#000 0,#000 80px,#0000ca 81px,#0000ca 104px,#000 105px,#000 180px)"></i><i style="left:512px;width:1px;background:linear-gradient(#000 0,#000 94px,#000089 95px,#00008c 104px,#000 105px,#000 180px)"></i><i style="left:513px;width:1px;background:linear-gradient(#000 0,#000 65px,#0000ca 66px,#0000df 104px,#000 105px,#000 180px)"></i><i style="left:514px;width:1px;background:linear-gradient(#000 0,#000 180px)"></i><i style="left:515px;width:1px;background:linear-gradient(#000 0,#000 85px,#0000bf 86px,#00a 132px,#000 133px,#000 180px)"></i><i style="left:516px;width:4px;background:linear-gradient(#000 0,#000 180px)"></i><i style="left:520px;width:1px;background:linear-gradient(#000 0,#000 83px,#0000ab 84px,#0000f2 85px,#0006ff 97px,#001fff 106px,#00f 110px,#0000e4 117px,#0000a4 119px,#000096 130px,#000 131px,#000 180px)"></i><i style="left:521px;width:1px;background:linear-gradient(#000 0,#000 83px,#000096 84px,#0000dc 85px,#0003ff 104px,#000bff 106px,#0000fc 109px,#0000be 130px,#000 131px,#000 180px)"></i><i style="left:522px;width:1px;background:linear-gradient(#000 0,#000 83px,#0000a2 84px,#0000e8 85px,#0004ff 98px,#02f 106px,#0000fc 113px,#0000ca 130px,#000093 131px,#000 132px,#000 180px)"></i><i style="left:523px;width:1px;background:linear-gradient(#000 0,#000 84px,#0000c6 85px,#0000e1 107px,#00b 117px,#00009e 118px,#000 119px,#000 180px)"></i><i style="left:524px;width:1px;background:linear-gradient(#000 0,#000 83px,#000092 84px,#0000d8 85px,#0000ed 106px,#0000ba 117px,#000 118px,#000 180px)"></i><i style="left:525px;width:1px;background:linear-gradient(#000 0,#000 83px,#00008d 84px,#0000d3 85px,#0000e7 106px,#0000b5 117px,#000 118px,#000 180px)"></i><i style="left:526px;width:1px;background:linear-gradient(#000 0,#000 3px,#0000e8 4px,#0000fc 106px,#0000b6 117px,#000 118px,#000 180px)"></i></div><b style="left:239px;top:164px;width:1px;height:51px;background:linear-gradient(#ff9a00,#ff6a00 50%,#ffb000);opacity:.85"></b><b style="left:53px;top:32px;width:532px;height:1px"></b><b style="left:50px;top:220px;width:535px;height:1px"></b><b style="left:56px;top:32px;width:1px;height:195px"></b><b style="left:584px;top:32px;width:1px;height:195px"></b><b style="left:78px;top:221px;width:1px;height:3px"></b><b style="left:100px;top:221px;width:1px;height:3px"></b><b style="left:122px;top:221px;width:1px;height:6px"></b><b style="left:144px;top:221px;width:1px;height:3px"></b><b style="left:166px;top:221px;width:1px;height:3px"></b><b style="left:188px;top:221px;width:1px;height:6px"></b><b style="left:210px;top:221px;width:1px;height:3px"></b><b style="left:232px;top:221px;width:1px;height:3px"></b><b style="left:254px;top:221px;width:1px;height:6px"></b><b style="left:276px;top:221px;width:1px;height:3px"></b><b style="left:298px;top:221px;width:1px;height:3px"></b><b style="left:320px;top:221px;width:1px;height:6px"></b><b style="left:342px;top:221px;width:1px;height:3px"></b><b style="left:364px;top:221px;width:1px;height:3px"></b><b style="left:386px;top:221px;width:1px;height:6px"></b><b style="left:408px;top:221px;width:1px;height:3px"></b><b style="left:430px;top:221px;width:1px;height:3px"></b><b style="left:452px;top:221px;width:1px;height:6px"></b><b style="left:474px;top:221px;width:1px;height:3px"></b><b style="left:496px;top:221px;width:1px;height:3px"></b><b style="left:518px;top:221px;width:1px;height:6px"></b><b style="left:540px;top:221px;width:1px;height:3px"></b><b style="left:562px;top:221px;width:1px;height:3px"></b><span class="t c" style="left:27px;top:229px">00:00</span><span class="t c" style="left:93px;top:229px">03:00</span><span class="t c" style="left:159px;top:229px">06:00</span><span class="t c" style="left:225px;top:229px">09:00</span><span class="t c" style="left:291px;top:229px">12:00</span><span class="t c" style="left:357px;top:229px">15:00</span><span class="t c" style="left:423px;top:229px">18:00</span><span class="t c" style="left:489px;top:229px">21:00</span><span class="t c" style="left:555px;top:229px">00:00</span><span class="t" style="left:45px;top:237px">2000-01-11</span><span class="t" style="left:573px;top:237px;width:45px;overflow:hidden">2000-01-12</span><b style="left:50px;top:220px;width:6px;height:1px"></b><span class="t r" style="left:17px;top:216px">10<sup>1</sup></span><b style="left:53px;top:203px;width:3px;height:1px"></b><b style="left:53px;top:193px;width:3px;height:1px"></b><b style="left:53px;top:186px;width:3px;height:1px"></b><b style="left:53px;top:180px;width:3px;height:1px"></b><b style="left:53px;top:176px;width:3px;height:1px"></b><b style="left:53px;top:172px;width:3px;height:1px"></b><b style="left:53px;top:169px;width:3px;height:1px"></b><b style="left:53px;top:166px;width:3px;height:1px"></b><b style="left:50px;top:163px;width:6px;height:1px"></b><span class="t r" style="left:17px;top:159px">10<sup>2</sup></span><b style="left:53px;top:146px;width:3px;height:1px"></b><b style="left:53px;top:136px;width:3px;height:1px"></b><b style="left:53px;top:129px;width:3px;height:1px"></b><b style="left:53px;top:123px;width:3px;height:1px"></b><b style="left:53px;top:119px;width:3px;height:1px"></b><b style="left:53px;top:115px;width:3px;height:1px"></b><b style="left:53px;top:112px;width:3px;height:1px"></b><b style="left:53px;top:109px;width:3px;height:1px"></b><b style="left:50px;top:106px;width:6px;height:1px"></b><span class="t r" style="left:17px;top:102px">10<sup>3</sup></span><b style="left:53px;top:89px;width:3px;height:1px"></b><b style="left:53px;top:79px;width:3px;height:1px"></b><b style="left:53px;top:72px;width:3px;height:1px"></b><b style="left:53px;top:66px;width:3px;height:1px"></b><b style="left:53px;top:62px;width:3px;height:1px"></b><b style="left:53px;top:58px;width:3px;height:1px"></b><b style="left:53px;top:55px;width:3px;height:1px"></b><b style="left:53px;top:52px;width:3px;height:1px"></b><b style="left:50px;top:49px;width:6px;height:1px"></b><span class="t r" style="left:17px;top:45px">10<sup>4</sup></span><div class="cb" style="left:592px;top:32px"></div><b style="left:600px;top:32px;width:1px;height:189px"></b><b style="left:592px;top:220px;width:9px;height:1px"></b><b style="left:601px;top:44px;width:6px;height:1px"></b><span class="t" style="left:610px;top:40px">10<sup>8</sup></span><b style="left:601px;top:91px;width:6px;height:1px"></b><span class="t" style="left:610px;top:87px">10<sup>7</sup></span><b style="left:601px;top:77px;width:3px;height:1px"></b><b style="left:601px;top:69px;width:3px;height:1px"></b><b style="left:601px;top:63px;width:3px;height:1px"></b><b style="left:601px;top:58px;width:3px;height:1px"></b><b style="left:601px;top:54px;width:3px;height:1px"></b><b style="left:601px;top:51px;width:3px;height:1px"></b><b style="left:601px;top:49px;width:3px;height:1px"></b><b style="left:601px;top:46px;width:3px;height:1px"></b><b style="left:601px;top:138px;width:6px;height:1px"></b><span class="t" style="left:610px;top:134px">10<sup>6</sup></span><b style="left:601px;top:124px;width:3px;height:1px"></b><b style="left:601px;top:116px;width:3px;height:1px"></b><b style="left:601px;top:110px;width:3px;height:1px"></b><b style="left:601px;top:105px;width:3px;height:1px"></b><b style="left:601px;top:101px;width:3px;height:1px"></b><b style="left:601px;top:98px;width:3px;height:1px"></b><b style="left:601px;top:96px;width:3px;height:1px"></b><b style="left:601px;top:93px;width:3px;height:1px"></b><b style="left:601px;top:185px;width:6px;height:1px"></b><span class="t" style="left:610px;top:181px">10<sup>5</sup></span><b style="left:601px;top:171px;width:3px;height:1px"></b><b style="left:601px;top:163px;width:3px;height:1px"></b><b style="left:601px;top:157px;width:3px;height:1px"></b><b style="left:601px;top:152px;width:3px;height:1px"></b><b style="left:601px;top:148px;width:3px;height:1px"></b><b style="left:601px;top:145px;width:3px;height:1px"></b><b style="left:601px;top:143px;width:3px;height:1px"></b><b style="left:601px;top:140px;width:3px;height:1px"></b><b style="left:601px;top:218px;width:3px;height:1px"></b><b style="left:601px;top:210px;width:3px;height:1px"></b><b style="left:601px;top:204px;width:3px;height:1px"></b><b style="left:601px;top:199px;width:3px;height:1px"></b><b style="left:601px;top:195px;width:3px;height:1px"></b><b style="left:601px;top:192px;width:3px;height:1px"></b><b style="left:601px;top:190px;width:3px;height:1px"></b><b style="left:601px;top:187px;width:3px;height:1px"></b><span class="t v" style="left:22px;top:126px;transform:translate(-50%,-50%) rotate(-90deg)">Electron Energy (eV)</span><span class="t v" style="left:634px;top:127px;transform:translate(-50%,-50%) rotate(90deg);letter-spacing:.15px">Electron Diff. Energy Flux (1/(cm^2-s-sr))</span><b style="left:53px;top:252px;width:532px;height:1px"></b><b style="left:50px;top:440px;width:535px;height:1px"></b><b style="left:56px;top:252px;width:1px;height:195px"></b><b style="left:584px;top:252px;width:1px;height:195px"></b><b style="left:78px;top:441px;width:1px;height:3px"></b><b style="left:100px;top:441px;width:1px;height:3px"></b><b style="left:122px;top:441px;width:1px;height:6px"></b><b style="left:144px;top:441px;width:1px;height:3px"></b><b style="left:166px;top:441px;width:1px;height:3px"></b><b style="left:188px;top:441px;width:1px;height:6px"></b><b style="left:210px;top:441px;width:1px;height:3px"></b><b style="left:232px;top:441px;width:1px;height:3px"></b><b style="left:254px;top:441px;width:1px;height:6px"></b><b style="left:276px;top:441px;width:1px;height:3px"></b><b style="left:298px;top:441px;width:1px;height:3px"></b><b style="left:320px;top:441px;width:1px;height:6px"></b><b style="left:342px;top:441px;width:1px;height:3px"></b><b style="left:364px;top:441px;width:1px;height:3px"></b><b style="left:386px;top:441px;width:1px;height:6px"></b><b style="left:408px;top:441px;width:1px;height:3px"></b><b style="left:430px;top:441px;width:1px;height:3px"></b><b style="left:452px;top:441px;width:1px;height:6px"></b><b style="left:474px;top:441px;width:1px;height:3px"></b><b style="left:496px;top:441px;width:1px;height:3px"></b><b style="left:518px;top:441px;width:1px;height:6px"></b><b style="left:540px;top:441px;width:1px;height:3px"></b><b style="left:562px;top:441px;width:1px;height:3px"></b><span class="t c" style="left:27px;top:449px">00:00</span><span class="t c" style="left:93px;top:449px">03:00</span><span class="t c" style="left:159px;top:449px">06:00</span><span class="t c" style="left:225px;top:449px">09:00</span><span class="t c" style="left:291px;top:449px">12:00</span><span class="t c" style="left:357px;top:449px">15:00</span><span class="t c" style="left:423px;top:449px">18:00</span><span class="t c" style="left:489px;top:449px">21:00</span><span class="t c" style="left:555px;top:449px">00:00</span><span class="t" style="left:45px;top:457px">2000-01-11</span><span class="t" style="left:573px;top:457px;width:45px;overflow:hidden">2000-01-12</span><b style="left:50px;top:440px;width:6px;height:1px"></b><span class="t r" style="left:17px;top:436px">10<sup>1</sup></span><b style="left:53px;top:423px;width:3px;height:1px"></b><b style="left:53px;top:413px;width:3px;height:1px"></b><b style="left:53px;top:406px;width:3px;height:1px"></b><b style="left:53px;top:400px;width:3px;height:1px"></b><b style="left:53px;top:396px;width:3px;height:1px"></b><b style="left:53px;top:392px;width:3px;height:1px"></b><b style="left:53px;top:389px;width:3px;height:1px"></b><b style="left:53px;top:386px;width:3px;height:1px"></b><b style="left:50px;top:383px;width:6px;height:1px"></b><span class="t r" style="left:17px;top:379px">10<sup>2</sup></span><b style="left:53px;top:366px;width:3px;height:1px"></b><b style="left:53px;top:356px;width:3px;height:1px"></b><b style="left:53px;top:349px;width:3px;height:1px"></b><b style="left:53px;top:343px;width:3px;height:1px"></b><b style="left:53px;top:339px;width:3px;height:1px"></b><b style="left:53px;top:335px;width:3px;height:1px"></b><b style="left:53px;top:332px;width:3px;height:1px"></b><b style="left:53px;top:329px;width:3px;height:1px"></b><b style="left:50px;top:326px;width:6px;height:1px"></b><span class="t r" style="left:17px;top:322px">10<sup>3</sup></span><b style="left:53px;top:309px;width:3px;height:1px"></b><b style="left:53px;top:299px;width:3px;height:1px"></b><b style="left:53px;top:292px;width:3px;height:1px"></b><b style="left:53px;top:286px;width:3px;height:1px"></b><b style="left:53px;top:282px;width:3px;height:1px"></b><b style="left:53px;top:278px;width:3px;height:1px"></b><b style="left:53px;top:275px;width:3px;height:1px"></b><b style="left:53px;top:272px;width:3px;height:1px"></b><b style="left:50px;top:269px;width:6px;height:1px"></b><span class="t r" style="left:17px;top:265px">10<sup>4</sup></span><div class="cb" style="left:592px;top:252px"></div><b style="left:600px;top:252px;width:1px;height:189px"></b><b style="left:592px;top:440px;width:9px;height:1px"></b><b style="left:601px;top:269px;width:6px;height:1px"></b><span class="t" style="left:610px;top:265px">10<sup>7</sup></span><b style="left:601px;top:331px;width:6px;height:1px"></b><span class="t" style="left:610px;top:327px">10<sup>6</sup></span><b style="left:601px;top:313px;width:3px;height:1px"></b><b style="left:601px;top:302px;width:3px;height:1px"></b><b style="left:601px;top:294px;width:3px;height:1px"></b><b style="left:601px;top:288px;width:3px;height:1px"></b><b style="left:601px;top:283px;width:3px;height:1px"></b><b style="left:601px;top:279px;width:3px;height:1px"></b><b style="left:601px;top:275px;width:3px;height:1px"></b><b style="left:601px;top:272px;width:3px;height:1px"></b><b style="left:601px;top:394px;width:6px;height:1px"></b><span class="t" style="left:610px;top:390px">10<sup>5</sup></span><b style="left:601px;top:375px;width:3px;height:1px"></b><b style="left:601px;top:364px;width:3px;height:1px"></b><b style="left:601px;top:356px;width:3px;height:1px"></b><b style="left:601px;top:350px;width:3px;height:1px"></b><b style="left:601px;top:345px;width:3px;height:1px"></b><b style="left:601px;top:341px;width:3px;height:1px"></b><b style="left:601px;top:337px;width:3px;height:1px"></b><b style="left:601px;top:334px;width:3px;height:1px"></b><b style="left:601px;top:437px;width:3px;height:1px"></b><b style="left:601px;top:426px;width:3px;height:1px"></b><b style="left:601px;top:419px;width:3px;height:1px"></b><b style="left:601px;top:413px;width:3px;height:1px"></b><b style="left:601px;top:408px;width:3px;height:1px"></b><b style="left:601px;top:403px;width:3px;height:1px"></b><b style="left:601px;top:400px;width:3px;height:1px"></b><b style="left:601px;top:397px;width:3px;height:1px"></b><span class="t v" style="left:22px;top:346px;transform:translate(-50%,-50%) rotate(-90deg)">Ion Energy (eV)</span><span class="t v" style="left:634px;top:347px;transform:translate(-50%,-50%) rotate(90deg);letter-spacing:.15px">Ion Diff. Energy Flux (1/(cm^2-s-sr))</span><span class="ti" style="top:17px">POLAR/HYD  Electron Differential Energy Flux</span><span class="ti" style="top:237px">POLAR/HYD  Ion Differential Energy Flux</span></body></html>
